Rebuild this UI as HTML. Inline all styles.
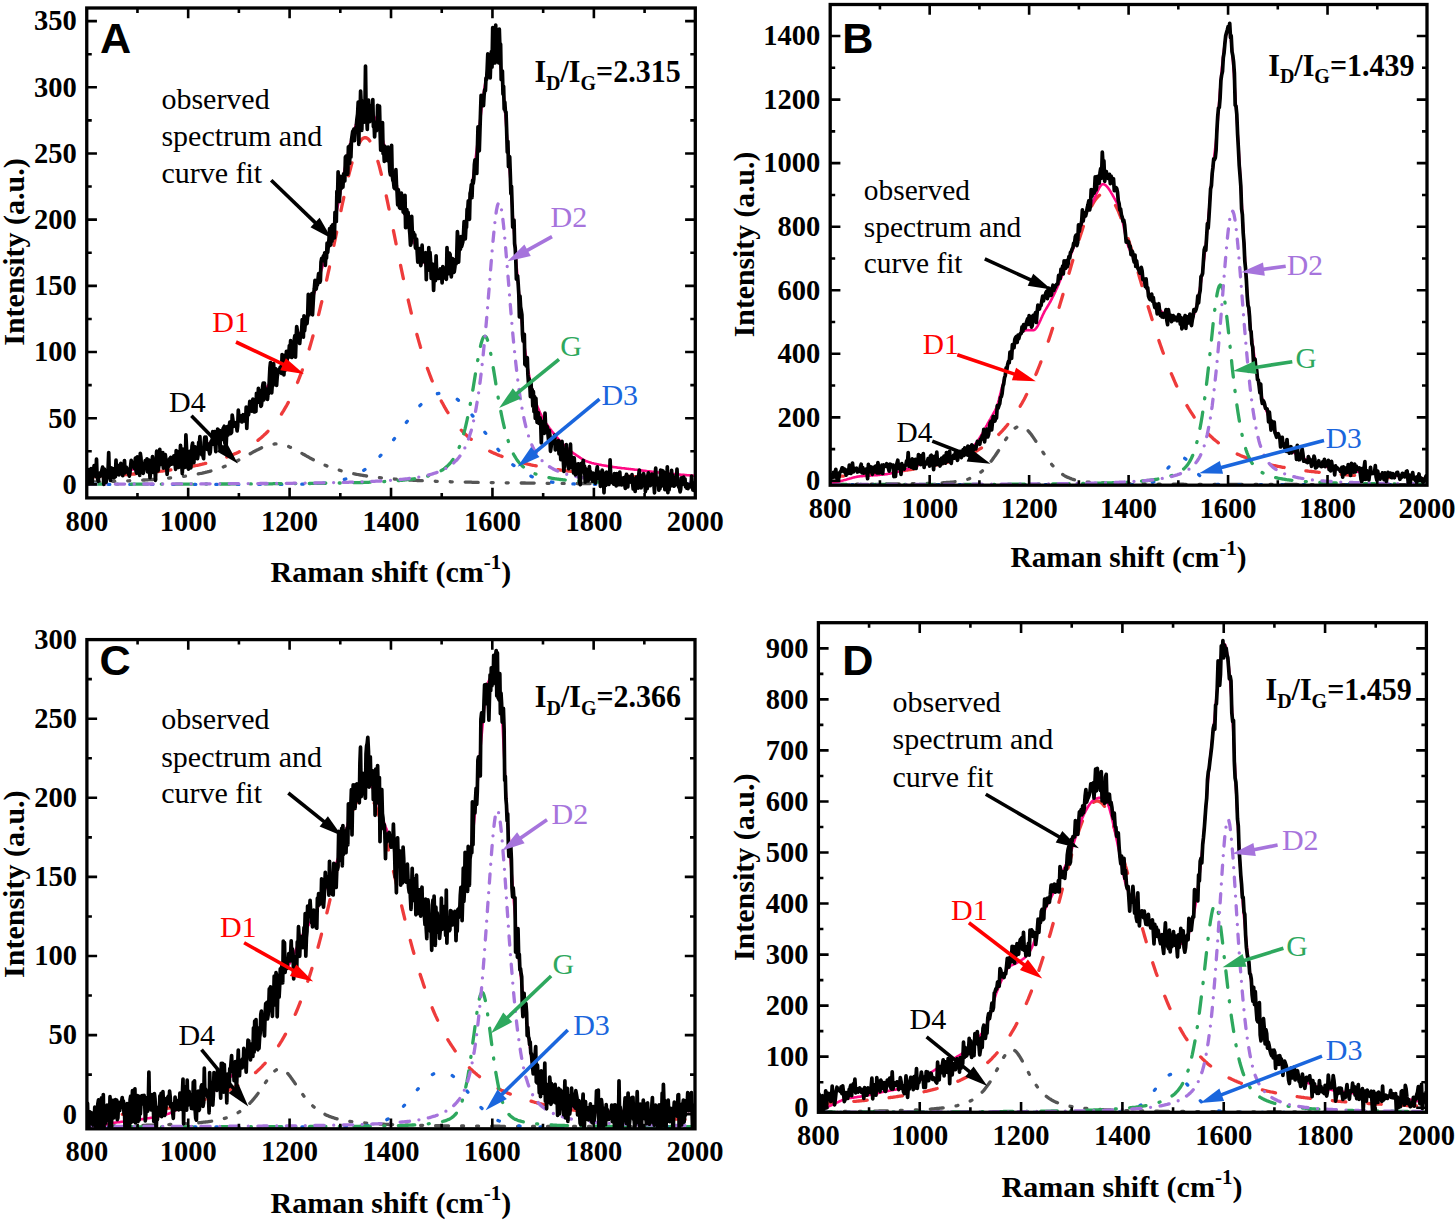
<!DOCTYPE html>
<html><head><meta charset="utf-8"><style>
html,body{margin:0;padding:0;background:#fff;}
svg{display:block;}
.tl text{font-family:"Liberation Serif",serif;font-weight:bold;font-size:28.5px;}
.ttl{font-family:"Liberation Serif",serif;font-weight:bold;font-size:30px;}
.sup{font-size:21px;}
.rat{font-family:"Liberation Serif",serif;font-weight:bold;font-size:30px;}
.sub{font-size:20px;}
.ann{font-family:"Liberation Serif",serif;font-size:30px;}
.let{font-family:"Liberation Sans",sans-serif;font-weight:bold;font-size:43.2px;}
</style></head><body>
<svg width="1456" height="1222" viewBox="0 0 1456 1222">
<rect width="1456" height="1222" fill="#fff"/>
<clipPath id="clipA"><rect x="86.75" y="8.00" width="608.55" height="489.90"/></clipPath>
<g clip-path="url(#clipA)" fill="none" stroke-linejoin="round">
<polyline points="86.8,482.1 87.8,482.1 88.8,482.1 89.8,482.1 90.8,482.0 91.8,482.0 92.8,482.0 93.8,482.0 94.9,481.9 95.9,481.9 96.9,481.9 97.9,481.9 98.9,481.8 99.9,481.8 100.9,481.8 102.0,481.8 103.0,481.7 104.0,481.7 105.0,481.7 106.0,481.6 107.0,481.6 108.0,481.6 109.1,481.5 110.1,481.5 111.1,481.5 112.1,481.4 113.1,481.4 114.1,481.4 115.1,481.3 116.2,481.3 117.2,481.3 118.2,481.2 119.2,481.2 120.2,481.1 121.2,481.1 122.2,481.1 123.3,481.0 124.3,481.0 125.3,480.9 126.3,480.9 127.3,480.9 128.3,480.8 129.3,480.8 130.4,480.7 131.4,480.7 132.4,480.6 133.4,480.6 134.4,480.5 135.4,480.5 136.4,480.4 137.5,480.4 138.5,480.3 139.5,480.3 140.5,480.2 141.5,480.2 142.5,480.1 143.5,480.0 144.6,480.0 145.6,479.9 146.6,479.9 147.6,479.8 148.6,479.7 149.6,479.7 150.6,479.6 151.7,479.5 152.7,479.5 153.7,479.4 154.7,479.3 155.7,479.2 156.7,479.2 157.7,479.1 158.8,479.0 159.8,478.9 160.8,478.8 161.8,478.7 162.8,478.7 163.8,478.6 164.8,478.5 165.9,478.4 166.9,478.3 167.9,478.2 168.9,478.1 169.9,478.0 170.9,477.9 171.9,477.8 173.0,477.7 174.0,477.6 175.0,477.5 176.0,477.3 177.0,477.2 178.0,477.1 179.0,477.0 180.1,476.8 181.1,476.7 182.1,476.6 183.1,476.4 184.1,476.3 185.1,476.2 186.1,476.0 187.2,475.9 188.2,475.7 189.2,475.5 190.2,475.4 191.2,475.2 192.2,475.0 193.2,474.9 194.3,474.7 195.3,474.5 196.3,474.3 197.3,474.1 198.3,473.9 199.3,473.7 200.3,473.5 201.4,473.3 202.4,473.1 203.4,472.8 204.4,472.6 205.4,472.4 206.4,472.1 207.4,471.9 208.5,471.6 209.5,471.4 210.5,471.1 211.5,470.8 212.5,470.5 213.5,470.2 214.5,469.9 215.6,469.6 216.6,469.3 217.6,469.0 218.6,468.6 219.6,468.3 220.6,467.9 221.6,467.6 222.7,467.2 223.7,466.8 224.7,466.4 225.7,466.1 226.7,465.6 227.7,465.2 228.7,464.8 229.8,464.4 230.8,463.9 231.8,463.5 232.8,463.0 233.8,462.5 234.8,462.0 235.8,461.6 236.9,461.0 237.9,460.5 238.9,460.0 239.9,459.5 240.9,459.0 241.9,458.4 242.9,457.9 244.0,457.3 245.0,456.7 246.0,456.2 247.0,455.6 248.0,455.0 249.0,454.4 250.0,453.9 251.1,453.3 252.1,452.7 253.1,452.1 254.1,451.6 255.1,451.0 256.1,450.5 257.1,449.9 258.2,449.4 259.2,448.9 260.2,448.4 261.2,447.9 262.2,447.4 263.2,447.0 264.2,446.5 265.3,446.1 266.3,445.8 267.3,445.4 268.3,445.1 269.3,444.8 270.3,444.6 271.3,444.4 272.4,444.2 273.4,444.1 274.4,444.0 275.4,443.9 276.4,443.9 277.4,443.9 278.4,444.0 279.5,444.1 280.5,444.2 281.5,444.4 282.5,444.6 283.5,444.8 284.5,445.1 285.5,445.4 286.6,445.8 287.6,446.1 288.6,446.5 289.6,447.0 290.6,447.4 291.6,447.9 292.6,448.4 293.7,448.9 294.7,449.4 295.7,449.9 296.7,450.5 297.7,451.0 298.7,451.6 299.7,452.1 300.8,452.7 301.8,453.3 302.8,453.9 303.8,454.4 304.8,455.0 305.8,455.6 306.8,456.2 307.9,456.7 308.9,457.3 309.9,457.9 310.9,458.4 311.9,459.0 312.9,459.5 313.9,460.0 315.0,460.5 316.0,461.0 317.0,461.6 318.0,462.0 319.0,462.5 320.0,463.0 321.0,463.5 322.1,463.9 323.1,464.4 324.1,464.8 325.1,465.2 326.1,465.6 327.1,466.1 328.1,466.4 329.2,466.8 330.2,467.2 331.2,467.6 332.2,467.9 333.2,468.3 334.2,468.6 335.2,469.0 336.3,469.3 337.3,469.6 338.3,469.9 339.3,470.2 340.3,470.5 341.3,470.8 342.3,471.1 343.4,471.4 344.4,471.6 345.4,471.9 346.4,472.1 347.4,472.4 348.4,472.6 349.4,472.8 350.5,473.1 351.5,473.3 352.5,473.5 353.5,473.7 354.5,473.9 355.5,474.1 356.5,474.3 357.6,474.5 358.6,474.7 359.6,474.9 360.6,475.0 361.6,475.2 362.6,475.4 363.6,475.5 364.7,475.7 365.7,475.9 366.7,476.0 367.7,476.2 368.7,476.3 369.7,476.4 370.7,476.6 371.8,476.7 372.8,476.8 373.8,477.0 374.8,477.1 375.8,477.2 376.8,477.3 377.8,477.5 378.9,477.6 379.9,477.7 380.9,477.8 381.9,477.9 382.9,478.0 383.9,478.1 384.9,478.2 386.0,478.3 387.0,478.4 388.0,478.5 389.0,478.6 390.0,478.7 391.0,478.7 392.0,478.8 393.1,478.9 394.1,479.0 395.1,479.1 396.1,479.2 397.1,479.2 398.1,479.3 399.1,479.4 400.2,479.5 401.2,479.5 402.2,479.6 403.2,479.7 404.2,479.7 405.2,479.8 406.2,479.9 407.3,479.9 408.3,480.0 409.3,480.0 410.3,480.1 411.3,480.2 412.3,480.2 413.3,480.3 414.4,480.3 415.4,480.4 416.4,480.4 417.4,480.5 418.4,480.5 419.4,480.6 420.4,480.6 421.5,480.7 422.5,480.7 423.5,480.8 424.5,480.8 425.5,480.9 426.5,480.9 427.5,480.9 428.6,481.0 429.6,481.0 430.6,481.1 431.6,481.1 432.6,481.1 433.6,481.2 434.6,481.2 435.7,481.3 436.7,481.3 437.7,481.3 438.7,481.4 439.7,481.4 440.7,481.4 441.7,481.5 442.8,481.5 443.8,481.5 444.8,481.6 445.8,481.6 446.8,481.6 447.8,481.7 448.8,481.7 449.9,481.7 450.9,481.8 451.9,481.8 452.9,481.8 453.9,481.8 454.9,481.9 455.9,481.9 457.0,481.9 458.0,481.9 459.0,482.0 460.0,482.0 461.0,482.0 462.0,482.0 463.0,482.1 464.1,482.1 465.1,482.1 466.1,482.1 467.1,482.2 468.1,482.2 469.1,482.2 470.1,482.2 471.2,482.2 472.2,482.3 473.2,482.3 474.2,482.3 475.2,482.3 476.2,482.3 477.2,482.4 478.3,482.4 479.3,482.4 480.3,482.4 481.3,482.4 482.3,482.5 483.3,482.5 484.3,482.5 485.4,482.5 486.4,482.5 487.4,482.6 488.4,482.6 489.4,482.6 490.4,482.6 491.4,482.6 492.4,482.6 493.5,482.6 494.5,482.7 495.5,482.7 496.5,482.7 497.5,482.7 498.5,482.7 499.5,482.7 500.6,482.8 501.6,482.8 502.6,482.8 503.6,482.8 504.6,482.8 505.6,482.8 506.6,482.8 507.7,482.8 508.7,482.9 509.7,482.9 510.7,482.9 511.7,482.9 512.7,482.9 513.7,482.9 514.8,482.9 515.8,482.9 516.8,483.0 517.8,483.0 518.8,483.0 519.8,483.0 520.8,483.0 521.9,483.0 522.9,483.0 523.9,483.0 524.9,483.0 525.9,483.1 526.9,483.1 527.9,483.1 529.0,483.1 530.0,483.1 531.0,483.1 532.0,483.1 533.0,483.1 534.0,483.1 535.0,483.2 536.1,483.2 537.1,483.2 538.1,483.2 539.1,483.2 540.1,483.2 541.1,483.2 542.1,483.2 543.2,483.2 544.2,483.2 545.2,483.2 546.2,483.2 547.2,483.3 548.2,483.3 549.2,483.3 550.3,483.3 551.3,483.3 552.3,483.3 553.3,483.3 554.3,483.3 555.3,483.3 556.3,483.3 557.4,483.3 558.4,483.3 559.4,483.4 560.4,483.4 561.4,483.4 562.4,483.4 563.4,483.4 564.5,483.4 565.5,483.4 566.5,483.4 567.5,483.4 568.5,483.4 569.5,483.4 570.5,483.4 571.6,483.4 572.6,483.4 573.6,483.4 574.6,483.5 575.6,483.5 576.6,483.5 577.6,483.5 578.7,483.5 579.7,483.5 580.7,483.5 581.7,483.5 582.7,483.5 583.7,483.5 584.7,483.5 585.8,483.5 586.8,483.5 587.8,483.5 588.8,483.5 589.8,483.5 590.8,483.5 591.8,483.6 592.9,483.6 593.9,483.6 594.9,483.6 595.9,483.6 596.9,483.6 597.9,483.6 598.9,483.6 600.0,483.6 601.0,483.6 602.0,483.6 603.0,483.6 604.0,483.6 605.0,483.6 606.0,483.6 607.1,483.6 608.1,483.6 609.1,483.6 610.1,483.6 611.1,483.6 612.1,483.6 613.1,483.7 614.2,483.7 615.2,483.7 616.2,483.7 617.2,483.7 618.2,483.7 619.2,483.7 620.2,483.7 621.3,483.7 622.3,483.7 623.3,483.7 624.3,483.7 625.3,483.7 626.3,483.7 627.3,483.7 628.4,483.7 629.4,483.7 630.4,483.7 631.4,483.7 632.4,483.7 633.4,483.7 634.4,483.7 635.5,483.7 636.5,483.7 637.5,483.7 638.5,483.8 639.5,483.8 640.5,483.8 641.5,483.8 642.6,483.8 643.6,483.8 644.6,483.8 645.6,483.8 646.6,483.8 647.6,483.8 648.6,483.8 649.7,483.8 650.7,483.8 651.7,483.8 652.7,483.8 653.7,483.8 654.7,483.8 655.7,483.8 656.8,483.8 657.8,483.8 658.8,483.8 659.8,483.8 660.8,483.8 661.8,483.8 662.8,483.8 663.9,483.8 664.9,483.8 665.9,483.8 666.9,483.8 667.9,483.8 668.9,483.8 669.9,483.9 671.0,483.9 672.0,483.9 673.0,483.9 674.0,483.9 675.0,483.9 676.0,483.9 677.0,483.9 678.1,483.9 679.1,483.9 680.1,483.9 681.1,483.9 682.1,483.9 683.1,483.9 684.1,483.9 685.2,483.9 686.2,483.9 687.2,483.9 688.2,483.9 689.2,483.9 690.2,483.9 691.2,483.9 692.3,483.9 693.3,483.9 694.3,483.9 695.3,483.9" stroke="#555555" stroke-width="3.3" stroke-dasharray="13 13 2 13 2 13" stroke-linecap="round"/>
<polyline points="86.8,484.4 87.8,484.4 88.8,484.4 89.8,484.4 90.8,484.4 91.8,484.4 92.8,484.4 93.8,484.4 94.9,484.4 95.9,484.4 96.9,484.4 97.9,484.4 98.9,484.4 99.9,484.4 100.9,484.4 102.0,484.4 103.0,484.4 104.0,484.4 105.0,484.4 106.0,484.4 107.0,484.4 108.0,484.4 109.1,484.4 110.1,484.4 111.1,484.4 112.1,484.4 113.1,484.4 114.1,484.4 115.1,484.4 116.2,484.4 117.2,484.4 118.2,484.4 119.2,484.4 120.2,484.4 121.2,484.4 122.2,484.4 123.3,484.4 124.3,484.4 125.3,484.4 126.3,484.4 127.3,484.4 128.3,484.4 129.3,484.4 130.4,484.4 131.4,484.4 132.4,484.4 133.4,484.4 134.4,484.4 135.4,484.4 136.4,484.4 137.5,484.4 138.5,484.4 139.5,484.4 140.5,484.4 141.5,484.4 142.5,484.4 143.5,484.4 144.6,484.4 145.6,484.4 146.6,484.4 147.6,484.4 148.6,484.4 149.6,484.4 150.6,484.4 151.7,484.4 152.7,484.4 153.7,484.4 154.7,484.4 155.7,484.4 156.7,484.4 157.7,484.4 158.8,484.4 159.8,484.4 160.8,484.4 161.8,484.4 162.8,484.4 163.8,484.4 164.8,484.4 165.9,484.4 166.9,484.4 167.9,484.4 168.9,484.4 169.9,484.4 170.9,484.4 171.9,484.4 173.0,484.4 174.0,484.4 175.0,484.4 176.0,484.4 177.0,484.4 178.0,484.4 179.0,484.4 180.1,484.4 181.1,484.4 182.1,484.4 183.1,484.4 184.1,484.4 185.1,484.4 186.1,484.4 187.2,484.4 188.2,484.4 189.2,484.4 190.2,484.4 191.2,484.4 192.2,484.4 193.2,484.4 194.3,484.4 195.3,484.4 196.3,484.4 197.3,484.4 198.3,484.4 199.3,484.4 200.3,484.4 201.4,484.4 202.4,484.4 203.4,484.4 204.4,484.4 205.4,484.4 206.4,484.4 207.4,484.4 208.5,484.4 209.5,484.4 210.5,484.4 211.5,484.4 212.5,484.4 213.5,484.4 214.5,484.4 215.6,484.4 216.6,484.4 217.6,484.4 218.6,484.4 219.6,484.4 220.6,484.4 221.6,484.4 222.7,484.4 223.7,484.4 224.7,484.4 225.7,484.4 226.7,484.4 227.7,484.4 228.7,484.4 229.8,484.4 230.8,484.4 231.8,484.4 232.8,484.4 233.8,484.4 234.8,484.4 235.8,484.4 236.9,484.4 237.9,484.4 238.9,484.4 239.9,484.4 240.9,484.4 241.9,484.4 242.9,484.4 244.0,484.4 245.0,484.4 246.0,484.4 247.0,484.4 248.0,484.4 249.0,484.4 250.0,484.4 251.1,484.4 252.1,484.4 253.1,484.4 254.1,484.4 255.1,484.4 256.1,484.4 257.1,484.4 258.2,484.4 259.2,484.4 260.2,484.4 261.2,484.4 262.2,484.4 263.2,484.4 264.2,484.4 265.3,484.4 266.3,484.4 267.3,484.4 268.3,484.4 269.3,484.4 270.3,484.4 271.3,484.4 272.4,484.4 273.4,484.4 274.4,484.4 275.4,484.4 276.4,484.4 277.4,484.4 278.4,484.4 279.5,484.4 280.5,484.4 281.5,484.4 282.5,484.4 283.5,484.4 284.5,484.4 285.5,484.3 286.6,484.3 287.6,484.3 288.6,484.3 289.6,484.3 290.6,484.3 291.6,484.3 292.6,484.3 293.7,484.3 294.7,484.3 295.7,484.3 296.7,484.3 297.7,484.2 298.7,484.2 299.7,484.2 300.8,484.2 301.8,484.2 302.8,484.2 303.8,484.1 304.8,484.1 305.8,484.1 306.8,484.1 307.9,484.0 308.9,484.0 309.9,484.0 310.9,483.9 311.9,483.9 312.9,483.8 313.9,483.8 315.0,483.7 316.0,483.7 317.0,483.6 318.0,483.6 319.0,483.5 320.0,483.4 321.0,483.3 322.1,483.3 323.1,483.2 324.1,483.1 325.1,483.0 326.1,482.9 327.1,482.8 328.1,482.6 329.2,482.5 330.2,482.4 331.2,482.2 332.2,482.1 333.2,481.9 334.2,481.8 335.2,481.6 336.3,481.4 337.3,481.2 338.3,481.0 339.3,480.7 340.3,480.5 341.3,480.2 342.3,480.0 343.4,479.7 344.4,479.4 345.4,479.1 346.4,478.8 347.4,478.4 348.4,478.1 349.4,477.7 350.5,477.3 351.5,476.9 352.5,476.5 353.5,476.0 354.5,475.6 355.5,475.1 356.5,474.6 357.6,474.0 358.6,473.5 359.6,472.9 360.6,472.3 361.6,471.7 362.6,471.0 363.6,470.4 364.7,469.7 365.7,468.9 366.7,468.2 367.7,467.4 368.7,466.6 369.7,465.8 370.7,465.0 371.8,464.1 372.8,463.2 373.8,462.3 374.8,461.4 375.8,460.4 376.8,459.4 377.8,458.4 378.9,457.3 379.9,456.3 380.9,455.2 381.9,454.0 382.9,452.9 383.9,451.7 384.9,450.6 386.0,449.4 387.0,448.1 388.0,446.9 389.0,445.6 390.0,444.3 391.0,443.0 392.0,441.7 393.1,440.4 394.1,439.1 395.1,437.7 396.1,436.4 397.1,435.0 398.1,433.6 399.1,432.2 400.2,430.9 401.2,429.5 402.2,428.1 403.2,426.7 404.2,425.3 405.2,423.9 406.2,422.6 407.3,421.2 408.3,419.8 409.3,418.5 410.3,417.2 411.3,415.9 412.3,414.6 413.3,413.3 414.4,412.0 415.4,410.8 416.4,409.6 417.4,408.5 418.4,407.3 419.4,406.2 420.4,405.1 421.5,404.1 422.5,403.1 423.5,402.1 424.5,401.2 425.5,400.3 426.5,399.5 427.5,398.7 428.6,398.0 429.6,397.3 430.6,396.6 431.6,396.0 432.6,395.5 433.6,395.0 434.6,394.6 435.7,394.2 436.7,393.9 437.7,393.6 438.7,393.4 439.7,393.2 440.7,393.1 441.7,393.1 442.8,393.1 443.8,393.2 444.8,393.3 445.8,393.5 446.8,393.7 447.8,394.0 448.8,394.4 449.9,394.8 450.9,395.2 451.9,395.7 452.9,396.3 453.9,396.9 454.9,397.6 455.9,398.3 457.0,399.1 458.0,399.9 459.0,400.8 460.0,401.7 461.0,402.6 462.0,403.6 463.0,404.6 464.1,405.7 465.1,406.8 466.1,407.9 467.1,409.0 468.1,410.2 469.1,411.4 470.1,412.7 471.2,413.9 472.2,415.2 473.2,416.5 474.2,417.8 475.2,419.2 476.2,420.5 477.2,421.9 478.3,423.2 479.3,424.6 480.3,426.0 481.3,427.4 482.3,428.8 483.3,430.2 484.3,431.5 485.4,432.9 486.4,434.3 487.4,435.7 488.4,437.0 489.4,438.4 490.4,439.7 491.4,441.1 492.4,442.4 493.5,443.7 494.5,445.0 495.5,446.3 496.5,447.5 497.5,448.7 498.5,450.0 499.5,451.2 500.6,452.3 501.6,453.5 502.6,454.6 503.6,455.7 504.6,456.8 505.6,457.9 506.6,458.9 507.7,459.9 508.7,460.9 509.7,461.8 510.7,462.8 511.7,463.7 512.7,464.6 513.7,465.4 514.8,466.2 515.8,467.0 516.8,467.8 517.8,468.6 518.8,469.3 519.8,470.0 520.8,470.7 521.9,471.4 522.9,472.0 523.9,472.6 524.9,473.2 525.9,473.7 526.9,474.3 527.9,474.8 529.0,475.3 530.0,475.8 531.0,476.2 532.0,476.7 533.0,477.1 534.0,477.5 535.0,477.9 536.1,478.3 537.1,478.6 538.1,478.9 539.1,479.3 540.1,479.6 541.1,479.8 542.1,480.1 543.2,480.4 544.2,480.6 545.2,480.9 546.2,481.1 547.2,481.3 548.2,481.5 549.2,481.7 550.3,481.8 551.3,482.0 552.3,482.2 553.3,482.3 554.3,482.5 555.3,482.6 556.3,482.7 557.4,482.8 558.4,482.9 559.4,483.0 560.4,483.1 561.4,483.2 562.4,483.3 563.4,483.4 564.5,483.5 565.5,483.5 566.5,483.6 567.5,483.7 568.5,483.7 569.5,483.8 570.5,483.8 571.6,483.9 572.6,483.9 573.6,483.9 574.6,484.0 575.6,484.0 576.6,484.0 577.6,484.1 578.7,484.1 579.7,484.1 580.7,484.1 581.7,484.2 582.7,484.2 583.7,484.2 584.7,484.2 585.8,484.2 586.8,484.2 587.8,484.3 588.8,484.3 589.8,484.3 590.8,484.3 591.8,484.3 592.9,484.3 593.9,484.3 594.9,484.3 595.9,484.3 596.9,484.3 597.9,484.3 598.9,484.4 600.0,484.4 601.0,484.4 602.0,484.4 603.0,484.4 604.0,484.4 605.0,484.4 606.0,484.4 607.1,484.4 608.1,484.4 609.1,484.4 610.1,484.4 611.1,484.4 612.1,484.4 613.1,484.4 614.2,484.4 615.2,484.4 616.2,484.4 617.2,484.4 618.2,484.4 619.2,484.4 620.2,484.4 621.3,484.4 622.3,484.4 623.3,484.4 624.3,484.4 625.3,484.4 626.3,484.4 627.3,484.4 628.4,484.4 629.4,484.4 630.4,484.4 631.4,484.4 632.4,484.4 633.4,484.4 634.4,484.4 635.5,484.4 636.5,484.4 637.5,484.4 638.5,484.4 639.5,484.4 640.5,484.4 641.5,484.4 642.6,484.4 643.6,484.4 644.6,484.4 645.6,484.4 646.6,484.4 647.6,484.4 648.6,484.4 649.7,484.4 650.7,484.4 651.7,484.4 652.7,484.4 653.7,484.4 654.7,484.4 655.7,484.4 656.8,484.4 657.8,484.4 658.8,484.4 659.8,484.4 660.8,484.4 661.8,484.4 662.8,484.4 663.9,484.4 664.9,484.4 665.9,484.4 666.9,484.4 667.9,484.4 668.9,484.4 669.9,484.4 671.0,484.4 672.0,484.4 673.0,484.4 674.0,484.4 675.0,484.4 676.0,484.4 677.0,484.4 678.1,484.4 679.1,484.4 680.1,484.4 681.1,484.4 682.1,484.4 683.1,484.4 684.1,484.4 685.2,484.4 686.2,484.4 687.2,484.4 688.2,484.4 689.2,484.4 690.2,484.4 691.2,484.4 692.3,484.4 693.3,484.4 694.3,484.4 695.3,484.4" stroke="#1A66DD" stroke-width="3.3" stroke-dasharray="1.5 20" stroke-linecap="round"/>
<polyline points="86.8,477.1 87.8,477.1 88.8,477.0 89.8,477.0 90.8,476.9 91.8,476.9 92.8,476.8 93.8,476.8 94.9,476.7 95.9,476.7 96.9,476.6 97.9,476.5 98.9,476.5 99.9,476.4 100.9,476.4 102.0,476.3 103.0,476.2 104.0,476.2 105.0,476.1 106.0,476.1 107.0,476.0 108.0,475.9 109.1,475.9 110.1,475.8 111.1,475.7 112.1,475.7 113.1,475.6 114.1,475.5 115.1,475.5 116.2,475.4 117.2,475.3 118.2,475.2 119.2,475.2 120.2,475.1 121.2,475.0 122.2,474.9 123.3,474.9 124.3,474.8 125.3,474.7 126.3,474.6 127.3,474.5 128.3,474.5 129.3,474.4 130.4,474.3 131.4,474.2 132.4,474.1 133.4,474.0 134.4,474.0 135.4,473.9 136.4,473.8 137.5,473.7 138.5,473.6 139.5,473.5 140.5,473.4 141.5,473.3 142.5,473.2 143.5,473.1 144.6,473.0 145.6,472.9 146.6,472.8 147.6,472.7 148.6,472.6 149.6,472.5 150.6,472.4 151.7,472.3 152.7,472.2 153.7,472.1 154.7,471.9 155.7,471.8 156.7,471.7 157.7,471.6 158.8,471.5 159.8,471.3 160.8,471.2 161.8,471.1 162.8,471.0 163.8,470.8 164.8,470.7 165.9,470.6 166.9,470.4 167.9,470.3 168.9,470.2 169.9,470.0 170.9,469.9 171.9,469.7 173.0,469.6 174.0,469.4 175.0,469.3 176.0,469.1 177.0,469.0 178.0,468.8 179.0,468.7 180.1,468.5 181.1,468.3 182.1,468.2 183.1,468.0 184.1,467.8 185.1,467.6 186.1,467.5 187.2,467.3 188.2,467.1 189.2,466.9 190.2,466.7 191.2,466.5 192.2,466.3 193.2,466.1 194.3,465.9 195.3,465.7 196.3,465.5 197.3,465.3 198.3,465.1 199.3,464.9 200.3,464.6 201.4,464.4 202.4,464.2 203.4,463.9 204.4,463.7 205.4,463.4 206.4,463.2 207.4,462.9 208.5,462.7 209.5,462.4 210.5,462.2 211.5,461.9 212.5,461.6 213.5,461.3 214.5,461.0 215.6,460.7 216.6,460.4 217.6,460.1 218.6,459.8 219.6,459.5 220.6,459.2 221.6,458.8 222.7,458.5 223.7,458.2 224.7,457.8 225.7,457.5 226.7,457.1 227.7,456.7 228.7,456.3 229.8,455.9 230.8,455.5 231.8,455.1 232.8,454.7 233.8,454.3 234.8,453.8 235.8,453.4 236.9,452.9 237.9,452.5 238.9,452.0 239.9,451.5 240.9,451.0 241.9,450.5 242.9,450.0 244.0,449.4 245.0,448.9 246.0,448.3 247.0,447.7 248.0,447.1 249.0,446.5 250.0,445.9 251.1,445.2 252.1,444.6 253.1,443.9 254.1,443.2 255.1,442.4 256.1,441.7 257.1,440.9 258.2,440.2 259.2,439.3 260.2,438.5 261.2,437.7 262.2,436.8 263.2,435.9 264.2,434.9 265.3,434.0 266.3,433.0 267.3,432.0 268.3,430.9 269.3,429.9 270.3,428.7 271.3,427.6 272.4,426.4 273.4,425.2 274.4,423.9 275.4,422.7 276.4,421.3 277.4,419.9 278.4,418.5 279.5,417.1 280.5,415.6 281.5,414.0 282.5,412.4 283.5,410.8 284.5,409.1 285.5,407.4 286.6,405.6 287.6,403.7 288.6,401.8 289.6,399.9 290.6,397.8 291.6,395.8 292.6,393.6 293.7,391.4 294.7,389.2 295.7,386.8 296.7,384.4 297.7,382.0 298.7,379.5 299.7,376.9 300.8,374.2 301.8,371.5 302.8,368.6 303.8,365.8 304.8,362.8 305.8,359.8 306.8,356.6 307.9,353.5 308.9,350.2 309.9,346.8 310.9,343.4 311.9,339.9 312.9,336.3 313.9,332.6 315.0,328.9 316.0,325.0 317.0,321.1 318.0,317.1 319.0,313.1 320.0,308.9 321.0,304.7 322.1,300.4 323.1,296.0 324.1,291.6 325.1,287.0 326.1,282.4 327.1,277.8 328.1,273.1 329.2,268.3 330.2,263.5 331.2,258.6 332.2,253.7 333.2,248.8 334.2,243.8 335.2,238.9 336.3,233.9 337.3,228.9 338.3,223.9 339.3,218.9 340.3,213.9 341.3,209.0 342.3,204.1 343.4,199.3 344.4,194.6 345.4,189.9 346.4,185.4 347.4,180.9 348.4,176.6 349.4,172.5 350.5,168.5 351.5,164.7 352.5,161.1 353.5,157.7 354.5,154.5 355.5,151.5 356.5,148.8 357.6,146.4 358.6,144.3 359.6,142.4 360.6,140.8 361.6,139.5 362.6,138.6 363.6,138.0 364.7,137.6 365.7,137.6 366.7,138.0 367.7,138.6 368.7,139.5 369.7,140.8 370.7,142.4 371.8,144.3 372.8,146.4 373.8,148.8 374.8,151.5 375.8,154.5 376.8,157.7 377.8,161.1 378.9,164.7 379.9,168.5 380.9,172.5 381.9,176.6 382.9,180.9 383.9,185.4 384.9,189.9 386.0,194.6 387.0,199.3 388.0,204.1 389.0,209.0 390.0,213.9 391.0,218.9 392.0,223.9 393.1,228.9 394.1,233.9 395.1,238.9 396.1,243.8 397.1,248.8 398.1,253.7 399.1,258.6 400.2,263.5 401.2,268.3 402.2,273.1 403.2,277.8 404.2,282.4 405.2,287.0 406.2,291.6 407.3,296.0 408.3,300.4 409.3,304.7 410.3,308.9 411.3,313.1 412.3,317.1 413.3,321.1 414.4,325.0 415.4,328.9 416.4,332.6 417.4,336.3 418.4,339.9 419.4,343.4 420.4,346.8 421.5,350.2 422.5,353.5 423.5,356.6 424.5,359.8 425.5,362.8 426.5,365.8 427.5,368.6 428.6,371.5 429.6,374.2 430.6,376.9 431.6,379.5 432.6,382.0 433.6,384.4 434.6,386.8 435.7,389.2 436.7,391.4 437.7,393.6 438.7,395.8 439.7,397.8 440.7,399.9 441.7,401.8 442.8,403.7 443.8,405.6 444.8,407.4 445.8,409.1 446.8,410.8 447.8,412.4 448.8,414.0 449.9,415.6 450.9,417.1 451.9,418.5 452.9,419.9 453.9,421.3 454.9,422.7 455.9,423.9 457.0,425.2 458.0,426.4 459.0,427.6 460.0,428.7 461.0,429.9 462.0,430.9 463.0,432.0 464.1,433.0 465.1,434.0 466.1,434.9 467.1,435.9 468.1,436.8 469.1,437.7 470.1,438.5 471.2,439.3 472.2,440.2 473.2,440.9 474.2,441.7 475.2,442.4 476.2,443.2 477.2,443.9 478.3,444.6 479.3,445.2 480.3,445.9 481.3,446.5 482.3,447.1 483.3,447.7 484.3,448.3 485.4,448.9 486.4,449.4 487.4,450.0 488.4,450.5 489.4,451.0 490.4,451.5 491.4,452.0 492.4,452.5 493.5,452.9 494.5,453.4 495.5,453.8 496.5,454.3 497.5,454.7 498.5,455.1 499.5,455.5 500.6,455.9 501.6,456.3 502.6,456.7 503.6,457.1 504.6,457.5 505.6,457.8 506.6,458.2 507.7,458.5 508.7,458.8 509.7,459.2 510.7,459.5 511.7,459.8 512.7,460.1 513.7,460.4 514.8,460.7 515.8,461.0 516.8,461.3 517.8,461.6 518.8,461.9 519.8,462.2 520.8,462.4 521.9,462.7 522.9,462.9 523.9,463.2 524.9,463.4 525.9,463.7 526.9,463.9 527.9,464.2 529.0,464.4 530.0,464.6 531.0,464.9 532.0,465.1 533.0,465.3 534.0,465.5 535.0,465.7 536.1,465.9 537.1,466.1 538.1,466.3 539.1,466.5 540.1,466.7 541.1,466.9 542.1,467.1 543.2,467.3 544.2,467.5 545.2,467.6 546.2,467.8 547.2,468.0 548.2,468.2 549.2,468.3 550.3,468.5 551.3,468.7 552.3,468.8 553.3,469.0 554.3,469.1 555.3,469.3 556.3,469.4 557.4,469.6 558.4,469.7 559.4,469.9 560.4,470.0 561.4,470.2 562.4,470.3 563.4,470.4 564.5,470.6 565.5,470.7 566.5,470.8 567.5,471.0 568.5,471.1 569.5,471.2 570.5,471.3 571.6,471.5 572.6,471.6 573.6,471.7 574.6,471.8 575.6,471.9 576.6,472.1 577.6,472.2 578.7,472.3 579.7,472.4 580.7,472.5 581.7,472.6 582.7,472.7 583.7,472.8 584.7,472.9 585.8,473.0 586.8,473.1 587.8,473.2 588.8,473.3 589.8,473.4 590.8,473.5 591.8,473.6 592.9,473.7 593.9,473.8 594.9,473.9 595.9,474.0 596.9,474.0 597.9,474.1 598.9,474.2 600.0,474.3 601.0,474.4 602.0,474.5 603.0,474.5 604.0,474.6 605.0,474.7 606.0,474.8 607.1,474.9 608.1,474.9 609.1,475.0 610.1,475.1 611.1,475.2 612.1,475.2 613.1,475.3 614.2,475.4 615.2,475.5 616.2,475.5 617.2,475.6 618.2,475.7 619.2,475.7 620.2,475.8 621.3,475.9 622.3,475.9 623.3,476.0 624.3,476.1 625.3,476.1 626.3,476.2 627.3,476.2 628.4,476.3 629.4,476.4 630.4,476.4 631.4,476.5 632.4,476.5 633.4,476.6 634.4,476.7 635.5,476.7 636.5,476.8 637.5,476.8 638.5,476.9 639.5,476.9 640.5,477.0 641.5,477.0 642.6,477.1 643.6,477.1 644.6,477.2 645.6,477.2 646.6,477.3 647.6,477.3 648.6,477.4 649.7,477.4 650.7,477.5 651.7,477.5 652.7,477.6 653.7,477.6 654.7,477.7 655.7,477.7 656.8,477.8 657.8,477.8 658.8,477.9 659.8,477.9 660.8,477.9 661.8,478.0 662.8,478.0 663.9,478.1 664.9,478.1 665.9,478.2 666.9,478.2 667.9,478.2 668.9,478.3 669.9,478.3 671.0,478.4 672.0,478.4 673.0,478.4 674.0,478.5 675.0,478.5 676.0,478.5 677.0,478.6 678.1,478.6 679.1,478.7 680.1,478.7 681.1,478.7 682.1,478.8 683.1,478.8 684.1,478.8 685.2,478.9 686.2,478.9 687.2,478.9 688.2,479.0 689.2,479.0 690.2,479.0 691.2,479.1 692.3,479.1 693.3,479.1 694.3,479.2 695.3,479.2" stroke="#EE3B3B" stroke-width="3.3" stroke-dasharray="13.5 22" stroke-linecap="round"/>
<polyline points="86.8,484.2 87.8,484.2 88.8,484.2 89.8,484.2 90.8,484.2 91.8,484.2 92.8,484.2 93.8,484.2 94.9,484.2 95.9,484.2 96.9,484.2 97.9,484.2 98.9,484.2 99.9,484.2 100.9,484.2 102.0,484.2 103.0,484.2 104.0,484.2 105.0,484.2 106.0,484.2 107.0,484.2 108.0,484.2 109.1,484.2 110.1,484.2 111.1,484.2 112.1,484.2 113.1,484.2 114.1,484.2 115.1,484.2 116.2,484.2 117.2,484.2 118.2,484.2 119.2,484.2 120.2,484.2 121.2,484.2 122.2,484.2 123.3,484.2 124.3,484.2 125.3,484.2 126.3,484.2 127.3,484.2 128.3,484.2 129.3,484.2 130.4,484.2 131.4,484.2 132.4,484.2 133.4,484.2 134.4,484.2 135.4,484.2 136.4,484.2 137.5,484.2 138.5,484.2 139.5,484.2 140.5,484.2 141.5,484.2 142.5,484.2 143.5,484.1 144.6,484.1 145.6,484.1 146.6,484.1 147.6,484.1 148.6,484.1 149.6,484.1 150.6,484.1 151.7,484.1 152.7,484.1 153.7,484.1 154.7,484.1 155.7,484.1 156.7,484.1 157.7,484.1 158.8,484.1 159.8,484.1 160.8,484.1 161.8,484.1 162.8,484.1 163.8,484.1 164.8,484.1 165.9,484.1 166.9,484.1 167.9,484.1 168.9,484.1 169.9,484.1 170.9,484.1 171.9,484.1 173.0,484.1 174.0,484.1 175.0,484.1 176.0,484.1 177.0,484.1 178.0,484.1 179.0,484.1 180.1,484.1 181.1,484.1 182.1,484.1 183.1,484.1 184.1,484.1 185.1,484.1 186.1,484.1 187.2,484.1 188.2,484.1 189.2,484.1 190.2,484.1 191.2,484.1 192.2,484.1 193.2,484.1 194.3,484.1 195.3,484.1 196.3,484.0 197.3,484.0 198.3,484.0 199.3,484.0 200.3,484.0 201.4,484.0 202.4,484.0 203.4,484.0 204.4,484.0 205.4,484.0 206.4,484.0 207.4,484.0 208.5,484.0 209.5,484.0 210.5,484.0 211.5,484.0 212.5,484.0 213.5,484.0 214.5,484.0 215.6,484.0 216.6,484.0 217.6,484.0 218.6,484.0 219.6,484.0 220.6,484.0 221.6,484.0 222.7,484.0 223.7,484.0 224.7,484.0 225.7,484.0 226.7,484.0 227.7,484.0 228.7,484.0 229.8,484.0 230.8,483.9 231.8,483.9 232.8,483.9 233.8,483.9 234.8,483.9 235.8,483.9 236.9,483.9 237.9,483.9 238.9,483.9 239.9,483.9 240.9,483.9 241.9,483.9 242.9,483.9 244.0,483.9 245.0,483.9 246.0,483.9 247.0,483.9 248.0,483.9 249.0,483.9 250.0,483.9 251.1,483.9 252.1,483.9 253.1,483.9 254.1,483.9 255.1,483.8 256.1,483.8 257.1,483.8 258.2,483.8 259.2,483.8 260.2,483.8 261.2,483.8 262.2,483.8 263.2,483.8 264.2,483.8 265.3,483.8 266.3,483.8 267.3,483.8 268.3,483.8 269.3,483.8 270.3,483.8 271.3,483.8 272.4,483.8 273.4,483.7 274.4,483.7 275.4,483.7 276.4,483.7 277.4,483.7 278.4,483.7 279.5,483.7 280.5,483.7 281.5,483.7 282.5,483.7 283.5,483.7 284.5,483.7 285.5,483.7 286.6,483.7 287.6,483.7 288.6,483.6 289.6,483.6 290.6,483.6 291.6,483.6 292.6,483.6 293.7,483.6 294.7,483.6 295.7,483.6 296.7,483.6 297.7,483.6 298.7,483.6 299.7,483.6 300.8,483.5 301.8,483.5 302.8,483.5 303.8,483.5 304.8,483.5 305.8,483.5 306.8,483.5 307.9,483.5 308.9,483.5 309.9,483.5 310.9,483.4 311.9,483.4 312.9,483.4 313.9,483.4 315.0,483.4 316.0,483.4 317.0,483.4 318.0,483.4 319.0,483.3 320.0,483.3 321.0,483.3 322.1,483.3 323.1,483.3 324.1,483.3 325.1,483.3 326.1,483.2 327.1,483.2 328.1,483.2 329.2,483.2 330.2,483.2 331.2,483.2 332.2,483.2 333.2,483.1 334.2,483.1 335.2,483.1 336.3,483.1 337.3,483.1 338.3,483.1 339.3,483.0 340.3,483.0 341.3,483.0 342.3,483.0 343.4,483.0 344.4,482.9 345.4,482.9 346.4,482.9 347.4,482.9 348.4,482.8 349.4,482.8 350.5,482.8 351.5,482.8 352.5,482.8 353.5,482.7 354.5,482.7 355.5,482.7 356.5,482.6 357.6,482.6 358.6,482.6 359.6,482.6 360.6,482.5 361.6,482.5 362.6,482.5 363.6,482.4 364.7,482.4 365.7,482.4 366.7,482.3 367.7,482.3 368.7,482.3 369.7,482.2 370.7,482.2 371.8,482.2 372.8,482.1 373.8,482.1 374.8,482.0 375.8,482.0 376.8,481.9 377.8,481.9 378.9,481.8 379.9,481.8 380.9,481.7 381.9,481.7 382.9,481.6 383.9,481.6 384.9,481.5 386.0,481.5 387.0,481.4 388.0,481.4 389.0,481.3 390.0,481.2 391.0,481.2 392.0,481.1 393.1,481.0 394.1,480.9 395.1,480.9 396.1,480.8 397.1,480.7 398.1,480.6 399.1,480.5 400.2,480.4 401.2,480.4 402.2,480.3 403.2,480.2 404.2,480.1 405.2,479.9 406.2,479.8 407.3,479.7 408.3,479.6 409.3,479.5 410.3,479.4 411.3,479.2 412.3,479.1 413.3,478.9 414.4,478.8 415.4,478.6 416.4,478.5 417.4,478.3 418.4,478.1 419.4,477.9 420.4,477.7 421.5,477.5 422.5,477.3 423.5,477.1 424.5,476.9 425.5,476.6 426.5,476.4 427.5,476.1 428.6,475.8 429.6,475.5 430.6,475.2 431.6,474.9 432.6,474.5 433.6,474.2 434.6,473.8 435.7,473.4 436.7,472.9 437.7,472.5 438.7,472.0 439.7,471.5 440.7,470.9 441.7,470.3 442.8,469.7 443.8,469.0 444.8,468.2 445.8,467.4 446.8,466.6 447.8,465.6 448.8,464.6 449.9,463.5 450.9,462.3 451.9,461.0 452.9,459.6 453.9,458.0 454.9,456.3 455.9,454.5 457.0,452.5 458.0,450.3 459.0,447.9 460.0,445.3 461.0,442.4 462.0,439.3 463.0,436.0 464.1,432.4 465.1,428.6 466.1,424.4 467.1,420.0 468.1,415.3 469.1,410.3 470.1,405.0 471.2,399.4 472.2,393.6 473.2,387.7 474.2,381.5 475.2,375.3 476.2,369.1 477.2,363.1 478.3,357.3 479.3,351.9 480.3,347.0 481.3,342.9 482.3,339.7 483.3,337.4 484.3,336.3 485.4,336.3 486.4,337.4 487.4,339.7 488.4,342.9 489.4,347.0 490.4,351.9 491.4,357.3 492.4,363.1 493.5,369.1 494.5,375.3 495.5,381.5 496.5,387.7 497.5,393.6 498.5,399.4 499.5,405.0 500.6,410.3 501.6,415.3 502.6,420.0 503.6,424.4 504.6,428.6 505.6,432.4 506.6,436.0 507.7,439.3 508.7,442.4 509.7,445.3 510.7,447.9 511.7,450.3 512.7,452.5 513.7,454.5 514.8,456.3 515.8,458.0 516.8,459.6 517.8,461.0 518.8,462.3 519.8,463.5 520.8,464.6 521.9,465.6 522.9,466.6 523.9,467.4 524.9,468.2 525.9,469.0 526.9,469.7 527.9,470.3 529.0,470.9 530.0,471.5 531.0,472.0 532.0,472.5 533.0,472.9 534.0,473.4 535.0,473.8 536.1,474.2 537.1,474.5 538.1,474.9 539.1,475.2 540.1,475.5 541.1,475.8 542.1,476.1 543.2,476.4 544.2,476.6 545.2,476.9 546.2,477.1 547.2,477.3 548.2,477.5 549.2,477.7 550.3,477.9 551.3,478.1 552.3,478.3 553.3,478.5 554.3,478.6 555.3,478.8 556.3,478.9 557.4,479.1 558.4,479.2 559.4,479.4 560.4,479.5 561.4,479.6 562.4,479.7 563.4,479.8 564.5,479.9 565.5,480.1 566.5,480.2 567.5,480.3 568.5,480.4 569.5,480.4 570.5,480.5 571.6,480.6 572.6,480.7 573.6,480.8 574.6,480.9 575.6,480.9 576.6,481.0 577.6,481.1 578.7,481.2 579.7,481.2 580.7,481.3 581.7,481.4 582.7,481.4 583.7,481.5 584.7,481.5 585.8,481.6 586.8,481.6 587.8,481.7 588.8,481.7 589.8,481.8 590.8,481.8 591.8,481.9 592.9,481.9 593.9,482.0 594.9,482.0 595.9,482.1 596.9,482.1 597.9,482.2 598.9,482.2 600.0,482.2 601.0,482.3 602.0,482.3 603.0,482.3 604.0,482.4 605.0,482.4 606.0,482.4 607.1,482.5 608.1,482.5 609.1,482.5 610.1,482.6 611.1,482.6 612.1,482.6 613.1,482.6 614.2,482.7 615.2,482.7 616.2,482.7 617.2,482.8 618.2,482.8 619.2,482.8 620.2,482.8 621.3,482.8 622.3,482.9 623.3,482.9 624.3,482.9 625.3,482.9 626.3,483.0 627.3,483.0 628.4,483.0 629.4,483.0 630.4,483.0 631.4,483.1 632.4,483.1 633.4,483.1 634.4,483.1 635.5,483.1 636.5,483.1 637.5,483.2 638.5,483.2 639.5,483.2 640.5,483.2 641.5,483.2 642.6,483.2 643.6,483.2 644.6,483.3 645.6,483.3 646.6,483.3 647.6,483.3 648.6,483.3 649.7,483.3 650.7,483.3 651.7,483.4 652.7,483.4 653.7,483.4 654.7,483.4 655.7,483.4 656.8,483.4 657.8,483.4 658.8,483.4 659.8,483.5 660.8,483.5 661.8,483.5 662.8,483.5 663.9,483.5 664.9,483.5 665.9,483.5 666.9,483.5 667.9,483.5 668.9,483.5 669.9,483.6 671.0,483.6 672.0,483.6 673.0,483.6 674.0,483.6 675.0,483.6 676.0,483.6 677.0,483.6 678.1,483.6 679.1,483.6 680.1,483.6 681.1,483.6 682.1,483.7 683.1,483.7 684.1,483.7 685.2,483.7 686.2,483.7 687.2,483.7 688.2,483.7 689.2,483.7 690.2,483.7 691.2,483.7 692.3,483.7 693.3,483.7 694.3,483.7 695.3,483.7" stroke="#2EA85E" stroke-width="3.3" stroke-dasharray="16.5 13.5 1 13.5" stroke-linecap="round"/>
<polyline points="86.8,484.1 87.8,484.1 88.8,484.1 89.8,484.1 90.8,484.1 91.8,484.1 92.8,484.1 93.8,484.1 94.9,484.1 95.9,484.1 96.9,484.1 97.9,484.1 98.9,484.1 99.9,484.1 100.9,484.1 102.0,484.1 103.0,484.1 104.0,484.1 105.0,484.1 106.0,484.1 107.0,484.1 108.0,484.1 109.1,484.1 110.1,484.1 111.1,484.1 112.1,484.1 113.1,484.1 114.1,484.1 115.1,484.1 116.2,484.1 117.2,484.1 118.2,484.1 119.2,484.1 120.2,484.1 121.2,484.1 122.2,484.1 123.3,484.1 124.3,484.1 125.3,484.1 126.3,484.0 127.3,484.0 128.3,484.0 129.3,484.0 130.4,484.0 131.4,484.0 132.4,484.0 133.4,484.0 134.4,484.0 135.4,484.0 136.4,484.0 137.5,484.0 138.5,484.0 139.5,484.0 140.5,484.0 141.5,484.0 142.5,484.0 143.5,484.0 144.6,484.0 145.6,484.0 146.6,484.0 147.6,484.0 148.6,484.0 149.6,484.0 150.6,484.0 151.7,484.0 152.7,484.0 153.7,484.0 154.7,484.0 155.7,484.0 156.7,484.0 157.7,484.0 158.8,484.0 159.8,484.0 160.8,484.0 161.8,484.0 162.8,484.0 163.8,484.0 164.8,484.0 165.9,484.0 166.9,484.0 167.9,484.0 168.9,484.0 169.9,484.0 170.9,483.9 171.9,483.9 173.0,483.9 174.0,483.9 175.0,483.9 176.0,483.9 177.0,483.9 178.0,483.9 179.0,483.9 180.1,483.9 181.1,483.9 182.1,483.9 183.1,483.9 184.1,483.9 185.1,483.9 186.1,483.9 187.2,483.9 188.2,483.9 189.2,483.9 190.2,483.9 191.2,483.9 192.2,483.9 193.2,483.9 194.3,483.9 195.3,483.9 196.3,483.9 197.3,483.9 198.3,483.9 199.3,483.9 200.3,483.9 201.4,483.9 202.4,483.8 203.4,483.8 204.4,483.8 205.4,483.8 206.4,483.8 207.4,483.8 208.5,483.8 209.5,483.8 210.5,483.8 211.5,483.8 212.5,483.8 213.5,483.8 214.5,483.8 215.6,483.8 216.6,483.8 217.6,483.8 218.6,483.8 219.6,483.8 220.6,483.8 221.6,483.8 222.7,483.8 223.7,483.8 224.7,483.8 225.7,483.7 226.7,483.7 227.7,483.7 228.7,483.7 229.8,483.7 230.8,483.7 231.8,483.7 232.8,483.7 233.8,483.7 234.8,483.7 235.8,483.7 236.9,483.7 237.9,483.7 238.9,483.7 239.9,483.7 240.9,483.7 241.9,483.7 242.9,483.7 244.0,483.7 245.0,483.6 246.0,483.6 247.0,483.6 248.0,483.6 249.0,483.6 250.0,483.6 251.1,483.6 252.1,483.6 253.1,483.6 254.1,483.6 255.1,483.6 256.1,483.6 257.1,483.6 258.2,483.6 259.2,483.6 260.2,483.5 261.2,483.5 262.2,483.5 263.2,483.5 264.2,483.5 265.3,483.5 266.3,483.5 267.3,483.5 268.3,483.5 269.3,483.5 270.3,483.5 271.3,483.5 272.4,483.5 273.4,483.4 274.4,483.4 275.4,483.4 276.4,483.4 277.4,483.4 278.4,483.4 279.5,483.4 280.5,483.4 281.5,483.4 282.5,483.4 283.5,483.4 284.5,483.3 285.5,483.3 286.6,483.3 287.6,483.3 288.6,483.3 289.6,483.3 290.6,483.3 291.6,483.3 292.6,483.3 293.7,483.2 294.7,483.2 295.7,483.2 296.7,483.2 297.7,483.2 298.7,483.2 299.7,483.2 300.8,483.2 301.8,483.2 302.8,483.1 303.8,483.1 304.8,483.1 305.8,483.1 306.8,483.1 307.9,483.1 308.9,483.1 309.9,483.0 310.9,483.0 311.9,483.0 312.9,483.0 313.9,483.0 315.0,483.0 316.0,483.0 317.0,482.9 318.0,482.9 319.0,482.9 320.0,482.9 321.0,482.9 322.1,482.9 323.1,482.8 324.1,482.8 325.1,482.8 326.1,482.8 327.1,482.8 328.1,482.7 329.2,482.7 330.2,482.7 331.2,482.7 332.2,482.7 333.2,482.6 334.2,482.6 335.2,482.6 336.3,482.6 337.3,482.6 338.3,482.5 339.3,482.5 340.3,482.5 341.3,482.5 342.3,482.4 343.4,482.4 344.4,482.4 345.4,482.4 346.4,482.3 347.4,482.3 348.4,482.3 349.4,482.2 350.5,482.2 351.5,482.2 352.5,482.2 353.5,482.1 354.5,482.1 355.5,482.1 356.5,482.0 357.6,482.0 358.6,482.0 359.6,481.9 360.6,481.9 361.6,481.8 362.6,481.8 363.6,481.8 364.7,481.7 365.7,481.7 366.7,481.6 367.7,481.6 368.7,481.6 369.7,481.5 370.7,481.5 371.8,481.4 372.8,481.4 373.8,481.3 374.8,481.3 375.8,481.2 376.8,481.2 377.8,481.1 378.9,481.1 379.9,481.0 380.9,481.0 381.9,480.9 382.9,480.8 383.9,480.8 384.9,480.7 386.0,480.6 387.0,480.6 388.0,480.5 389.0,480.4 390.0,480.4 391.0,480.3 392.0,480.2 393.1,480.1 394.1,480.1 395.1,480.0 396.1,479.9 397.1,479.8 398.1,479.7 399.1,479.6 400.2,479.5 401.2,479.4 402.2,479.3 403.2,479.2 404.2,479.1 405.2,479.0 406.2,478.9 407.3,478.8 408.3,478.6 409.3,478.5 410.3,478.4 411.3,478.2 412.3,478.1 413.3,477.9 414.4,477.8 415.4,477.6 416.4,477.5 417.4,477.3 418.4,477.1 419.4,477.0 420.4,476.8 421.5,476.6 422.5,476.4 423.5,476.2 424.5,476.0 425.5,475.7 426.5,475.5 427.5,475.2 428.6,475.0 429.6,474.7 430.6,474.5 431.6,474.2 432.6,473.9 433.6,473.5 434.6,473.2 435.7,472.9 436.7,472.5 437.7,472.1 438.7,471.8 439.7,471.3 440.7,470.9 441.7,470.5 442.8,470.0 443.8,469.5 444.8,469.0 445.8,468.4 446.8,467.8 447.8,467.2 448.8,466.6 449.9,465.9 450.9,465.1 451.9,464.4 452.9,463.5 453.9,462.7 454.9,461.7 455.9,460.7 457.0,459.7 458.0,458.5 459.0,457.3 460.0,456.0 461.0,454.5 462.0,453.0 463.0,451.3 464.1,449.4 465.1,447.4 466.1,445.2 467.1,442.8 468.1,440.2 469.1,437.3 470.1,434.1 471.2,430.7 472.2,426.9 473.2,422.7 474.2,418.1 475.2,413.1 476.2,407.6 477.2,401.6 478.3,395.1 479.3,388.0 480.3,380.3 481.3,372.0 482.3,363.1 483.3,353.6 484.3,343.4 485.4,332.7 486.4,321.3 487.4,309.5 488.4,297.2 489.4,284.7 490.4,272.1 491.4,259.6 492.4,247.5 493.5,236.2 494.5,225.9 495.5,217.1 496.5,210.1 497.5,205.3 498.5,202.8 499.5,202.8 500.6,205.3 501.6,210.1 502.6,217.1 503.6,225.9 504.6,236.2 505.6,247.5 506.6,259.6 507.7,272.1 508.7,284.7 509.7,297.2 510.7,309.5 511.7,321.3 512.7,332.7 513.7,343.4 514.8,353.6 515.8,363.1 516.8,372.0 517.8,380.3 518.8,388.0 519.8,395.1 520.8,401.6 521.9,407.6 522.9,413.1 523.9,418.1 524.9,422.7 525.9,426.9 526.9,430.7 527.9,434.1 529.0,437.3 530.0,440.2 531.0,442.8 532.0,445.2 533.0,447.4 534.0,449.4 535.0,451.3 536.1,453.0 537.1,454.5 538.1,456.0 539.1,457.3 540.1,458.5 541.1,459.7 542.1,460.7 543.2,461.7 544.2,462.7 545.2,463.5 546.2,464.4 547.2,465.1 548.2,465.9 549.2,466.6 550.3,467.2 551.3,467.8 552.3,468.4 553.3,469.0 554.3,469.5 555.3,470.0 556.3,470.5 557.4,470.9 558.4,471.3 559.4,471.8 560.4,472.1 561.4,472.5 562.4,472.9 563.4,473.2 564.5,473.5 565.5,473.9 566.5,474.2 567.5,474.5 568.5,474.7 569.5,475.0 570.5,475.2 571.6,475.5 572.6,475.7 573.6,476.0 574.6,476.2 575.6,476.4 576.6,476.6 577.6,476.8 578.7,477.0 579.7,477.1 580.7,477.3 581.7,477.5 582.7,477.6 583.7,477.8 584.7,477.9 585.8,478.1 586.8,478.2 587.8,478.4 588.8,478.5 589.8,478.6 590.8,478.8 591.8,478.9 592.9,479.0 593.9,479.1 594.9,479.2 595.9,479.3 596.9,479.4 597.9,479.5 598.9,479.6 600.0,479.7 601.0,479.8 602.0,479.9 603.0,480.0 604.0,480.1 605.0,480.1 606.0,480.2 607.1,480.3 608.1,480.4 609.1,480.4 610.1,480.5 611.1,480.6 612.1,480.6 613.1,480.7 614.2,480.8 615.2,480.8 616.2,480.9 617.2,481.0 618.2,481.0 619.2,481.1 620.2,481.1 621.3,481.2 622.3,481.2 623.3,481.3 624.3,481.3 625.3,481.4 626.3,481.4 627.3,481.5 628.4,481.5 629.4,481.6 630.4,481.6 631.4,481.6 632.4,481.7 633.4,481.7 634.4,481.8 635.5,481.8 636.5,481.8 637.5,481.9 638.5,481.9 639.5,482.0 640.5,482.0 641.5,482.0 642.6,482.1 643.6,482.1 644.6,482.1 645.6,482.2 646.6,482.2 647.6,482.2 648.6,482.2 649.7,482.3 650.7,482.3 651.7,482.3 652.7,482.4 653.7,482.4 654.7,482.4 655.7,482.4 656.8,482.5 657.8,482.5 658.8,482.5 659.8,482.5 660.8,482.6 661.8,482.6 662.8,482.6 663.9,482.6 664.9,482.6 665.9,482.7 666.9,482.7 667.9,482.7 668.9,482.7 669.9,482.7 671.0,482.8 672.0,482.8 673.0,482.8 674.0,482.8 675.0,482.8 676.0,482.9 677.0,482.9 678.1,482.9 679.1,482.9 680.1,482.9 681.1,482.9 682.1,483.0 683.1,483.0 684.1,483.0 685.2,483.0 686.2,483.0 687.2,483.0 688.2,483.0 689.2,483.1 690.2,483.1 691.2,483.1 692.3,483.1 693.3,483.1 694.3,483.1 695.3,483.1" stroke="#A674DC" stroke-width="3.3" stroke-dasharray="9.3 9.6 0 9.6" stroke-linecap="round"/>
<polyline points="86.8,475.6 87.5,475.6 88.3,475.5 89.0,475.5 89.8,475.4 90.6,475.3 91.3,475.3 92.1,475.2 92.8,475.1 93.6,475.0 94.4,474.9 95.1,474.8 95.9,474.8 96.6,474.6 97.4,474.5 98.2,474.4 98.9,474.3 99.7,474.2 100.4,474.1 101.2,474.0 102.0,473.8 102.7,473.7 103.5,473.6 104.2,473.5 105.0,473.3 105.8,473.2 106.5,473.1 107.3,472.9 108.0,472.8 108.8,472.7 109.6,472.6 110.3,472.4 111.1,472.3 111.9,472.2 112.6,472.1 113.4,472.0 114.1,471.9 114.9,471.7 115.7,471.6 116.4,471.5 117.2,471.5 117.9,471.4 118.7,471.3 119.5,471.2 120.2,471.1 121.0,471.0 121.7,470.9 122.5,470.8 123.3,470.7 124.0,470.6 124.8,470.5 125.5,470.4 126.3,470.3 127.1,470.2 127.8,470.1 128.6,470.0 129.3,469.9 130.1,469.8 130.9,469.7 131.6,469.6 132.4,469.5 133.2,469.4 133.9,469.3 134.7,469.2 135.4,469.1 136.2,469.0 137.0,468.8 137.7,468.7 138.5,468.6 139.2,468.5 140.0,468.4 140.8,468.3 141.5,468.1 142.3,468.0 143.0,467.9 143.8,467.8 144.6,467.6 145.3,467.5 146.1,467.4 146.8,467.3 147.6,467.1 148.4,467.0 149.1,466.9 149.9,466.7 150.6,466.6 151.4,466.4 152.2,466.3 152.9,466.2 153.7,466.0 154.5,465.9 155.2,465.7 156.0,465.6 156.7,465.4 157.5,465.3 158.3,465.1 159.0,464.9 159.8,464.8 160.5,464.6 161.3,464.5 162.1,464.3 162.8,464.1 163.6,463.9 164.3,463.8 165.1,463.6 165.9,463.4 166.6,463.2 167.4,463.1 168.1,462.9 168.9,462.7 169.7,462.5 170.4,462.3 171.2,462.1 171.9,461.9 172.7,461.7 173.5,461.5 174.2,461.2 175.0,461.0 175.8,460.8 176.5,460.5 177.3,460.3 178.0,460.0 178.8,459.7 179.6,459.4 180.3,459.1 181.1,458.8 181.8,458.5 182.6,458.2 183.4,457.9 184.1,457.6 184.9,457.2 185.6,456.9 186.4,456.5 187.2,456.2 187.9,455.8 188.7,455.5 189.4,455.1 190.2,454.7 191.0,454.4 191.7,454.0 192.5,453.6 193.2,453.2 194.0,452.8 194.8,452.4 195.5,452.0 196.3,451.7 197.0,451.2 197.8,450.8 198.6,450.4 199.3,449.9 200.1,449.5 200.9,449.0 201.6,448.5 202.4,448.1 203.1,447.6 203.9,447.1 204.7,446.6 205.4,446.0 206.2,445.5 206.9,445.0 207.7,444.5 208.5,443.9 209.2,443.4 210.0,442.9 210.7,442.3 211.5,441.8 212.3,441.2 213.0,440.7 213.8,440.2 214.5,439.6 215.3,439.1 216.1,438.6 216.8,438.0 217.6,437.5 218.3,437.0 219.1,436.5 219.9,436.0 220.6,435.5 221.4,435.0 222.2,434.4 222.9,433.9 223.7,433.4 224.4,432.8 225.2,432.3 226.0,431.7 226.7,431.1 227.5,430.5 228.2,430.0 229.0,429.4 229.8,428.8 230.5,428.1 231.3,427.5 232.0,426.9 232.8,426.2 233.6,425.6 234.3,424.9 235.1,424.2 235.8,423.6 236.6,422.9 237.4,422.1 238.1,421.4 238.9,420.7 239.6,420.0 240.4,419.2 241.2,418.4 241.9,417.7 242.7,416.9 243.5,416.1 244.2,415.3 245.0,414.4 245.7,413.6 246.5,412.8 247.3,411.9 248.0,411.1 248.8,410.2 249.5,409.4 250.3,408.5 251.1,407.6 251.8,406.7 252.6,405.8 253.3,404.9 254.1,403.9 254.9,403.0 255.6,402.1 256.4,401.1 257.1,400.2 257.9,399.2 258.7,398.2 259.4,397.2 260.2,396.2 260.9,395.2 261.7,394.2 262.5,393.2 263.2,392.2 264.0,391.1 264.8,390.1 265.5,389.1 266.3,388.0 267.0,387.0 267.8,385.9 268.6,384.9 269.3,383.8 270.1,382.8 270.8,381.7 271.6,380.7 272.4,379.6 273.1,378.5 273.9,377.5 274.6,376.4 275.4,375.3 276.2,374.3 276.9,373.2 277.7,372.1 278.4,371.0 279.2,370.0 280.0,368.9 280.7,367.8 281.5,366.7 282.2,365.6 283.0,364.5 283.8,363.4 284.5,362.2 285.3,361.1 286.1,359.9 286.8,358.7 287.6,357.5 288.3,356.3 289.1,355.0 289.9,353.8 290.6,352.5 291.4,351.1 292.1,349.8 292.9,348.4 293.7,347.0 294.4,345.6 295.2,344.1 295.9,342.6 296.7,341.1 297.5,339.5 298.2,337.9 299.0,336.3 299.7,334.6 300.5,332.9 301.3,331.1 302.0,329.2 302.8,327.3 303.5,325.3 304.3,323.3 305.1,321.2 305.8,319.1 306.6,316.9 307.3,314.7 308.1,312.4 308.9,310.1 309.6,307.8 310.4,305.4 311.2,303.1 311.9,300.7 312.7,298.2 313.4,295.8 314.2,293.4 315.0,291.0 315.7,288.6 316.5,286.1 317.2,283.7 318.0,281.3 318.8,278.8 319.5,276.4 320.3,273.9 321.0,271.3 321.8,268.8 322.6,266.1 323.3,263.5 324.1,260.8 324.8,258.0 325.6,255.2 326.4,252.3 327.1,249.5 327.9,246.7 328.6,243.9 329.4,241.1 330.2,238.3 330.9,235.4 331.7,232.5 332.5,229.6 333.2,226.5 334.0,223.4 334.7,220.1 335.5,216.8 336.3,213.4 337.0,209.8 337.8,206.0 338.5,202.2 339.3,198.2 340.1,194.1 340.8,190.0 341.6,185.9 342.3,181.7 343.1,177.6 343.9,173.5 344.6,169.5 345.4,165.7 346.1,161.9 346.9,158.4 347.7,155.0 348.4,151.7 349.2,148.5 349.9,145.3 350.7,142.3 351.5,139.4 352.2,136.6 353.0,134.0 353.8,131.4 354.5,129.0 355.3,126.6 356.0,124.4 356.8,122.4 357.6,120.5 358.3,118.7 359.1,117.2 359.8,115.9 360.6,114.7 361.4,113.7 362.1,112.8 362.9,112.1 363.6,111.5 364.4,111.1 365.2,110.7 365.9,110.5 366.7,110.3 367.4,110.3 368.2,110.4 369.0,110.7 369.7,111.1 370.5,111.6 371.2,112.4 372.0,113.2 372.8,114.2 373.5,115.4 374.3,116.7 375.1,118.1 375.8,119.6 376.6,121.3 377.3,123.0 378.1,124.9 378.9,126.9 379.6,129.1 380.4,131.6 381.1,134.2 381.9,136.9 382.7,139.6 383.4,142.3 384.2,144.9 384.9,147.3 385.7,149.7 386.5,151.9 387.2,154.1 388.0,156.4 388.7,158.7 389.5,161.2 390.3,163.8 391.0,166.5 391.8,169.1 392.5,171.7 393.3,174.4 394.1,177.0 394.8,179.7 395.6,182.3 396.3,184.9 397.1,187.6 397.9,190.2 398.6,192.8 399.4,195.5 400.2,198.2 400.9,201.0 401.7,203.7 402.4,206.4 403.2,209.1 404.0,211.7 404.7,214.3 405.5,216.8 406.2,219.3 407.0,221.8 407.8,224.3 408.5,226.7 409.3,229.1 410.0,231.4 410.8,233.7 411.6,235.8 412.3,237.9 413.1,239.8 413.8,241.6 414.6,243.4 415.4,245.2 416.1,246.8 416.9,248.5 417.6,250.1 418.4,251.7 419.2,253.2 419.9,254.7 420.7,256.1 421.5,257.5 422.2,258.9 423.0,260.2 423.7,261.5 424.5,262.8 425.3,264.0 426.0,265.1 426.8,266.1 427.5,266.9 428.3,267.7 429.1,268.3 429.8,268.9 430.6,269.4 431.3,269.8 432.1,270.2 432.9,270.5 433.6,270.7 434.4,270.9 435.1,271.1 435.9,271.3 436.7,271.5 437.4,271.7 438.2,271.8 438.9,271.8 439.7,271.7 440.5,271.6 441.2,271.4 442.0,271.2 442.8,270.9 443.5,270.6 444.3,270.2 445.0,269.8 445.8,269.4 446.6,268.9 447.3,268.4 448.1,267.9 448.8,267.3 449.6,266.7 450.4,266.0 451.1,265.3 451.9,264.5 452.6,263.6 453.4,262.7 454.2,261.6 454.9,260.4 455.7,259.1 456.4,257.7 457.2,256.2 458.0,254.5 458.7,252.6 459.5,250.6 460.2,248.3 461.0,245.9 461.8,243.1 462.5,240.0 463.3,236.7 464.1,233.1 464.8,229.3 465.6,225.2 466.3,221.0 467.1,216.6 467.9,212.0 468.6,207.2 469.4,202.4 470.1,197.4 470.9,192.4 471.7,187.3 472.4,182.1 473.2,176.7 473.9,171.2 474.7,165.6 475.5,159.7 476.2,153.6 477.0,147.4 477.7,140.9 478.5,134.3 479.3,127.8 480.0,121.4 480.8,115.1 481.5,109.0 482.3,103.2 483.1,97.5 483.8,92.2 484.6,87.1 485.4,82.3 486.1,77.7 486.9,73.7 487.6,70.1 488.4,67.1 489.2,64.4 489.9,61.9 490.7,59.6 491.4,57.5 492.2,55.5 493.0,53.5 493.7,51.5 494.5,49.8 495.2,48.5 496.0,47.9 496.8,48.2 497.5,49.4 498.3,51.7 499.0,55.1 499.8,59.8 500.6,65.2 501.3,71.3 502.1,78.1 502.8,85.5 503.6,93.6 504.4,102.4 505.1,111.8 505.9,121.8 506.6,131.8 507.4,141.5 508.2,151.2 508.9,161.0 509.7,171.0 510.5,181.3 511.2,192.2 512.0,203.5 512.7,214.6 513.5,225.4 514.3,235.9 515.0,246.0 515.8,255.8 516.5,265.1 517.3,274.0 518.1,282.6 518.8,291.1 519.6,299.4 520.3,307.5 521.1,315.4 521.9,322.9 522.6,330.1 523.4,336.9 524.1,343.2 524.9,349.1 525.7,354.4 526.4,359.5 527.2,364.3 527.9,368.8 528.7,373.1 529.5,377.2 530.2,381.0 531.0,384.5 531.8,387.9 532.5,391.0 533.3,394.0 534.0,396.7 534.8,399.2 535.6,401.5 536.3,403.6 537.1,405.7 537.8,407.6 538.6,409.4 539.4,411.2 540.1,412.8 540.9,414.3 541.6,415.8 542.4,417.2 543.2,418.5 543.9,419.8 544.7,421.1 545.4,422.2 546.2,423.4 547.0,424.5 547.7,425.6 548.5,426.7 549.2,427.7 550.0,428.7 550.8,429.7 551.5,430.7 552.3,431.7 553.1,432.7 553.8,433.6 554.6,434.6 555.3,435.5 556.1,436.4 556.9,437.3 557.6,438.2 558.4,439.1 559.1,439.9 559.9,440.7 560.7,441.6 561.4,442.4 562.2,443.2 562.9,444.0 563.7,444.7 564.5,445.5 565.2,446.2 566.0,446.9 566.7,447.6 567.5,448.3 568.3,449.0 569.0,449.7 569.8,450.3 570.5,450.9 571.3,451.6 572.1,452.1 572.8,452.7 573.6,453.3 574.4,453.8 575.1,454.3 575.9,454.9 576.6,455.4 577.4,455.9 578.2,456.4 578.9,456.9 579.7,457.4 580.4,457.9 581.2,458.4 582.0,458.9 582.7,459.3 583.5,459.7 584.2,460.2 585.0,460.5 585.8,460.9 586.5,461.2 587.3,461.6 588.0,461.8 588.8,462.1 589.6,462.3 590.3,462.6 591.1,462.8 591.8,463.0 592.6,463.2 593.4,463.3 594.1,463.5 594.9,463.7 595.6,463.9 596.4,464.0 597.2,464.2 597.9,464.4 598.7,464.5 599.5,464.7 600.2,464.8 601.0,464.9 601.7,465.1 602.5,465.2 603.3,465.4 604.0,465.5 604.8,465.6 605.5,465.8 606.3,465.9 607.1,466.0 607.8,466.2 608.6,466.3 609.3,466.4 610.1,466.5 610.9,466.6 611.6,466.8 612.4,466.9 613.1,467.0 613.9,467.1 614.7,467.2 615.4,467.3 616.2,467.4 616.9,467.5 617.7,467.6 618.5,467.7 619.2,467.8 620.0,467.9 620.8,468.0 621.5,468.1 622.3,468.2 623.0,468.3 623.8,468.3 624.6,468.4 625.3,468.5 626.1,468.6 626.8,468.7 627.6,468.8 628.4,468.9 629.1,469.0 629.9,469.0 630.6,469.1 631.4,469.2 632.2,469.3 632.9,469.4 633.7,469.5 634.4,469.6 635.2,469.7 636.0,469.7 636.7,469.8 637.5,469.9 638.2,470.0 639.0,470.1 639.8,470.2 640.5,470.3 641.3,470.4 642.1,470.5 642.8,470.6 643.6,470.7 644.3,470.8 645.1,470.9 645.9,471.0 646.6,471.1 647.4,471.2 648.1,471.3 648.9,471.3 649.7,471.4 650.4,471.5 651.2,471.6 651.9,471.7 652.7,471.8 653.5,471.9 654.2,472.0 655.0,472.1 655.7,472.2 656.5,472.3 657.3,472.4 658.0,472.4 658.8,472.5 659.5,472.6 660.3,472.7 661.1,472.8 661.8,472.9 662.6,472.9 663.4,473.0 664.1,473.1 664.9,473.2 665.6,473.2 666.4,473.3 667.2,473.4 667.9,473.5 668.7,473.6 669.4,473.6 670.2,473.7 671.0,473.8 671.7,473.8 672.5,473.9 673.2,474.0 674.0,474.1 674.8,474.1 675.5,474.2 676.3,474.3 677.0,474.3 677.8,474.4 678.6,474.5 679.3,474.5 680.1,474.6 680.8,474.7 681.6,474.7 682.4,474.8 683.1,474.9 683.9,474.9 684.7,475.0 685.4,475.0 686.2,475.1 686.9,475.2 687.7,475.2 688.5,475.3 689.2,475.3 690.0,475.4 690.7,475.5 691.5,475.5 692.3,475.6 693.0,475.6 693.8,475.7 694.5,475.7 695.3,475.8" stroke="#FF0A84" stroke-width="2.6"/>
<polyline points="86.8,483.1 87.4,473.3 88.0,469.5 88.6,478.6 89.2,483.5 89.8,475.8 90.4,472.5 91.0,468.6 91.6,482.6 92.2,483.0 92.8,470.8 93.4,472.2 94.1,465.7 94.7,468.9 95.3,475.4 95.9,476.4 96.5,459.1 97.1,476.3 97.7,479.3 98.3,481.3 98.9,473.7 99.5,473.3 100.1,476.2 100.7,474.4 101.4,472.3 102.0,469.6 102.6,467.1 103.2,472.4 103.8,484.4 104.4,469.2 105.0,482.0 105.6,474.3 106.2,482.1 106.8,473.0 107.4,477.7 108.0,471.5 108.7,452.6 109.3,472.9 109.9,467.4 110.5,480.5 111.1,474.1 111.7,468.2 112.3,472.7 112.9,469.8 113.5,471.3 114.1,478.0 114.7,468.3 115.4,476.6 116.0,460.2 116.6,474.6 117.2,467.3 117.8,471.4 118.4,465.5 119.0,474.9 119.6,465.1 120.2,471.8 120.8,463.3 121.4,467.1 122.0,470.0 122.7,475.6 123.3,466.0 123.9,467.8 124.5,460.5 125.1,472.8 125.7,467.0 126.3,467.2 126.9,468.5 127.5,468.9 128.1,469.0 128.7,473.7 129.3,476.1 130.0,472.3 130.6,466.1 131.2,460.4 131.8,463.6 132.4,463.0 133.0,464.7 133.6,465.0 134.2,468.1 134.8,464.4 135.4,458.2 136.0,471.0 136.7,473.2 137.3,456.8 137.9,467.2 138.5,462.7 139.1,463.2 139.7,475.4 140.3,453.4 140.9,457.3 141.5,467.1 142.1,463.4 142.7,467.2 143.3,473.3 144.0,468.4 144.6,465.3 145.2,460.7 145.8,463.1 146.4,467.0 147.0,458.9 147.6,471.8 148.2,462.1 148.8,460.1 149.4,468.6 150.0,477.7 150.6,472.2 151.3,465.0 151.9,463.1 152.5,456.7 153.1,472.3 153.7,466.0 154.3,461.9 154.9,466.8 155.5,480.3 156.1,460.5 156.7,451.1 157.3,459.1 158.0,470.8 158.6,467.6 159.2,463.5 159.8,449.4 160.4,460.8 161.0,463.8 161.6,454.7 162.2,464.8 162.8,452.6 163.4,468.2 164.0,466.8 164.6,459.2 165.3,454.7 165.9,459.4 166.5,461.4 167.1,474.4 167.7,467.4 168.3,466.6 168.9,466.0 169.5,458.9 170.1,464.5 170.7,457.3 171.3,461.5 171.9,464.0 172.6,461.0 173.2,458.9 173.8,456.0 174.4,464.2 175.0,462.5 175.6,469.3 176.2,450.6 176.8,451.3 177.4,461.3 178.0,463.0 178.6,467.5 179.2,458.5 179.9,458.0 180.5,445.4 181.1,457.3 181.7,463.5 182.3,473.7 182.9,449.2 183.5,456.6 184.1,467.7 184.7,456.2 185.3,467.1 185.9,434.9 186.6,449.4 187.2,452.6 187.8,457.0 188.4,469.1 189.0,456.1 189.6,464.8 190.2,451.0 190.8,467.9 191.4,459.9 192.0,446.1 192.6,443.1 193.2,460.7 193.9,462.6 194.5,447.0 195.1,446.9 195.7,458.2 196.3,456.1 196.9,455.7 197.5,458.6 198.1,455.0 198.7,442.3 199.3,445.6 199.9,436.5 200.5,449.8 201.2,449.7 201.8,454.7 202.4,448.9 203.0,456.1 203.6,458.6 204.2,442.4 204.8,437.2 205.4,440.7 206.0,437.1 206.6,443.6 207.2,449.4 207.9,443.8 208.5,446.3 209.1,450.7 209.7,454.0 210.3,452.2 210.9,442.3 211.5,440.8 212.1,444.4 212.7,431.7 213.3,439.3 213.9,436.3 214.5,431.7 215.2,444.5 215.8,451.6 216.4,433.5 217.0,442.4 217.6,429.0 218.2,434.9 218.8,430.1 219.4,431.3 220.0,449.5 220.6,430.8 221.2,439.5 221.8,439.6 222.5,437.1 223.1,428.7 223.7,427.5 224.3,426.3 224.9,443.4 225.5,435.9 226.1,447.2 226.7,431.8 227.3,426.7 227.9,435.2 228.5,428.1 229.2,427.7 229.8,422.1 230.4,433.7 231.0,433.3 231.6,432.3 232.2,415.1 232.8,419.0 233.4,426.5 234.0,423.7 234.6,423.9 235.2,422.7 235.8,424.9 236.5,425.2 237.1,430.9 237.7,426.2 238.3,410.2 238.9,417.1 239.5,419.7 240.1,420.9 240.7,418.5 241.3,415.9 241.9,422.0 242.5,415.7 243.1,414.8 243.8,420.8 244.4,420.4 245.0,421.2 245.6,421.0 246.2,407.1 246.8,428.5 247.4,413.6 248.0,415.3 248.6,414.6 249.2,409.0 249.8,401.3 250.4,407.8 251.1,408.6 251.7,411.1 252.3,407.0 252.9,399.1 253.5,407.4 254.1,411.9 254.7,412.0 255.3,410.1 255.9,411.4 256.5,393.3 257.1,397.7 257.8,401.0 258.4,388.4 259.0,402.4 259.6,391.8 260.2,390.6 260.8,406.3 261.4,405.6 262.0,400.3 262.6,386.6 263.2,383.0 263.8,400.0 264.4,383.1 265.1,392.4 265.7,391.7 266.3,392.0 266.9,389.5 267.5,399.3 268.1,392.7 268.7,393.5 269.3,380.3 269.9,368.0 270.5,362.5 271.1,383.7 271.7,392.8 272.4,382.5 273.0,385.5 273.6,363.5 274.2,372.9 274.8,381.5 275.4,368.5 276.0,370.6 276.6,385.5 277.2,376.6 277.8,373.7 278.4,370.9 279.1,369.2 279.7,371.8 280.3,367.1 280.9,371.9 281.5,373.3 282.1,354.6 282.7,362.3 283.3,360.8 283.9,375.0 284.5,363.5 285.1,355.2 285.7,370.0 286.4,351.3 287.0,361.4 287.6,354.5 288.2,357.5 288.8,353.9 289.4,345.5 290.0,356.5 290.6,340.7 291.2,357.3 291.8,357.4 292.4,343.9 293.0,356.2 293.7,349.8 294.3,339.0 294.9,335.5 295.5,357.1 296.1,338.4 296.7,326.6 297.3,330.6 297.9,340.4 298.5,341.9 299.1,338.2 299.7,343.5 300.4,335.3 301.0,333.3 301.6,331.5 302.2,319.6 302.8,329.1 303.4,337.2 304.0,315.8 304.6,330.9 305.2,324.3 305.8,320.1 306.4,320.1 307.0,323.6 307.7,315.8 308.3,294.4 308.9,315.0 309.5,309.4 310.1,297.3 310.7,298.4 311.3,296.4 311.9,293.6 312.5,314.8 313.1,303.9 313.7,293.8 314.3,288.8 315.0,280.3 315.6,285.1 316.2,289.1 316.8,284.8 317.4,285.0 318.0,279.2 318.6,273.6 319.2,280.2 319.8,282.3 320.4,280.6 321.0,262.0 321.7,258.3 322.3,258.7 322.9,257.7 323.5,255.8 324.1,260.8 324.7,252.8 325.3,265.4 325.9,255.8 326.5,258.2 327.1,243.1 327.7,252.4 328.3,246.0 329.0,239.3 329.6,228.5 330.2,245.4 330.8,244.4 331.4,226.4 332.0,241.3 332.6,224.9 333.2,231.7 333.8,225.0 334.4,238.0 335.0,212.3 335.6,220.7 336.3,221.6 336.9,191.3 337.5,200.9 338.1,171.8 338.7,197.6 339.3,201.5 339.9,193.9 340.5,176.4 341.1,188.6 341.7,180.7 342.3,176.8 342.9,187.2 343.6,173.9 344.2,176.8 344.8,180.9 345.4,157.1 346.0,156.1 346.6,159.0 347.2,166.0 347.8,174.2 348.4,146.8 349.0,150.1 349.6,163.4 350.3,144.7 350.9,157.1 351.5,139.7 352.1,135.7 352.7,131.4 353.3,130.7 353.9,129.2 354.5,140.6 355.1,131.0 355.7,130.5 356.3,126.0 356.9,119.2 357.6,114.1 358.2,102.2 358.8,144.4 359.4,112.5 360.0,117.7 360.6,91.0 361.2,104.2 361.8,130.4 362.4,108.3 363.0,117.4 363.6,101.2 364.2,122.2 364.9,111.9 365.5,66.1 366.1,111.5 366.7,116.4 367.3,129.5 367.9,105.5 368.5,100.0 369.1,111.4 369.7,121.7 370.3,109.4 370.9,106.2 371.6,114.5 372.2,113.6 372.8,99.6 373.4,126.8 374.0,121.9 374.6,137.0 375.2,125.6 375.8,127.2 376.4,130.8 377.0,129.5 377.6,105.3 378.2,127.3 378.9,128.1 379.5,106.2 380.1,131.2 380.7,150.2 381.3,130.6 381.9,146.3 382.5,122.5 383.1,153.7 383.7,149.1 384.3,161.5 384.9,146.3 385.5,159.3 386.2,151.7 386.8,156.5 387.4,160.6 388.0,147.0 388.6,149.0 389.2,159.6 389.8,171.1 390.4,174.8 391.0,163.8 391.6,145.3 392.2,175.1 392.9,180.4 393.5,181.7 394.1,187.6 394.7,188.5 395.3,183.2 395.9,169.7 396.5,185.5 397.1,192.4 397.7,205.0 398.3,189.7 398.9,194.1 399.5,207.6 400.2,208.4 400.8,200.8 401.4,193.1 402.0,198.9 402.6,205.0 403.2,212.1 403.8,208.2 404.4,213.4 405.0,195.4 405.6,227.7 406.2,222.7 406.8,209.7 407.5,225.7 408.1,212.3 408.7,227.6 409.3,227.8 409.9,234.3 410.5,245.2 411.1,243.2 411.7,216.4 412.3,232.1 412.9,234.0 413.5,232.4 414.1,237.3 414.8,234.7 415.4,247.5 416.0,248.5 416.6,239.2 417.2,252.2 417.8,262.1 418.4,253.7 419.0,257.7 419.6,248.7 420.2,261.5 420.8,265.6 421.5,260.4 422.1,245.2 422.7,260.1 423.3,259.4 423.9,261.7 424.5,260.2 425.1,255.8 425.7,252.7 426.3,279.6 426.9,254.6 427.5,267.0 428.1,270.3 428.8,247.6 429.4,270.0 430.0,252.4 430.6,261.1 431.2,278.5 431.8,265.9 432.4,264.0 433.0,271.6 433.6,290.5 434.2,273.8 434.8,272.7 435.4,280.7 436.1,255.8 436.7,273.6 437.3,275.0 437.9,274.3 438.5,278.4 439.1,278.4 439.7,270.9 440.3,269.0 440.9,275.8 441.5,272.1 442.1,283.0 442.8,266.5 443.4,277.0 444.0,268.5 444.6,277.8 445.2,274.1 445.8,267.5 446.4,279.3 447.0,247.5 447.6,268.5 448.2,268.4 448.8,273.6 449.4,253.1 450.1,254.4 450.7,263.2 451.3,276.9 451.9,268.8 452.5,258.5 453.1,267.5 453.7,272.5 454.3,271.6 454.9,267.1 455.5,259.3 456.1,263.9 456.7,257.0 457.4,231.6 458.0,239.0 458.6,262.1 459.2,248.4 459.8,248.9 460.4,249.1 461.0,236.7 461.6,246.6 462.2,244.2 462.8,242.1 463.4,236.9 464.1,221.6 464.7,223.1 465.3,239.0 465.9,227.6 466.5,227.4 467.1,209.1 467.7,210.8 468.3,200.9 468.9,205.9 469.5,219.3 470.1,193.2 470.7,191.3 471.4,184.5 472.0,197.7 472.6,180.3 473.2,183.4 473.8,179.0 474.4,164.4 475.0,159.8 475.6,167.3 476.2,170.6 476.8,173.4 477.4,149.3 478.0,126.9 478.7,133.6 479.3,150.8 479.9,131.5 480.5,113.3 481.1,95.3 481.7,95.6 482.3,99.3 482.9,96.6 483.5,105.6 484.1,95.0 484.7,89.7 485.4,90.7 486.0,78.0 486.6,79.5 487.2,68.6 487.8,53.9 488.4,59.0 489.0,60.4 489.6,65.6 490.2,77.9 490.8,60.6 491.4,51.6 492.0,67.2 492.7,27.7 493.3,56.5 493.9,47.1 494.5,53.6 495.1,62.9 495.7,25.1 496.3,61.1 496.9,38.3 497.5,55.8 498.1,48.2 498.7,62.8 499.3,29.0 500.0,50.9 500.6,44.2 501.2,79.6 501.8,75.5 502.4,71.1 503.0,94.2 503.6,86.4 504.2,109.3 504.8,102.1 505.4,111.7 506.0,111.9 506.6,128.6 507.3,152.2 507.9,141.3 508.5,166.7 509.1,156.3 509.7,157.0 510.3,174.2 510.9,193.8 511.5,186.3 512.1,205.1 512.7,227.0 513.3,227.5 514.0,220.1 514.6,243.8 515.2,248.1 515.8,260.0 516.4,279.1 517.0,276.2 517.6,275.9 518.2,284.1 518.8,294.2 519.4,316.9 520.0,296.2 520.6,306.8 521.3,310.8 521.9,314.8 522.5,334.4 523.1,341.2 523.7,339.5 524.3,334.3 524.9,364.5 525.5,357.9 526.1,365.8 526.7,360.4 527.3,357.7 527.9,374.4 528.6,384.8 529.2,378.9 529.8,384.6 530.4,396.7 531.0,382.4 531.6,395.3 532.2,389.5 532.8,406.1 533.4,391.7 534.0,411.7 534.6,396.6 535.3,418.5 535.9,398.4 536.5,412.4 537.1,422.3 537.7,415.0 538.3,412.8 538.9,423.4 539.5,421.5 540.1,417.9 540.7,422.2 541.3,443.0 541.9,426.7 542.6,422.2 543.2,424.4 543.8,420.8 544.4,433.3 545.0,413.0 545.6,425.7 546.2,430.0 546.8,426.0 547.4,427.9 548.0,434.5 548.6,440.2 549.2,430.4 549.9,435.3 550.5,451.3 551.1,447.1 551.7,437.8 552.3,441.1 552.9,440.9 553.5,439.4 554.1,443.5 554.7,435.1 555.3,449.9 555.9,449.5 556.6,445.6 557.2,443.7 557.8,444.3 558.4,440.6 559.0,453.9 559.6,444.2 560.2,449.3 560.8,459.6 561.4,454.6 562.0,441.3 562.6,450.2 563.2,458.7 563.9,471.5 564.5,461.7 565.1,462.1 565.7,457.9 566.3,444.5 566.9,454.9 567.5,458.2 568.1,466.6 568.7,468.7 569.3,463.1 569.9,465.3 570.5,444.2 571.2,465.9 571.8,467.7 572.4,457.4 573.0,464.4 573.6,473.0 574.2,457.8 574.8,468.2 575.4,474.9 576.0,465.1 576.6,464.5 577.2,470.0 577.8,464.1 578.5,463.8 579.1,474.6 579.7,482.3 580.3,484.7 580.9,471.2 581.5,463.3 582.1,465.0 582.7,463.0 583.3,460.5 583.9,472.1 584.5,466.1 585.2,482.2 585.8,468.9 586.4,471.0 587.0,474.2 587.6,476.6 588.2,480.9 588.8,473.5 589.4,466.7 590.0,476.9 590.6,471.6 591.2,479.0 591.8,473.6 592.5,481.4 593.1,473.2 593.7,476.9 594.3,473.8 594.9,479.5 595.5,483.1 596.1,478.1 596.7,470.0 597.3,466.8 597.9,478.4 598.5,471.7 599.1,472.1 599.8,474.4 600.4,486.3 601.0,475.1 601.6,483.0 602.2,470.1 602.8,472.6 603.4,473.7 604.0,492.8 604.6,473.9 605.2,473.5 605.8,485.5 606.5,472.0 607.1,477.5 607.7,479.2 608.3,482.4 608.9,484.4 609.5,480.9 610.1,459.8 610.7,477.2 611.3,477.3 611.9,482.5 612.5,482.4 613.1,482.1 613.8,484.1 614.4,473.6 615.0,480.6 615.6,473.8 616.2,486.0 616.8,473.5 617.4,479.3 618.0,475.2 618.6,479.9 619.2,484.7 619.8,472.1 620.4,482.1 621.1,480.4 621.7,484.9 622.3,478.3 622.9,482.0 623.5,478.0 624.1,477.6 624.7,483.9 625.3,488.3 625.9,477.2 626.5,474.4 627.1,475.7 627.8,486.8 628.4,476.4 629.0,477.7 629.6,478.4 630.2,477.5 630.8,482.1 631.4,478.9 632.0,474.7 632.6,483.3 633.2,489.0 633.8,481.0 634.4,479.2 635.1,491.5 635.7,484.5 636.3,477.0 636.9,481.4 637.5,480.0 638.1,488.2 638.7,475.2 639.3,470.2 639.9,481.9 640.5,485.2 641.1,487.8 641.7,475.5 642.4,480.3 643.0,485.7 643.6,473.7 644.2,476.4 644.8,477.5 645.4,491.7 646.0,481.8 646.6,477.5 647.2,488.6 647.8,475.7 648.4,472.8 649.1,475.2 649.7,485.7 650.3,485.7 650.9,475.9 651.5,475.6 652.1,474.2 652.7,474.4 653.3,482.3 653.9,484.2 654.5,492.8 655.1,477.1 655.7,468.2 656.4,484.6 657.0,484.7 657.6,478.0 658.2,479.7 658.8,490.2 659.4,486.3 660.0,488.6 660.6,470.0 661.2,486.4 661.8,477.1 662.4,470.7 663.0,470.9 663.7,473.8 664.3,472.6 664.9,489.7 665.5,484.5 666.1,486.8 666.7,484.2 667.3,466.8 667.9,492.6 668.5,479.2 669.1,490.0 669.7,474.6 670.3,474.9 671.0,485.8 671.6,470.4 672.2,482.3 672.8,475.0 673.4,481.0 674.0,486.2 674.6,485.2 675.2,483.7 675.8,479.3 676.4,482.3 677.0,469.0 677.7,484.2 678.3,485.9 678.9,487.4 679.5,487.8 680.1,491.8 680.7,489.1 681.3,477.9 681.9,483.0 682.5,484.4 683.1,481.3 683.7,477.1 684.3,479.8 685.0,478.9 685.6,486.9 686.2,485.1 686.8,488.2 687.4,484.2 688.0,488.6 688.6,485.9 689.2,484.8 689.8,485.1 690.4,485.4 691.0,486.8 691.6,476.1 692.3,486.0 692.9,490.0 693.5,482.8 694.1,490.5 694.7,490.4 695.3,483.6" stroke="#000" stroke-width="3.7"/>
</g>
<rect x="86.75" y="8.00" width="608.55" height="489.90" fill="none" stroke="#000" stroke-width="3.3"/>
<path d="M137.46,497.90v-5.0M137.46,8.00v5.0M188.17,497.90v-10.2M188.17,8.00v10.2M238.89,497.90v-5.0M238.89,8.00v5.0M289.60,497.90v-10.2M289.60,8.00v10.2M340.31,497.90v-5.0M340.31,8.00v5.0M391.02,497.90v-10.2M391.02,8.00v10.2M441.74,497.90v-5.0M441.74,8.00v5.0M492.45,497.90v-10.2M492.45,8.00v10.2M543.16,497.90v-5.0M543.16,8.00v5.0M593.88,497.90v-10.2M593.88,8.00v10.2M644.59,497.90v-5.0M644.59,8.00v5.0M86.75,484.40h10.2M695.30,484.40h-10.2M86.75,418.21h10.2M695.30,418.21h-10.2M86.75,352.03h10.2M695.30,352.03h-10.2M86.75,285.84h10.2M695.30,285.84h-10.2M86.75,219.66h10.2M695.30,219.66h-10.2M86.75,153.47h10.2M695.30,153.47h-10.2M86.75,87.29h10.2M695.30,87.29h-10.2M86.75,21.10h10.2M695.30,21.10h-10.2M86.75,451.31h5.0M695.30,451.31h-5.0M86.75,385.12h5.0M695.30,385.12h-5.0M86.75,318.94h5.0M695.30,318.94h-5.0M86.75,252.75h5.0M695.30,252.75h-5.0M86.75,186.57h5.0M695.30,186.57h-5.0M86.75,120.38h5.0M695.30,120.38h-5.0M86.75,54.20h5.0M695.30,54.20h-5.0" stroke="#000" stroke-width="2.6" fill="none"/>
<g class="tl"><text x="86.75" y="530.50" text-anchor="middle">800</text><text x="188.17" y="530.50" text-anchor="middle">1000</text><text x="289.60" y="530.50" text-anchor="middle">1200</text><text x="391.02" y="530.50" text-anchor="middle">1400</text><text x="492.45" y="530.50" text-anchor="middle">1600</text><text x="593.88" y="530.50" text-anchor="middle">1800</text><text x="695.30" y="530.50" text-anchor="middle">2000</text><text x="76.80" y="493.70" text-anchor="end">0</text><text x="76.80" y="427.51" text-anchor="end">50</text><text x="76.80" y="361.33" text-anchor="end">100</text><text x="76.80" y="295.14" text-anchor="end">150</text><text x="76.80" y="228.96" text-anchor="end">200</text><text x="76.80" y="162.77" text-anchor="end">250</text><text x="76.80" y="96.59" text-anchor="end">300</text><text x="76.80" y="30.40" text-anchor="end">350</text></g>
<text class="let" x="100.1" y="52.9">A</text>
<text class="rat" transform="translate(534.4,81.7) scale(1,1.07)">I<tspan class="sub" dy="7.4">D</tspan><tspan dy="-7.4">/I</tspan><tspan class="sub" dy="7.4">G</tspan><tspan dy="-7.4">=2.315</tspan></text>
<text class="ttl" style="font-size:30px" x="270.5" y="581.8">Raman shift (cm<tspan class="sup" dy="-12.5">-1</tspan><tspan dy="12.5">)</tspan></text>
<text class="ttl" style="font-size:30px" transform="translate(23.5,252.0) rotate(-90)" text-anchor="middle">Intensity (a.u.)</text>
<text class="ann" style="font-size:30px" x="161.4" y="109.2">observed</text>
<text class="ann" style="font-size:30px" x="161.4" y="146.2">spectrum and</text>
<text class="ann" style="font-size:30px" x="161.4" y="183.0">curve fit</text>
<line x1="271.2" y1="180.2" x2="316.5" y2="223.9" stroke="#000" stroke-width="3.6"/><polygon points="331.6,238.5 310.5,227.3 319.6,217.8" fill="#000"/>
<line x1="236.0" y1="342.0" x2="284.9" y2="365.1" stroke="#FF0000" stroke-width="3.6"/><polygon points="303.9,374.1 280.3,370.2 285.9,358.3" fill="#FF0000"/>
<text class="ann" style="font-size:30px" x="212.3" y="332.1" fill="#FF0000">D1</text>
<line x1="191.4" y1="415.7" x2="223.2" y2="448.3" stroke="#000000" stroke-width="3.6"/><polygon points="237.8,463.4 217.0,451.5 226.5,442.3" fill="#000000"/>
<text class="ann" style="font-size:30px" x="169.1" y="411.6" fill="#000000">D4</text>
<line x1="552.0" y1="236.6" x2="525.9" y2="251.1" stroke="#A674DC" stroke-width="3.6"/><polygon points="507.5,261.3 524.4,244.4 530.8,255.9" fill="#A674DC"/>
<text class="ann" style="font-size:30px" x="550.6" y="226.7" fill="#A674DC">D2</text>
<line x1="559.0" y1="359.3" x2="515.4" y2="394.7" stroke="#2EA85E" stroke-width="3.6"/><polygon points="499.1,407.9 512.8,388.3 521.1,398.5" fill="#2EA85E"/>
<text class="ann" style="font-size:30px" x="560.2" y="355.5" fill="#2EA85E">G</text>
<line x1="599.5" y1="399.1" x2="533.8" y2="453.3" stroke="#1A66DD" stroke-width="3.6"/><polygon points="517.6,466.7 531.1,447.0 539.5,457.1" fill="#1A66DD"/>
<text class="ann" style="font-size:30px" x="601.4" y="404.9" fill="#1A66DD">D3</text>
<clipPath id="clipB"><rect x="830.20" y="4.50" width="596.80" height="480.70"/></clipPath>
<g clip-path="url(#clipB)" fill="none" stroke-linejoin="round">
<polyline points="830.2,484.4 831.2,484.4 832.2,484.4 833.2,484.4 834.2,484.4 835.2,484.3 836.2,484.3 837.2,484.3 838.2,484.3 839.2,484.3 840.1,484.3 841.1,484.3 842.1,484.3 843.1,484.3 844.1,484.3 845.1,484.3 846.1,484.3 847.1,484.3 848.1,484.3 849.1,484.3 850.1,484.3 851.1,484.3 852.1,484.3 853.1,484.3 854.1,484.3 855.1,484.3 856.1,484.3 857.1,484.2 858.1,484.2 859.0,484.2 860.0,484.2 861.0,484.2 862.0,484.2 863.0,484.2 864.0,484.2 865.0,484.2 866.0,484.2 867.0,484.2 868.0,484.2 869.0,484.2 870.0,484.2 871.0,484.2 872.0,484.2 873.0,484.1 874.0,484.1 875.0,484.1 876.0,484.1 876.9,484.1 877.9,484.1 878.9,484.1 879.9,484.1 880.9,484.1 881.9,484.1 882.9,484.1 883.9,484.1 884.9,484.0 885.9,484.0 886.9,484.0 887.9,484.0 888.9,484.0 889.9,484.0 890.9,484.0 891.9,484.0 892.9,484.0 893.9,483.9 894.9,483.9 895.8,483.9 896.8,483.9 897.8,483.9 898.8,483.9 899.8,483.9 900.8,483.9 901.8,483.8 902.8,483.8 903.8,483.8 904.8,483.8 905.8,483.8 906.8,483.8 907.8,483.8 908.8,483.7 909.8,483.7 910.8,483.7 911.8,483.7 912.8,483.7 913.8,483.7 914.7,483.6 915.7,483.6 916.7,483.6 917.7,483.6 918.7,483.6 919.7,483.5 920.7,483.5 921.7,483.5 922.7,483.5 923.7,483.4 924.7,483.4 925.7,483.4 926.7,483.4 927.7,483.3 928.7,483.3 929.7,483.3 930.7,483.2 931.7,483.2 932.7,483.2 933.6,483.1 934.6,483.1 935.6,483.1 936.6,483.0 937.6,483.0 938.6,483.0 939.6,482.9 940.6,482.9 941.6,482.8 942.6,482.8 943.6,482.7 944.6,482.7 945.6,482.6 946.6,482.5 947.6,482.5 948.6,482.4 949.6,482.3 950.6,482.2 951.5,482.1 952.5,482.1 953.5,482.0 954.5,481.8 955.5,481.7 956.5,481.6 957.5,481.5 958.5,481.3 959.5,481.2 960.5,481.0 961.5,480.8 962.5,480.6 963.5,480.4 964.5,480.1 965.5,479.9 966.5,479.6 967.5,479.3 968.5,479.0 969.5,478.6 970.4,478.2 971.4,477.8 972.4,477.4 973.4,476.9 974.4,476.4 975.4,475.9 976.4,475.3 977.4,474.7 978.4,474.0 979.4,473.3 980.4,472.5 981.4,471.7 982.4,470.9 983.4,470.0 984.4,469.0 985.4,468.0 986.4,467.0 987.4,465.9 988.4,464.8 989.3,463.6 990.3,462.3 991.3,461.0 992.3,459.7 993.3,458.3 994.3,456.9 995.3,455.5 996.3,454.0 997.3,452.5 998.3,451.0 999.3,449.4 1000.3,447.8 1001.3,446.3 1002.3,444.7 1003.3,443.1 1004.3,441.6 1005.3,440.1 1006.3,438.6 1007.3,437.1 1008.2,435.7 1009.2,434.3 1010.2,433.1 1011.2,431.9 1012.2,430.8 1013.2,429.7 1014.2,428.8 1015.2,428.1 1016.2,427.4 1017.2,426.9 1018.2,426.5 1019.2,426.3 1020.2,426.2 1021.2,426.3 1022.2,426.5 1023.2,426.9 1024.2,427.4 1025.2,428.1 1026.1,428.8 1027.1,429.7 1028.1,430.8 1029.1,431.9 1030.1,433.1 1031.1,434.3 1032.1,435.7 1033.1,437.1 1034.1,438.6 1035.1,440.1 1036.1,441.6 1037.1,443.1 1038.1,444.7 1039.1,446.3 1040.1,447.8 1041.1,449.4 1042.1,451.0 1043.1,452.5 1044.1,454.0 1045.0,455.5 1046.0,456.9 1047.0,458.3 1048.0,459.7 1049.0,461.0 1050.0,462.3 1051.0,463.6 1052.0,464.8 1053.0,465.9 1054.0,467.0 1055.0,468.0 1056.0,469.0 1057.0,470.0 1058.0,470.9 1059.0,471.7 1060.0,472.5 1061.0,473.3 1062.0,474.0 1063.0,474.7 1063.9,475.3 1064.9,475.9 1065.9,476.4 1066.9,476.9 1067.9,477.4 1068.9,477.8 1069.9,478.2 1070.9,478.6 1071.9,479.0 1072.9,479.3 1073.9,479.6 1074.9,479.9 1075.9,480.1 1076.9,480.4 1077.9,480.6 1078.9,480.8 1079.9,481.0 1080.9,481.2 1081.9,481.3 1082.8,481.5 1083.8,481.6 1084.8,481.7 1085.8,481.8 1086.8,482.0 1087.8,482.1 1088.8,482.1 1089.8,482.2 1090.8,482.3 1091.8,482.4 1092.8,482.5 1093.8,482.5 1094.8,482.6 1095.8,482.7 1096.8,482.7 1097.8,482.8 1098.8,482.8 1099.8,482.9 1100.7,482.9 1101.7,483.0 1102.7,483.0 1103.7,483.0 1104.7,483.1 1105.7,483.1 1106.7,483.1 1107.7,483.2 1108.7,483.2 1109.7,483.2 1110.7,483.3 1111.7,483.3 1112.7,483.3 1113.7,483.4 1114.7,483.4 1115.7,483.4 1116.7,483.4 1117.7,483.5 1118.7,483.5 1119.6,483.5 1120.6,483.5 1121.6,483.6 1122.6,483.6 1123.6,483.6 1124.6,483.6 1125.6,483.6 1126.6,483.7 1127.6,483.7 1128.6,483.7 1129.6,483.7 1130.6,483.7 1131.6,483.7 1132.6,483.8 1133.6,483.8 1134.6,483.8 1135.6,483.8 1136.6,483.8 1137.6,483.8 1138.5,483.8 1139.5,483.9 1140.5,483.9 1141.5,483.9 1142.5,483.9 1143.5,483.9 1144.5,483.9 1145.5,483.9 1146.5,483.9 1147.5,484.0 1148.5,484.0 1149.5,484.0 1150.5,484.0 1151.5,484.0 1152.5,484.0 1153.5,484.0 1154.5,484.0 1155.5,484.0 1156.5,484.1 1157.4,484.1 1158.4,484.1 1159.4,484.1 1160.4,484.1 1161.4,484.1 1162.4,484.1 1163.4,484.1 1164.4,484.1 1165.4,484.1 1166.4,484.1 1167.4,484.1 1168.4,484.2 1169.4,484.2 1170.4,484.2 1171.4,484.2 1172.4,484.2 1173.4,484.2 1174.4,484.2 1175.3,484.2 1176.3,484.2 1177.3,484.2 1178.3,484.2 1179.3,484.2 1180.3,484.2 1181.3,484.2 1182.3,484.2 1183.3,484.2 1184.3,484.3 1185.3,484.3 1186.3,484.3 1187.3,484.3 1188.3,484.3 1189.3,484.3 1190.3,484.3 1191.3,484.3 1192.3,484.3 1193.3,484.3 1194.2,484.3 1195.2,484.3 1196.2,484.3 1197.2,484.3 1198.2,484.3 1199.2,484.3 1200.2,484.3 1201.2,484.3 1202.2,484.3 1203.2,484.3 1204.2,484.3 1205.2,484.3 1206.2,484.4 1207.2,484.4 1208.2,484.4 1209.2,484.4 1210.2,484.4 1211.2,484.4 1212.2,484.4 1213.1,484.4 1214.1,484.4 1215.1,484.4 1216.1,484.4 1217.1,484.4 1218.1,484.4 1219.1,484.4 1220.1,484.4 1221.1,484.4 1222.1,484.4 1223.1,484.4 1224.1,484.4 1225.1,484.4 1226.1,484.4 1227.1,484.4 1228.1,484.4 1229.1,484.4 1230.1,484.4 1231.1,484.4 1232.0,484.4 1233.0,484.4 1234.0,484.4 1235.0,484.4 1236.0,484.4 1237.0,484.4 1238.0,484.4 1239.0,484.5 1240.0,484.5 1241.0,484.5 1242.0,484.5 1243.0,484.5 1244.0,484.5 1245.0,484.5 1246.0,484.5 1247.0,484.5 1248.0,484.5 1249.0,484.5 1249.9,484.5 1250.9,484.5 1251.9,484.5 1252.9,484.5 1253.9,484.5 1254.9,484.5 1255.9,484.5 1256.9,484.5 1257.9,484.5 1258.9,484.5 1259.9,484.5 1260.9,484.5 1261.9,484.5 1262.9,484.5 1263.9,484.5 1264.9,484.5 1265.9,484.5 1266.9,484.5 1267.9,484.5 1268.8,484.5 1269.8,484.5 1270.8,484.5 1271.8,484.5 1272.8,484.5 1273.8,484.5 1274.8,484.5 1275.8,484.5 1276.8,484.5 1277.8,484.5 1278.8,484.5 1279.8,484.5 1280.8,484.5 1281.8,484.5 1282.8,484.5 1283.8,484.5 1284.8,484.5 1285.8,484.5 1286.8,484.5 1287.7,484.5 1288.7,484.5 1289.7,484.5 1290.7,484.5 1291.7,484.5 1292.7,484.5 1293.7,484.5 1294.7,484.5 1295.7,484.5 1296.7,484.5 1297.7,484.6 1298.7,484.6 1299.7,484.6 1300.7,484.6 1301.7,484.6 1302.7,484.6 1303.7,484.6 1304.7,484.6 1305.7,484.6 1306.6,484.6 1307.6,484.6 1308.6,484.6 1309.6,484.6 1310.6,484.6 1311.6,484.6 1312.6,484.6 1313.6,484.6 1314.6,484.6 1315.6,484.6 1316.6,484.6 1317.6,484.6 1318.6,484.6 1319.6,484.6 1320.6,484.6 1321.6,484.6 1322.6,484.6 1323.6,484.6 1324.5,484.6 1325.5,484.6 1326.5,484.6 1327.5,484.6 1328.5,484.6 1329.5,484.6 1330.5,484.6 1331.5,484.6 1332.5,484.6 1333.5,484.6 1334.5,484.6 1335.5,484.6 1336.5,484.6 1337.5,484.6 1338.5,484.6 1339.5,484.6 1340.5,484.6 1341.5,484.6 1342.5,484.6 1343.4,484.6 1344.4,484.6 1345.4,484.6 1346.4,484.6 1347.4,484.6 1348.4,484.6 1349.4,484.6 1350.4,484.6 1351.4,484.6 1352.4,484.6 1353.4,484.6 1354.4,484.6 1355.4,484.6 1356.4,484.6 1357.4,484.6 1358.4,484.6 1359.4,484.6 1360.4,484.6 1361.4,484.6 1362.3,484.6 1363.3,484.6 1364.3,484.6 1365.3,484.6 1366.3,484.6 1367.3,484.6 1368.3,484.6 1369.3,484.6 1370.3,484.6 1371.3,484.6 1372.3,484.6 1373.3,484.6 1374.3,484.6 1375.3,484.6 1376.3,484.6 1377.3,484.6 1378.3,484.6 1379.3,484.6 1380.3,484.6 1381.2,484.6 1382.2,484.6 1383.2,484.6 1384.2,484.6 1385.2,484.6 1386.2,484.6 1387.2,484.6 1388.2,484.6 1389.2,484.6 1390.2,484.6 1391.2,484.6 1392.2,484.6 1393.2,484.6 1394.2,484.6 1395.2,484.6 1396.2,484.6 1397.2,484.6 1398.2,484.6 1399.1,484.6 1400.1,484.6 1401.1,484.6 1402.1,484.6 1403.1,484.6 1404.1,484.6 1405.1,484.6 1406.1,484.6 1407.1,484.6 1408.1,484.6 1409.1,484.6 1410.1,484.6 1411.1,484.6 1412.1,484.6 1413.1,484.6 1414.1,484.6 1415.1,484.6 1416.1,484.6 1417.1,484.6 1418.0,484.6 1419.0,484.6 1420.0,484.6 1421.0,484.6 1422.0,484.6 1423.0,484.6 1424.0,484.6 1425.0,484.6 1426.0,484.6 1427.0,484.6" stroke="#555555" stroke-width="3.3" stroke-dasharray="13 13 2 13 2 13" stroke-linecap="round"/>
<polyline points="830.2,484.7 831.2,484.7 832.2,484.7 833.2,484.7 834.2,484.7 835.2,484.7 836.2,484.7 837.2,484.7 838.2,484.7 839.2,484.7 840.1,484.7 841.1,484.7 842.1,484.7 843.1,484.7 844.1,484.7 845.1,484.7 846.1,484.7 847.1,484.7 848.1,484.7 849.1,484.7 850.1,484.7 851.1,484.7 852.1,484.7 853.1,484.7 854.1,484.7 855.1,484.7 856.1,484.7 857.1,484.7 858.1,484.7 859.0,484.7 860.0,484.7 861.0,484.7 862.0,484.7 863.0,484.7 864.0,484.7 865.0,484.7 866.0,484.7 867.0,484.7 868.0,484.7 869.0,484.7 870.0,484.7 871.0,484.7 872.0,484.7 873.0,484.7 874.0,484.7 875.0,484.7 876.0,484.7 876.9,484.7 877.9,484.7 878.9,484.7 879.9,484.7 880.9,484.7 881.9,484.7 882.9,484.7 883.9,484.7 884.9,484.7 885.9,484.7 886.9,484.7 887.9,484.7 888.9,484.7 889.9,484.7 890.9,484.7 891.9,484.7 892.9,484.7 893.9,484.7 894.9,484.7 895.8,484.7 896.8,484.7 897.8,484.7 898.8,484.7 899.8,484.7 900.8,484.7 901.8,484.7 902.8,484.7 903.8,484.7 904.8,484.7 905.8,484.7 906.8,484.7 907.8,484.7 908.8,484.7 909.8,484.7 910.8,484.7 911.8,484.7 912.8,484.7 913.8,484.7 914.7,484.7 915.7,484.7 916.7,484.7 917.7,484.7 918.7,484.7 919.7,484.7 920.7,484.7 921.7,484.7 922.7,484.7 923.7,484.7 924.7,484.7 925.7,484.7 926.7,484.7 927.7,484.7 928.7,484.7 929.7,484.7 930.7,484.7 931.7,484.7 932.7,484.7 933.6,484.7 934.6,484.7 935.6,484.7 936.6,484.7 937.6,484.7 938.6,484.7 939.6,484.7 940.6,484.7 941.6,484.7 942.6,484.7 943.6,484.7 944.6,484.7 945.6,484.7 946.6,484.7 947.6,484.7 948.6,484.7 949.6,484.7 950.6,484.7 951.5,484.7 952.5,484.7 953.5,484.7 954.5,484.7 955.5,484.7 956.5,484.7 957.5,484.7 958.5,484.7 959.5,484.7 960.5,484.7 961.5,484.7 962.5,484.7 963.5,484.7 964.5,484.7 965.5,484.7 966.5,484.7 967.5,484.7 968.5,484.7 969.5,484.7 970.4,484.7 971.4,484.7 972.4,484.7 973.4,484.7 974.4,484.7 975.4,484.7 976.4,484.7 977.4,484.7 978.4,484.7 979.4,484.7 980.4,484.7 981.4,484.7 982.4,484.7 983.4,484.7 984.4,484.7 985.4,484.7 986.4,484.7 987.4,484.7 988.4,484.7 989.3,484.7 990.3,484.7 991.3,484.7 992.3,484.7 993.3,484.7 994.3,484.7 995.3,484.7 996.3,484.7 997.3,484.7 998.3,484.7 999.3,484.7 1000.3,484.7 1001.3,484.7 1002.3,484.7 1003.3,484.7 1004.3,484.7 1005.3,484.7 1006.3,484.7 1007.3,484.7 1008.2,484.7 1009.2,484.7 1010.2,484.7 1011.2,484.7 1012.2,484.7 1013.2,484.7 1014.2,484.7 1015.2,484.7 1016.2,484.7 1017.2,484.7 1018.2,484.7 1019.2,484.7 1020.2,484.7 1021.2,484.7 1022.2,484.7 1023.2,484.7 1024.2,484.7 1025.2,484.7 1026.1,484.7 1027.1,484.7 1028.1,484.7 1029.1,484.7 1030.1,484.7 1031.1,484.7 1032.1,484.7 1033.1,484.7 1034.1,484.7 1035.1,484.7 1036.1,484.7 1037.1,484.7 1038.1,484.7 1039.1,484.7 1040.1,484.7 1041.1,484.7 1042.1,484.7 1043.1,484.7 1044.1,484.7 1045.0,484.7 1046.0,484.7 1047.0,484.7 1048.0,484.7 1049.0,484.7 1050.0,484.7 1051.0,484.7 1052.0,484.7 1053.0,484.7 1054.0,484.7 1055.0,484.7 1056.0,484.7 1057.0,484.7 1058.0,484.7 1059.0,484.7 1060.0,484.7 1061.0,484.7 1062.0,484.7 1063.0,484.7 1063.9,484.7 1064.9,484.7 1065.9,484.7 1066.9,484.7 1067.9,484.7 1068.9,484.7 1069.9,484.7 1070.9,484.7 1071.9,484.7 1072.9,484.7 1073.9,484.7 1074.9,484.7 1075.9,484.7 1076.9,484.7 1077.9,484.7 1078.9,484.7 1079.9,484.7 1080.9,484.7 1081.9,484.7 1082.8,484.7 1083.8,484.7 1084.8,484.7 1085.8,484.7 1086.8,484.7 1087.8,484.7 1088.8,484.7 1089.8,484.7 1090.8,484.7 1091.8,484.7 1092.8,484.7 1093.8,484.7 1094.8,484.7 1095.8,484.7 1096.8,484.7 1097.8,484.7 1098.8,484.7 1099.8,484.7 1100.7,484.7 1101.7,484.7 1102.7,484.7 1103.7,484.7 1104.7,484.7 1105.7,484.7 1106.7,484.7 1107.7,484.7 1108.7,484.7 1109.7,484.7 1110.7,484.7 1111.7,484.7 1112.7,484.7 1113.7,484.7 1114.7,484.7 1115.7,484.7 1116.7,484.7 1117.7,484.7 1118.7,484.7 1119.6,484.7 1120.6,484.7 1121.6,484.7 1122.6,484.7 1123.6,484.7 1124.6,484.7 1125.6,484.7 1126.6,484.7 1127.6,484.7 1128.6,484.7 1129.6,484.7 1130.6,484.7 1131.6,484.7 1132.6,484.7 1133.6,484.7 1134.6,484.7 1135.6,484.7 1136.6,484.7 1137.6,484.6 1138.5,484.6 1139.5,484.6 1140.5,484.5 1141.5,484.5 1142.5,484.4 1143.5,484.3 1144.5,484.3 1145.5,484.1 1146.5,484.0 1147.5,483.8 1148.5,483.6 1149.5,483.4 1150.5,483.1 1151.5,482.8 1152.5,482.4 1153.5,482.0 1154.5,481.5 1155.5,481.0 1156.5,480.4 1157.4,479.7 1158.4,478.9 1159.4,478.1 1160.4,477.1 1161.4,476.1 1162.4,475.1 1163.4,474.0 1164.4,472.8 1165.4,471.5 1166.4,470.2 1167.4,468.9 1168.4,467.6 1169.4,466.3 1170.4,465.0 1171.4,463.8 1172.4,462.6 1173.4,461.5 1174.4,460.4 1175.3,459.5 1176.3,458.7 1177.3,458.1 1178.3,457.6 1179.3,457.3 1180.3,457.1 1181.3,457.1 1182.3,457.3 1183.3,457.6 1184.3,458.1 1185.3,458.7 1186.3,459.5 1187.3,460.4 1188.3,461.5 1189.3,462.6 1190.3,463.8 1191.3,465.0 1192.3,466.3 1193.3,467.6 1194.2,468.9 1195.2,470.2 1196.2,471.5 1197.2,472.8 1198.2,474.0 1199.2,475.1 1200.2,476.1 1201.2,477.1 1202.2,478.1 1203.2,478.9 1204.2,479.7 1205.2,480.4 1206.2,481.0 1207.2,481.5 1208.2,482.0 1209.2,482.4 1210.2,482.8 1211.2,483.1 1212.2,483.4 1213.1,483.6 1214.1,483.8 1215.1,484.0 1216.1,484.1 1217.1,484.3 1218.1,484.3 1219.1,484.4 1220.1,484.5 1221.1,484.5 1222.1,484.6 1223.1,484.6 1224.1,484.6 1225.1,484.7 1226.1,484.7 1227.1,484.7 1228.1,484.7 1229.1,484.7 1230.1,484.7 1231.1,484.7 1232.0,484.7 1233.0,484.7 1234.0,484.7 1235.0,484.7 1236.0,484.7 1237.0,484.7 1238.0,484.7 1239.0,484.7 1240.0,484.7 1241.0,484.7 1242.0,484.7 1243.0,484.7 1244.0,484.7 1245.0,484.7 1246.0,484.7 1247.0,484.7 1248.0,484.7 1249.0,484.7 1249.9,484.7 1250.9,484.7 1251.9,484.7 1252.9,484.7 1253.9,484.7 1254.9,484.7 1255.9,484.7 1256.9,484.7 1257.9,484.7 1258.9,484.7 1259.9,484.7 1260.9,484.7 1261.9,484.7 1262.9,484.7 1263.9,484.7 1264.9,484.7 1265.9,484.7 1266.9,484.7 1267.9,484.7 1268.8,484.7 1269.8,484.7 1270.8,484.7 1271.8,484.7 1272.8,484.7 1273.8,484.7 1274.8,484.7 1275.8,484.7 1276.8,484.7 1277.8,484.7 1278.8,484.7 1279.8,484.7 1280.8,484.7 1281.8,484.7 1282.8,484.7 1283.8,484.7 1284.8,484.7 1285.8,484.7 1286.8,484.7 1287.7,484.7 1288.7,484.7 1289.7,484.7 1290.7,484.7 1291.7,484.7 1292.7,484.7 1293.7,484.7 1294.7,484.7 1295.7,484.7 1296.7,484.7 1297.7,484.7 1298.7,484.7 1299.7,484.7 1300.7,484.7 1301.7,484.7 1302.7,484.7 1303.7,484.7 1304.7,484.7 1305.7,484.7 1306.6,484.7 1307.6,484.7 1308.6,484.7 1309.6,484.7 1310.6,484.7 1311.6,484.7 1312.6,484.7 1313.6,484.7 1314.6,484.7 1315.6,484.7 1316.6,484.7 1317.6,484.7 1318.6,484.7 1319.6,484.7 1320.6,484.7 1321.6,484.7 1322.6,484.7 1323.6,484.7 1324.5,484.7 1325.5,484.7 1326.5,484.7 1327.5,484.7 1328.5,484.7 1329.5,484.7 1330.5,484.7 1331.5,484.7 1332.5,484.7 1333.5,484.7 1334.5,484.7 1335.5,484.7 1336.5,484.7 1337.5,484.7 1338.5,484.7 1339.5,484.7 1340.5,484.7 1341.5,484.7 1342.5,484.7 1343.4,484.7 1344.4,484.7 1345.4,484.7 1346.4,484.7 1347.4,484.7 1348.4,484.7 1349.4,484.7 1350.4,484.7 1351.4,484.7 1352.4,484.7 1353.4,484.7 1354.4,484.7 1355.4,484.7 1356.4,484.7 1357.4,484.7 1358.4,484.7 1359.4,484.7 1360.4,484.7 1361.4,484.7 1362.3,484.7 1363.3,484.7 1364.3,484.7 1365.3,484.7 1366.3,484.7 1367.3,484.7 1368.3,484.7 1369.3,484.7 1370.3,484.7 1371.3,484.7 1372.3,484.7 1373.3,484.7 1374.3,484.7 1375.3,484.7 1376.3,484.7 1377.3,484.7 1378.3,484.7 1379.3,484.7 1380.3,484.7 1381.2,484.7 1382.2,484.7 1383.2,484.7 1384.2,484.7 1385.2,484.7 1386.2,484.7 1387.2,484.7 1388.2,484.7 1389.2,484.7 1390.2,484.7 1391.2,484.7 1392.2,484.7 1393.2,484.7 1394.2,484.7 1395.2,484.7 1396.2,484.7 1397.2,484.7 1398.2,484.7 1399.1,484.7 1400.1,484.7 1401.1,484.7 1402.1,484.7 1403.1,484.7 1404.1,484.7 1405.1,484.7 1406.1,484.7 1407.1,484.7 1408.1,484.7 1409.1,484.7 1410.1,484.7 1411.1,484.7 1412.1,484.7 1413.1,484.7 1414.1,484.7 1415.1,484.7 1416.1,484.7 1417.1,484.7 1418.0,484.7 1419.0,484.7 1420.0,484.7 1421.0,484.7 1422.0,484.7 1423.0,484.7 1424.0,484.7 1425.0,484.7 1426.0,484.7 1427.0,484.7" stroke="#1A66DD" stroke-width="3.3" stroke-dasharray="1.5 20" stroke-linecap="round"/>
<polyline points="830.2,476.9 831.2,476.8 832.2,476.8 833.2,476.7 834.2,476.7 835.2,476.6 836.2,476.5 837.2,476.5 838.2,476.4 839.2,476.4 840.1,476.3 841.1,476.2 842.1,476.2 843.1,476.1 844.1,476.1 845.1,476.0 846.1,475.9 847.1,475.9 848.1,475.8 849.1,475.7 850.1,475.7 851.1,475.6 852.1,475.5 853.1,475.4 854.1,475.4 855.1,475.3 856.1,475.2 857.1,475.2 858.1,475.1 859.0,475.0 860.0,474.9 861.0,474.9 862.0,474.8 863.0,474.7 864.0,474.6 865.0,474.5 866.0,474.5 867.0,474.4 868.0,474.3 869.0,474.2 870.0,474.1 871.0,474.0 872.0,474.0 873.0,473.9 874.0,473.8 875.0,473.7 876.0,473.6 876.9,473.5 877.9,473.4 878.9,473.3 879.9,473.2 880.9,473.1 881.9,473.0 882.9,472.9 883.9,472.8 884.9,472.7 885.9,472.6 886.9,472.5 887.9,472.4 888.9,472.3 889.9,472.2 890.9,472.1 891.9,472.0 892.9,471.9 893.9,471.7 894.9,471.6 895.8,471.5 896.8,471.4 897.8,471.3 898.8,471.2 899.8,471.0 900.8,470.9 901.8,470.8 902.8,470.6 903.8,470.5 904.8,470.4 905.8,470.2 906.8,470.1 907.8,470.0 908.8,469.8 909.8,469.7 910.8,469.5 911.8,469.4 912.8,469.2 913.8,469.1 914.7,468.9 915.7,468.8 916.7,468.6 917.7,468.5 918.7,468.3 919.7,468.1 920.7,468.0 921.7,467.8 922.7,467.6 923.7,467.4 924.7,467.3 925.7,467.1 926.7,466.9 927.7,466.7 928.7,466.5 929.7,466.3 930.7,466.1 931.7,465.9 932.7,465.7 933.6,465.5 934.6,465.3 935.6,465.1 936.6,464.9 937.6,464.6 938.6,464.4 939.6,464.2 940.6,463.9 941.6,463.7 942.6,463.4 943.6,463.2 944.6,462.9 945.6,462.7 946.6,462.4 947.6,462.1 948.6,461.9 949.6,461.6 950.6,461.3 951.5,461.0 952.5,460.7 953.5,460.4 954.5,460.1 955.5,459.7 956.5,459.4 957.5,459.1 958.5,458.7 959.5,458.4 960.5,458.0 961.5,457.7 962.5,457.3 963.5,456.9 964.5,456.5 965.5,456.1 966.5,455.7 967.5,455.2 968.5,454.8 969.5,454.4 970.4,453.9 971.4,453.4 972.4,453.0 973.4,452.5 974.4,452.0 975.4,451.4 976.4,450.9 977.4,450.4 978.4,449.8 979.4,449.2 980.4,448.6 981.4,448.0 982.4,447.4 983.4,446.8 984.4,446.1 985.4,445.4 986.4,444.8 987.4,444.0 988.4,443.3 989.3,442.6 990.3,441.8 991.3,441.0 992.3,440.2 993.3,439.4 994.3,438.5 995.3,437.6 996.3,436.7 997.3,435.8 998.3,434.8 999.3,433.9 1000.3,432.9 1001.3,431.8 1002.3,430.8 1003.3,429.7 1004.3,428.6 1005.3,427.4 1006.3,426.2 1007.3,425.0 1008.2,423.8 1009.2,422.5 1010.2,421.2 1011.2,419.9 1012.2,418.5 1013.2,417.1 1014.2,415.7 1015.2,414.2 1016.2,412.7 1017.2,411.1 1018.2,409.5 1019.2,407.9 1020.2,406.2 1021.2,404.5 1022.2,402.8 1023.2,401.0 1024.2,399.2 1025.2,397.3 1026.1,395.4 1027.1,393.4 1028.1,391.4 1029.1,389.4 1030.1,387.3 1031.1,385.2 1032.1,383.0 1033.1,380.8 1034.1,378.5 1035.1,376.2 1036.1,373.9 1037.1,371.5 1038.1,369.0 1039.1,366.5 1040.1,364.0 1041.1,361.4 1042.1,358.8 1043.1,356.1 1044.1,353.4 1045.0,350.7 1046.0,347.9 1047.0,345.0 1048.0,342.1 1049.0,339.2 1050.0,336.2 1051.0,333.2 1052.0,330.1 1053.0,327.1 1054.0,323.9 1055.0,320.8 1056.0,317.6 1057.0,314.3 1058.0,311.1 1059.0,307.8 1060.0,304.4 1061.0,301.1 1062.0,297.7 1063.0,294.3 1063.9,290.9 1064.9,287.5 1065.9,284.1 1066.9,280.6 1067.9,277.2 1068.9,273.7 1069.9,270.3 1070.9,266.9 1071.9,263.4 1072.9,260.0 1073.9,256.6 1074.9,253.3 1075.9,249.9 1076.9,246.7 1077.9,243.4 1078.9,240.2 1079.9,237.0 1080.9,233.9 1081.9,230.9 1082.8,228.0 1083.8,225.1 1084.8,222.3 1085.8,219.6 1086.8,217.0 1087.8,214.5 1088.8,212.1 1089.8,209.9 1090.8,207.8 1091.8,205.7 1092.8,203.9 1093.8,202.2 1094.8,200.6 1095.8,199.1 1096.8,197.9 1097.8,196.8 1098.8,195.8 1099.8,195.0 1100.7,194.4 1101.7,194.0 1102.7,193.7 1103.7,193.7 1104.7,193.7 1105.7,194.0 1106.7,194.4 1107.7,195.0 1108.7,195.8 1109.7,196.8 1110.7,197.9 1111.7,199.1 1112.7,200.6 1113.7,202.2 1114.7,203.9 1115.7,205.7 1116.7,207.8 1117.7,209.9 1118.7,212.1 1119.6,214.5 1120.6,217.0 1121.6,219.6 1122.6,222.3 1123.6,225.1 1124.6,228.0 1125.6,230.9 1126.6,233.9 1127.6,237.0 1128.6,240.2 1129.6,243.4 1130.6,246.7 1131.6,249.9 1132.6,253.3 1133.6,256.6 1134.6,260.0 1135.6,263.4 1136.6,266.9 1137.6,270.3 1138.5,273.7 1139.5,277.2 1140.5,280.6 1141.5,284.1 1142.5,287.5 1143.5,290.9 1144.5,294.3 1145.5,297.7 1146.5,301.1 1147.5,304.4 1148.5,307.8 1149.5,311.1 1150.5,314.3 1151.5,317.6 1152.5,320.8 1153.5,323.9 1154.5,327.1 1155.5,330.1 1156.5,333.2 1157.4,336.2 1158.4,339.2 1159.4,342.1 1160.4,345.0 1161.4,347.9 1162.4,350.7 1163.4,353.4 1164.4,356.1 1165.4,358.8 1166.4,361.4 1167.4,364.0 1168.4,366.5 1169.4,369.0 1170.4,371.5 1171.4,373.9 1172.4,376.2 1173.4,378.5 1174.4,380.8 1175.3,383.0 1176.3,385.2 1177.3,387.3 1178.3,389.4 1179.3,391.4 1180.3,393.4 1181.3,395.4 1182.3,397.3 1183.3,399.2 1184.3,401.0 1185.3,402.8 1186.3,404.5 1187.3,406.2 1188.3,407.9 1189.3,409.5 1190.3,411.1 1191.3,412.7 1192.3,414.2 1193.3,415.7 1194.2,417.1 1195.2,418.5 1196.2,419.9 1197.2,421.2 1198.2,422.5 1199.2,423.8 1200.2,425.0 1201.2,426.2 1202.2,427.4 1203.2,428.6 1204.2,429.7 1205.2,430.8 1206.2,431.8 1207.2,432.9 1208.2,433.9 1209.2,434.8 1210.2,435.8 1211.2,436.7 1212.2,437.6 1213.1,438.5 1214.1,439.4 1215.1,440.2 1216.1,441.0 1217.1,441.8 1218.1,442.6 1219.1,443.3 1220.1,444.0 1221.1,444.8 1222.1,445.4 1223.1,446.1 1224.1,446.8 1225.1,447.4 1226.1,448.0 1227.1,448.6 1228.1,449.2 1229.1,449.8 1230.1,450.4 1231.1,450.9 1232.0,451.4 1233.0,452.0 1234.0,452.5 1235.0,453.0 1236.0,453.4 1237.0,453.9 1238.0,454.4 1239.0,454.8 1240.0,455.2 1241.0,455.7 1242.0,456.1 1243.0,456.5 1244.0,456.9 1245.0,457.3 1246.0,457.7 1247.0,458.0 1248.0,458.4 1249.0,458.7 1249.9,459.1 1250.9,459.4 1251.9,459.7 1252.9,460.1 1253.9,460.4 1254.9,460.7 1255.9,461.0 1256.9,461.3 1257.9,461.6 1258.9,461.9 1259.9,462.1 1260.9,462.4 1261.9,462.7 1262.9,462.9 1263.9,463.2 1264.9,463.4 1265.9,463.7 1266.9,463.9 1267.9,464.2 1268.8,464.4 1269.8,464.6 1270.8,464.9 1271.8,465.1 1272.8,465.3 1273.8,465.5 1274.8,465.7 1275.8,465.9 1276.8,466.1 1277.8,466.3 1278.8,466.5 1279.8,466.7 1280.8,466.9 1281.8,467.1 1282.8,467.3 1283.8,467.4 1284.8,467.6 1285.8,467.8 1286.8,468.0 1287.7,468.1 1288.7,468.3 1289.7,468.5 1290.7,468.6 1291.7,468.8 1292.7,468.9 1293.7,469.1 1294.7,469.2 1295.7,469.4 1296.7,469.5 1297.7,469.7 1298.7,469.8 1299.7,470.0 1300.7,470.1 1301.7,470.2 1302.7,470.4 1303.7,470.5 1304.7,470.6 1305.7,470.8 1306.6,470.9 1307.6,471.0 1308.6,471.2 1309.6,471.3 1310.6,471.4 1311.6,471.5 1312.6,471.6 1313.6,471.7 1314.6,471.9 1315.6,472.0 1316.6,472.1 1317.6,472.2 1318.6,472.3 1319.6,472.4 1320.6,472.5 1321.6,472.6 1322.6,472.7 1323.6,472.8 1324.5,472.9 1325.5,473.0 1326.5,473.1 1327.5,473.2 1328.5,473.3 1329.5,473.4 1330.5,473.5 1331.5,473.6 1332.5,473.7 1333.5,473.8 1334.5,473.9 1335.5,474.0 1336.5,474.0 1337.5,474.1 1338.5,474.2 1339.5,474.3 1340.5,474.4 1341.5,474.5 1342.5,474.5 1343.4,474.6 1344.4,474.7 1345.4,474.8 1346.4,474.9 1347.4,474.9 1348.4,475.0 1349.4,475.1 1350.4,475.2 1351.4,475.2 1352.4,475.3 1353.4,475.4 1354.4,475.4 1355.4,475.5 1356.4,475.6 1357.4,475.7 1358.4,475.7 1359.4,475.8 1360.4,475.9 1361.4,475.9 1362.3,476.0 1363.3,476.1 1364.3,476.1 1365.3,476.2 1366.3,476.2 1367.3,476.3 1368.3,476.4 1369.3,476.4 1370.3,476.5 1371.3,476.5 1372.3,476.6 1373.3,476.7 1374.3,476.7 1375.3,476.8 1376.3,476.8 1377.3,476.9 1378.3,476.9 1379.3,477.0 1380.3,477.0 1381.2,477.1 1382.2,477.1 1383.2,477.2 1384.2,477.2 1385.2,477.3 1386.2,477.3 1387.2,477.4 1388.2,477.4 1389.2,477.5 1390.2,477.5 1391.2,477.6 1392.2,477.6 1393.2,477.7 1394.2,477.7 1395.2,477.8 1396.2,477.8 1397.2,477.9 1398.2,477.9 1399.1,478.0 1400.1,478.0 1401.1,478.0 1402.1,478.1 1403.1,478.1 1404.1,478.2 1405.1,478.2 1406.1,478.3 1407.1,478.3 1408.1,478.3 1409.1,478.4 1410.1,478.4 1411.1,478.5 1412.1,478.5 1413.1,478.5 1414.1,478.6 1415.1,478.6 1416.1,478.6 1417.1,478.7 1418.0,478.7 1419.0,478.8 1420.0,478.8 1421.0,478.8 1422.0,478.9 1423.0,478.9 1424.0,478.9 1425.0,479.0 1426.0,479.0 1427.0,479.0" stroke="#EE3B3B" stroke-width="3.3" stroke-dasharray="13.5 22" stroke-linecap="round"/>
<polyline points="830.2,484.6 831.2,484.6 832.2,484.6 833.2,484.6 834.2,484.6 835.2,484.6 836.2,484.6 837.2,484.6 838.2,484.6 839.2,484.6 840.1,484.6 841.1,484.6 842.1,484.6 843.1,484.5 844.1,484.5 845.1,484.5 846.1,484.5 847.1,484.5 848.1,484.5 849.1,484.5 850.1,484.5 851.1,484.5 852.1,484.5 853.1,484.5 854.1,484.5 855.1,484.5 856.1,484.5 857.1,484.5 858.1,484.5 859.0,484.5 860.0,484.5 861.0,484.5 862.0,484.5 863.0,484.5 864.0,484.5 865.0,484.5 866.0,484.5 867.0,484.5 868.0,484.5 869.0,484.5 870.0,484.5 871.0,484.5 872.0,484.5 873.0,484.5 874.0,484.5 875.0,484.5 876.0,484.5 876.9,484.5 877.9,484.5 878.9,484.5 879.9,484.5 880.9,484.5 881.9,484.5 882.9,484.5 883.9,484.5 884.9,484.5 885.9,484.5 886.9,484.5 887.9,484.5 888.9,484.5 889.9,484.5 890.9,484.5 891.9,484.5 892.9,484.5 893.9,484.5 894.9,484.5 895.8,484.5 896.8,484.5 897.8,484.5 898.8,484.5 899.8,484.5 900.8,484.5 901.8,484.5 902.8,484.5 903.8,484.5 904.8,484.5 905.8,484.5 906.8,484.5 907.8,484.5 908.8,484.5 909.8,484.5 910.8,484.5 911.8,484.5 912.8,484.5 913.8,484.5 914.7,484.5 915.7,484.5 916.7,484.5 917.7,484.5 918.7,484.5 919.7,484.5 920.7,484.5 921.7,484.5 922.7,484.5 923.7,484.4 924.7,484.4 925.7,484.4 926.7,484.4 927.7,484.4 928.7,484.4 929.7,484.4 930.7,484.4 931.7,484.4 932.7,484.4 933.6,484.4 934.6,484.4 935.6,484.4 936.6,484.4 937.6,484.4 938.6,484.4 939.6,484.4 940.6,484.4 941.6,484.4 942.6,484.4 943.6,484.4 944.6,484.4 945.6,484.4 946.6,484.4 947.6,484.4 948.6,484.4 949.6,484.4 950.6,484.4 951.5,484.4 952.5,484.4 953.5,484.4 954.5,484.4 955.5,484.4 956.5,484.4 957.5,484.4 958.5,484.4 959.5,484.4 960.5,484.4 961.5,484.4 962.5,484.4 963.5,484.4 964.5,484.4 965.5,484.4 966.5,484.4 967.5,484.4 968.5,484.3 969.5,484.3 970.4,484.3 971.4,484.3 972.4,484.3 973.4,484.3 974.4,484.3 975.4,484.3 976.4,484.3 977.4,484.3 978.4,484.3 979.4,484.3 980.4,484.3 981.4,484.3 982.4,484.3 983.4,484.3 984.4,484.3 985.4,484.3 986.4,484.3 987.4,484.3 988.4,484.3 989.3,484.3 990.3,484.3 991.3,484.3 992.3,484.3 993.3,484.3 994.3,484.3 995.3,484.3 996.3,484.3 997.3,484.2 998.3,484.2 999.3,484.2 1000.3,484.2 1001.3,484.2 1002.3,484.2 1003.3,484.2 1004.3,484.2 1005.3,484.2 1006.3,484.2 1007.3,484.2 1008.2,484.2 1009.2,484.2 1010.2,484.2 1011.2,484.2 1012.2,484.2 1013.2,484.2 1014.2,484.2 1015.2,484.2 1016.2,484.2 1017.2,484.2 1018.2,484.1 1019.2,484.1 1020.2,484.1 1021.2,484.1 1022.2,484.1 1023.2,484.1 1024.2,484.1 1025.2,484.1 1026.1,484.1 1027.1,484.1 1028.1,484.1 1029.1,484.1 1030.1,484.1 1031.1,484.1 1032.1,484.1 1033.1,484.1 1034.1,484.0 1035.1,484.0 1036.1,484.0 1037.1,484.0 1038.1,484.0 1039.1,484.0 1040.1,484.0 1041.1,484.0 1042.1,484.0 1043.1,484.0 1044.1,484.0 1045.0,484.0 1046.0,484.0 1047.0,483.9 1048.0,483.9 1049.0,483.9 1050.0,483.9 1051.0,483.9 1052.0,483.9 1053.0,483.9 1054.0,483.9 1055.0,483.9 1056.0,483.9 1057.0,483.8 1058.0,483.8 1059.0,483.8 1060.0,483.8 1061.0,483.8 1062.0,483.8 1063.0,483.8 1063.9,483.8 1064.9,483.8 1065.9,483.7 1066.9,483.7 1067.9,483.7 1068.9,483.7 1069.9,483.7 1070.9,483.7 1071.9,483.7 1072.9,483.7 1073.9,483.6 1074.9,483.6 1075.9,483.6 1076.9,483.6 1077.9,483.6 1078.9,483.6 1079.9,483.5 1080.9,483.5 1081.9,483.5 1082.8,483.5 1083.8,483.5 1084.8,483.5 1085.8,483.4 1086.8,483.4 1087.8,483.4 1088.8,483.4 1089.8,483.4 1090.8,483.3 1091.8,483.3 1092.8,483.3 1093.8,483.3 1094.8,483.3 1095.8,483.2 1096.8,483.2 1097.8,483.2 1098.8,483.2 1099.8,483.1 1100.7,483.1 1101.7,483.1 1102.7,483.1 1103.7,483.0 1104.7,483.0 1105.7,483.0 1106.7,482.9 1107.7,482.9 1108.7,482.9 1109.7,482.8 1110.7,482.8 1111.7,482.8 1112.7,482.7 1113.7,482.7 1114.7,482.7 1115.7,482.6 1116.7,482.6 1117.7,482.5 1118.7,482.5 1119.6,482.5 1120.6,482.4 1121.6,482.4 1122.6,482.3 1123.6,482.3 1124.6,482.2 1125.6,482.2 1126.6,482.1 1127.6,482.1 1128.6,482.0 1129.6,482.0 1130.6,481.9 1131.6,481.8 1132.6,481.8 1133.6,481.7 1134.6,481.6 1135.6,481.6 1136.6,481.5 1137.6,481.4 1138.5,481.3 1139.5,481.3 1140.5,481.2 1141.5,481.1 1142.5,481.0 1143.5,480.9 1144.5,480.8 1145.5,480.7 1146.5,480.6 1147.5,480.5 1148.5,480.4 1149.5,480.3 1150.5,480.1 1151.5,480.0 1152.5,479.9 1153.5,479.7 1154.5,479.6 1155.5,479.4 1156.5,479.3 1157.4,479.1 1158.4,478.9 1159.4,478.8 1160.4,478.6 1161.4,478.4 1162.4,478.2 1163.4,477.9 1164.4,477.7 1165.4,477.5 1166.4,477.2 1167.4,477.0 1168.4,476.7 1169.4,476.4 1170.4,476.1 1171.4,475.7 1172.4,475.4 1173.4,475.0 1174.4,474.6 1175.3,474.2 1176.3,473.7 1177.3,473.2 1178.3,472.7 1179.3,472.1 1180.3,471.5 1181.3,470.8 1182.3,470.1 1183.3,469.3 1184.3,468.4 1185.3,467.4 1186.3,466.3 1187.3,465.1 1188.3,463.7 1189.3,462.1 1190.3,460.4 1191.3,458.5 1192.3,456.3 1193.3,453.9 1194.2,451.2 1195.2,448.1 1196.2,444.7 1197.2,441.0 1198.2,436.8 1199.2,432.2 1200.2,427.2 1201.2,421.7 1202.2,415.7 1203.2,409.2 1204.2,402.2 1205.2,394.7 1206.2,386.8 1207.2,378.5 1208.2,369.8 1209.2,360.7 1210.2,351.5 1211.2,342.2 1212.2,332.9 1213.1,323.8 1214.1,315.1 1215.1,307.1 1216.1,299.9 1217.1,293.9 1218.1,289.3 1219.1,286.2 1220.1,284.9 1221.1,285.4 1222.1,287.6 1223.1,291.4 1224.1,296.8 1225.1,303.4 1226.1,311.0 1227.1,319.4 1228.1,328.3 1229.1,337.5 1230.1,346.8 1231.1,356.1 1232.0,365.3 1233.0,374.2 1234.0,382.7 1235.0,390.8 1236.0,398.5 1237.0,405.8 1238.0,412.5 1239.0,418.7 1240.0,424.5 1241.0,429.8 1242.0,434.6 1243.0,439.0 1244.0,442.9 1245.0,446.5 1246.0,449.7 1247.0,452.6 1248.0,455.1 1249.0,457.4 1249.9,459.5 1250.9,461.3 1251.9,462.9 1252.9,464.4 1253.9,465.7 1254.9,466.8 1255.9,467.9 1256.9,468.8 1257.9,469.7 1258.9,470.5 1259.9,471.2 1260.9,471.8 1261.9,472.4 1262.9,473.0 1263.9,473.5 1264.9,474.0 1265.9,474.4 1266.9,474.8 1267.9,475.2 1268.8,475.6 1269.8,475.9 1270.8,476.2 1271.8,476.5 1272.8,476.8 1273.8,477.1 1274.8,477.4 1275.8,477.6 1276.8,477.8 1277.8,478.1 1278.8,478.3 1279.8,478.5 1280.8,478.7 1281.8,478.9 1282.8,479.0 1283.8,479.2 1284.8,479.4 1285.8,479.5 1286.8,479.7 1287.7,479.8 1288.7,479.9 1289.7,480.1 1290.7,480.2 1291.7,480.3 1292.7,480.4 1293.7,480.5 1294.7,480.6 1295.7,480.8 1296.7,480.9 1297.7,480.9 1298.7,481.0 1299.7,481.1 1300.7,481.2 1301.7,481.3 1302.7,481.4 1303.7,481.5 1304.7,481.5 1305.7,481.6 1306.6,481.7 1307.6,481.7 1308.6,481.8 1309.6,481.9 1310.6,481.9 1311.6,482.0 1312.6,482.0 1313.6,482.1 1314.6,482.2 1315.6,482.2 1316.6,482.3 1317.6,482.3 1318.6,482.4 1319.6,482.4 1320.6,482.4 1321.6,482.5 1322.6,482.5 1323.6,482.6 1324.5,482.6 1325.5,482.6 1326.5,482.7 1327.5,482.7 1328.5,482.8 1329.5,482.8 1330.5,482.8 1331.5,482.9 1332.5,482.9 1333.5,482.9 1334.5,483.0 1335.5,483.0 1336.5,483.0 1337.5,483.0 1338.5,483.1 1339.5,483.1 1340.5,483.1 1341.5,483.1 1342.5,483.2 1343.4,483.2 1344.4,483.2 1345.4,483.2 1346.4,483.3 1347.4,483.3 1348.4,483.3 1349.4,483.3 1350.4,483.4 1351.4,483.4 1352.4,483.4 1353.4,483.4 1354.4,483.4 1355.4,483.5 1356.4,483.5 1357.4,483.5 1358.4,483.5 1359.4,483.5 1360.4,483.5 1361.4,483.6 1362.3,483.6 1363.3,483.6 1364.3,483.6 1365.3,483.6 1366.3,483.6 1367.3,483.6 1368.3,483.7 1369.3,483.7 1370.3,483.7 1371.3,483.7 1372.3,483.7 1373.3,483.7 1374.3,483.7 1375.3,483.8 1376.3,483.8 1377.3,483.8 1378.3,483.8 1379.3,483.8 1380.3,483.8 1381.2,483.8 1382.2,483.8 1383.2,483.8 1384.2,483.9 1385.2,483.9 1386.2,483.9 1387.2,483.9 1388.2,483.9 1389.2,483.9 1390.2,483.9 1391.2,483.9 1392.2,483.9 1393.2,483.9 1394.2,483.9 1395.2,484.0 1396.2,484.0 1397.2,484.0 1398.2,484.0 1399.1,484.0 1400.1,484.0 1401.1,484.0 1402.1,484.0 1403.1,484.0 1404.1,484.0 1405.1,484.0 1406.1,484.0 1407.1,484.0 1408.1,484.1 1409.1,484.1 1410.1,484.1 1411.1,484.1 1412.1,484.1 1413.1,484.1 1414.1,484.1 1415.1,484.1 1416.1,484.1 1417.1,484.1 1418.0,484.1 1419.0,484.1 1420.0,484.1 1421.0,484.1 1422.0,484.1 1423.0,484.1 1424.0,484.2 1425.0,484.2 1426.0,484.2 1427.0,484.2" stroke="#2EA85E" stroke-width="3.3" stroke-dasharray="16.5 13.5 1 13.5" stroke-linecap="round"/>
<polyline points="830.2,484.5 831.2,484.5 832.2,484.5 833.2,484.5 834.2,484.5 835.2,484.5 836.2,484.5 837.2,484.5 838.2,484.5 839.2,484.5 840.1,484.5 841.1,484.5 842.1,484.5 843.1,484.5 844.1,484.5 845.1,484.5 846.1,484.5 847.1,484.5 848.1,484.5 849.1,484.5 850.1,484.5 851.1,484.5 852.1,484.5 853.1,484.5 854.1,484.5 855.1,484.5 856.1,484.5 857.1,484.5 858.1,484.5 859.0,484.5 860.0,484.5 861.0,484.5 862.0,484.5 863.0,484.5 864.0,484.5 865.0,484.5 866.0,484.5 867.0,484.5 868.0,484.5 869.0,484.5 870.0,484.5 871.0,484.5 872.0,484.5 873.0,484.5 874.0,484.5 875.0,484.5 876.0,484.5 876.9,484.5 877.9,484.5 878.9,484.5 879.9,484.5 880.9,484.5 881.9,484.5 882.9,484.5 883.9,484.5 884.9,484.4 885.9,484.4 886.9,484.4 887.9,484.4 888.9,484.4 889.9,484.4 890.9,484.4 891.9,484.4 892.9,484.4 893.9,484.4 894.9,484.4 895.8,484.4 896.8,484.4 897.8,484.4 898.8,484.4 899.8,484.4 900.8,484.4 901.8,484.4 902.8,484.4 903.8,484.4 904.8,484.4 905.8,484.4 906.8,484.4 907.8,484.4 908.8,484.4 909.8,484.4 910.8,484.4 911.8,484.4 912.8,484.4 913.8,484.4 914.7,484.4 915.7,484.4 916.7,484.4 917.7,484.4 918.7,484.4 919.7,484.4 920.7,484.4 921.7,484.4 922.7,484.4 923.7,484.4 924.7,484.4 925.7,484.4 926.7,484.4 927.7,484.4 928.7,484.4 929.7,484.4 930.7,484.4 931.7,484.4 932.7,484.4 933.6,484.4 934.6,484.4 935.6,484.4 936.6,484.3 937.6,484.3 938.6,484.3 939.6,484.3 940.6,484.3 941.6,484.3 942.6,484.3 943.6,484.3 944.6,484.3 945.6,484.3 946.6,484.3 947.6,484.3 948.6,484.3 949.6,484.3 950.6,484.3 951.5,484.3 952.5,484.3 953.5,484.3 954.5,484.3 955.5,484.3 956.5,484.3 957.5,484.3 958.5,484.3 959.5,484.3 960.5,484.3 961.5,484.3 962.5,484.3 963.5,484.3 964.5,484.3 965.5,484.3 966.5,484.3 967.5,484.3 968.5,484.3 969.5,484.3 970.4,484.2 971.4,484.2 972.4,484.2 973.4,484.2 974.4,484.2 975.4,484.2 976.4,484.2 977.4,484.2 978.4,484.2 979.4,484.2 980.4,484.2 981.4,484.2 982.4,484.2 983.4,484.2 984.4,484.2 985.4,484.2 986.4,484.2 987.4,484.2 988.4,484.2 989.3,484.2 990.3,484.2 991.3,484.2 992.3,484.2 993.3,484.2 994.3,484.2 995.3,484.1 996.3,484.1 997.3,484.1 998.3,484.1 999.3,484.1 1000.3,484.1 1001.3,484.1 1002.3,484.1 1003.3,484.1 1004.3,484.1 1005.3,484.1 1006.3,484.1 1007.3,484.1 1008.2,484.1 1009.2,484.1 1010.2,484.1 1011.2,484.1 1012.2,484.1 1013.2,484.1 1014.2,484.0 1015.2,484.0 1016.2,484.0 1017.2,484.0 1018.2,484.0 1019.2,484.0 1020.2,484.0 1021.2,484.0 1022.2,484.0 1023.2,484.0 1024.2,484.0 1025.2,484.0 1026.1,484.0 1027.1,484.0 1028.1,484.0 1029.1,483.9 1030.1,483.9 1031.1,483.9 1032.1,483.9 1033.1,483.9 1034.1,483.9 1035.1,483.9 1036.1,483.9 1037.1,483.9 1038.1,483.9 1039.1,483.9 1040.1,483.9 1041.1,483.8 1042.1,483.8 1043.1,483.8 1044.1,483.8 1045.0,483.8 1046.0,483.8 1047.0,483.8 1048.0,483.8 1049.0,483.8 1050.0,483.8 1051.0,483.7 1052.0,483.7 1053.0,483.7 1054.0,483.7 1055.0,483.7 1056.0,483.7 1057.0,483.7 1058.0,483.7 1059.0,483.7 1060.0,483.6 1061.0,483.6 1062.0,483.6 1063.0,483.6 1063.9,483.6 1064.9,483.6 1065.9,483.6 1066.9,483.6 1067.9,483.5 1068.9,483.5 1069.9,483.5 1070.9,483.5 1071.9,483.5 1072.9,483.5 1073.9,483.5 1074.9,483.4 1075.9,483.4 1076.9,483.4 1077.9,483.4 1078.9,483.4 1079.9,483.4 1080.9,483.3 1081.9,483.3 1082.8,483.3 1083.8,483.3 1084.8,483.3 1085.8,483.2 1086.8,483.2 1087.8,483.2 1088.8,483.2 1089.8,483.2 1090.8,483.1 1091.8,483.1 1092.8,483.1 1093.8,483.1 1094.8,483.0 1095.8,483.0 1096.8,483.0 1097.8,483.0 1098.8,482.9 1099.8,482.9 1100.7,482.9 1101.7,482.9 1102.7,482.8 1103.7,482.8 1104.7,482.8 1105.7,482.7 1106.7,482.7 1107.7,482.7 1108.7,482.7 1109.7,482.6 1110.7,482.6 1111.7,482.6 1112.7,482.5 1113.7,482.5 1114.7,482.4 1115.7,482.4 1116.7,482.4 1117.7,482.3 1118.7,482.3 1119.6,482.2 1120.6,482.2 1121.6,482.2 1122.6,482.1 1123.6,482.1 1124.6,482.0 1125.6,482.0 1126.6,481.9 1127.6,481.9 1128.6,481.8 1129.6,481.7 1130.6,481.7 1131.6,481.6 1132.6,481.6 1133.6,481.5 1134.6,481.4 1135.6,481.4 1136.6,481.3 1137.6,481.2 1138.5,481.2 1139.5,481.1 1140.5,481.0 1141.5,480.9 1142.5,480.9 1143.5,480.8 1144.5,480.7 1145.5,480.6 1146.5,480.5 1147.5,480.4 1148.5,480.3 1149.5,480.2 1150.5,480.1 1151.5,480.0 1152.5,479.9 1153.5,479.7 1154.5,479.6 1155.5,479.5 1156.5,479.4 1157.4,479.2 1158.4,479.1 1159.4,478.9 1160.4,478.8 1161.4,478.6 1162.4,478.4 1163.4,478.3 1164.4,478.1 1165.4,477.9 1166.4,477.7 1167.4,477.5 1168.4,477.3 1169.4,477.0 1170.4,476.8 1171.4,476.6 1172.4,476.3 1173.4,476.0 1174.4,475.7 1175.3,475.4 1176.3,475.1 1177.3,474.8 1178.3,474.4 1179.3,474.1 1180.3,473.7 1181.3,473.3 1182.3,472.9 1183.3,472.4 1184.3,471.9 1185.3,471.4 1186.3,470.9 1187.3,470.3 1188.3,469.7 1189.3,469.0 1190.3,468.3 1191.3,467.5 1192.3,466.6 1193.3,465.7 1194.2,464.7 1195.2,463.6 1196.2,462.3 1197.2,461.0 1198.2,459.5 1199.2,457.8 1200.2,455.9 1201.2,453.8 1202.2,451.4 1203.2,448.8 1204.2,445.8 1205.2,442.5 1206.2,438.7 1207.2,434.6 1208.2,429.9 1209.2,424.8 1210.2,419.1 1211.2,412.8 1212.2,405.9 1213.1,398.3 1214.1,390.1 1215.1,381.2 1216.1,371.6 1217.1,361.4 1218.1,350.6 1219.1,339.1 1220.1,327.2 1221.1,314.8 1222.1,302.2 1223.1,289.4 1224.1,276.6 1225.1,264.1 1226.1,252.3 1227.1,241.2 1228.1,231.5 1229.1,223.2 1230.1,216.9 1231.1,212.7 1232.0,210.9 1233.0,211.5 1234.0,214.5 1235.0,219.8 1236.0,227.1 1237.0,236.2 1238.0,246.6 1239.0,258.1 1240.0,270.3 1241.0,283.0 1242.0,295.8 1243.0,308.5 1244.0,321.1 1245.0,333.2 1246.0,344.9 1247.0,356.1 1248.0,366.6 1249.0,376.5 1249.9,385.7 1250.9,394.3 1251.9,402.2 1252.9,409.4 1253.9,416.0 1254.9,422.0 1255.9,427.4 1256.9,432.3 1257.9,436.7 1258.9,440.7 1259.9,444.2 1260.9,447.3 1261.9,450.1 1262.9,452.6 1263.9,454.9 1264.9,456.9 1265.9,458.6 1266.9,460.2 1267.9,461.7 1268.8,463.0 1269.8,464.1 1270.8,465.2 1271.8,466.2 1272.8,467.1 1273.8,467.9 1274.8,468.6 1275.8,469.3 1276.8,470.0 1277.8,470.6 1278.8,471.1 1279.8,471.7 1280.8,472.2 1281.8,472.6 1282.8,473.1 1283.8,473.5 1284.8,473.9 1285.8,474.3 1286.8,474.6 1287.7,475.0 1288.7,475.3 1289.7,475.6 1290.7,475.9 1291.7,476.2 1292.7,476.4 1293.7,476.7 1294.7,476.9 1295.7,477.2 1296.7,477.4 1297.7,477.6 1298.7,477.8 1299.7,478.0 1300.7,478.2 1301.7,478.3 1302.7,478.5 1303.7,478.7 1304.7,478.8 1305.7,479.0 1306.6,479.1 1307.6,479.3 1308.6,479.4 1309.6,479.6 1310.6,479.7 1311.6,479.8 1312.6,479.9 1313.6,480.0 1314.6,480.1 1315.6,480.2 1316.6,480.3 1317.6,480.4 1318.6,480.5 1319.6,480.6 1320.6,480.7 1321.6,480.8 1322.6,480.9 1323.6,481.0 1324.5,481.1 1325.5,481.1 1326.5,481.2 1327.5,481.3 1328.5,481.3 1329.5,481.4 1330.5,481.5 1331.5,481.5 1332.5,481.6 1333.5,481.7 1334.5,481.7 1335.5,481.8 1336.5,481.8 1337.5,481.9 1338.5,481.9 1339.5,482.0 1340.5,482.0 1341.5,482.1 1342.5,482.1 1343.4,482.2 1344.4,482.2 1345.4,482.3 1346.4,482.3 1347.4,482.3 1348.4,482.4 1349.4,482.4 1350.4,482.5 1351.4,482.5 1352.4,482.5 1353.4,482.6 1354.4,482.6 1355.4,482.6 1356.4,482.7 1357.4,482.7 1358.4,482.7 1359.4,482.8 1360.4,482.8 1361.4,482.8 1362.3,482.9 1363.3,482.9 1364.3,482.9 1365.3,482.9 1366.3,483.0 1367.3,483.0 1368.3,483.0 1369.3,483.0 1370.3,483.1 1371.3,483.1 1372.3,483.1 1373.3,483.1 1374.3,483.1 1375.3,483.2 1376.3,483.2 1377.3,483.2 1378.3,483.2 1379.3,483.3 1380.3,483.3 1381.2,483.3 1382.2,483.3 1383.2,483.3 1384.2,483.3 1385.2,483.4 1386.2,483.4 1387.2,483.4 1388.2,483.4 1389.2,483.4 1390.2,483.4 1391.2,483.5 1392.2,483.5 1393.2,483.5 1394.2,483.5 1395.2,483.5 1396.2,483.5 1397.2,483.5 1398.2,483.6 1399.1,483.6 1400.1,483.6 1401.1,483.6 1402.1,483.6 1403.1,483.6 1404.1,483.6 1405.1,483.7 1406.1,483.7 1407.1,483.7 1408.1,483.7 1409.1,483.7 1410.1,483.7 1411.1,483.7 1412.1,483.7 1413.1,483.7 1414.1,483.8 1415.1,483.8 1416.1,483.8 1417.1,483.8 1418.0,483.8 1419.0,483.8 1420.0,483.8 1421.0,483.8 1422.0,483.8 1423.0,483.8 1424.0,483.9 1425.0,483.9 1426.0,483.9 1427.0,483.9" stroke="#A674DC" stroke-width="3.3" stroke-dasharray="9.3 9.6 0 9.6" stroke-linecap="round"/>
<polyline points="830.2,482.4 830.9,482.3 831.7,482.3 832.4,482.2 833.2,482.2 833.9,482.2 834.7,482.1 835.4,482.0 836.2,481.9 836.9,481.8 837.7,481.7 838.4,481.6 839.2,481.4 839.9,481.3 840.6,481.1 841.4,480.9 842.1,480.7 842.9,480.5 843.6,480.3 844.4,480.1 845.1,479.9 845.9,479.7 846.6,479.5 847.4,479.3 848.1,479.1 848.9,478.9 849.6,478.6 850.3,478.4 851.1,478.2 851.8,478.0 852.6,477.8 853.3,477.6 854.1,477.4 854.8,477.3 855.6,477.1 856.3,476.9 857.1,476.8 857.8,476.6 858.5,476.5 859.3,476.4 860.0,476.3 860.8,476.2 861.5,476.2 862.3,476.1 863.0,476.0 863.8,476.0 864.5,475.9 865.3,475.9 866.0,475.8 866.8,475.8 867.5,475.7 868.2,475.7 869.0,475.6 869.7,475.6 870.5,475.5 871.2,475.5 872.0,475.4 872.7,475.4 873.5,475.3 874.2,475.3 875.0,475.2 875.7,475.2 876.5,475.1 877.2,475.1 877.9,475.0 878.7,475.0 879.4,474.9 880.2,474.8 880.9,474.8 881.7,474.7 882.4,474.6 883.2,474.5 883.9,474.5 884.7,474.4 885.4,474.3 886.2,474.2 886.9,474.1 887.6,474.0 888.4,473.8 889.1,473.7 889.9,473.6 890.6,473.4 891.4,473.3 892.1,473.1 892.9,473.0 893.6,472.8 894.4,472.6 895.1,472.5 895.8,472.3 896.6,472.1 897.3,471.9 898.1,471.7 898.8,471.5 899.6,471.3 900.3,471.1 901.1,470.9 901.8,470.6 902.6,470.4 903.3,470.2 904.1,469.9 904.8,469.7 905.5,469.5 906.3,469.2 907.0,469.0 907.8,468.8 908.5,468.5 909.3,468.3 910.0,468.0 910.8,467.8 911.5,467.5 912.3,467.3 913.0,467.0 913.8,466.8 914.5,466.5 915.2,466.3 916.0,466.0 916.7,465.8 917.5,465.5 918.2,465.3 919.0,465.0 919.7,464.8 920.5,464.6 921.2,464.3 922.0,464.1 922.7,463.9 923.5,463.7 924.2,463.5 924.9,463.3 925.7,463.1 926.4,462.9 927.2,462.7 927.9,462.5 928.7,462.3 929.4,462.2 930.2,462.0 930.9,461.8 931.7,461.7 932.4,461.5 933.1,461.4 933.9,461.2 934.6,461.1 935.4,460.9 936.1,460.8 936.9,460.6 937.6,460.5 938.4,460.3 939.1,460.2 939.9,460.0 940.6,459.9 941.4,459.7 942.1,459.6 942.8,459.4 943.6,459.3 944.3,459.1 945.1,458.9 945.8,458.7 946.6,458.6 947.3,458.4 948.1,458.2 948.8,458.0 949.6,457.8 950.3,457.6 951.1,457.4 951.8,457.2 952.5,457.0 953.3,456.8 954.0,456.6 954.8,456.4 955.5,456.2 956.3,455.9 957.0,455.7 957.8,455.5 958.5,455.2 959.3,454.9 960.0,454.7 960.8,454.4 961.5,454.1 962.2,453.7 963.0,453.4 963.7,453.1 964.5,452.7 965.2,452.3 966.0,451.9 966.7,451.5 967.5,451.0 968.2,450.6 969.0,450.0 969.7,449.5 970.4,448.9 971.2,448.3 971.9,447.7 972.7,447.0 973.4,446.2 974.2,445.5 974.9,444.6 975.7,443.7 976.4,442.8 977.2,441.8 977.9,440.7 978.7,439.6 979.4,438.4 980.1,437.2 980.9,436.0 981.6,434.7 982.4,433.4 983.1,432.0 983.9,430.7 984.6,429.3 985.4,427.9 986.1,426.5 986.9,425.2 987.6,423.8 988.4,422.5 989.1,421.2 989.8,419.9 990.6,418.6 991.3,417.3 992.1,416.0 992.8,414.6 993.6,413.3 994.3,411.9 995.1,410.6 995.8,409.1 996.6,407.3 997.3,405.1 998.1,402.6 998.8,400.0 999.5,397.1 1000.3,394.2 1001.0,391.2 1001.8,388.2 1002.5,385.3 1003.3,382.5 1004.0,379.7 1004.8,376.8 1005.5,373.8 1006.3,370.8 1007.0,367.8 1007.7,364.9 1008.5,362.1 1009.2,359.4 1010.0,356.9 1010.7,354.7 1011.5,352.7 1012.2,350.7 1013.0,348.8 1013.7,346.9 1014.5,345.1 1015.2,343.4 1016.0,341.8 1016.7,340.2 1017.4,338.8 1018.2,337.4 1018.9,336.2 1019.7,335.0 1020.4,334.0 1021.2,333.1 1021.9,332.4 1022.7,331.7 1023.4,331.2 1024.2,330.8 1024.9,330.5 1025.7,330.3 1026.4,330.2 1027.1,330.1 1027.9,330.1 1028.6,330.1 1029.4,330.2 1030.1,330.2 1030.9,330.3 1031.6,330.3 1032.4,330.3 1033.1,330.2 1033.9,330.1 1034.6,329.8 1035.3,329.2 1036.1,328.4 1036.8,327.3 1037.6,326.1 1038.3,324.7 1039.1,323.2 1039.8,321.6 1040.6,320.0 1041.3,318.3 1042.1,316.6 1042.8,315.0 1043.6,313.4 1044.3,311.9 1045.0,310.6 1045.8,309.4 1046.5,308.2 1047.3,307.0 1048.0,305.7 1048.8,304.4 1049.5,303.1 1050.3,301.8 1051.0,300.4 1051.8,299.0 1052.5,297.5 1053.3,296.0 1054.0,294.5 1054.7,292.9 1055.5,291.3 1056.2,289.6 1057.0,287.9 1057.7,286.2 1058.5,284.4 1059.2,282.6 1060.0,280.8 1060.7,278.9 1061.5,277.0 1062.2,275.1 1063.0,273.3 1063.7,271.5 1064.4,269.7 1065.2,268.0 1065.9,266.2 1066.7,264.5 1067.4,262.8 1068.2,261.0 1068.9,259.3 1069.7,257.5 1070.4,255.7 1071.2,253.9 1071.9,252.0 1072.7,250.1 1073.4,248.1 1074.1,246.0 1074.9,243.9 1075.6,241.7 1076.4,239.4 1077.1,237.2 1077.9,234.9 1078.6,232.7 1079.4,230.5 1080.1,228.4 1080.9,226.3 1081.6,224.3 1082.3,222.3 1083.1,220.4 1083.8,218.5 1084.6,216.7 1085.3,215.0 1086.1,213.3 1086.8,211.8 1087.6,210.3 1088.3,208.9 1089.1,207.5 1089.8,206.3 1090.6,205.1 1091.3,204.1 1092.0,203.0 1092.8,201.7 1093.5,200.3 1094.3,198.7 1095.0,197.1 1095.8,195.4 1096.5,193.6 1097.3,192.0 1098.0,190.3 1098.8,188.8 1099.5,187.5 1100.3,186.3 1101.0,185.3 1101.7,184.6 1102.5,184.2 1103.2,184.2 1104.0,184.3 1104.7,184.7 1105.5,185.2 1106.2,185.8 1107.0,186.6 1107.7,187.5 1108.5,188.5 1109.2,189.6 1110.0,190.7 1110.7,191.9 1111.4,193.1 1112.2,194.4 1112.9,195.7 1113.7,197.0 1114.4,198.4 1115.2,199.7 1115.9,201.0 1116.7,202.4 1117.4,203.8 1118.2,205.4 1118.9,207.1 1119.6,209.1 1120.4,211.2 1121.1,214.0 1121.9,217.3 1122.6,221.0 1123.4,224.9 1124.1,228.9 1124.9,232.8 1125.6,236.5 1126.4,239.9 1127.1,242.8 1127.9,245.1 1128.6,247.0 1129.3,248.9 1130.1,250.7 1130.8,252.4 1131.6,254.0 1132.3,255.6 1133.1,257.1 1133.8,258.6 1134.6,260.1 1135.3,261.6 1136.1,263.1 1136.8,264.7 1137.6,266.3 1138.3,268.0 1139.0,269.7 1139.8,271.6 1140.5,273.4 1141.3,275.2 1142.0,277.0 1142.8,278.9 1143.5,280.7 1144.3,282.5 1145.0,284.2 1145.8,286.0 1146.5,287.7 1147.2,289.4 1148.0,291.1 1148.7,292.7 1149.5,294.3 1150.2,295.8 1151.0,297.3 1151.7,298.7 1152.5,300.0 1153.2,301.3 1154.0,302.5 1154.7,303.6 1155.5,304.7 1156.2,305.7 1156.9,306.6 1157.7,307.5 1158.4,308.4 1159.2,309.2 1159.9,310.0 1160.7,310.7 1161.4,311.5 1162.2,312.2 1162.9,312.9 1163.7,313.5 1164.4,314.1 1165.2,314.7 1165.9,315.2 1166.6,315.7 1167.4,316.1 1168.1,316.5 1168.9,316.9 1169.6,317.2 1170.4,317.5 1171.1,317.8 1171.9,318.1 1172.6,318.4 1173.4,318.6 1174.1,318.8 1174.9,319.1 1175.6,319.3 1176.3,319.6 1177.1,319.8 1177.8,320.0 1178.6,320.3 1179.3,320.5 1180.1,320.7 1180.8,320.8 1181.6,321.0 1182.3,321.1 1183.1,321.3 1183.8,321.3 1184.5,321.4 1185.3,321.4 1186.0,321.4 1186.8,321.3 1187.5,321.2 1188.3,320.9 1189.0,320.6 1189.8,320.1 1190.5,319.5 1191.3,318.8 1192.0,317.9 1192.8,316.8 1193.5,315.4 1194.2,313.7 1195.0,311.5 1195.7,309.0 1196.5,306.1 1197.2,302.9 1198.0,299.3 1198.7,295.4 1199.5,291.2 1200.2,286.7 1201.0,282.0 1201.7,277.0 1202.5,271.8 1203.2,266.4 1203.9,260.6 1204.7,254.4 1205.4,247.8 1206.2,240.8 1206.9,233.4 1207.7,225.5 1208.4,217.2 1209.2,208.5 1209.9,199.4 1210.7,190.0 1211.4,181.6 1212.2,174.2 1212.9,167.6 1213.6,161.3 1214.4,155.2 1215.1,148.9 1215.9,142.1 1216.6,134.6 1217.4,126.1 1218.1,116.2 1218.9,105.7 1219.6,95.6 1220.4,86.0 1221.1,76.9 1221.8,68.6 1222.6,61.1 1223.3,54.4 1224.1,48.5 1224.8,43.2 1225.6,38.5 1226.3,34.6 1227.1,31.6 1227.8,29.8 1228.6,29.4 1229.3,30.6 1230.1,33.5 1230.8,38.4 1231.5,45.0 1232.3,53.1 1233.0,62.5 1233.8,72.9 1234.5,84.0 1235.3,95.4 1236.0,106.9 1236.8,118.6 1237.5,130.5 1238.3,142.6 1239.0,154.9 1239.8,167.6 1240.5,180.6 1241.2,194.0 1242.0,207.6 1242.7,221.1 1243.5,234.3 1244.2,247.2 1245.0,259.6 1245.7,271.5 1246.5,282.8 1247.2,293.3 1248.0,302.8 1248.7,311.2 1249.5,318.8 1250.2,325.6 1250.9,331.8 1251.7,337.5 1252.4,343.0 1253.2,348.2 1253.9,353.5 1254.7,358.9 1255.4,364.1 1256.2,369.1 1256.9,373.6 1257.7,377.9 1258.4,381.9 1259.2,385.5 1259.9,389.0 1260.6,392.1 1261.4,395.1 1262.1,397.8 1262.9,400.4 1263.6,402.8 1264.4,405.0 1265.1,407.2 1265.9,409.3 1266.6,411.3 1267.4,413.3 1268.1,415.3 1268.8,417.2 1269.6,419.1 1270.3,420.9 1271.1,422.6 1271.8,424.3 1272.6,426.0 1273.3,427.6 1274.1,429.1 1274.8,430.5 1275.6,431.9 1276.3,433.2 1277.1,434.4 1277.8,435.5 1278.5,436.6 1279.3,437.6 1280.0,438.6 1280.8,439.6 1281.5,440.5 1282.3,441.4 1283.0,442.3 1283.8,443.2 1284.5,444.0 1285.3,444.8 1286.0,445.6 1286.8,446.3 1287.5,447.1 1288.2,447.8 1289.0,448.5 1289.7,449.2 1290.5,449.8 1291.2,450.4 1292.0,451.1 1292.7,451.6 1293.5,452.2 1294.2,452.8 1295.0,453.3 1295.7,453.8 1296.5,454.3 1297.2,454.8 1297.9,455.2 1298.7,455.7 1299.4,456.1 1300.2,456.6 1300.9,457.0 1301.7,457.4 1302.4,457.8 1303.2,458.2 1303.9,458.6 1304.7,459.0 1305.4,459.4 1306.1,459.8 1306.9,460.1 1307.6,460.5 1308.4,460.8 1309.1,461.2 1309.9,461.5 1310.6,461.8 1311.4,462.1 1312.1,462.4 1312.9,462.7 1313.6,463.0 1314.4,463.3 1315.1,463.6 1315.8,463.9 1316.6,464.1 1317.3,464.4 1318.1,464.6 1318.8,464.8 1319.6,465.1 1320.3,465.3 1321.1,465.5 1321.8,465.7 1322.6,465.9 1323.3,466.1 1324.1,466.2 1324.8,466.4 1325.5,466.6 1326.3,466.7 1327.0,466.9 1327.8,467.1 1328.5,467.2 1329.3,467.4 1330.0,467.5 1330.8,467.7 1331.5,467.8 1332.3,468.0 1333.0,468.1 1333.8,468.2 1334.5,468.4 1335.2,468.5 1336.0,468.6 1336.7,468.8 1337.5,468.9 1338.2,469.0 1339.0,469.2 1339.7,469.3 1340.5,469.4 1341.2,469.5 1342.0,469.6 1342.7,469.8 1343.4,469.9 1344.2,470.0 1344.9,470.1 1345.7,470.2 1346.4,470.3 1347.2,470.4 1347.9,470.5 1348.7,470.6 1349.4,470.7 1350.2,470.8 1350.9,470.9 1351.7,471.0 1352.4,471.1 1353.1,471.2 1353.9,471.3 1354.6,471.4 1355.4,471.5 1356.1,471.6 1356.9,471.7 1357.6,471.8 1358.4,471.9 1359.1,472.0 1359.9,472.1 1360.6,472.2 1361.4,472.3 1362.1,472.3 1362.8,472.4 1363.6,472.5 1364.3,472.6 1365.1,472.7 1365.8,472.8 1366.6,472.9 1367.3,472.9 1368.1,473.0 1368.8,473.1 1369.6,473.2 1370.3,473.3 1371.0,473.3 1371.8,473.4 1372.5,473.5 1373.3,473.6 1374.0,473.6 1374.8,473.7 1375.5,473.8 1376.3,473.9 1377.0,473.9 1377.8,474.0 1378.5,474.1 1379.3,474.2 1380.0,474.2 1380.7,474.3 1381.5,474.4 1382.2,474.5 1383.0,474.5 1383.7,474.6 1384.5,474.7 1385.2,474.7 1386.0,474.8 1386.7,474.9 1387.5,474.9 1388.2,475.0 1389.0,475.1 1389.7,475.2 1390.4,475.2 1391.2,475.3 1391.9,475.4 1392.7,475.4 1393.4,475.5 1394.2,475.6 1394.9,475.6 1395.7,475.7 1396.4,475.8 1397.2,475.8 1397.9,475.9 1398.7,476.0 1399.4,476.1 1400.1,476.1 1400.9,476.2 1401.6,476.3 1402.4,476.4 1403.1,476.5 1403.9,476.6 1404.6,476.7 1405.4,476.8 1406.1,476.9 1406.9,477.0 1407.6,477.1 1408.3,477.3 1409.1,477.4 1409.8,477.5 1410.6,477.6 1411.3,477.7 1412.1,477.8 1412.8,477.9 1413.6,478.0 1414.3,478.2 1415.1,478.3 1415.8,478.4 1416.6,478.5 1417.3,478.6 1418.0,478.7 1418.8,478.8 1419.5,478.9 1420.3,479.0 1421.0,479.0 1421.8,479.1 1422.5,479.2 1423.3,479.3 1424.0,479.3 1424.8,479.4 1425.5,479.5 1426.3,479.5 1427.0,479.6" stroke="#FF0A84" stroke-width="2.6"/>
<polyline points="830.2,481.1 831.0,475.2 831.8,476.9 832.6,477.6 833.4,472.4 834.2,475.6 835.0,476.7 835.8,469.3 836.6,477.3 837.4,479.9 838.2,480.1 839.0,477.0 839.7,472.6 840.5,471.8 841.3,470.6 842.1,467.9 842.9,468.1 843.7,471.6 844.5,469.0 845.3,471.1 846.1,475.2 846.9,470.0 847.7,472.5 848.5,473.2 849.3,465.1 850.1,469.3 850.9,473.5 851.7,471.8 852.5,463.0 853.3,472.0 854.1,468.3 854.9,468.6 855.7,468.8 856.5,468.3 857.3,472.0 858.1,471.8 858.8,470.6 859.6,471.2 860.4,466.9 861.2,464.2 862.0,472.9 862.8,467.7 863.6,473.1 864.4,472.0 865.2,470.3 866.0,469.1 866.8,471.0 867.6,478.7 868.4,464.4 869.2,470.3 870.0,471.5 870.8,466.8 871.6,471.3 872.4,474.3 873.2,467.4 874.0,467.6 874.8,472.0 875.6,466.0 876.4,467.7 877.1,473.0 877.9,462.6 878.7,467.9 879.5,472.9 880.3,467.2 881.1,468.3 881.9,465.2 882.7,473.5 883.5,464.9 884.3,465.2 885.1,466.0 885.9,466.3 886.7,463.7 887.5,465.8 888.3,467.8 889.1,471.2 889.9,464.1 890.7,464.5 891.5,466.8 892.3,467.3 893.1,465.1 893.9,476.6 894.7,466.3 895.5,476.3 896.2,466.4 897.0,463.3 897.8,460.2 898.6,468.5 899.4,465.2 900.2,466.8 901.0,474.4 901.8,463.7 902.6,466.2 903.4,465.8 904.2,469.2 905.0,465.8 905.8,465.2 906.6,460.8 907.4,464.2 908.2,452.5 909.0,466.4 909.8,465.7 910.6,464.8 911.4,467.3 912.2,458.8 913.0,461.7 913.8,468.5 914.5,463.4 915.3,459.4 916.1,468.5 916.9,462.7 917.7,463.9 918.5,454.5 919.3,461.3 920.1,464.1 920.9,464.5 921.7,455.4 922.5,463.8 923.3,453.7 924.1,467.4 924.9,462.3 925.7,462.4 926.5,463.9 927.3,462.0 928.1,458.6 928.9,463.4 929.7,466.1 930.5,455.9 931.3,455.3 932.1,463.0 932.8,459.3 933.6,469.6 934.4,456.4 935.2,464.9 936.0,461.9 936.8,452.0 937.6,464.3 938.4,459.5 939.2,463.3 940.0,466.0 940.8,463.4 941.6,458.1 942.4,463.7 943.2,460.9 944.0,456.0 944.8,459.0 945.6,463.1 946.4,452.7 947.2,457.5 948.0,452.7 948.8,461.4 949.6,451.3 950.4,462.1 951.2,463.4 951.9,458.4 952.7,458.0 953.5,455.5 954.3,458.2 955.1,453.7 955.9,450.9 956.7,457.9 957.5,460.3 958.3,456.5 959.1,451.7 959.9,451.5 960.7,455.4 961.5,457.5 962.3,453.6 963.1,449.7 963.9,455.5 964.7,447.8 965.5,451.3 966.3,450.7 967.1,453.7 967.9,446.0 968.7,450.4 969.5,455.6 970.2,446.7 971.0,450.8 971.8,444.8 972.6,447.6 973.4,450.0 974.2,446.5 975.0,448.3 975.8,448.9 976.6,445.1 977.4,441.4 978.2,443.5 979.0,443.3 979.8,444.2 980.6,439.1 981.4,439.3 982.2,435.8 983.0,436.9 983.8,429.3 984.6,441.9 985.4,435.1 986.2,431.7 987.0,429.2 987.8,437.0 988.6,434.5 989.3,428.7 990.1,423.1 990.9,421.5 991.7,429.8 992.5,422.0 993.3,416.3 994.1,418.9 994.9,421.1 995.7,418.0 996.5,418.1 997.3,405.7 998.1,408.2 998.9,405.6 999.7,403.8 1000.5,397.4 1001.3,396.8 1002.1,393.5 1002.9,386.4 1003.7,383.9 1004.5,377.8 1005.3,375.5 1006.1,367.9 1006.9,369.4 1007.6,364.8 1008.4,361.7 1009.2,362.8 1010.0,352.0 1010.8,356.6 1011.6,358.4 1012.4,344.6 1013.2,344.8 1014.0,347.7 1014.8,339.4 1015.6,337.4 1016.4,336.5 1017.2,342.4 1018.0,335.2 1018.8,338.6 1019.6,335.3 1020.4,333.7 1021.2,333.6 1022.0,326.9 1022.8,331.2 1023.6,324.5 1024.4,325.6 1025.2,328.1 1026.0,324.2 1026.7,321.5 1027.5,319.0 1028.3,324.4 1029.1,315.6 1029.9,320.0 1030.7,316.7 1031.5,327.1 1032.3,325.4 1033.1,315.3 1033.9,320.7 1034.7,316.9 1035.5,312.7 1036.3,322.5 1037.1,313.0 1037.9,305.0 1038.7,307.9 1039.5,309.0 1040.3,305.1 1041.1,305.5 1041.9,300.3 1042.7,296.2 1043.5,301.0 1044.3,296.1 1045.0,295.9 1045.8,292.9 1046.6,291.5 1047.4,298.6 1048.2,288.0 1049.0,288.2 1049.8,295.6 1050.6,291.1 1051.4,295.1 1052.2,289.0 1053.0,285.2 1053.8,290.5 1054.6,287.7 1055.4,287.0 1056.2,284.9 1057.0,284.0 1057.8,283.9 1058.6,275.4 1059.4,277.4 1060.2,278.5 1061.0,269.0 1061.8,274.2 1062.6,266.2 1063.3,274.0 1064.1,260.9 1064.9,267.5 1065.7,268.1 1066.5,260.6 1067.3,266.7 1068.1,264.0 1068.9,256.5 1069.7,257.9 1070.5,252.3 1071.3,251.6 1072.1,249.2 1072.9,247.7 1073.7,243.0 1074.5,244.0 1075.3,236.8 1076.1,235.1 1076.9,245.7 1077.7,242.3 1078.5,224.9 1079.3,231.5 1080.1,226.2 1080.9,225.2 1081.7,221.1 1082.4,209.9 1083.2,220.9 1084.0,215.1 1084.8,213.1 1085.6,216.0 1086.4,212.9 1087.2,208.0 1088.0,204.8 1088.8,201.0 1089.6,210.0 1090.4,206.4 1091.2,189.7 1092.0,196.4 1092.8,189.8 1093.6,193.4 1094.4,192.5 1095.2,176.8 1096.0,190.1 1096.8,186.2 1097.6,176.4 1098.4,177.3 1099.2,183.1 1100.0,172.9 1100.7,168.6 1101.5,178.2 1102.3,152.0 1103.1,166.1 1103.9,160.8 1104.7,181.3 1105.5,174.1 1106.3,171.5 1107.1,177.0 1107.9,178.2 1108.7,177.7 1109.5,174.4 1110.3,183.6 1111.1,176.2 1111.9,178.3 1112.7,180.1 1113.5,178.9 1114.3,190.6 1115.1,190.4 1115.9,187.5 1116.7,188.4 1117.5,192.1 1118.3,200.9 1119.1,203.5 1119.8,210.0 1120.6,209.0 1121.4,214.8 1122.2,217.1 1123.0,221.1 1123.8,220.2 1124.6,224.7 1125.4,233.2 1126.2,242.2 1127.0,240.7 1127.8,241.3 1128.6,241.8 1129.4,246.8 1130.2,246.2 1131.0,254.6 1131.8,250.7 1132.6,252.1 1133.4,258.6 1134.2,262.1 1135.0,255.0 1135.8,266.5 1136.6,260.8 1137.4,266.7 1138.1,268.9 1138.9,270.3 1139.7,273.1 1140.5,273.3 1141.3,267.4 1142.1,270.8 1142.9,279.6 1143.7,278.9 1144.5,279.0 1145.3,286.6 1146.1,278.8 1146.9,288.3 1147.7,287.6 1148.5,296.1 1149.3,298.5 1150.1,299.6 1150.9,299.7 1151.7,294.1 1152.5,301.2 1153.3,297.5 1154.1,304.3 1154.9,307.7 1155.7,304.1 1156.5,307.5 1157.2,313.8 1158.0,307.6 1158.8,303.7 1159.6,310.4 1160.4,315.4 1161.2,314.3 1162.0,316.9 1162.8,313.6 1163.6,317.3 1164.4,314.4 1165.2,313.8 1166.0,309.6 1166.8,320.4 1167.6,324.6 1168.4,309.7 1169.2,315.1 1170.0,318.7 1170.8,315.4 1171.6,321.7 1172.4,319.5 1173.2,315.6 1174.0,320.0 1174.8,318.4 1175.5,317.3 1176.3,318.9 1177.1,320.7 1177.9,317.8 1178.7,314.7 1179.5,315.1 1180.3,324.2 1181.1,317.6 1181.9,328.8 1182.7,326.9 1183.5,319.5 1184.3,319.0 1185.1,315.6 1185.9,328.4 1186.7,316.7 1187.5,323.3 1188.3,322.7 1189.1,318.6 1189.9,314.1 1190.7,323.1 1191.5,325.5 1192.3,319.9 1193.1,316.6 1193.9,309.5 1194.6,310.9 1195.4,311.2 1196.2,309.1 1197.0,305.6 1197.8,295.8 1198.6,302.8 1199.4,294.3 1200.2,290.3 1201.0,276.7 1201.8,275.6 1202.6,273.5 1203.4,261.4 1204.2,249.9 1205.0,247.2 1205.8,250.3 1206.6,237.7 1207.4,223.5 1208.2,228.1 1209.0,216.4 1209.8,203.0 1210.6,188.7 1211.4,185.8 1212.2,173.3 1212.9,167.7 1213.7,158.8 1214.5,159.6 1215.3,157.7 1216.1,150.0 1216.9,130.4 1217.7,116.7 1218.5,108.0 1219.3,107.5 1220.1,97.8 1220.9,80.6 1221.7,74.8 1222.5,71.4 1223.3,57.7 1224.1,52.6 1224.9,43.4 1225.7,35.8 1226.5,32.8 1227.3,29.9 1228.1,26.6 1228.9,30.1 1229.7,23.3 1230.5,37.6 1231.2,35.8 1232.0,51.6 1232.8,55.6 1233.6,62.1 1234.4,73.5 1235.2,105.3 1236.0,106.1 1236.8,114.4 1237.6,134.2 1238.4,148.4 1239.2,165.0 1240.0,175.0 1240.8,185.8 1241.6,209.0 1242.4,214.8 1243.2,232.8 1244.0,242.8 1244.8,261.1 1245.6,268.8 1246.4,280.5 1247.2,295.5 1248.0,305.5 1248.8,307.7 1249.6,317.0 1250.3,330.0 1251.1,331.5 1251.9,344.0 1252.7,347.1 1253.5,362.3 1254.3,358.5 1255.1,359.3 1255.9,369.3 1256.7,370.1 1257.5,379.5 1258.3,380.1 1259.1,385.8 1259.9,392.7 1260.7,384.2 1261.5,398.6 1262.3,403.5 1263.1,400.5 1263.9,401.7 1264.7,404.6 1265.5,408.5 1266.3,408.6 1267.1,409.0 1267.9,412.3 1268.6,421.8 1269.4,412.2 1270.2,420.7 1271.0,430.1 1271.8,421.2 1272.6,426.6 1273.4,426.7 1274.2,422.0 1275.0,432.8 1275.8,434.6 1276.6,437.3 1277.4,434.2 1278.2,433.6 1279.0,435.7 1279.8,437.6 1280.6,447.0 1281.4,439.3 1282.2,437.3 1283.0,444.1 1283.8,445.0 1284.6,447.7 1285.4,444.0 1286.2,451.3 1287.0,439.5 1287.7,448.0 1288.5,450.2 1289.3,453.2 1290.1,447.5 1290.9,446.6 1291.7,452.8 1292.5,450.8 1293.3,451.0 1294.1,449.2 1294.9,451.0 1295.7,449.3 1296.5,459.4 1297.3,445.4 1298.1,457.1 1298.9,459.8 1299.7,459.6 1300.5,455.3 1301.3,454.4 1302.1,448.9 1302.9,453.6 1303.7,461.2 1304.5,460.1 1305.3,460.9 1306.0,461.8 1306.8,460.7 1307.6,462.6 1308.4,456.6 1309.2,460.0 1310.0,459.3 1310.8,462.4 1311.6,466.3 1312.4,460.9 1313.2,464.2 1314.0,456.0 1314.8,459.0 1315.6,468.0 1316.4,467.5 1317.2,466.2 1318.0,465.3 1318.8,460.7 1319.6,465.7 1320.4,463.6 1321.2,466.6 1322.0,466.4 1322.8,461.5 1323.6,466.0 1324.4,459.3 1325.1,466.6 1325.9,465.2 1326.7,465.4 1327.5,464.6 1328.3,460.3 1329.1,469.7 1329.9,469.3 1330.7,470.9 1331.5,461.3 1332.3,466.2 1333.1,466.5 1333.9,466.6 1334.7,474.9 1335.5,465.8 1336.3,468.2 1337.1,467.7 1337.9,468.6 1338.7,469.4 1339.5,469.4 1340.3,471.3 1341.1,470.2 1341.9,467.3 1342.7,477.1 1343.4,466.9 1344.2,467.6 1345.0,473.8 1345.8,468.3 1346.6,469.2 1347.4,472.2 1348.2,464.5 1349.0,470.0 1349.8,471.2 1350.6,475.4 1351.4,463.3 1352.2,470.3 1353.0,470.0 1353.8,472.1 1354.6,464.0 1355.4,472.0 1356.2,466.0 1357.0,467.9 1357.8,468.3 1358.6,469.6 1359.4,467.9 1360.2,472.5 1361.0,479.4 1361.7,481.7 1362.5,468.4 1363.3,479.7 1364.1,467.8 1364.9,461.7 1365.7,479.3 1366.5,470.6 1367.3,471.2 1368.1,475.5 1368.9,480.0 1369.7,473.4 1370.5,467.3 1371.3,473.7 1372.1,473.4 1372.9,473.2 1373.7,473.4 1374.5,472.6 1375.3,465.7 1376.1,476.9 1376.9,480.3 1377.7,471.0 1378.5,475.9 1379.3,475.9 1380.1,479.1 1380.8,474.9 1381.6,475.8 1382.4,472.9 1383.2,475.9 1384.0,479.7 1384.8,472.9 1385.6,475.0 1386.4,481.4 1387.2,476.1 1388.0,472.3 1388.8,475.2 1389.6,476.2 1390.4,473.1 1391.2,477.5 1392.0,477.7 1392.8,473.5 1393.6,476.0 1394.4,477.7 1395.2,474.8 1396.0,474.7 1396.8,472.5 1397.6,472.3 1398.4,475.6 1399.1,476.1 1399.9,479.3 1400.7,475.4 1401.5,477.5 1402.3,473.4 1403.1,473.6 1403.9,474.3 1404.7,476.9 1405.5,475.6 1406.3,471.6 1407.1,471.0 1407.9,479.2 1408.7,487.1 1409.5,475.2 1410.3,482.8 1411.1,477.4 1411.9,476.1 1412.7,472.6 1413.5,478.6 1414.3,478.5 1415.1,480.2 1415.9,477.3 1416.7,482.7 1417.5,476.5 1418.2,477.4 1419.0,474.0 1419.8,479.9 1420.6,477.8 1421.4,478.3 1422.2,479.2 1423.0,482.5 1423.8,481.2 1424.6,479.1 1425.4,477.7 1426.2,475.8 1427.0,481.6" stroke="#000" stroke-width="3.7"/>
</g>
<rect x="830.20" y="4.50" width="596.80" height="480.70" fill="none" stroke="#000" stroke-width="3.3"/>
<path d="M879.93,485.20v-5.0M879.93,4.50v5.0M929.67,485.20v-10.2M929.67,4.50v10.2M979.40,485.20v-5.0M979.40,4.50v5.0M1029.13,485.20v-10.2M1029.13,4.50v10.2M1078.87,485.20v-5.0M1078.87,4.50v5.0M1128.60,485.20v-10.2M1128.60,4.50v10.2M1178.33,485.20v-5.0M1178.33,4.50v5.0M1228.07,485.20v-10.2M1228.07,4.50v10.2M1277.80,485.20v-5.0M1277.80,4.50v5.0M1327.53,485.20v-10.2M1327.53,4.50v10.2M1377.27,485.20v-5.0M1377.27,4.50v5.0M830.20,480.90h10.2M1427.00,480.90h-10.2M830.20,417.35h10.2M1427.00,417.35h-10.2M830.20,353.80h10.2M1427.00,353.80h-10.2M830.20,290.25h10.2M1427.00,290.25h-10.2M830.20,226.70h10.2M1427.00,226.70h-10.2M830.20,163.15h10.2M1427.00,163.15h-10.2M830.20,99.60h10.2M1427.00,99.60h-10.2M830.20,36.05h10.2M1427.00,36.05h-10.2M830.20,449.12h5.0M1427.00,449.12h-5.0M830.20,385.57h5.0M1427.00,385.57h-5.0M830.20,322.02h5.0M1427.00,322.02h-5.0M830.20,258.48h5.0M1427.00,258.48h-5.0M830.20,194.93h5.0M1427.00,194.93h-5.0M830.20,131.38h5.0M1427.00,131.38h-5.0M830.20,67.82h5.0M1427.00,67.82h-5.0" stroke="#000" stroke-width="2.6" fill="none"/>
<g class="tl"><text x="830.20" y="517.80" text-anchor="middle">800</text><text x="929.67" y="517.80" text-anchor="middle">1000</text><text x="1029.13" y="517.80" text-anchor="middle">1200</text><text x="1128.60" y="517.80" text-anchor="middle">1400</text><text x="1228.07" y="517.80" text-anchor="middle">1600</text><text x="1327.53" y="517.80" text-anchor="middle">1800</text><text x="1427.00" y="517.80" text-anchor="middle">2000</text><text x="820.25" y="490.20" text-anchor="end">0</text><text x="820.25" y="426.65" text-anchor="end">200</text><text x="820.25" y="363.10" text-anchor="end">400</text><text x="820.25" y="299.55" text-anchor="end">600</text><text x="820.25" y="236.00" text-anchor="end">800</text><text x="820.25" y="172.45" text-anchor="end">1000</text><text x="820.25" y="108.90" text-anchor="end">1200</text><text x="820.25" y="45.35" text-anchor="end">1400</text></g>
<text class="let" x="842.2" y="52.9">B</text>
<text class="rat" transform="translate(1268.2,75.5) scale(1,1.07)">I<tspan class="sub" dy="7.4">D</tspan><tspan dy="-7.4">/I</tspan><tspan class="sub" dy="7.4">G</tspan><tspan dy="-7.4">=1.439</tspan></text>
<text class="ttl" style="font-size:29.35px" x="1010.5" y="567.1">Raman shift (cm<tspan class="sup" dy="-12.5">-1</tspan><tspan dy="12.5">)</tspan></text>
<text class="ttl" style="font-size:29.7px" transform="translate(754.0,244.4) rotate(-90)" text-anchor="middle">Intensity (a.u.)</text>
<text class="ann" style="font-size:29.4px" x="863.8" y="200.4">observed</text>
<text class="ann" style="font-size:29.4px" x="863.8" y="236.6">spectrum and</text>
<text class="ann" style="font-size:29.4px" x="863.8" y="272.9">curve fit</text>
<line x1="984.8" y1="258.9" x2="1032.3" y2="280.7" stroke="#000" stroke-width="3.6"/><polygon points="1051.4,289.4 1027.7,285.8 1033.2,273.8" fill="#000"/>
<line x1="957.3" y1="354.8" x2="1015.9" y2="374.6" stroke="#FF0000" stroke-width="3.6"/><polygon points="1035.8,381.3 1011.9,380.2 1016.1,367.7" fill="#FF0000"/>
<text class="ann" style="font-size:29.4px" x="922.7" y="353.8" fill="#FF0000">D1</text>
<line x1="932.3" y1="441.1" x2="970.9" y2="456.2" stroke="#000000" stroke-width="3.6"/><polygon points="990.5,463.8 966.7,461.6 971.5,449.3" fill="#000000"/>
<text class="ann" style="font-size:29.4px" x="896.6" y="442.1" fill="#000000">D4</text>
<line x1="1285.7" y1="266.2" x2="1261.9" y2="269.5" stroke="#A674DC" stroke-width="3.6"/><polygon points="1241.1,272.3 1263.0,262.6 1264.8,275.7" fill="#A674DC"/>
<text class="ann" style="font-size:29.4px" x="1287.0" y="274.8" fill="#A674DC">D2</text>
<line x1="1292.3" y1="361.7" x2="1253.8" y2="367.7" stroke="#2EA85E" stroke-width="3.6"/><polygon points="1233.0,370.9 1254.7,360.9 1256.7,373.9" fill="#2EA85E"/>
<text class="ann" style="font-size:29.4px" x="1295.6" y="367.8" fill="#2EA85E">G</text>
<line x1="1324.0" y1="440.4" x2="1219.5" y2="467.9" stroke="#1A66DD" stroke-width="3.6"/><polygon points="1199.2,473.2 1219.8,461.0 1223.1,473.7" fill="#1A66DD"/>
<text class="ann" style="font-size:29.4px" x="1325.8" y="447.6" fill="#1A66DD">D3</text>
<clipPath id="clipC"><rect x="86.90" y="639.60" width="608.10" height="489.20"/></clipPath>
<g clip-path="url(#clipC)" fill="none" stroke-linejoin="round">
<polyline points="86.9,1126.1 87.9,1126.1 88.9,1126.1 89.9,1126.0 91.0,1126.0 92.0,1126.0 93.0,1126.0 94.0,1126.0 95.0,1126.0 96.0,1126.0 97.0,1126.0 98.0,1126.0 99.1,1126.0 100.1,1126.0 101.1,1125.9 102.1,1125.9 103.1,1125.9 104.1,1125.9 105.1,1125.9 106.2,1125.9 107.2,1125.9 108.2,1125.9 109.2,1125.9 110.2,1125.8 111.2,1125.8 112.2,1125.8 113.3,1125.8 114.3,1125.8 115.3,1125.8 116.3,1125.8 117.3,1125.8 118.3,1125.7 119.3,1125.7 120.3,1125.7 121.4,1125.7 122.4,1125.7 123.4,1125.7 124.4,1125.7 125.4,1125.6 126.4,1125.6 127.4,1125.6 128.5,1125.6 129.5,1125.6 130.5,1125.6 131.5,1125.5 132.5,1125.5 133.5,1125.5 134.5,1125.5 135.5,1125.5 136.6,1125.5 137.6,1125.4 138.6,1125.4 139.6,1125.4 140.6,1125.4 141.6,1125.3 142.6,1125.3 143.7,1125.3 144.7,1125.3 145.7,1125.3 146.7,1125.2 147.7,1125.2 148.7,1125.2 149.7,1125.2 150.8,1125.1 151.8,1125.1 152.8,1125.1 153.8,1125.1 154.8,1125.0 155.8,1125.0 156.8,1125.0 157.8,1124.9 158.9,1124.9 159.9,1124.9 160.9,1124.8 161.9,1124.8 162.9,1124.8 163.9,1124.7 164.9,1124.7 166.0,1124.7 167.0,1124.6 168.0,1124.6 169.0,1124.6 170.0,1124.5 171.0,1124.5 172.0,1124.4 173.0,1124.4 174.1,1124.3 175.1,1124.3 176.1,1124.2 177.1,1124.2 178.1,1124.1 179.1,1124.1 180.1,1124.0 181.2,1124.0 182.2,1123.9 183.2,1123.9 184.2,1123.8 185.2,1123.8 186.2,1123.7 187.2,1123.6 188.2,1123.6 189.3,1123.5 190.3,1123.4 191.3,1123.3 192.3,1123.3 193.3,1123.2 194.3,1123.1 195.3,1123.0 196.4,1122.9 197.4,1122.9 198.4,1122.8 199.4,1122.7 200.4,1122.6 201.4,1122.5 202.4,1122.4 203.5,1122.2 204.5,1122.1 205.5,1122.0 206.5,1121.9 207.5,1121.8 208.5,1121.6 209.5,1121.5 210.5,1121.3 211.6,1121.2 212.6,1121.0 213.6,1120.9 214.6,1120.7 215.6,1120.5 216.6,1120.3 217.6,1120.1 218.7,1119.9 219.7,1119.7 220.7,1119.4 221.7,1119.2 222.7,1118.9 223.7,1118.6 224.7,1118.4 225.7,1118.0 226.8,1117.7 227.8,1117.4 228.8,1117.0 229.8,1116.6 230.8,1116.3 231.8,1115.8 232.8,1115.4 233.9,1114.9 234.9,1114.4 235.9,1113.9 236.9,1113.3 237.9,1112.8 238.9,1112.2 239.9,1111.5 241.0,1110.8 242.0,1110.1 243.0,1109.4 244.0,1108.6 245.0,1107.8 246.0,1106.9 247.0,1106.0 248.0,1105.0 249.1,1104.1 250.1,1103.0 251.1,1101.9 252.1,1100.8 253.1,1099.7 254.1,1098.4 255.1,1097.2 256.2,1095.9 257.2,1094.6 258.2,1093.2 259.2,1091.8 260.2,1090.4 261.2,1088.9 262.2,1087.4 263.2,1085.9 264.3,1084.4 265.3,1082.9 266.3,1081.4 267.3,1079.9 268.3,1078.5 269.3,1077.1 270.3,1075.8 271.4,1074.5 272.4,1073.3 273.4,1072.3 274.4,1071.3 275.4,1070.5 276.4,1069.8 277.4,1069.3 278.5,1069.0 279.5,1068.8 280.5,1068.8 281.5,1069.0 282.5,1069.3 283.5,1069.8 284.5,1070.5 285.5,1071.3 286.6,1072.3 287.6,1073.3 288.6,1074.5 289.6,1075.8 290.6,1077.1 291.6,1078.5 292.6,1079.9 293.7,1081.4 294.7,1082.9 295.7,1084.4 296.7,1085.9 297.7,1087.4 298.7,1088.9 299.7,1090.4 300.7,1091.8 301.8,1093.2 302.8,1094.6 303.8,1095.9 304.8,1097.2 305.8,1098.4 306.8,1099.7 307.8,1100.8 308.9,1101.9 309.9,1103.0 310.9,1104.1 311.9,1105.0 312.9,1106.0 313.9,1106.9 314.9,1107.8 316.0,1108.6 317.0,1109.4 318.0,1110.1 319.0,1110.8 320.0,1111.5 321.0,1112.2 322.0,1112.8 323.0,1113.3 324.1,1113.9 325.1,1114.4 326.1,1114.9 327.1,1115.4 328.1,1115.8 329.1,1116.3 330.1,1116.6 331.2,1117.0 332.2,1117.4 333.2,1117.7 334.2,1118.0 335.2,1118.4 336.2,1118.6 337.2,1118.9 338.2,1119.2 339.3,1119.4 340.3,1119.7 341.3,1119.9 342.3,1120.1 343.3,1120.3 344.3,1120.5 345.3,1120.7 346.4,1120.9 347.4,1121.0 348.4,1121.2 349.4,1121.3 350.4,1121.5 351.4,1121.6 352.4,1121.8 353.5,1121.9 354.5,1122.0 355.5,1122.1 356.5,1122.2 357.5,1122.4 358.5,1122.5 359.5,1122.6 360.5,1122.7 361.6,1122.8 362.6,1122.9 363.6,1122.9 364.6,1123.0 365.6,1123.1 366.6,1123.2 367.6,1123.3 368.7,1123.3 369.7,1123.4 370.7,1123.5 371.7,1123.6 372.7,1123.6 373.7,1123.7 374.7,1123.8 375.7,1123.8 376.8,1123.9 377.8,1123.9 378.8,1124.0 379.8,1124.0 380.8,1124.1 381.8,1124.1 382.8,1124.2 383.9,1124.2 384.9,1124.3 385.9,1124.3 386.9,1124.4 387.9,1124.4 388.9,1124.5 389.9,1124.5 391.0,1124.6 392.0,1124.6 393.0,1124.6 394.0,1124.7 395.0,1124.7 396.0,1124.7 397.0,1124.8 398.0,1124.8 399.1,1124.8 400.1,1124.9 401.1,1124.9 402.1,1124.9 403.1,1125.0 404.1,1125.0 405.1,1125.0 406.2,1125.1 407.2,1125.1 408.2,1125.1 409.2,1125.1 410.2,1125.2 411.2,1125.2 412.2,1125.2 413.2,1125.2 414.3,1125.3 415.3,1125.3 416.3,1125.3 417.3,1125.3 418.3,1125.3 419.3,1125.4 420.3,1125.4 421.4,1125.4 422.4,1125.4 423.4,1125.5 424.4,1125.5 425.4,1125.5 426.4,1125.5 427.4,1125.5 428.4,1125.5 429.5,1125.6 430.5,1125.6 431.5,1125.6 432.5,1125.6 433.5,1125.6 434.5,1125.6 435.5,1125.7 436.6,1125.7 437.6,1125.7 438.6,1125.7 439.6,1125.7 440.6,1125.7 441.6,1125.7 442.6,1125.8 443.7,1125.8 444.7,1125.8 445.7,1125.8 446.7,1125.8 447.7,1125.8 448.7,1125.8 449.7,1125.8 450.7,1125.9 451.8,1125.9 452.8,1125.9 453.8,1125.9 454.8,1125.9 455.8,1125.9 456.8,1125.9 457.8,1125.9 458.9,1125.9 459.9,1126.0 460.9,1126.0 461.9,1126.0 462.9,1126.0 463.9,1126.0 464.9,1126.0 465.9,1126.0 467.0,1126.0 468.0,1126.0 469.0,1126.0 470.0,1126.0 471.0,1126.1 472.0,1126.1 473.0,1126.1 474.1,1126.1 475.1,1126.1 476.1,1126.1 477.1,1126.1 478.1,1126.1 479.1,1126.1 480.1,1126.1 481.2,1126.1 482.2,1126.1 483.2,1126.1 484.2,1126.2 485.2,1126.2 486.2,1126.2 487.2,1126.2 488.2,1126.2 489.3,1126.2 490.3,1126.2 491.3,1126.2 492.3,1126.2 493.3,1126.2 494.3,1126.2 495.3,1126.2 496.4,1126.2 497.4,1126.2 498.4,1126.2 499.4,1126.2 500.4,1126.3 501.4,1126.3 502.4,1126.3 503.4,1126.3 504.5,1126.3 505.5,1126.3 506.5,1126.3 507.5,1126.3 508.5,1126.3 509.5,1126.3 510.5,1126.3 511.6,1126.3 512.6,1126.3 513.6,1126.3 514.6,1126.3 515.6,1126.3 516.6,1126.3 517.6,1126.3 518.7,1126.3 519.7,1126.3 520.7,1126.3 521.7,1126.4 522.7,1126.4 523.7,1126.4 524.7,1126.4 525.7,1126.4 526.8,1126.4 527.8,1126.4 528.8,1126.4 529.8,1126.4 530.8,1126.4 531.8,1126.4 532.8,1126.4 533.9,1126.4 534.9,1126.4 535.9,1126.4 536.9,1126.4 537.9,1126.4 538.9,1126.4 539.9,1126.4 540.9,1126.4 542.0,1126.4 543.0,1126.4 544.0,1126.4 545.0,1126.4 546.0,1126.4 547.0,1126.4 548.0,1126.4 549.1,1126.4 550.1,1126.5 551.1,1126.5 552.1,1126.5 553.1,1126.5 554.1,1126.5 555.1,1126.5 556.2,1126.5 557.2,1126.5 558.2,1126.5 559.2,1126.5 560.2,1126.5 561.2,1126.5 562.2,1126.5 563.2,1126.5 564.3,1126.5 565.3,1126.5 566.3,1126.5 567.3,1126.5 568.3,1126.5 569.3,1126.5 570.3,1126.5 571.4,1126.5 572.4,1126.5 573.4,1126.5 574.4,1126.5 575.4,1126.5 576.4,1126.5 577.4,1126.5 578.4,1126.5 579.5,1126.5 580.5,1126.5 581.5,1126.5 582.5,1126.5 583.5,1126.5 584.5,1126.5 585.5,1126.5 586.6,1126.5 587.6,1126.5 588.6,1126.5 589.6,1126.5 590.6,1126.5 591.6,1126.6 592.6,1126.6 593.7,1126.6 594.7,1126.6 595.7,1126.6 596.7,1126.6 597.7,1126.6 598.7,1126.6 599.7,1126.6 600.7,1126.6 601.8,1126.6 602.8,1126.6 603.8,1126.6 604.8,1126.6 605.8,1126.6 606.8,1126.6 607.8,1126.6 608.9,1126.6 609.9,1126.6 610.9,1126.6 611.9,1126.6 612.9,1126.6 613.9,1126.6 614.9,1126.6 615.9,1126.6 617.0,1126.6 618.0,1126.6 619.0,1126.6 620.0,1126.6 621.0,1126.6 622.0,1126.6 623.0,1126.6 624.1,1126.6 625.1,1126.6 626.1,1126.6 627.1,1126.6 628.1,1126.6 629.1,1126.6 630.1,1126.6 631.1,1126.6 632.2,1126.6 633.2,1126.6 634.2,1126.6 635.2,1126.6 636.2,1126.6 637.2,1126.6 638.2,1126.6 639.3,1126.6 640.3,1126.6 641.3,1126.6 642.3,1126.6 643.3,1126.6 644.3,1126.6 645.3,1126.6 646.4,1126.6 647.4,1126.6 648.4,1126.6 649.4,1126.6 650.4,1126.6 651.4,1126.6 652.4,1126.6 653.4,1126.6 654.5,1126.6 655.5,1126.6 656.5,1126.6 657.5,1126.6 658.5,1126.6 659.5,1126.6 660.5,1126.7 661.6,1126.7 662.6,1126.7 663.6,1126.7 664.6,1126.7 665.6,1126.7 666.6,1126.7 667.6,1126.7 668.6,1126.7 669.7,1126.7 670.7,1126.7 671.7,1126.7 672.7,1126.7 673.7,1126.7 674.7,1126.7 675.7,1126.7 676.8,1126.7 677.8,1126.7 678.8,1126.7 679.8,1126.7 680.8,1126.7 681.8,1126.7 682.8,1126.7 683.9,1126.7 684.9,1126.7 685.9,1126.7 686.9,1126.7 687.9,1126.7 688.9,1126.7 689.9,1126.7 690.9,1126.7 692.0,1126.7 693.0,1126.7 694.0,1126.7 695.0,1126.7" stroke="#555555" stroke-width="3.3" stroke-dasharray="13 13 2 13 2 13" stroke-linecap="round"/>
<polyline points="86.9,1126.9 87.9,1126.9 88.9,1126.9 89.9,1126.9 91.0,1126.9 92.0,1126.9 93.0,1126.9 94.0,1126.9 95.0,1126.9 96.0,1126.9 97.0,1126.9 98.0,1126.9 99.1,1126.9 100.1,1126.9 101.1,1126.9 102.1,1126.9 103.1,1126.9 104.1,1126.9 105.1,1126.9 106.2,1126.9 107.2,1126.9 108.2,1126.9 109.2,1126.9 110.2,1126.9 111.2,1126.9 112.2,1126.9 113.3,1126.9 114.3,1126.9 115.3,1126.9 116.3,1126.9 117.3,1126.9 118.3,1126.9 119.3,1126.9 120.3,1126.9 121.4,1126.9 122.4,1126.9 123.4,1126.9 124.4,1126.9 125.4,1126.9 126.4,1126.9 127.4,1126.9 128.5,1126.9 129.5,1126.9 130.5,1126.9 131.5,1126.9 132.5,1126.9 133.5,1126.9 134.5,1126.9 135.5,1126.9 136.6,1126.9 137.6,1126.9 138.6,1126.9 139.6,1126.9 140.6,1126.9 141.6,1126.9 142.6,1126.9 143.7,1126.9 144.7,1126.9 145.7,1126.9 146.7,1126.9 147.7,1126.9 148.7,1126.9 149.7,1126.9 150.8,1126.9 151.8,1126.9 152.8,1126.9 153.8,1126.9 154.8,1126.9 155.8,1126.9 156.8,1126.9 157.8,1126.9 158.9,1126.9 159.9,1126.9 160.9,1126.9 161.9,1126.9 162.9,1126.9 163.9,1126.9 164.9,1126.9 166.0,1126.9 167.0,1126.9 168.0,1126.9 169.0,1126.9 170.0,1126.9 171.0,1126.9 172.0,1126.9 173.0,1126.9 174.1,1126.9 175.1,1126.9 176.1,1126.9 177.1,1126.9 178.1,1126.9 179.1,1126.9 180.1,1126.9 181.2,1126.9 182.2,1126.9 183.2,1126.9 184.2,1126.9 185.2,1126.9 186.2,1126.9 187.2,1126.9 188.2,1126.9 189.3,1126.9 190.3,1126.9 191.3,1126.9 192.3,1126.9 193.3,1126.9 194.3,1126.9 195.3,1126.9 196.4,1126.9 197.4,1126.9 198.4,1126.9 199.4,1126.9 200.4,1126.9 201.4,1126.9 202.4,1126.9 203.5,1126.9 204.5,1126.9 205.5,1126.9 206.5,1126.9 207.5,1126.9 208.5,1126.9 209.5,1126.9 210.5,1126.9 211.6,1126.9 212.6,1126.9 213.6,1126.9 214.6,1126.9 215.6,1126.9 216.6,1126.9 217.6,1126.9 218.7,1126.9 219.7,1126.9 220.7,1126.9 221.7,1126.9 222.7,1126.9 223.7,1126.9 224.7,1126.9 225.7,1126.9 226.8,1126.9 227.8,1126.9 228.8,1126.9 229.8,1126.9 230.8,1126.9 231.8,1126.9 232.8,1126.9 233.9,1126.9 234.9,1126.9 235.9,1126.9 236.9,1126.9 237.9,1126.9 238.9,1126.9 239.9,1126.9 241.0,1126.9 242.0,1126.9 243.0,1126.9 244.0,1126.9 245.0,1126.9 246.0,1126.9 247.0,1126.9 248.0,1126.9 249.1,1126.9 250.1,1126.9 251.1,1126.9 252.1,1126.9 253.1,1126.9 254.1,1126.9 255.1,1126.9 256.2,1126.9 257.2,1126.9 258.2,1126.9 259.2,1126.9 260.2,1126.9 261.2,1126.9 262.2,1126.9 263.2,1126.9 264.3,1126.9 265.3,1126.9 266.3,1126.9 267.3,1126.9 268.3,1126.9 269.3,1126.9 270.3,1126.9 271.4,1126.9 272.4,1126.9 273.4,1126.9 274.4,1126.9 275.4,1126.9 276.4,1126.9 277.4,1126.9 278.5,1126.9 279.5,1126.9 280.5,1126.9 281.5,1126.9 282.5,1126.9 283.5,1126.9 284.5,1126.9 285.5,1126.9 286.6,1126.9 287.6,1126.9 288.6,1126.9 289.6,1126.9 290.6,1126.9 291.6,1126.9 292.6,1126.9 293.7,1126.9 294.7,1126.9 295.7,1126.9 296.7,1126.9 297.7,1126.9 298.7,1126.9 299.7,1126.9 300.7,1126.9 301.8,1126.9 302.8,1126.9 303.8,1126.9 304.8,1126.9 305.8,1126.9 306.8,1126.9 307.8,1126.9 308.9,1126.9 309.9,1126.9 310.9,1126.9 311.9,1126.9 312.9,1126.9 313.9,1126.9 314.9,1126.9 316.0,1126.9 317.0,1126.9 318.0,1126.9 319.0,1126.9 320.0,1126.9 321.0,1126.9 322.0,1126.9 323.0,1126.9 324.1,1126.9 325.1,1126.9 326.1,1126.8 327.1,1126.8 328.1,1126.8 329.1,1126.8 330.1,1126.8 331.2,1126.8 332.2,1126.8 333.2,1126.8 334.2,1126.8 335.2,1126.8 336.2,1126.8 337.2,1126.8 338.2,1126.8 339.3,1126.8 340.3,1126.8 341.3,1126.8 342.3,1126.8 343.3,1126.8 344.3,1126.8 345.3,1126.8 346.4,1126.7 347.4,1126.7 348.4,1126.7 349.4,1126.7 350.4,1126.7 351.4,1126.6 352.4,1126.6 353.5,1126.6 354.5,1126.5 355.5,1126.5 356.5,1126.5 357.5,1126.4 358.5,1126.4 359.5,1126.3 360.5,1126.2 361.6,1126.1 362.6,1126.1 363.6,1126.0 364.6,1125.9 365.6,1125.8 366.6,1125.6 367.6,1125.5 368.7,1125.4 369.7,1125.2 370.7,1125.1 371.7,1124.9 372.7,1124.7 373.7,1124.4 374.7,1124.2 375.7,1124.0 376.8,1123.7 377.8,1123.4 378.8,1123.1 379.8,1122.7 380.8,1122.4 381.8,1122.0 382.8,1121.6 383.9,1121.1 384.9,1120.7 385.9,1120.2 386.9,1119.6 387.9,1119.1 388.9,1118.5 389.9,1117.9 391.0,1117.2 392.0,1116.5 393.0,1115.8 394.0,1115.0 395.0,1114.2 396.0,1113.4 397.0,1112.5 398.0,1111.6 399.1,1110.7 400.1,1109.7 401.1,1108.7 402.1,1107.7 403.1,1106.7 404.1,1105.6 405.1,1104.5 406.2,1103.3 407.2,1102.2 408.2,1101.0 409.2,1099.8 410.2,1098.6 411.2,1097.3 412.2,1096.1 413.2,1094.8 414.3,1093.6 415.3,1092.3 416.3,1091.1 417.3,1089.8 418.3,1088.6 419.3,1087.4 420.3,1086.2 421.4,1085.0 422.4,1083.8 423.4,1082.7 424.4,1081.6 425.4,1080.6 426.4,1079.5 427.4,1078.6 428.4,1077.7 429.5,1076.8 430.5,1076.0 431.5,1075.2 432.5,1074.5 433.5,1073.9 434.5,1073.3 435.5,1072.9 436.6,1072.4 437.6,1072.1 438.6,1071.8 439.6,1071.6 440.6,1071.5 441.6,1071.5 442.6,1071.5 443.7,1071.6 444.7,1071.8 445.7,1072.1 446.7,1072.4 447.7,1072.9 448.7,1073.3 449.7,1073.9 450.7,1074.5 451.8,1075.2 452.8,1076.0 453.8,1076.8 454.8,1077.7 455.8,1078.6 456.8,1079.5 457.8,1080.6 458.9,1081.6 459.9,1082.7 460.9,1083.8 461.9,1085.0 462.9,1086.2 463.9,1087.4 464.9,1088.6 465.9,1089.8 467.0,1091.1 468.0,1092.3 469.0,1093.6 470.0,1094.8 471.0,1096.1 472.0,1097.3 473.0,1098.6 474.1,1099.8 475.1,1101.0 476.1,1102.2 477.1,1103.3 478.1,1104.5 479.1,1105.6 480.1,1106.7 481.2,1107.7 482.2,1108.7 483.2,1109.7 484.2,1110.7 485.2,1111.6 486.2,1112.5 487.2,1113.4 488.2,1114.2 489.3,1115.0 490.3,1115.8 491.3,1116.5 492.3,1117.2 493.3,1117.9 494.3,1118.5 495.3,1119.1 496.4,1119.6 497.4,1120.2 498.4,1120.7 499.4,1121.1 500.4,1121.6 501.4,1122.0 502.4,1122.4 503.4,1122.7 504.5,1123.1 505.5,1123.4 506.5,1123.7 507.5,1124.0 508.5,1124.2 509.5,1124.4 510.5,1124.7 511.6,1124.9 512.6,1125.1 513.6,1125.2 514.6,1125.4 515.6,1125.5 516.6,1125.6 517.6,1125.8 518.7,1125.9 519.7,1126.0 520.7,1126.1 521.7,1126.1 522.7,1126.2 523.7,1126.3 524.7,1126.4 525.7,1126.4 526.8,1126.5 527.8,1126.5 528.8,1126.5 529.8,1126.6 530.8,1126.6 531.8,1126.6 532.8,1126.7 533.9,1126.7 534.9,1126.7 535.9,1126.7 536.9,1126.7 537.9,1126.8 538.9,1126.8 539.9,1126.8 540.9,1126.8 542.0,1126.8 543.0,1126.8 544.0,1126.8 545.0,1126.8 546.0,1126.8 547.0,1126.8 548.0,1126.8 549.1,1126.8 550.1,1126.8 551.1,1126.8 552.1,1126.8 553.1,1126.8 554.1,1126.8 555.1,1126.8 556.2,1126.8 557.2,1126.8 558.2,1126.9 559.2,1126.9 560.2,1126.9 561.2,1126.9 562.2,1126.9 563.2,1126.9 564.3,1126.9 565.3,1126.9 566.3,1126.9 567.3,1126.9 568.3,1126.9 569.3,1126.9 570.3,1126.9 571.4,1126.9 572.4,1126.9 573.4,1126.9 574.4,1126.9 575.4,1126.9 576.4,1126.9 577.4,1126.9 578.4,1126.9 579.5,1126.9 580.5,1126.9 581.5,1126.9 582.5,1126.9 583.5,1126.9 584.5,1126.9 585.5,1126.9 586.6,1126.9 587.6,1126.9 588.6,1126.9 589.6,1126.9 590.6,1126.9 591.6,1126.9 592.6,1126.9 593.7,1126.9 594.7,1126.9 595.7,1126.9 596.7,1126.9 597.7,1126.9 598.7,1126.9 599.7,1126.9 600.7,1126.9 601.8,1126.9 602.8,1126.9 603.8,1126.9 604.8,1126.9 605.8,1126.9 606.8,1126.9 607.8,1126.9 608.9,1126.9 609.9,1126.9 610.9,1126.9 611.9,1126.9 612.9,1126.9 613.9,1126.9 614.9,1126.9 615.9,1126.9 617.0,1126.9 618.0,1126.9 619.0,1126.9 620.0,1126.9 621.0,1126.9 622.0,1126.9 623.0,1126.9 624.1,1126.9 625.1,1126.9 626.1,1126.9 627.1,1126.9 628.1,1126.9 629.1,1126.9 630.1,1126.9 631.1,1126.9 632.2,1126.9 633.2,1126.9 634.2,1126.9 635.2,1126.9 636.2,1126.9 637.2,1126.9 638.2,1126.9 639.3,1126.9 640.3,1126.9 641.3,1126.9 642.3,1126.9 643.3,1126.9 644.3,1126.9 645.3,1126.9 646.4,1126.9 647.4,1126.9 648.4,1126.9 649.4,1126.9 650.4,1126.9 651.4,1126.9 652.4,1126.9 653.4,1126.9 654.5,1126.9 655.5,1126.9 656.5,1126.9 657.5,1126.9 658.5,1126.9 659.5,1126.9 660.5,1126.9 661.6,1126.9 662.6,1126.9 663.6,1126.9 664.6,1126.9 665.6,1126.9 666.6,1126.9 667.6,1126.9 668.6,1126.9 669.7,1126.9 670.7,1126.9 671.7,1126.9 672.7,1126.9 673.7,1126.9 674.7,1126.9 675.7,1126.9 676.8,1126.9 677.8,1126.9 678.8,1126.9 679.8,1126.9 680.8,1126.9 681.8,1126.9 682.8,1126.9 683.9,1126.9 684.9,1126.9 685.9,1126.9 686.9,1126.9 687.9,1126.9 688.9,1126.9 689.9,1126.9 690.9,1126.9 692.0,1126.9 693.0,1126.9 694.0,1126.9 695.0,1126.9" stroke="#1A66DD" stroke-width="3.3" stroke-dasharray="1.5 20" stroke-linecap="round"/>
<polyline points="86.9,1117.2 87.9,1117.1 88.9,1117.1 89.9,1117.0 91.0,1116.9 92.0,1116.9 93.0,1116.8 94.0,1116.7 95.0,1116.6 96.0,1116.6 97.0,1116.5 98.0,1116.4 99.1,1116.3 100.1,1116.3 101.1,1116.2 102.1,1116.1 103.1,1116.0 104.1,1115.9 105.1,1115.9 106.2,1115.8 107.2,1115.7 108.2,1115.6 109.2,1115.5 110.2,1115.4 111.2,1115.3 112.2,1115.3 113.3,1115.2 114.3,1115.1 115.3,1115.0 116.3,1114.9 117.3,1114.8 118.3,1114.7 119.3,1114.6 120.3,1114.5 121.4,1114.4 122.4,1114.3 123.4,1114.2 124.4,1114.1 125.4,1114.0 126.4,1113.9 127.4,1113.8 128.5,1113.7 129.5,1113.6 130.5,1113.5 131.5,1113.4 132.5,1113.2 133.5,1113.1 134.5,1113.0 135.5,1112.9 136.6,1112.8 137.6,1112.7 138.6,1112.5 139.6,1112.4 140.6,1112.3 141.6,1112.2 142.6,1112.0 143.7,1111.9 144.7,1111.8 145.7,1111.6 146.7,1111.5 147.7,1111.4 148.7,1111.2 149.7,1111.1 150.8,1111.0 151.8,1110.8 152.8,1110.7 153.8,1110.5 154.8,1110.4 155.8,1110.2 156.8,1110.1 157.8,1109.9 158.9,1109.8 159.9,1109.6 160.9,1109.4 161.9,1109.3 162.9,1109.1 163.9,1108.9 164.9,1108.8 166.0,1108.6 167.0,1108.4 168.0,1108.2 169.0,1108.1 170.0,1107.9 171.0,1107.7 172.0,1107.5 173.0,1107.3 174.1,1107.1 175.1,1106.9 176.1,1106.7 177.1,1106.5 178.1,1106.3 179.1,1106.1 180.1,1105.9 181.2,1105.7 182.2,1105.4 183.2,1105.2 184.2,1105.0 185.2,1104.8 186.2,1104.5 187.2,1104.3 188.2,1104.1 189.3,1103.8 190.3,1103.6 191.3,1103.3 192.3,1103.1 193.3,1102.8 194.3,1102.5 195.3,1102.3 196.4,1102.0 197.4,1101.7 198.4,1101.4 199.4,1101.1 200.4,1100.9 201.4,1100.6 202.4,1100.3 203.5,1099.9 204.5,1099.6 205.5,1099.3 206.5,1099.0 207.5,1098.7 208.5,1098.3 209.5,1098.0 210.5,1097.6 211.6,1097.3 212.6,1096.9 213.6,1096.6 214.6,1096.2 215.6,1095.8 216.6,1095.4 217.6,1095.0 218.7,1094.6 219.7,1094.2 220.7,1093.8 221.7,1093.4 222.7,1092.9 223.7,1092.5 224.7,1092.1 225.7,1091.6 226.8,1091.1 227.8,1090.6 228.8,1090.2 229.8,1089.7 230.8,1089.2 231.8,1088.6 232.8,1088.1 233.9,1087.6 234.9,1087.0 235.9,1086.4 236.9,1085.9 237.9,1085.3 238.9,1084.7 239.9,1084.1 241.0,1083.4 242.0,1082.8 243.0,1082.1 244.0,1081.5 245.0,1080.8 246.0,1080.1 247.0,1079.4 248.0,1078.6 249.1,1077.9 250.1,1077.1 251.1,1076.3 252.1,1075.5 253.1,1074.7 254.1,1073.8 255.1,1073.0 256.2,1072.1 257.2,1071.2 258.2,1070.2 259.2,1069.3 260.2,1068.3 261.2,1067.3 262.2,1066.3 263.2,1065.2 264.3,1064.1 265.3,1063.0 266.3,1061.9 267.3,1060.7 268.3,1059.6 269.3,1058.3 270.3,1057.1 271.4,1055.8 272.4,1054.5 273.4,1053.2 274.4,1051.8 275.4,1050.4 276.4,1048.9 277.4,1047.4 278.5,1045.9 279.5,1044.3 280.5,1042.7 281.5,1041.1 282.5,1039.4 283.5,1037.7 284.5,1035.9 285.5,1034.1 286.6,1032.2 287.6,1030.3 288.6,1028.4 289.6,1026.4 290.6,1024.3 291.6,1022.3 292.6,1020.1 293.7,1017.9 294.7,1015.6 295.7,1013.3 296.7,1011.0 297.7,1008.6 298.7,1006.1 299.7,1003.6 300.7,1001.0 301.8,998.3 302.8,995.6 303.8,992.8 304.8,990.0 305.8,987.1 306.8,984.2 307.8,981.1 308.9,978.1 309.9,974.9 310.9,971.7 311.9,968.4 312.9,965.1 313.9,961.7 314.9,958.2 316.0,954.7 317.0,951.1 318.0,947.4 319.0,943.7 320.0,939.9 321.0,936.1 322.0,932.2 323.0,928.3 324.1,924.3 325.1,920.2 326.1,916.1 327.1,912.0 328.1,907.8 329.1,903.6 330.1,899.3 331.2,895.1 332.2,890.8 333.2,886.4 334.2,882.1 335.2,877.8 336.2,873.5 337.2,869.1 338.2,864.8 339.3,860.6 340.3,856.3 341.3,852.1 342.3,848.0 343.3,843.9 344.3,840.0 345.3,836.1 346.4,832.3 347.4,828.6 348.4,825.0 349.4,821.5 350.4,818.2 351.4,815.1 352.4,812.1 353.5,809.3 354.5,806.7 355.5,804.3 356.5,802.2 357.5,800.2 358.5,798.4 359.5,796.9 360.5,795.7 361.6,794.6 362.6,793.9 363.6,793.3 364.6,793.1 365.6,793.1 366.6,793.3 367.6,793.9 368.7,794.6 369.7,795.7 370.7,796.9 371.7,798.4 372.7,800.2 373.7,802.2 374.7,804.3 375.7,806.7 376.8,809.3 377.8,812.1 378.8,815.1 379.8,818.2 380.8,821.5 381.8,825.0 382.8,828.6 383.9,832.3 384.9,836.1 385.9,840.0 386.9,843.9 387.9,848.0 388.9,852.1 389.9,856.3 391.0,860.6 392.0,864.8 393.0,869.1 394.0,873.5 395.0,877.8 396.0,882.1 397.0,886.4 398.0,890.8 399.1,895.1 400.1,899.3 401.1,903.6 402.1,907.8 403.1,912.0 404.1,916.1 405.1,920.2 406.2,924.3 407.2,928.3 408.2,932.2 409.2,936.1 410.2,939.9 411.2,943.7 412.2,947.4 413.2,951.1 414.3,954.7 415.3,958.2 416.3,961.7 417.3,965.1 418.3,968.4 419.3,971.7 420.3,974.9 421.4,978.1 422.4,981.1 423.4,984.2 424.4,987.1 425.4,990.0 426.4,992.8 427.4,995.6 428.4,998.3 429.5,1001.0 430.5,1003.6 431.5,1006.1 432.5,1008.6 433.5,1011.0 434.5,1013.3 435.5,1015.6 436.6,1017.9 437.6,1020.1 438.6,1022.3 439.6,1024.3 440.6,1026.4 441.6,1028.4 442.6,1030.3 443.7,1032.2 444.7,1034.1 445.7,1035.9 446.7,1037.7 447.7,1039.4 448.7,1041.1 449.7,1042.7 450.7,1044.3 451.8,1045.9 452.8,1047.4 453.8,1048.9 454.8,1050.4 455.8,1051.8 456.8,1053.2 457.8,1054.5 458.9,1055.8 459.9,1057.1 460.9,1058.3 461.9,1059.6 462.9,1060.7 463.9,1061.9 464.9,1063.0 465.9,1064.1 467.0,1065.2 468.0,1066.3 469.0,1067.3 470.0,1068.3 471.0,1069.3 472.0,1070.2 473.0,1071.2 474.1,1072.1 475.1,1073.0 476.1,1073.8 477.1,1074.7 478.1,1075.5 479.1,1076.3 480.1,1077.1 481.2,1077.9 482.2,1078.6 483.2,1079.4 484.2,1080.1 485.2,1080.8 486.2,1081.5 487.2,1082.1 488.2,1082.8 489.3,1083.4 490.3,1084.1 491.3,1084.7 492.3,1085.3 493.3,1085.9 494.3,1086.4 495.3,1087.0 496.4,1087.6 497.4,1088.1 498.4,1088.6 499.4,1089.2 500.4,1089.7 501.4,1090.2 502.4,1090.6 503.4,1091.1 504.5,1091.6 505.5,1092.1 506.5,1092.5 507.5,1092.9 508.5,1093.4 509.5,1093.8 510.5,1094.2 511.6,1094.6 512.6,1095.0 513.6,1095.4 514.6,1095.8 515.6,1096.2 516.6,1096.6 517.6,1096.9 518.7,1097.3 519.7,1097.6 520.7,1098.0 521.7,1098.3 522.7,1098.7 523.7,1099.0 524.7,1099.3 525.7,1099.6 526.8,1099.9 527.8,1100.3 528.8,1100.6 529.8,1100.9 530.8,1101.1 531.8,1101.4 532.8,1101.7 533.9,1102.0 534.9,1102.3 535.9,1102.5 536.9,1102.8 537.9,1103.1 538.9,1103.3 539.9,1103.6 540.9,1103.8 542.0,1104.1 543.0,1104.3 544.0,1104.5 545.0,1104.8 546.0,1105.0 547.0,1105.2 548.0,1105.4 549.1,1105.7 550.1,1105.9 551.1,1106.1 552.1,1106.3 553.1,1106.5 554.1,1106.7 555.1,1106.9 556.2,1107.1 557.2,1107.3 558.2,1107.5 559.2,1107.7 560.2,1107.9 561.2,1108.1 562.2,1108.2 563.2,1108.4 564.3,1108.6 565.3,1108.8 566.3,1108.9 567.3,1109.1 568.3,1109.3 569.3,1109.4 570.3,1109.6 571.4,1109.8 572.4,1109.9 573.4,1110.1 574.4,1110.2 575.4,1110.4 576.4,1110.5 577.4,1110.7 578.4,1110.8 579.5,1111.0 580.5,1111.1 581.5,1111.2 582.5,1111.4 583.5,1111.5 584.5,1111.6 585.5,1111.8 586.6,1111.9 587.6,1112.0 588.6,1112.2 589.6,1112.3 590.6,1112.4 591.6,1112.5 592.6,1112.7 593.7,1112.8 594.7,1112.9 595.7,1113.0 596.7,1113.1 597.7,1113.2 598.7,1113.4 599.7,1113.5 600.7,1113.6 601.8,1113.7 602.8,1113.8 603.8,1113.9 604.8,1114.0 605.8,1114.1 606.8,1114.2 607.8,1114.3 608.9,1114.4 609.9,1114.5 610.9,1114.6 611.9,1114.7 612.9,1114.8 613.9,1114.9 614.9,1115.0 615.9,1115.1 617.0,1115.2 618.0,1115.3 619.0,1115.3 620.0,1115.4 621.0,1115.5 622.0,1115.6 623.0,1115.7 624.1,1115.8 625.1,1115.9 626.1,1115.9 627.1,1116.0 628.1,1116.1 629.1,1116.2 630.1,1116.3 631.1,1116.3 632.2,1116.4 633.2,1116.5 634.2,1116.6 635.2,1116.6 636.2,1116.7 637.2,1116.8 638.2,1116.9 639.3,1116.9 640.3,1117.0 641.3,1117.1 642.3,1117.1 643.3,1117.2 644.3,1117.3 645.3,1117.3 646.4,1117.4 647.4,1117.5 648.4,1117.5 649.4,1117.6 650.4,1117.7 651.4,1117.7 652.4,1117.8 653.4,1117.9 654.5,1117.9 655.5,1118.0 656.5,1118.0 657.5,1118.1 658.5,1118.2 659.5,1118.2 660.5,1118.3 661.6,1118.3 662.6,1118.4 663.6,1118.4 664.6,1118.5 665.6,1118.5 666.6,1118.6 667.6,1118.7 668.6,1118.7 669.7,1118.8 670.7,1118.8 671.7,1118.9 672.7,1118.9 673.7,1119.0 674.7,1119.0 675.7,1119.1 676.8,1119.1 677.8,1119.2 678.8,1119.2 679.8,1119.3 680.8,1119.3 681.8,1119.4 682.8,1119.4 683.9,1119.4 684.9,1119.5 685.9,1119.5 686.9,1119.6 687.9,1119.6 688.9,1119.7 689.9,1119.7 690.9,1119.8 692.0,1119.8 693.0,1119.8 694.0,1119.9 695.0,1119.9" stroke="#EE3B3B" stroke-width="3.3" stroke-dasharray="13.5 22" stroke-linecap="round"/>
<polyline points="86.9,1126.8 87.9,1126.8 88.9,1126.8 89.9,1126.8 91.0,1126.8 92.0,1126.8 93.0,1126.8 94.0,1126.8 95.0,1126.8 96.0,1126.8 97.0,1126.8 98.0,1126.8 99.1,1126.8 100.1,1126.8 101.1,1126.8 102.1,1126.8 103.1,1126.8 104.1,1126.8 105.1,1126.8 106.2,1126.8 107.2,1126.8 108.2,1126.8 109.2,1126.8 110.2,1126.8 111.2,1126.8 112.2,1126.8 113.3,1126.8 114.3,1126.8 115.3,1126.8 116.3,1126.8 117.3,1126.8 118.3,1126.8 119.3,1126.8 120.3,1126.8 121.4,1126.8 122.4,1126.8 123.4,1126.8 124.4,1126.8 125.4,1126.8 126.4,1126.8 127.4,1126.8 128.5,1126.8 129.5,1126.8 130.5,1126.8 131.5,1126.8 132.5,1126.8 133.5,1126.8 134.5,1126.8 135.5,1126.8 136.6,1126.8 137.6,1126.8 138.6,1126.8 139.6,1126.8 140.6,1126.8 141.6,1126.8 142.6,1126.8 143.7,1126.8 144.7,1126.8 145.7,1126.8 146.7,1126.8 147.7,1126.8 148.7,1126.8 149.7,1126.8 150.8,1126.8 151.8,1126.8 152.8,1126.8 153.8,1126.8 154.8,1126.8 155.8,1126.8 156.8,1126.8 157.8,1126.8 158.9,1126.8 159.9,1126.8 160.9,1126.8 161.9,1126.8 162.9,1126.8 163.9,1126.8 164.9,1126.8 166.0,1126.8 167.0,1126.8 168.0,1126.8 169.0,1126.8 170.0,1126.8 171.0,1126.8 172.0,1126.8 173.0,1126.8 174.1,1126.8 175.1,1126.8 176.1,1126.8 177.1,1126.8 178.1,1126.8 179.1,1126.8 180.1,1126.8 181.2,1126.8 182.2,1126.8 183.2,1126.8 184.2,1126.8 185.2,1126.8 186.2,1126.8 187.2,1126.8 188.2,1126.8 189.3,1126.7 190.3,1126.7 191.3,1126.7 192.3,1126.7 193.3,1126.7 194.3,1126.7 195.3,1126.7 196.4,1126.7 197.4,1126.7 198.4,1126.7 199.4,1126.7 200.4,1126.7 201.4,1126.7 202.4,1126.7 203.5,1126.7 204.5,1126.7 205.5,1126.7 206.5,1126.7 207.5,1126.7 208.5,1126.7 209.5,1126.7 210.5,1126.7 211.6,1126.7 212.6,1126.7 213.6,1126.7 214.6,1126.7 215.6,1126.7 216.6,1126.7 217.6,1126.7 218.7,1126.7 219.7,1126.7 220.7,1126.7 221.7,1126.7 222.7,1126.7 223.7,1126.7 224.7,1126.7 225.7,1126.7 226.8,1126.7 227.8,1126.7 228.8,1126.7 229.8,1126.7 230.8,1126.7 231.8,1126.7 232.8,1126.7 233.9,1126.7 234.9,1126.7 235.9,1126.7 236.9,1126.7 237.9,1126.7 238.9,1126.7 239.9,1126.7 241.0,1126.7 242.0,1126.7 243.0,1126.7 244.0,1126.7 245.0,1126.7 246.0,1126.7 247.0,1126.7 248.0,1126.7 249.1,1126.7 250.1,1126.7 251.1,1126.7 252.1,1126.7 253.1,1126.7 254.1,1126.7 255.1,1126.7 256.2,1126.7 257.2,1126.7 258.2,1126.7 259.2,1126.7 260.2,1126.7 261.2,1126.7 262.2,1126.7 263.2,1126.7 264.3,1126.7 265.3,1126.7 266.3,1126.7 267.3,1126.7 268.3,1126.7 269.3,1126.7 270.3,1126.7 271.4,1126.7 272.4,1126.6 273.4,1126.6 274.4,1126.6 275.4,1126.6 276.4,1126.6 277.4,1126.6 278.5,1126.6 279.5,1126.6 280.5,1126.6 281.5,1126.6 282.5,1126.6 283.5,1126.6 284.5,1126.6 285.5,1126.6 286.6,1126.6 287.6,1126.6 288.6,1126.6 289.6,1126.6 290.6,1126.6 291.6,1126.6 292.6,1126.6 293.7,1126.6 294.7,1126.6 295.7,1126.6 296.7,1126.6 297.7,1126.6 298.7,1126.6 299.7,1126.6 300.7,1126.6 301.8,1126.6 302.8,1126.6 303.8,1126.6 304.8,1126.6 305.8,1126.6 306.8,1126.6 307.8,1126.6 308.9,1126.6 309.9,1126.5 310.9,1126.5 311.9,1126.5 312.9,1126.5 313.9,1126.5 314.9,1126.5 316.0,1126.5 317.0,1126.5 318.0,1126.5 319.0,1126.5 320.0,1126.5 321.0,1126.5 322.0,1126.5 323.0,1126.5 324.1,1126.5 325.1,1126.5 326.1,1126.5 327.1,1126.5 328.1,1126.5 329.1,1126.5 330.1,1126.5 331.2,1126.5 332.2,1126.5 333.2,1126.4 334.2,1126.4 335.2,1126.4 336.2,1126.4 337.2,1126.4 338.2,1126.4 339.3,1126.4 340.3,1126.4 341.3,1126.4 342.3,1126.4 343.3,1126.4 344.3,1126.4 345.3,1126.4 346.4,1126.4 347.4,1126.4 348.4,1126.3 349.4,1126.3 350.4,1126.3 351.4,1126.3 352.4,1126.3 353.5,1126.3 354.5,1126.3 355.5,1126.3 356.5,1126.3 357.5,1126.3 358.5,1126.3 359.5,1126.3 360.5,1126.2 361.6,1126.2 362.6,1126.2 363.6,1126.2 364.6,1126.2 365.6,1126.2 366.6,1126.2 367.6,1126.2 368.7,1126.2 369.7,1126.1 370.7,1126.1 371.7,1126.1 372.7,1126.1 373.7,1126.1 374.7,1126.1 375.7,1126.1 376.8,1126.0 377.8,1126.0 378.8,1126.0 379.8,1126.0 380.8,1126.0 381.8,1126.0 382.8,1125.9 383.9,1125.9 384.9,1125.9 385.9,1125.9 386.9,1125.9 387.9,1125.8 388.9,1125.8 389.9,1125.8 391.0,1125.8 392.0,1125.8 393.0,1125.7 394.0,1125.7 395.0,1125.7 396.0,1125.6 397.0,1125.6 398.0,1125.6 399.1,1125.6 400.1,1125.5 401.1,1125.5 402.1,1125.5 403.1,1125.4 404.1,1125.4 405.1,1125.4 406.2,1125.3 407.2,1125.3 408.2,1125.2 409.2,1125.2 410.2,1125.1 411.2,1125.1 412.2,1125.0 413.2,1125.0 414.3,1124.9 415.3,1124.9 416.3,1124.8 417.3,1124.8 418.3,1124.7 419.3,1124.6 420.3,1124.5 421.4,1124.5 422.4,1124.4 423.4,1124.3 424.4,1124.2 425.4,1124.1 426.4,1124.0 427.4,1123.9 428.4,1123.8 429.5,1123.7 430.5,1123.6 431.5,1123.5 432.5,1123.3 433.5,1123.2 434.5,1123.1 435.5,1122.9 436.6,1122.7 437.6,1122.6 438.6,1122.4 439.6,1122.2 440.6,1121.9 441.6,1121.7 442.6,1121.5 443.7,1121.2 444.7,1120.9 445.7,1120.6 446.7,1120.2 447.7,1119.8 448.7,1119.4 449.7,1118.9 450.7,1118.3 451.8,1117.6 452.8,1116.9 453.8,1116.0 454.8,1115.1 455.8,1113.9 456.8,1112.6 457.8,1111.0 458.9,1109.2 459.9,1107.1 460.9,1104.7 461.9,1101.9 462.9,1098.7 463.9,1095.1 464.9,1091.0 465.9,1086.4 467.0,1081.3 468.0,1075.7 469.0,1069.6 470.0,1063.1 471.0,1056.1 472.0,1048.8 473.0,1041.2 474.1,1033.5 475.1,1025.8 476.1,1018.3 477.1,1011.3 478.1,1005.1 479.1,999.8 480.1,995.8 481.2,993.2 482.2,992.4 483.2,993.2 484.2,995.8 485.2,999.8 486.2,1005.1 487.2,1011.3 488.2,1018.3 489.3,1025.8 490.3,1033.5 491.3,1041.2 492.3,1048.8 493.3,1056.1 494.3,1063.1 495.3,1069.6 496.4,1075.7 497.4,1081.3 498.4,1086.4 499.4,1091.0 500.4,1095.1 501.4,1098.7 502.4,1101.9 503.4,1104.7 504.5,1107.1 505.5,1109.2 506.5,1111.0 507.5,1112.6 508.5,1113.9 509.5,1115.1 510.5,1116.0 511.6,1116.9 512.6,1117.6 513.6,1118.3 514.6,1118.9 515.6,1119.4 516.6,1119.8 517.6,1120.2 518.7,1120.6 519.7,1120.9 520.7,1121.2 521.7,1121.5 522.7,1121.7 523.7,1121.9 524.7,1122.2 525.7,1122.4 526.8,1122.6 527.8,1122.7 528.8,1122.9 529.8,1123.1 530.8,1123.2 531.8,1123.3 532.8,1123.5 533.9,1123.6 534.9,1123.7 535.9,1123.8 536.9,1123.9 537.9,1124.0 538.9,1124.1 539.9,1124.2 540.9,1124.3 542.0,1124.4 543.0,1124.5 544.0,1124.5 545.0,1124.6 546.0,1124.7 547.0,1124.8 548.0,1124.8 549.1,1124.9 550.1,1124.9 551.1,1125.0 552.1,1125.0 553.1,1125.1 554.1,1125.1 555.1,1125.2 556.2,1125.2 557.2,1125.3 558.2,1125.3 559.2,1125.4 560.2,1125.4 561.2,1125.4 562.2,1125.5 563.2,1125.5 564.3,1125.5 565.3,1125.6 566.3,1125.6 567.3,1125.6 568.3,1125.6 569.3,1125.7 570.3,1125.7 571.4,1125.7 572.4,1125.8 573.4,1125.8 574.4,1125.8 575.4,1125.8 576.4,1125.8 577.4,1125.9 578.4,1125.9 579.5,1125.9 580.5,1125.9 581.5,1125.9 582.5,1126.0 583.5,1126.0 584.5,1126.0 585.5,1126.0 586.6,1126.0 587.6,1126.0 588.6,1126.1 589.6,1126.1 590.6,1126.1 591.6,1126.1 592.6,1126.1 593.7,1126.1 594.7,1126.1 595.7,1126.2 596.7,1126.2 597.7,1126.2 598.7,1126.2 599.7,1126.2 600.7,1126.2 601.8,1126.2 602.8,1126.2 603.8,1126.2 604.8,1126.3 605.8,1126.3 606.8,1126.3 607.8,1126.3 608.9,1126.3 609.9,1126.3 610.9,1126.3 611.9,1126.3 612.9,1126.3 613.9,1126.3 614.9,1126.3 615.9,1126.3 617.0,1126.4 618.0,1126.4 619.0,1126.4 620.0,1126.4 621.0,1126.4 622.0,1126.4 623.0,1126.4 624.1,1126.4 625.1,1126.4 626.1,1126.4 627.1,1126.4 628.1,1126.4 629.1,1126.4 630.1,1126.4 631.1,1126.4 632.2,1126.5 633.2,1126.5 634.2,1126.5 635.2,1126.5 636.2,1126.5 637.2,1126.5 638.2,1126.5 639.3,1126.5 640.3,1126.5 641.3,1126.5 642.3,1126.5 643.3,1126.5 644.3,1126.5 645.3,1126.5 646.4,1126.5 647.4,1126.5 648.4,1126.5 649.4,1126.5 650.4,1126.5 651.4,1126.5 652.4,1126.5 653.4,1126.5 654.5,1126.5 655.5,1126.6 656.5,1126.6 657.5,1126.6 658.5,1126.6 659.5,1126.6 660.5,1126.6 661.6,1126.6 662.6,1126.6 663.6,1126.6 664.6,1126.6 665.6,1126.6 666.6,1126.6 667.6,1126.6 668.6,1126.6 669.7,1126.6 670.7,1126.6 671.7,1126.6 672.7,1126.6 673.7,1126.6 674.7,1126.6 675.7,1126.6 676.8,1126.6 677.8,1126.6 678.8,1126.6 679.8,1126.6 680.8,1126.6 681.8,1126.6 682.8,1126.6 683.9,1126.6 684.9,1126.6 685.9,1126.6 686.9,1126.6 687.9,1126.6 688.9,1126.6 689.9,1126.6 690.9,1126.6 692.0,1126.6 693.0,1126.7 694.0,1126.7 695.0,1126.7" stroke="#2EA85E" stroke-width="3.3" stroke-dasharray="16.5 13.5 1 13.5" stroke-linecap="round"/>
<polyline points="86.9,1126.6 87.9,1126.6 88.9,1126.6 89.9,1126.6 91.0,1126.6 92.0,1126.6 93.0,1126.6 94.0,1126.6 95.0,1126.6 96.0,1126.6 97.0,1126.6 98.0,1126.6 99.1,1126.6 100.1,1126.6 101.1,1126.6 102.1,1126.6 103.1,1126.6 104.1,1126.6 105.1,1126.6 106.2,1126.6 107.2,1126.6 108.2,1126.6 109.2,1126.6 110.2,1126.6 111.2,1126.6 112.2,1126.6 113.3,1126.6 114.3,1126.6 115.3,1126.6 116.3,1126.5 117.3,1126.5 118.3,1126.5 119.3,1126.5 120.3,1126.5 121.4,1126.5 122.4,1126.5 123.4,1126.5 124.4,1126.5 125.4,1126.5 126.4,1126.5 127.4,1126.5 128.5,1126.5 129.5,1126.5 130.5,1126.5 131.5,1126.5 132.5,1126.5 133.5,1126.5 134.5,1126.5 135.5,1126.5 136.6,1126.5 137.6,1126.5 138.6,1126.5 139.6,1126.5 140.6,1126.5 141.6,1126.5 142.6,1126.5 143.7,1126.5 144.7,1126.5 145.7,1126.5 146.7,1126.5 147.7,1126.5 148.7,1126.5 149.7,1126.5 150.8,1126.5 151.8,1126.5 152.8,1126.5 153.8,1126.5 154.8,1126.5 155.8,1126.5 156.8,1126.5 157.8,1126.5 158.9,1126.5 159.9,1126.5 160.9,1126.5 161.9,1126.5 162.9,1126.5 163.9,1126.5 164.9,1126.5 166.0,1126.5 167.0,1126.4 168.0,1126.4 169.0,1126.4 170.0,1126.4 171.0,1126.4 172.0,1126.4 173.0,1126.4 174.1,1126.4 175.1,1126.4 176.1,1126.4 177.1,1126.4 178.1,1126.4 179.1,1126.4 180.1,1126.4 181.2,1126.4 182.2,1126.4 183.2,1126.4 184.2,1126.4 185.2,1126.4 186.2,1126.4 187.2,1126.4 188.2,1126.4 189.3,1126.4 190.3,1126.4 191.3,1126.4 192.3,1126.4 193.3,1126.4 194.3,1126.4 195.3,1126.4 196.4,1126.4 197.4,1126.4 198.4,1126.4 199.4,1126.4 200.4,1126.4 201.4,1126.3 202.4,1126.3 203.5,1126.3 204.5,1126.3 205.5,1126.3 206.5,1126.3 207.5,1126.3 208.5,1126.3 209.5,1126.3 210.5,1126.3 211.6,1126.3 212.6,1126.3 213.6,1126.3 214.6,1126.3 215.6,1126.3 216.6,1126.3 217.6,1126.3 218.7,1126.3 219.7,1126.3 220.7,1126.3 221.7,1126.3 222.7,1126.3 223.7,1126.3 224.7,1126.3 225.7,1126.3 226.8,1126.2 227.8,1126.2 228.8,1126.2 229.8,1126.2 230.8,1126.2 231.8,1126.2 232.8,1126.2 233.9,1126.2 234.9,1126.2 235.9,1126.2 236.9,1126.2 237.9,1126.2 238.9,1126.2 239.9,1126.2 241.0,1126.2 242.0,1126.2 243.0,1126.2 244.0,1126.2 245.0,1126.2 246.0,1126.2 247.0,1126.1 248.0,1126.1 249.1,1126.1 250.1,1126.1 251.1,1126.1 252.1,1126.1 253.1,1126.1 254.1,1126.1 255.1,1126.1 256.2,1126.1 257.2,1126.1 258.2,1126.1 259.2,1126.1 260.2,1126.1 261.2,1126.1 262.2,1126.1 263.2,1126.0 264.3,1126.0 265.3,1126.0 266.3,1126.0 267.3,1126.0 268.3,1126.0 269.3,1126.0 270.3,1126.0 271.4,1126.0 272.4,1126.0 273.4,1126.0 274.4,1126.0 275.4,1126.0 276.4,1125.9 277.4,1125.9 278.5,1125.9 279.5,1125.9 280.5,1125.9 281.5,1125.9 282.5,1125.9 283.5,1125.9 284.5,1125.9 285.5,1125.9 286.6,1125.9 287.6,1125.8 288.6,1125.8 289.6,1125.8 290.6,1125.8 291.6,1125.8 292.6,1125.8 293.7,1125.8 294.7,1125.8 295.7,1125.8 296.7,1125.8 297.7,1125.7 298.7,1125.7 299.7,1125.7 300.7,1125.7 301.8,1125.7 302.8,1125.7 303.8,1125.7 304.8,1125.7 305.8,1125.6 306.8,1125.6 307.8,1125.6 308.9,1125.6 309.9,1125.6 310.9,1125.6 311.9,1125.6 312.9,1125.6 313.9,1125.5 314.9,1125.5 316.0,1125.5 317.0,1125.5 318.0,1125.5 319.0,1125.5 320.0,1125.4 321.0,1125.4 322.0,1125.4 323.0,1125.4 324.1,1125.4 325.1,1125.4 326.1,1125.3 327.1,1125.3 328.1,1125.3 329.1,1125.3 330.1,1125.3 331.2,1125.3 332.2,1125.2 333.2,1125.2 334.2,1125.2 335.2,1125.2 336.2,1125.2 337.2,1125.1 338.2,1125.1 339.3,1125.1 340.3,1125.1 341.3,1125.0 342.3,1125.0 343.3,1125.0 344.3,1125.0 345.3,1124.9 346.4,1124.9 347.4,1124.9 348.4,1124.9 349.4,1124.8 350.4,1124.8 351.4,1124.8 352.4,1124.8 353.5,1124.7 354.5,1124.7 355.5,1124.7 356.5,1124.6 357.5,1124.6 358.5,1124.6 359.5,1124.5 360.5,1124.5 361.6,1124.5 362.6,1124.4 363.6,1124.4 364.6,1124.4 365.6,1124.3 366.6,1124.3 367.6,1124.2 368.7,1124.2 369.7,1124.2 370.7,1124.1 371.7,1124.1 372.7,1124.0 373.7,1124.0 374.7,1123.9 375.7,1123.9 376.8,1123.8 377.8,1123.8 378.8,1123.7 379.8,1123.7 380.8,1123.6 381.8,1123.6 382.8,1123.5 383.9,1123.4 384.9,1123.4 385.9,1123.3 386.9,1123.3 387.9,1123.2 388.9,1123.1 389.9,1123.1 391.0,1123.0 392.0,1122.9 393.0,1122.8 394.0,1122.8 395.0,1122.7 396.0,1122.6 397.0,1122.5 398.0,1122.4 399.1,1122.3 400.1,1122.2 401.1,1122.1 402.1,1122.0 403.1,1121.9 404.1,1121.8 405.1,1121.7 406.2,1121.6 407.2,1121.5 408.2,1121.4 409.2,1121.3 410.2,1121.1 411.2,1121.0 412.2,1120.9 413.2,1120.7 414.3,1120.6 415.3,1120.4 416.3,1120.3 417.3,1120.1 418.3,1119.9 419.3,1119.8 420.3,1119.6 421.4,1119.4 422.4,1119.2 423.4,1119.0 424.4,1118.8 425.4,1118.6 426.4,1118.3 427.4,1118.1 428.4,1117.8 429.5,1117.6 430.5,1117.3 431.5,1117.0 432.5,1116.7 433.5,1116.4 434.5,1116.1 435.5,1115.8 436.6,1115.4 437.6,1115.0 438.6,1114.7 439.6,1114.3 440.6,1113.8 441.6,1113.4 442.6,1112.9 443.7,1112.4 444.7,1111.9 445.7,1111.3 446.7,1110.7 447.7,1110.1 448.7,1109.5 449.7,1108.8 450.7,1108.0 451.8,1107.2 452.8,1106.4 453.8,1105.5 454.8,1104.5 455.8,1103.5 456.8,1102.4 457.8,1101.1 458.9,1099.8 459.9,1098.4 460.9,1096.8 461.9,1095.1 462.9,1093.2 463.9,1091.1 464.9,1088.7 465.9,1086.2 467.0,1083.3 468.0,1080.1 469.0,1076.6 470.0,1072.7 471.0,1068.4 472.0,1063.6 473.0,1058.2 474.1,1052.4 475.1,1045.9 476.1,1038.8 477.1,1031.0 478.1,1022.4 479.1,1013.2 480.1,1003.2 481.2,992.4 482.2,980.9 483.2,968.7 484.2,955.7 485.2,942.1 486.2,928.0 487.2,913.6 488.2,898.9 489.3,884.2 490.3,869.9 491.3,856.2 492.3,843.5 493.3,832.4 494.3,823.2 495.3,816.2 496.4,811.9 497.4,810.5 498.4,811.9 499.4,816.2 500.4,823.2 501.4,832.4 502.4,843.5 503.4,856.2 504.5,869.9 505.5,884.2 506.5,898.9 507.5,913.6 508.5,928.0 509.5,942.1 510.5,955.7 511.6,968.7 512.6,980.9 513.6,992.4 514.6,1003.2 515.6,1013.2 516.6,1022.4 517.6,1031.0 518.7,1038.8 519.7,1045.9 520.7,1052.4 521.7,1058.2 522.7,1063.6 523.7,1068.4 524.7,1072.7 525.7,1076.6 526.8,1080.1 527.8,1083.3 528.8,1086.2 529.8,1088.7 530.8,1091.1 531.8,1093.2 532.8,1095.1 533.9,1096.8 534.9,1098.4 535.9,1099.8 536.9,1101.1 537.9,1102.4 538.9,1103.5 539.9,1104.5 540.9,1105.5 542.0,1106.4 543.0,1107.2 544.0,1108.0 545.0,1108.8 546.0,1109.5 547.0,1110.1 548.0,1110.7 549.1,1111.3 550.1,1111.9 551.1,1112.4 552.1,1112.9 553.1,1113.4 554.1,1113.8 555.1,1114.3 556.2,1114.7 557.2,1115.0 558.2,1115.4 559.2,1115.8 560.2,1116.1 561.2,1116.4 562.2,1116.7 563.2,1117.0 564.3,1117.3 565.3,1117.6 566.3,1117.8 567.3,1118.1 568.3,1118.3 569.3,1118.6 570.3,1118.8 571.4,1119.0 572.4,1119.2 573.4,1119.4 574.4,1119.6 575.4,1119.8 576.4,1119.9 577.4,1120.1 578.4,1120.3 579.5,1120.4 580.5,1120.6 581.5,1120.7 582.5,1120.9 583.5,1121.0 584.5,1121.1 585.5,1121.3 586.6,1121.4 587.6,1121.5 588.6,1121.6 589.6,1121.7 590.6,1121.8 591.6,1121.9 592.6,1122.0 593.7,1122.1 594.7,1122.2 595.7,1122.3 596.7,1122.4 597.7,1122.5 598.7,1122.6 599.7,1122.7 600.7,1122.8 601.8,1122.8 602.8,1122.9 603.8,1123.0 604.8,1123.1 605.8,1123.1 606.8,1123.2 607.8,1123.3 608.9,1123.3 609.9,1123.4 610.9,1123.4 611.9,1123.5 612.9,1123.6 613.9,1123.6 614.9,1123.7 615.9,1123.7 617.0,1123.8 618.0,1123.8 619.0,1123.9 620.0,1123.9 621.0,1124.0 622.0,1124.0 623.0,1124.1 624.1,1124.1 625.1,1124.2 626.1,1124.2 627.1,1124.2 628.1,1124.3 629.1,1124.3 630.1,1124.4 631.1,1124.4 632.2,1124.4 633.2,1124.5 634.2,1124.5 635.2,1124.5 636.2,1124.6 637.2,1124.6 638.2,1124.6 639.3,1124.7 640.3,1124.7 641.3,1124.7 642.3,1124.8 643.3,1124.8 644.3,1124.8 645.3,1124.8 646.4,1124.9 647.4,1124.9 648.4,1124.9 649.4,1124.9 650.4,1125.0 651.4,1125.0 652.4,1125.0 653.4,1125.0 654.5,1125.1 655.5,1125.1 656.5,1125.1 657.5,1125.1 658.5,1125.2 659.5,1125.2 660.5,1125.2 661.6,1125.2 662.6,1125.2 663.6,1125.3 664.6,1125.3 665.6,1125.3 666.6,1125.3 667.6,1125.3 668.6,1125.3 669.7,1125.4 670.7,1125.4 671.7,1125.4 672.7,1125.4 673.7,1125.4 674.7,1125.4 675.7,1125.5 676.8,1125.5 677.8,1125.5 678.8,1125.5 679.8,1125.5 680.8,1125.5 681.8,1125.6 682.8,1125.6 683.9,1125.6 684.9,1125.6 685.9,1125.6 686.9,1125.6 687.9,1125.6 688.9,1125.6 689.9,1125.7 690.9,1125.7 692.0,1125.7 693.0,1125.7 694.0,1125.7 695.0,1125.7" stroke="#A674DC" stroke-width="3.3" stroke-dasharray="9.3 9.6 0 9.6" stroke-linecap="round"/>
<polyline points="86.9,1130.0 87.7,1129.9 88.4,1129.9 89.2,1129.8 89.9,1129.7 90.7,1129.6 91.5,1129.4 92.2,1129.3 93.0,1129.1 93.7,1128.9 94.5,1128.7 95.3,1128.5 96.0,1128.2 96.8,1128.0 97.5,1127.7 98.3,1127.4 99.1,1127.2 99.8,1126.9 100.6,1126.6 101.3,1126.3 102.1,1126.0 102.9,1125.7 103.6,1125.5 104.4,1125.2 105.1,1124.9 105.9,1124.6 106.7,1124.4 107.4,1124.1 108.2,1123.9 108.9,1123.7 109.7,1123.5 110.5,1123.3 111.2,1123.1 112.0,1123.0 112.7,1122.9 113.5,1122.8 114.3,1122.7 115.0,1122.6 115.8,1122.5 116.5,1122.4 117.3,1122.3 118.1,1122.2 118.8,1122.2 119.6,1122.1 120.3,1122.0 121.1,1121.9 121.9,1121.8 122.6,1121.7 123.4,1121.6 124.1,1121.6 124.9,1121.5 125.7,1121.4 126.4,1121.3 127.2,1121.2 127.9,1121.1 128.7,1121.0 129.5,1120.9 130.2,1120.8 131.0,1120.7 131.7,1120.6 132.5,1120.5 133.3,1120.4 134.0,1120.3 134.8,1120.2 135.5,1120.1 136.3,1120.0 137.1,1119.9 137.8,1119.8 138.6,1119.7 139.3,1119.6 140.1,1119.5 140.9,1119.3 141.6,1119.2 142.4,1119.1 143.1,1119.0 143.9,1118.9 144.7,1118.8 145.4,1118.7 146.2,1118.6 146.9,1118.4 147.7,1118.3 148.5,1118.2 149.2,1118.1 150.0,1118.0 150.8,1117.9 151.5,1117.8 152.3,1117.7 153.0,1117.6 153.8,1117.4 154.6,1117.3 155.3,1117.2 156.1,1117.0 156.8,1116.9 157.6,1116.8 158.4,1116.6 159.1,1116.4 159.9,1116.3 160.6,1116.1 161.4,1115.9 162.2,1115.7 162.9,1115.5 163.7,1115.3 164.4,1115.1 165.2,1114.8 166.0,1114.6 166.7,1114.3 167.5,1114.0 168.2,1113.8 169.0,1113.5 169.8,1113.2 170.5,1112.8 171.3,1112.5 172.0,1112.2 172.8,1111.8 173.6,1111.4 174.3,1111.1 175.1,1110.7 175.8,1110.3 176.6,1109.9 177.4,1109.5 178.1,1109.1 178.9,1108.7 179.6,1108.3 180.4,1107.9 181.2,1107.4 181.9,1107.0 182.7,1106.6 183.4,1106.2 184.2,1105.7 185.0,1105.3 185.7,1104.9 186.5,1104.4 187.2,1104.0 188.0,1103.6 188.8,1103.2 189.5,1102.7 190.3,1102.3 191.0,1101.9 191.8,1101.5 192.6,1101.1 193.3,1100.7 194.1,1100.3 194.8,1099.9 195.6,1099.6 196.4,1099.2 197.1,1098.8 197.9,1098.5 198.6,1098.1 199.4,1097.8 200.2,1097.4 200.9,1097.1 201.7,1096.7 202.4,1096.4 203.2,1096.1 204.0,1095.7 204.7,1095.4 205.5,1095.1 206.2,1094.7 207.0,1094.4 207.8,1094.0 208.5,1093.7 209.3,1093.3 210.0,1093.0 210.8,1092.6 211.6,1092.2 212.3,1091.8 213.1,1091.4 213.8,1091.0 214.6,1090.5 215.4,1090.1 216.1,1089.6 216.9,1089.1 217.6,1088.6 218.4,1088.1 219.2,1087.5 219.9,1087.0 220.7,1086.3 221.4,1085.7 222.2,1085.1 223.0,1084.4 223.7,1083.7 224.5,1083.0 225.2,1082.3 226.0,1081.6 226.8,1080.8 227.5,1080.0 228.3,1079.3 229.0,1078.5 229.8,1077.7 230.6,1076.9 231.3,1076.0 232.1,1075.2 232.8,1074.4 233.6,1073.5 234.4,1072.6 235.1,1071.8 235.9,1070.9 236.6,1070.0 237.4,1069.1 238.2,1068.2 238.9,1067.3 239.7,1066.4 240.4,1065.4 241.2,1064.4 242.0,1063.4 242.7,1062.3 243.5,1061.2 244.2,1060.1 245.0,1059.0 245.8,1057.8 246.5,1056.6 247.3,1055.4 248.0,1054.1 248.8,1052.8 249.6,1051.5 250.3,1050.1 251.1,1048.7 251.8,1047.2 252.6,1045.8 253.4,1044.3 254.1,1042.7 254.9,1041.1 255.6,1039.5 256.4,1037.8 257.2,1036.1 257.9,1034.4 258.7,1032.6 259.4,1030.6 260.2,1028.5 261.0,1026.4 261.7,1024.1 262.5,1021.8 263.2,1019.5 264.0,1017.1 264.8,1014.7 265.5,1012.3 266.3,1009.9 267.0,1007.5 267.8,1005.2 268.6,1002.9 269.3,1000.7 270.1,998.6 270.9,996.6 271.6,994.7 272.4,992.7 273.1,990.9 273.9,989.0 274.7,987.3 275.4,985.6 276.2,984.0 276.9,982.4 277.7,980.9 278.5,979.5 279.2,978.1 280.0,976.8 280.7,975.6 281.5,974.5 282.3,973.4 283.0,972.4 283.8,971.5 284.5,970.6 285.3,969.8 286.1,968.9 286.8,967.9 287.6,966.8 288.3,965.6 289.1,964.3 289.9,962.9 290.6,961.4 291.4,959.9 292.1,958.3 292.9,956.7 293.7,955.0 294.4,953.2 295.2,951.4 295.9,949.7 296.7,947.9 297.5,946.1 298.2,944.3 299.0,942.5 299.7,940.8 300.5,939.1 301.3,937.5 302.0,935.9 302.8,934.5 303.5,933.1 304.3,931.8 305.1,930.6 305.8,929.4 306.6,928.2 307.3,927.0 308.1,925.8 308.9,924.5 309.6,923.2 310.4,921.9 311.1,920.6 311.9,919.2 312.7,917.8 313.4,916.4 314.2,914.9 314.9,913.4 315.7,911.9 316.5,910.3 317.2,908.7 318.0,907.0 318.7,905.3 319.5,903.5 320.3,901.7 321.0,899.9 321.8,898.0 322.5,896.0 323.3,894.0 324.1,892.0 324.8,890.0 325.6,888.1 326.3,886.3 327.1,884.5 327.9,882.7 328.6,881.0 329.4,879.3 330.1,877.6 330.9,875.9 331.7,874.2 332.4,872.4 333.2,870.7 333.9,868.9 334.7,867.1 335.5,865.2 336.2,863.3 337.0,861.3 337.7,859.2 338.5,857.1 339.3,854.9 340.0,852.5 340.8,850.1 341.5,847.6 342.3,845.0 343.1,842.3 343.8,839.5 344.6,836.6 345.3,833.6 346.1,830.7 346.9,827.7 347.6,824.7 348.4,821.7 349.1,818.8 349.9,815.9 350.7,813.1 351.4,810.4 352.2,807.8 352.9,805.3 353.7,802.9 354.5,800.7 355.2,798.6 356.0,796.7 356.7,795.0 357.5,793.4 358.3,792.1 359.0,790.9 359.8,789.9 360.5,788.9 361.3,788.0 362.1,787.3 362.8,786.6 363.6,786.0 364.3,785.6 365.1,785.2 365.9,785.0 366.6,784.8 367.4,784.8 368.1,784.9 368.9,785.1 369.7,785.4 370.4,785.8 371.2,786.4 371.9,787.2 372.7,788.2 373.5,789.6 374.2,791.3 375.0,793.2 375.7,795.3 376.5,797.5 377.3,800.0 378.0,802.5 378.8,805.1 379.5,807.8 380.3,810.4 381.1,813.1 381.8,815.7 382.6,818.2 383.3,820.6 384.1,822.8 384.9,824.9 385.6,826.9 386.4,828.8 387.1,830.7 387.9,832.5 388.7,834.3 389.4,836.0 390.2,837.8 391.0,839.4 391.7,841.1 392.5,842.7 393.2,844.3 394.0,845.9 394.8,847.5 395.5,849.1 396.3,850.7 397.0,852.4 397.8,854.0 398.6,855.7 399.3,857.4 400.1,859.2 400.8,861.0 401.6,862.9 402.4,864.9 403.1,866.9 403.9,869.0 404.6,871.1 405.4,873.2 406.2,875.2 406.9,877.2 407.7,879.1 408.4,881.1 409.2,882.9 410.0,884.7 410.7,886.5 411.5,888.3 412.2,890.0 413.0,891.6 413.8,893.2 414.5,894.8 415.3,896.4 416.0,897.9 416.8,899.3 417.6,900.7 418.3,902.1 419.1,903.4 419.8,904.7 420.6,906.0 421.4,907.2 422.1,908.4 422.9,909.6 423.6,910.6 424.4,911.6 425.2,912.5 425.9,913.4 426.7,914.1 427.4,914.8 428.2,915.4 429.0,916.0 429.7,916.6 430.5,917.0 431.2,917.5 432.0,917.9 432.8,918.3 433.5,918.6 434.3,919.0 435.0,919.3 435.8,919.6 436.6,919.9 437.3,920.1 438.1,920.4 438.8,920.7 439.6,921.0 440.4,921.3 441.1,921.6 441.9,921.9 442.6,922.2 443.4,922.5 444.2,922.8 444.9,923.0 445.7,923.3 446.4,923.5 447.2,923.6 448.0,923.8 448.7,923.8 449.5,923.8 450.2,923.8 451.0,923.7 451.8,923.5 452.5,923.2 453.3,922.7 454.0,922.2 454.8,921.5 455.6,920.5 456.3,919.2 457.1,917.6 457.8,915.7 458.6,913.6 459.4,911.2 460.1,908.5 460.9,905.7 461.6,902.6 462.4,899.3 463.2,895.9 463.9,892.3 464.7,888.6 465.4,884.7 466.2,880.7 467.0,876.6 467.7,872.3 468.5,867.7 469.2,862.9 470.0,857.6 470.8,852.0 471.5,845.9 472.3,839.4 473.0,832.3 473.8,824.7 474.6,816.6 475.3,808.3 476.1,799.8 476.8,791.1 477.6,782.4 478.4,773.5 479.1,764.7 479.9,755.8 480.6,746.9 481.4,738.1 482.2,729.5 482.9,721.3 483.7,713.5 484.4,706.3 485.2,699.7 486.0,693.9 486.7,689.0 487.5,685.2 488.2,682.4 489.0,680.4 489.8,679.0 490.5,678.0 491.3,677.3 492.0,676.9 492.8,676.6 493.6,676.3 494.3,676.1 495.1,675.9 495.8,676.0 496.6,676.6 497.4,678.1 498.1,680.7 498.9,684.5 499.6,689.7 500.4,696.5 501.2,704.9 501.9,715.0 502.7,727.0 503.4,741.7 504.2,757.9 505.0,774.5 505.7,790.1 506.5,803.7 507.2,815.7 508.0,826.7 508.8,836.9 509.5,846.6 510.3,855.9 511.0,865.2 511.8,874.8 512.6,884.7 513.3,894.7 514.1,904.4 514.9,914.0 515.6,923.2 516.4,932.1 517.1,940.7 517.9,948.7 518.7,956.3 519.4,963.6 520.2,970.7 520.9,977.4 521.7,984.0 522.5,990.3 523.2,996.3 524.0,1002.2 524.7,1007.8 525.5,1013.3 526.3,1018.6 527.0,1024.0 527.8,1029.7 528.5,1035.8 529.3,1041.9 530.1,1047.9 530.8,1053.6 531.6,1058.8 532.3,1063.5 533.1,1067.3 533.9,1070.2 534.6,1072.0 535.4,1073.4 536.1,1074.8 536.9,1076.0 537.7,1077.3 538.4,1078.4 539.2,1079.5 539.9,1080.6 540.7,1081.6 541.5,1082.5 542.2,1083.4 543.0,1084.3 543.7,1085.1 544.5,1085.9 545.3,1086.7 546.0,1087.5 546.8,1088.2 547.5,1088.9 548.3,1089.6 549.1,1090.3 549.8,1091.0 550.6,1091.7 551.3,1092.5 552.1,1093.2 552.9,1094.0 553.6,1094.7 554.4,1095.5 555.1,1096.2 555.9,1096.9 556.7,1097.7 557.4,1098.3 558.2,1099.0 558.9,1099.6 559.7,1100.2 560.5,1100.7 561.2,1101.2 562.0,1101.7 562.7,1102.1 563.5,1102.5 564.3,1102.9 565.0,1103.3 565.8,1103.7 566.5,1104.1 567.3,1104.5 568.1,1104.8 568.8,1105.2 569.6,1105.5 570.3,1105.9 571.1,1106.2 571.9,1106.5 572.6,1106.8 573.4,1107.1 574.1,1107.4 574.9,1107.7 575.7,1108.0 576.4,1108.3 577.2,1108.5 577.9,1108.8 578.7,1109.1 579.5,1109.3 580.2,1109.6 581.0,1109.8 581.7,1110.0 582.5,1110.2 583.3,1110.5 584.0,1110.7 584.8,1110.8 585.5,1111.0 586.3,1111.2 587.1,1111.3 587.8,1111.4 588.6,1111.6 589.3,1111.7 590.1,1111.8 590.9,1111.8 591.6,1111.9 592.4,1112.0 593.1,1112.0 593.9,1112.1 594.7,1112.1 595.4,1112.1 596.2,1112.2 596.9,1112.2 597.7,1112.2 598.5,1112.2 599.2,1112.2 600.0,1112.2 600.7,1112.1 601.5,1112.1 602.3,1112.1 603.0,1112.1 603.8,1112.0 604.5,1112.0 605.3,1111.9 606.1,1111.9 606.8,1111.8 607.6,1111.8 608.3,1111.7 609.1,1111.7 609.9,1111.6 610.6,1111.6 611.4,1111.5 612.1,1111.5 612.9,1111.4 613.7,1111.4 614.4,1111.3 615.2,1111.3 615.9,1111.2 616.7,1111.2 617.5,1111.2 618.2,1111.1 619.0,1111.1 619.7,1111.1 620.5,1111.1 621.3,1111.0 622.0,1111.0 622.8,1111.0 623.5,1111.0 624.3,1111.0 625.1,1111.0 625.8,1111.1 626.6,1111.1 627.3,1111.1 628.1,1111.1 628.9,1111.1 629.6,1111.1 630.4,1111.1 631.1,1111.1 631.9,1111.1 632.7,1111.1 633.4,1111.1 634.2,1111.1 635.0,1111.1 635.7,1111.1 636.5,1111.1 637.2,1111.1 638.0,1111.1 638.8,1111.1 639.5,1111.1 640.3,1111.1 641.0,1111.1 641.8,1111.1 642.6,1111.1 643.3,1111.1 644.1,1111.1 644.8,1111.1 645.6,1111.1 646.4,1111.1 647.1,1111.1 647.9,1111.1 648.6,1111.1 649.4,1111.1 650.2,1111.1 650.9,1111.1 651.7,1111.1 652.4,1111.1 653.2,1111.1 654.0,1111.1 654.7,1111.1 655.5,1111.1 656.2,1111.1 657.0,1111.1 657.8,1111.1 658.5,1111.1 659.3,1111.1 660.0,1111.1 660.8,1111.1 661.6,1111.1 662.3,1111.1 663.1,1111.1 663.8,1111.1 664.6,1111.1 665.4,1111.1 666.1,1111.1 666.9,1111.1 667.6,1111.1 668.4,1111.1 669.2,1111.1 669.9,1111.1 670.7,1111.1 671.4,1111.1 672.2,1111.1 673.0,1111.1 673.7,1111.1 674.5,1111.1 675.2,1111.1 676.0,1111.0 676.8,1111.0 677.5,1111.0 678.3,1111.0 679.0,1111.0 679.8,1111.0 680.6,1111.0 681.3,1111.0 682.1,1111.0 682.8,1111.0 683.6,1111.0 684.4,1111.0 685.1,1110.9 685.9,1110.9 686.6,1110.9 687.4,1110.9 688.2,1110.9 688.9,1110.9 689.7,1110.9 690.4,1110.9 691.2,1110.9 692.0,1110.9 692.7,1110.9 693.5,1110.9 694.2,1110.9 695.0,1111.0" stroke="#FF0A84" stroke-width="2.6"/>
<polyline points="86.9,1119.8 87.5,1103.3 88.1,1126.9 88.7,1137.1 89.3,1115.8 89.9,1111.8 90.5,1114.1 91.2,1112.6 91.8,1118.9 92.4,1123.6 93.0,1125.1 93.6,1119.3 94.2,1120.8 94.8,1107.1 95.4,1110.0 96.0,1129.2 96.6,1108.8 97.2,1116.1 97.8,1104.0 98.5,1099.8 99.1,1109.3 99.7,1133.3 100.3,1107.9 100.9,1130.6 101.5,1097.9 102.1,1120.7 102.7,1115.6 103.3,1094.6 103.9,1131.5 104.5,1112.7 105.1,1123.9 105.8,1118.0 106.4,1120.7 107.0,1105.1 107.6,1115.1 108.2,1108.2 108.8,1104.9 109.4,1129.3 110.0,1096.7 110.6,1113.7 111.2,1128.3 111.8,1117.8 112.4,1101.7 113.0,1100.3 113.7,1117.8 114.3,1109.5 114.9,1108.0 115.5,1099.6 116.1,1111.8 116.7,1100.1 117.3,1119.6 117.9,1117.8 118.5,1103.2 119.1,1102.5 119.7,1110.5 120.3,1103.6 121.0,1107.7 121.6,1101.8 122.2,1097.5 122.8,1104.3 123.4,1101.0 124.0,1113.8 124.6,1115.4 125.2,1134.3 125.8,1105.1 126.4,1109.0 127.0,1103.7 127.6,1129.0 128.3,1114.3 128.9,1115.0 129.5,1128.1 130.1,1099.5 130.7,1096.1 131.3,1122.3 131.9,1104.2 132.5,1090.6 133.1,1121.5 133.7,1098.2 134.3,1091.8 134.9,1088.8 135.5,1122.9 136.2,1119.7 136.8,1106.2 137.4,1095.6 138.0,1121.5 138.6,1116.1 139.2,1119.9 139.8,1096.3 140.4,1113.9 141.0,1101.8 141.6,1101.0 142.2,1095.5 142.8,1103.3 143.5,1104.1 144.1,1095.3 144.7,1102.5 145.3,1120.9 145.9,1113.2 146.5,1097.8 147.1,1105.9 147.7,1111.1 148.3,1104.7 148.9,1072.1 149.5,1107.8 150.1,1102.1 150.8,1102.3 151.4,1110.0 152.0,1094.5 152.6,1098.0 153.2,1102.8 153.8,1121.4 154.4,1093.6 155.0,1098.8 155.6,1107.8 156.2,1135.5 156.8,1107.4 157.4,1119.7 158.0,1109.2 158.7,1112.1 159.3,1115.4 159.9,1095.8 160.5,1105.3 161.1,1093.3 161.7,1116.6 162.3,1108.3 162.9,1091.7 163.5,1102.6 164.1,1113.8 164.7,1115.4 165.3,1112.2 166.0,1106.6 166.6,1098.3 167.2,1103.9 167.8,1097.3 168.4,1096.3 169.0,1103.8 169.6,1091.2 170.2,1096.9 170.8,1106.6 171.4,1106.2 172.0,1104.5 172.6,1112.0 173.3,1118.3 173.9,1103.4 174.5,1109.1 175.1,1097.1 175.7,1109.6 176.3,1102.0 176.9,1100.7 177.5,1107.6 178.1,1100.3 178.7,1109.9 179.3,1106.5 179.9,1093.1 180.5,1097.3 181.2,1101.3 181.8,1109.5 182.4,1093.3 183.0,1079.1 183.6,1123.8 184.2,1088.8 184.8,1097.5 185.4,1087.8 186.0,1086.8 186.6,1110.1 187.2,1080.2 187.8,1105.1 188.5,1101.1 189.1,1091.4 189.7,1098.9 190.3,1094.9 190.9,1103.1 191.5,1108.5 192.1,1096.9 192.7,1108.6 193.3,1082.1 193.9,1093.7 194.5,1080.9 195.1,1109.4 195.7,1118.2 196.4,1120.2 197.0,1099.4 197.6,1109.0 198.2,1091.0 198.8,1110.5 199.4,1109.5 200.0,1091.2 200.6,1098.3 201.2,1086.5 201.8,1084.8 202.4,1089.6 203.0,1106.4 203.7,1102.4 204.3,1068.2 204.9,1095.0 205.5,1089.2 206.1,1090.8 206.7,1092.2 207.3,1093.6 207.9,1097.6 208.5,1096.9 209.1,1112.9 209.7,1072.5 210.3,1091.7 211.0,1104.5 211.6,1084.3 212.2,1082.4 212.8,1105.2 213.4,1094.8 214.0,1072.5 214.6,1082.5 215.2,1083.5 215.8,1076.9 216.4,1088.9 217.0,1090.3 217.6,1069.3 218.2,1088.3 218.9,1086.8 219.5,1078.5 220.1,1084.7 220.7,1098.1 221.3,1063.3 221.9,1084.4 222.5,1063.3 223.1,1077.0 223.7,1092.1 224.3,1064.5 224.9,1082.9 225.5,1089.9 226.2,1080.1 226.8,1102.9 227.4,1074.1 228.0,1086.1 228.6,1080.2 229.2,1086.7 229.8,1068.6 230.4,1071.5 231.0,1062.8 231.6,1055.7 232.2,1070.4 232.8,1071.9 233.5,1068.8 234.1,1080.6 234.7,1077.0 235.3,1061.7 235.9,1079.1 236.5,1090.5 237.1,1072.1 237.7,1064.5 238.3,1050.1 238.9,1074.0 239.5,1075.7 240.1,1063.3 240.7,1065.4 241.4,1060.0 242.0,1067.9 242.6,1058.9 243.2,1066.9 243.8,1048.3 244.4,1055.4 245.0,1051.2 245.6,1061.8 246.2,1072.2 246.8,1054.7 247.4,1054.5 248.0,1040.2 248.7,1040.7 249.3,1051.2 249.9,1050.2 250.5,1060.0 251.1,1047.9 251.7,1043.9 252.3,1049.9 252.9,1056.5 253.5,1027.9 254.1,1052.2 254.7,1021.0 255.3,1025.2 256.0,1019.6 256.6,1046.2 257.2,1027.6 257.8,1049.8 258.4,1036.4 259.0,1048.5 259.6,1037.6 260.2,1033.3 260.8,1014.3 261.4,1011.1 262.0,1026.5 262.6,1023.6 263.2,1029.6 263.9,1030.1 264.5,1035.9 265.1,1015.2 265.7,1003.5 266.3,1018.0 266.9,1002.4 267.5,1018.9 268.1,1015.3 268.7,1007.8 269.3,988.8 269.9,1004.3 270.5,986.9 271.2,999.0 271.8,1006.8 272.4,1016.3 273.0,996.0 273.6,1000.5 274.2,976.1 274.8,980.4 275.4,1004.8 276.0,972.7 276.6,975.3 277.2,1016.8 277.8,992.5 278.5,975.4 279.1,997.2 279.7,985.4 280.3,968.8 280.9,971.2 281.5,967.8 282.1,964.9 282.7,982.9 283.3,941.0 283.9,963.7 284.5,942.7 285.1,972.3 285.7,961.2 286.4,963.2 287.0,968.5 287.6,961.8 288.2,961.6 288.8,953.5 289.4,958.7 290.0,960.9 290.6,954.2 291.2,940.8 291.8,957.0 292.4,948.9 293.0,953.5 293.7,979.0 294.3,964.1 294.9,962.9 295.5,967.6 296.1,956.3 296.7,969.6 297.3,941.9 297.9,950.9 298.5,926.7 299.1,936.2 299.7,956.3 300.3,941.3 301.0,936.5 301.6,944.7 302.2,939.3 302.8,947.6 303.4,941.9 304.0,927.7 304.6,934.7 305.2,913.6 305.8,956.2 306.4,937.9 307.0,931.4 307.6,906.1 308.2,909.9 308.9,913.6 309.5,909.7 310.1,900.4 310.7,911.5 311.3,922.5 311.9,915.9 312.5,926.8 313.1,919.1 313.7,910.0 314.3,920.4 314.9,911.2 315.5,917.1 316.2,927.7 316.8,928.1 317.4,898.2 318.0,905.8 318.6,893.7 319.2,904.8 319.8,902.2 320.4,897.0 321.0,903.7 321.6,878.9 322.2,882.4 322.8,889.1 323.5,907.1 324.1,898.5 324.7,886.9 325.3,872.3 325.9,887.2 326.5,885.6 327.1,876.6 327.7,880.8 328.3,883.2 328.9,895.2 329.5,861.3 330.1,877.7 330.7,882.7 331.4,875.6 332.0,891.2 332.6,894.8 333.2,894.9 333.8,863.4 334.4,885.7 335.0,864.1 335.6,880.8 336.2,887.5 336.8,869.6 337.4,869.7 338.0,867.3 338.7,831.3 339.3,851.0 339.9,860.4 340.5,837.6 341.1,852.5 341.7,828.4 342.3,865.9 342.9,825.6 343.5,854.4 344.1,846.9 344.7,830.9 345.3,846.9 346.0,852.6 346.6,831.9 347.2,827.9 347.8,844.9 348.4,803.9 349.0,827.7 349.6,822.1 350.2,813.8 350.8,807.1 351.4,789.5 352.0,835.0 352.6,800.3 353.2,784.8 353.9,792.2 354.5,794.8 355.1,808.4 355.7,784.5 356.3,795.1 356.9,783.9 357.5,800.4 358.1,787.6 358.7,783.7 359.3,802.8 359.9,763.3 360.5,747.2 361.2,796.7 361.8,779.9 362.4,773.2 363.0,779.7 363.6,789.7 364.2,776.7 364.8,793.8 365.4,798.2 366.0,754.2 366.6,745.9 367.2,743.4 367.8,737.4 368.5,751.5 369.1,787.1 369.7,781.9 370.3,756.8 370.9,781.6 371.5,780.6 372.1,776.4 372.7,770.9 373.3,799.7 373.9,779.9 374.5,774.7 375.1,815.3 375.7,769.1 376.4,776.8 377.0,803.0 377.6,765.5 378.2,789.3 378.8,790.9 379.4,777.5 380.0,841.7 380.6,805.6 381.2,792.4 381.8,789.6 382.4,813.6 383.0,818.1 383.7,828.9 384.3,824.5 384.9,834.2 385.5,858.6 386.1,833.9 386.7,841.8 387.3,837.6 387.9,837.2 388.5,839.2 389.1,832.3 389.7,836.2 390.3,842.0 391.0,847.2 391.6,841.2 392.2,845.7 392.8,844.4 393.4,824.1 394.0,841.8 394.6,852.3 395.2,877.3 395.8,870.1 396.4,892.8 397.0,839.6 397.6,837.8 398.2,860.6 398.9,862.8 399.5,850.9 400.1,851.0 400.7,885.1 401.3,865.7 401.9,868.1 402.5,882.9 403.1,847.1 403.7,858.1 404.3,878.7 404.9,872.6 405.5,881.3 406.2,882.2 406.8,882.3 407.4,864.2 408.0,879.9 408.6,888.0 409.2,892.3 409.8,880.8 410.4,897.8 411.0,909.4 411.6,890.5 412.2,868.3 412.8,900.6 413.4,890.5 414.1,896.6 414.7,878.5 415.3,889.9 415.9,914.8 416.5,875.2 417.1,899.8 417.7,913.4 418.3,908.9 418.9,902.4 419.5,889.8 420.1,909.0 420.7,916.2 421.4,889.5 422.0,887.2 422.6,913.9 423.2,908.2 423.8,905.9 424.4,915.7 425.0,924.6 425.6,899.2 426.2,928.3 426.8,938.7 427.4,907.1 428.0,899.9 428.7,905.0 429.3,926.5 429.9,919.9 430.5,931.5 431.1,924.4 431.7,950.3 432.3,929.6 432.9,900.1 433.5,934.1 434.1,896.0 434.7,916.9 435.3,945.4 435.9,907.2 436.6,932.5 437.2,912.8 437.8,922.6 438.4,925.2 439.0,923.1 439.6,938.4 440.2,931.2 440.8,926.7 441.4,898.2 442.0,929.5 442.6,917.9 443.2,916.4 443.9,906.5 444.5,925.9 445.1,920.4 445.7,935.5 446.3,890.0 446.9,943.2 447.5,920.2 448.1,928.3 448.7,921.6 449.3,930.7 449.9,929.7 450.5,910.7 451.2,911.0 451.8,924.3 452.4,924.9 453.0,920.4 453.6,923.4 454.2,916.2 454.8,911.4 455.4,914.4 456.0,940.6 456.6,919.2 457.2,931.3 457.8,909.7 458.4,917.7 459.1,908.0 459.7,911.2 460.3,895.3 460.9,887.3 461.5,900.7 462.1,920.7 462.7,897.7 463.3,868.0 463.9,901.5 464.5,890.2 465.1,852.4 465.7,859.6 466.4,870.8 467.0,873.2 467.6,891.4 468.2,846.4 468.8,852.7 469.4,885.4 470.0,859.1 470.6,854.7 471.2,849.1 471.8,852.7 472.4,801.8 473.0,844.8 473.7,804.6 474.3,810.3 474.9,812.9 475.5,799.6 476.1,788.3 476.7,804.4 477.3,791.3 477.9,760.0 478.5,756.9 479.1,758.2 479.7,776.0 480.3,775.9 480.9,719.3 481.6,712.9 482.2,720.9 482.8,716.1 483.4,721.5 484.0,701.9 484.6,684.8 485.2,686.7 485.8,703.7 486.4,684.4 487.0,695.9 487.6,685.4 488.2,700.5 488.9,720.1 489.5,696.7 490.1,674.9 490.7,690.8 491.3,667.8 491.9,686.0 492.5,671.2 493.1,683.9 493.7,655.4 494.3,682.4 494.9,675.2 495.5,656.1 496.2,650.6 496.8,696.0 497.4,652.8 498.0,697.5 498.6,698.6 499.2,700.0 499.8,673.7 500.4,713.7 501.0,693.0 501.6,703.4 502.2,722.1 502.8,721.9 503.4,708.3 504.1,728.9 504.7,780.4 505.3,776.4 505.9,798.5 506.5,805.2 507.1,820.9 507.7,813.9 508.3,842.8 508.9,856.3 509.5,845.4 510.1,849.0 510.7,844.0 511.4,859.1 512.0,888.2 512.6,896.9 513.2,887.8 513.8,896.5 514.4,898.1 515.0,897.9 515.6,952.2 516.2,938.0 516.8,929.8 517.4,957.3 518.0,928.6 518.7,957.0 519.3,954.2 519.9,970.0 520.5,968.6 521.1,973.4 521.7,976.9 522.3,1005.3 522.9,1016.6 523.5,999.3 524.1,993.4 524.7,1010.3 525.3,1013.7 525.9,1003.5 526.6,1012.6 527.2,1035.6 527.8,1027.4 528.4,1036.5 529.0,1038.3 529.6,1044.7 530.2,1042.0 530.8,1053.3 531.4,1053.6 532.0,1060.9 532.6,1067.0 533.2,1073.8 533.9,1066.8 534.5,1066.4 535.1,1055.2 535.7,1046.6 536.3,1081.9 536.9,1082.7 537.5,1065.2 538.1,1082.0 538.7,1077.0 539.3,1092.9 539.9,1073.6 540.5,1096.6 541.2,1070.9 541.8,1091.3 542.4,1080.6 543.0,1073.3 543.6,1093.5 544.2,1086.4 544.8,1063.1 545.4,1101.3 546.0,1085.6 546.6,1108.8 547.2,1084.5 547.8,1090.5 548.4,1101.2 549.1,1102.4 549.7,1077.2 550.3,1083.9 550.9,1104.3 551.5,1083.6 552.1,1102.5 552.7,1101.8 553.3,1089.7 553.9,1095.8 554.5,1089.6 555.1,1084.4 555.7,1103.0 556.4,1091.1 557.0,1094.3 557.6,1115.4 558.2,1090.3 558.8,1088.5 559.4,1113.9 560.0,1103.4 560.6,1090.2 561.2,1091.4 561.8,1105.0 562.4,1103.9 563.0,1105.0 563.7,1114.9 564.3,1101.4 564.9,1080.9 565.5,1117.9 566.1,1103.7 566.7,1113.6 567.3,1088.4 567.9,1121.4 568.5,1095.3 569.1,1100.3 569.7,1114.0 570.3,1108.7 570.9,1105.1 571.6,1088.2 572.2,1103.3 572.8,1094.1 573.4,1095.7 574.0,1105.9 574.6,1106.7 575.2,1108.0 575.8,1090.7 576.4,1094.3 577.0,1097.9 577.6,1115.0 578.2,1111.3 578.9,1100.7 579.5,1110.7 580.1,1123.1 580.7,1124.7 581.3,1104.6 581.9,1101.7 582.5,1104.3 583.1,1094.0 583.7,1126.4 584.3,1128.7 584.9,1109.3 585.5,1101.6 586.2,1119.5 586.8,1108.2 587.4,1107.6 588.0,1116.0 588.6,1119.9 589.2,1114.6 589.8,1112.2 590.4,1103.9 591.0,1114.6 591.6,1121.5 592.2,1122.7 592.8,1116.4 593.4,1106.5 594.1,1120.6 594.7,1115.6 595.3,1106.5 595.9,1109.2 596.5,1090.8 597.1,1106.8 597.7,1105.4 598.3,1090.1 598.9,1131.1 599.5,1129.7 600.1,1119.9 600.7,1110.6 601.4,1099.7 602.0,1104.8 602.6,1117.3 603.2,1126.7 603.8,1108.1 604.4,1114.5 605.0,1121.8 605.6,1124.7 606.2,1104.6 606.8,1114.7 607.4,1109.7 608.0,1112.7 608.6,1119.5 609.3,1116.6 609.9,1118.0 610.5,1112.3 611.1,1118.7 611.7,1105.2 612.3,1121.7 612.9,1109.0 613.5,1110.1 614.1,1105.2 614.7,1142.5 615.3,1104.8 615.9,1107.8 616.6,1116.0 617.2,1115.0 617.8,1115.5 618.4,1126.7 619.0,1080.8 619.6,1113.6 620.2,1107.0 620.8,1123.8 621.4,1116.2 622.0,1136.1 622.6,1112.7 623.2,1120.8 623.9,1111.8 624.5,1107.5 625.1,1097.9 625.7,1111.5 626.3,1123.3 626.9,1117.1 627.5,1106.1 628.1,1093.1 628.7,1137.5 629.3,1125.1 629.9,1119.4 630.5,1113.8 631.1,1105.7 631.8,1097.7 632.4,1106.1 633.0,1097.4 633.6,1119.0 634.2,1120.6 634.8,1129.2 635.4,1120.4 636.0,1105.4 636.6,1112.4 637.2,1091.7 637.8,1115.7 638.4,1122.8 639.1,1107.0 639.7,1133.5 640.3,1104.1 640.9,1109.0 641.5,1127.1 642.1,1107.8 642.7,1110.5 643.3,1100.0 643.9,1115.6 644.5,1118.5 645.1,1112.9 645.7,1114.3 646.4,1123.7 647.0,1103.4 647.6,1103.0 648.2,1120.5 648.8,1118.9 649.4,1124.2 650.0,1117.9 650.6,1120.2 651.2,1113.3 651.8,1106.2 652.4,1097.6 653.0,1122.7 653.6,1121.2 654.3,1125.2 654.9,1113.7 655.5,1105.2 656.1,1122.5 656.7,1113.4 657.3,1123.6 657.9,1128.0 658.5,1118.9 659.1,1104.8 659.7,1117.1 660.3,1131.6 660.9,1123.8 661.6,1116.7 662.2,1093.0 662.8,1125.7 663.4,1084.3 664.0,1103.3 664.6,1100.3 665.2,1103.7 665.8,1139.8 666.4,1111.1 667.0,1110.8 667.6,1108.0 668.2,1100.0 668.9,1114.0 669.5,1121.6 670.1,1108.2 670.7,1111.5 671.3,1108.6 671.9,1117.8 672.5,1113.6 673.1,1145.1 673.7,1110.9 674.3,1102.2 674.9,1112.0 675.5,1113.7 676.1,1106.5 676.8,1116.1 677.4,1115.1 678.0,1095.0 678.6,1094.7 679.2,1131.3 679.8,1118.8 680.4,1109.6 681.0,1104.7 681.6,1125.0 682.2,1118.4 682.8,1105.7 683.4,1100.0 684.1,1122.2 684.7,1115.6 685.3,1115.4 685.9,1100.6 686.5,1107.3 687.1,1107.9 687.7,1092.7 688.3,1103.8 688.9,1110.8 689.5,1095.4 690.1,1094.8 690.7,1096.7 691.4,1092.5 692.0,1107.6 692.6,1133.0 693.2,1115.3 693.8,1109.7 694.4,1112.0 695.0,1103.5" stroke="#000" stroke-width="3.7"/>
</g>
<rect x="86.90" y="639.60" width="608.10" height="489.20" fill="none" stroke="#000" stroke-width="3.3"/>
<path d="M137.58,1128.80v-5.0M137.58,639.60v5.0M188.25,1128.80v-10.2M188.25,639.60v10.2M238.93,1128.80v-5.0M238.93,639.60v5.0M289.60,1128.80v-10.2M289.60,639.60v10.2M340.28,1128.80v-5.0M340.28,639.60v5.0M390.95,1128.80v-10.2M390.95,639.60v10.2M441.62,1128.80v-5.0M441.62,639.60v5.0M492.30,1128.80v-10.2M492.30,639.60v10.2M542.98,1128.80v-5.0M542.98,639.60v5.0M593.65,1128.80v-10.2M593.65,639.60v10.2M644.33,1128.80v-5.0M644.33,639.60v5.0M86.90,1114.20h10.2M695.00,1114.20h-10.2M86.90,1035.10h10.2M695.00,1035.10h-10.2M86.90,956.00h10.2M695.00,956.00h-10.2M86.90,876.90h10.2M695.00,876.90h-10.2M86.90,797.80h10.2M695.00,797.80h-10.2M86.90,718.70h10.2M695.00,718.70h-10.2M86.90,1074.65h5.0M695.00,1074.65h-5.0M86.90,995.55h5.0M695.00,995.55h-5.0M86.90,916.45h5.0M695.00,916.45h-5.0M86.90,837.35h5.0M695.00,837.35h-5.0M86.90,758.25h5.0M695.00,758.25h-5.0M86.90,679.15h5.0M695.00,679.15h-5.0" stroke="#000" stroke-width="2.6" fill="none"/>
<g class="tl"><text x="86.90" y="1161.40" text-anchor="middle">800</text><text x="188.25" y="1161.40" text-anchor="middle">1000</text><text x="289.60" y="1161.40" text-anchor="middle">1200</text><text x="390.95" y="1161.40" text-anchor="middle">1400</text><text x="492.30" y="1161.40" text-anchor="middle">1600</text><text x="593.65" y="1161.40" text-anchor="middle">1800</text><text x="695.00" y="1161.40" text-anchor="middle">2000</text><text x="76.95" y="1123.50" text-anchor="end">0</text><text x="76.95" y="1044.40" text-anchor="end">50</text><text x="76.95" y="965.30" text-anchor="end">100</text><text x="76.95" y="886.20" text-anchor="end">150</text><text x="76.95" y="807.10" text-anchor="end">200</text><text x="76.95" y="728.00" text-anchor="end">250</text><text x="76.95" y="648.90" text-anchor="end">300</text></g>
<text class="let" x="99.4" y="675.3">C</text>
<text class="rat" transform="translate(534.8,706.8) scale(1,1.07)">I<tspan class="sub" dy="7.4">D</tspan><tspan dy="-7.4">/I</tspan><tspan class="sub" dy="7.4">G</tspan><tspan dy="-7.4">=2.366</tspan></text>
<text class="ttl" style="font-size:30px" x="270.5" y="1212.7">Raman shift (cm<tspan class="sup" dy="-12.5">-1</tspan><tspan dy="12.5">)</tspan></text>
<text class="ttl" style="font-size:30px" transform="translate(23.5,884.2) rotate(-90)" text-anchor="middle">Intensity (a.u.)</text>
<text class="ann" style="font-size:30px" x="161.2" y="729.2">observed</text>
<text class="ann" style="font-size:30px" x="161.2" y="766.5">spectrum and</text>
<text class="ann" style="font-size:30px" x="161.2" y="803.4">curve fit</text>
<line x1="288.3" y1="793.0" x2="325.3" y2="822.7" stroke="#000" stroke-width="3.6"/><polygon points="341.7,835.8 319.6,826.6 327.9,816.3" fill="#000"/>
<line x1="244.1" y1="942.8" x2="294.9" y2="971.3" stroke="#FF0000" stroke-width="3.6"/><polygon points="313.2,981.6 289.9,976.1 296.4,964.6" fill="#FF0000"/>
<text class="ann" style="font-size:30px" x="219.9" y="936.8" fill="#FF0000">D1</text>
<line x1="201.5" y1="1049.7" x2="234.9" y2="1090.2" stroke="#000000" stroke-width="3.6"/><polygon points="248.3,1106.4 228.6,1092.9 238.7,1084.5" fill="#000000"/>
<text class="ann" style="font-size:30px" x="178.4" y="1045.4" fill="#000000">D4</text>
<line x1="547.0" y1="819.7" x2="519.2" y2="838.9" stroke="#A674DC" stroke-width="3.6"/><polygon points="501.9,850.8 517.1,832.3 524.6,843.2" fill="#A674DC"/>
<text class="ann" style="font-size:30px" x="551.6" y="824.3" fill="#A674DC">D2</text>
<line x1="551.1" y1="976.0" x2="506.3" y2="1018.7" stroke="#2EA85E" stroke-width="3.6"/><polygon points="491.1,1033.2 503.2,1012.6 512.3,1022.1" fill="#2EA85E"/>
<text class="ann" style="font-size:30px" x="552.4" y="973.8" fill="#2EA85E">G</text>
<line x1="567.8" y1="1030.0" x2="500.7" y2="1095.6" stroke="#1A66DD" stroke-width="3.6"/><polygon points="485.7,1110.3 497.5,1089.5 506.8,1098.9" fill="#1A66DD"/>
<text class="ann" style="font-size:30px" x="573.2" y="1034.6" fill="#1A66DD">D3</text>
<clipPath id="clipD"><rect x="818.40" y="622.70" width="608.00" height="489.60"/></clipPath>
<g clip-path="url(#clipD)" fill="none" stroke-linejoin="round">
<polyline points="818.4,1111.7 819.4,1111.7 820.4,1111.7 821.4,1111.7 822.5,1111.7 823.5,1111.7 824.5,1111.7 825.5,1111.6 826.5,1111.6 827.5,1111.6 828.5,1111.6 829.5,1111.6 830.6,1111.6 831.6,1111.6 832.6,1111.6 833.6,1111.6 834.6,1111.6 835.6,1111.6 836.6,1111.6 837.7,1111.6 838.7,1111.5 839.7,1111.5 840.7,1111.5 841.7,1111.5 842.7,1111.5 843.7,1111.5 844.7,1111.5 845.8,1111.5 846.8,1111.5 847.8,1111.5 848.8,1111.5 849.8,1111.4 850.8,1111.4 851.8,1111.4 852.9,1111.4 853.9,1111.4 854.9,1111.4 855.9,1111.4 856.9,1111.4 857.9,1111.4 858.9,1111.3 859.9,1111.3 861.0,1111.3 862.0,1111.3 863.0,1111.3 864.0,1111.3 865.0,1111.3 866.0,1111.2 867.0,1111.2 868.1,1111.2 869.1,1111.2 870.1,1111.2 871.1,1111.2 872.1,1111.2 873.1,1111.1 874.1,1111.1 875.1,1111.1 876.2,1111.1 877.2,1111.1 878.2,1111.1 879.2,1111.0 880.2,1111.0 881.2,1111.0 882.2,1111.0 883.3,1111.0 884.3,1110.9 885.3,1110.9 886.3,1110.9 887.3,1110.9 888.3,1110.8 889.3,1110.8 890.3,1110.8 891.4,1110.8 892.4,1110.8 893.4,1110.7 894.4,1110.7 895.4,1110.7 896.4,1110.6 897.4,1110.6 898.5,1110.6 899.5,1110.6 900.5,1110.5 901.5,1110.5 902.5,1110.5 903.5,1110.4 904.5,1110.4 905.5,1110.4 906.6,1110.3 907.6,1110.3 908.6,1110.3 909.6,1110.2 910.6,1110.2 911.6,1110.1 912.6,1110.1 913.7,1110.0 914.7,1110.0 915.7,1110.0 916.7,1109.9 917.7,1109.9 918.7,1109.8 919.7,1109.8 920.7,1109.7 921.8,1109.6 922.8,1109.6 923.8,1109.5 924.8,1109.5 925.8,1109.4 926.8,1109.3 927.8,1109.3 928.9,1109.2 929.9,1109.1 930.9,1109.1 931.9,1109.0 932.9,1108.9 933.9,1108.8 934.9,1108.7 935.9,1108.6 937.0,1108.5 938.0,1108.5 939.0,1108.4 940.0,1108.2 941.0,1108.1 942.0,1108.0 943.0,1107.9 944.1,1107.8 945.1,1107.7 946.1,1107.5 947.1,1107.4 948.1,1107.2 949.1,1107.1 950.1,1106.9 951.1,1106.8 952.2,1106.6 953.2,1106.4 954.2,1106.2 955.2,1106.0 956.2,1105.8 957.2,1105.6 958.2,1105.3 959.3,1105.1 960.3,1104.8 961.3,1104.5 962.3,1104.2 963.3,1103.9 964.3,1103.5 965.3,1103.2 966.3,1102.8 967.4,1102.4 968.4,1101.9 969.4,1101.5 970.4,1101.0 971.4,1100.4 972.4,1099.9 973.4,1099.2 974.5,1098.6 975.5,1097.9 976.5,1097.2 977.5,1096.4 978.5,1095.6 979.5,1094.7 980.5,1093.7 981.5,1092.7 982.6,1091.7 983.6,1090.6 984.6,1089.4 985.6,1088.1 986.6,1086.8 987.6,1085.4 988.6,1084.0 989.7,1082.5 990.7,1080.9 991.7,1079.3 992.7,1077.6 993.7,1075.8 994.7,1074.0 995.7,1072.1 996.7,1070.2 997.8,1068.3 998.8,1066.4 999.8,1064.4 1000.8,1062.5 1001.8,1060.6 1002.8,1058.8 1003.8,1057.1 1004.9,1055.5 1005.9,1054.0 1006.9,1052.7 1007.9,1051.6 1008.9,1050.7 1009.9,1050.0 1010.9,1049.6 1011.9,1049.5 1013.0,1049.6 1014.0,1050.0 1015.0,1050.7 1016.0,1051.6 1017.0,1052.7 1018.0,1054.0 1019.0,1055.5 1020.1,1057.1 1021.1,1058.8 1022.1,1060.6 1023.1,1062.5 1024.1,1064.4 1025.1,1066.4 1026.1,1068.3 1027.1,1070.2 1028.2,1072.1 1029.2,1074.0 1030.2,1075.8 1031.2,1077.6 1032.2,1079.3 1033.2,1080.9 1034.2,1082.5 1035.3,1084.0 1036.3,1085.4 1037.3,1086.8 1038.3,1088.1 1039.3,1089.4 1040.3,1090.6 1041.3,1091.7 1042.3,1092.7 1043.4,1093.7 1044.4,1094.7 1045.4,1095.6 1046.4,1096.4 1047.4,1097.2 1048.4,1097.9 1049.4,1098.6 1050.5,1099.2 1051.5,1099.9 1052.5,1100.4 1053.5,1101.0 1054.5,1101.5 1055.5,1101.9 1056.5,1102.4 1057.5,1102.8 1058.6,1103.2 1059.6,1103.5 1060.6,1103.9 1061.6,1104.2 1062.6,1104.5 1063.6,1104.8 1064.6,1105.1 1065.7,1105.3 1066.7,1105.6 1067.7,1105.8 1068.7,1106.0 1069.7,1106.2 1070.7,1106.4 1071.7,1106.6 1072.7,1106.8 1073.8,1106.9 1074.8,1107.1 1075.8,1107.2 1076.8,1107.4 1077.8,1107.5 1078.8,1107.7 1079.8,1107.8 1080.9,1107.9 1081.9,1108.0 1082.9,1108.1 1083.9,1108.2 1084.9,1108.4 1085.9,1108.5 1086.9,1108.5 1087.9,1108.6 1089.0,1108.7 1090.0,1108.8 1091.0,1108.9 1092.0,1109.0 1093.0,1109.1 1094.0,1109.1 1095.0,1109.2 1096.1,1109.3 1097.1,1109.3 1098.1,1109.4 1099.1,1109.5 1100.1,1109.5 1101.1,1109.6 1102.1,1109.6 1103.1,1109.7 1104.2,1109.8 1105.2,1109.8 1106.2,1109.9 1107.2,1109.9 1108.2,1110.0 1109.2,1110.0 1110.2,1110.0 1111.3,1110.1 1112.3,1110.1 1113.3,1110.2 1114.3,1110.2 1115.3,1110.3 1116.3,1110.3 1117.3,1110.3 1118.3,1110.4 1119.4,1110.4 1120.4,1110.4 1121.4,1110.5 1122.4,1110.5 1123.4,1110.5 1124.4,1110.6 1125.4,1110.6 1126.5,1110.6 1127.5,1110.6 1128.5,1110.7 1129.5,1110.7 1130.5,1110.7 1131.5,1110.8 1132.5,1110.8 1133.5,1110.8 1134.6,1110.8 1135.6,1110.8 1136.6,1110.9 1137.6,1110.9 1138.6,1110.9 1139.6,1110.9 1140.6,1111.0 1141.7,1111.0 1142.7,1111.0 1143.7,1111.0 1144.7,1111.0 1145.7,1111.1 1146.7,1111.1 1147.7,1111.1 1148.7,1111.1 1149.8,1111.1 1150.8,1111.1 1151.8,1111.2 1152.8,1111.2 1153.8,1111.2 1154.8,1111.2 1155.8,1111.2 1156.9,1111.2 1157.9,1111.2 1158.9,1111.3 1159.9,1111.3 1160.9,1111.3 1161.9,1111.3 1162.9,1111.3 1163.9,1111.3 1165.0,1111.3 1166.0,1111.4 1167.0,1111.4 1168.0,1111.4 1169.0,1111.4 1170.0,1111.4 1171.0,1111.4 1172.1,1111.4 1173.1,1111.4 1174.1,1111.4 1175.1,1111.5 1176.1,1111.5 1177.1,1111.5 1178.1,1111.5 1179.1,1111.5 1180.2,1111.5 1181.2,1111.5 1182.2,1111.5 1183.2,1111.5 1184.2,1111.5 1185.2,1111.5 1186.2,1111.6 1187.3,1111.6 1188.3,1111.6 1189.3,1111.6 1190.3,1111.6 1191.3,1111.6 1192.3,1111.6 1193.3,1111.6 1194.3,1111.6 1195.4,1111.6 1196.4,1111.6 1197.4,1111.6 1198.4,1111.6 1199.4,1111.7 1200.4,1111.7 1201.4,1111.7 1202.5,1111.7 1203.5,1111.7 1204.5,1111.7 1205.5,1111.7 1206.5,1111.7 1207.5,1111.7 1208.5,1111.7 1209.5,1111.7 1210.6,1111.7 1211.6,1111.7 1212.6,1111.7 1213.6,1111.7 1214.6,1111.7 1215.6,1111.8 1216.6,1111.8 1217.7,1111.8 1218.7,1111.8 1219.7,1111.8 1220.7,1111.8 1221.7,1111.8 1222.7,1111.8 1223.7,1111.8 1224.7,1111.8 1225.8,1111.8 1226.8,1111.8 1227.8,1111.8 1228.8,1111.8 1229.8,1111.8 1230.8,1111.8 1231.8,1111.8 1232.9,1111.8 1233.9,1111.8 1234.9,1111.8 1235.9,1111.8 1236.9,1111.8 1237.9,1111.9 1238.9,1111.9 1239.9,1111.9 1241.0,1111.9 1242.0,1111.9 1243.0,1111.9 1244.0,1111.9 1245.0,1111.9 1246.0,1111.9 1247.0,1111.9 1248.1,1111.9 1249.1,1111.9 1250.1,1111.9 1251.1,1111.9 1252.1,1111.9 1253.1,1111.9 1254.1,1111.9 1255.1,1111.9 1256.2,1111.9 1257.2,1111.9 1258.2,1111.9 1259.2,1111.9 1260.2,1111.9 1261.2,1111.9 1262.2,1111.9 1263.3,1111.9 1264.3,1111.9 1265.3,1111.9 1266.3,1111.9 1267.3,1111.9 1268.3,1111.9 1269.3,1112.0 1270.3,1112.0 1271.4,1112.0 1272.4,1112.0 1273.4,1112.0 1274.4,1112.0 1275.4,1112.0 1276.4,1112.0 1277.4,1112.0 1278.5,1112.0 1279.5,1112.0 1280.5,1112.0 1281.5,1112.0 1282.5,1112.0 1283.5,1112.0 1284.5,1112.0 1285.5,1112.0 1286.6,1112.0 1287.6,1112.0 1288.6,1112.0 1289.6,1112.0 1290.6,1112.0 1291.6,1112.0 1292.6,1112.0 1293.7,1112.0 1294.7,1112.0 1295.7,1112.0 1296.7,1112.0 1297.7,1112.0 1298.7,1112.0 1299.7,1112.0 1300.7,1112.0 1301.8,1112.0 1302.8,1112.0 1303.8,1112.0 1304.8,1112.0 1305.8,1112.0 1306.8,1112.0 1307.8,1112.0 1308.9,1112.0 1309.9,1112.0 1310.9,1112.0 1311.9,1112.0 1312.9,1112.0 1313.9,1112.0 1314.9,1112.0 1315.9,1112.0 1317.0,1112.1 1318.0,1112.1 1319.0,1112.1 1320.0,1112.1 1321.0,1112.1 1322.0,1112.1 1323.0,1112.1 1324.1,1112.1 1325.1,1112.1 1326.1,1112.1 1327.1,1112.1 1328.1,1112.1 1329.1,1112.1 1330.1,1112.1 1331.1,1112.1 1332.2,1112.1 1333.2,1112.1 1334.2,1112.1 1335.2,1112.1 1336.2,1112.1 1337.2,1112.1 1338.2,1112.1 1339.3,1112.1 1340.3,1112.1 1341.3,1112.1 1342.3,1112.1 1343.3,1112.1 1344.3,1112.1 1345.3,1112.1 1346.3,1112.1 1347.4,1112.1 1348.4,1112.1 1349.4,1112.1 1350.4,1112.1 1351.4,1112.1 1352.4,1112.1 1353.4,1112.1 1354.5,1112.1 1355.5,1112.1 1356.5,1112.1 1357.5,1112.1 1358.5,1112.1 1359.5,1112.1 1360.5,1112.1 1361.5,1112.1 1362.6,1112.1 1363.6,1112.1 1364.6,1112.1 1365.6,1112.1 1366.6,1112.1 1367.6,1112.1 1368.6,1112.1 1369.7,1112.1 1370.7,1112.1 1371.7,1112.1 1372.7,1112.1 1373.7,1112.1 1374.7,1112.1 1375.7,1112.1 1376.7,1112.1 1377.8,1112.1 1378.8,1112.1 1379.8,1112.1 1380.8,1112.1 1381.8,1112.1 1382.8,1112.1 1383.8,1112.1 1384.9,1112.1 1385.9,1112.1 1386.9,1112.1 1387.9,1112.1 1388.9,1112.1 1389.9,1112.1 1390.9,1112.1 1391.9,1112.1 1393.0,1112.1 1394.0,1112.1 1395.0,1112.1 1396.0,1112.1 1397.0,1112.1 1398.0,1112.1 1399.0,1112.1 1400.1,1112.1 1401.1,1112.1 1402.1,1112.1 1403.1,1112.1 1404.1,1112.1 1405.1,1112.1 1406.1,1112.1 1407.1,1112.1 1408.2,1112.1 1409.2,1112.1 1410.2,1112.2 1411.2,1112.2 1412.2,1112.2 1413.2,1112.2 1414.2,1112.2 1415.3,1112.2 1416.3,1112.2 1417.3,1112.2 1418.3,1112.2 1419.3,1112.2 1420.3,1112.2 1421.3,1112.2 1422.3,1112.2 1423.4,1112.2 1424.4,1112.2 1425.4,1112.2 1426.4,1112.2" stroke="#555555" stroke-width="3.3" stroke-dasharray="13 13 2 13 2 13" stroke-linecap="round"/>
<polyline points="818.4,1112.3 819.4,1112.3 820.4,1112.3 821.4,1112.3 822.5,1112.3 823.5,1112.3 824.5,1112.3 825.5,1112.3 826.5,1112.3 827.5,1112.3 828.5,1112.3 829.5,1112.3 830.6,1112.3 831.6,1112.3 832.6,1112.3 833.6,1112.3 834.6,1112.3 835.6,1112.3 836.6,1112.3 837.7,1112.3 838.7,1112.3 839.7,1112.3 840.7,1112.3 841.7,1112.3 842.7,1112.3 843.7,1112.3 844.7,1112.3 845.8,1112.3 846.8,1112.3 847.8,1112.3 848.8,1112.3 849.8,1112.3 850.8,1112.3 851.8,1112.3 852.9,1112.3 853.9,1112.3 854.9,1112.3 855.9,1112.3 856.9,1112.3 857.9,1112.3 858.9,1112.3 859.9,1112.3 861.0,1112.3 862.0,1112.3 863.0,1112.3 864.0,1112.3 865.0,1112.3 866.0,1112.3 867.0,1112.3 868.1,1112.3 869.1,1112.3 870.1,1112.3 871.1,1112.3 872.1,1112.3 873.1,1112.3 874.1,1112.3 875.1,1112.3 876.2,1112.3 877.2,1112.3 878.2,1112.3 879.2,1112.3 880.2,1112.3 881.2,1112.3 882.2,1112.3 883.3,1112.3 884.3,1112.3 885.3,1112.3 886.3,1112.3 887.3,1112.3 888.3,1112.3 889.3,1112.3 890.3,1112.3 891.4,1112.3 892.4,1112.3 893.4,1112.3 894.4,1112.3 895.4,1112.3 896.4,1112.3 897.4,1112.3 898.5,1112.3 899.5,1112.3 900.5,1112.3 901.5,1112.3 902.5,1112.3 903.5,1112.3 904.5,1112.3 905.5,1112.3 906.6,1112.3 907.6,1112.3 908.6,1112.3 909.6,1112.3 910.6,1112.3 911.6,1112.3 912.6,1112.3 913.7,1112.3 914.7,1112.3 915.7,1112.3 916.7,1112.3 917.7,1112.3 918.7,1112.3 919.7,1112.3 920.7,1112.3 921.8,1112.3 922.8,1112.3 923.8,1112.3 924.8,1112.3 925.8,1112.3 926.8,1112.3 927.8,1112.3 928.9,1112.3 929.9,1112.3 930.9,1112.3 931.9,1112.3 932.9,1112.3 933.9,1112.3 934.9,1112.3 935.9,1112.3 937.0,1112.3 938.0,1112.3 939.0,1112.3 940.0,1112.3 941.0,1112.3 942.0,1112.3 943.0,1112.3 944.1,1112.3 945.1,1112.3 946.1,1112.3 947.1,1112.3 948.1,1112.3 949.1,1112.3 950.1,1112.3 951.1,1112.3 952.2,1112.3 953.2,1112.3 954.2,1112.3 955.2,1112.3 956.2,1112.3 957.2,1112.3 958.2,1112.3 959.3,1112.3 960.3,1112.3 961.3,1112.3 962.3,1112.3 963.3,1112.3 964.3,1112.3 965.3,1112.3 966.3,1112.3 967.4,1112.3 968.4,1112.3 969.4,1112.3 970.4,1112.3 971.4,1112.3 972.4,1112.3 973.4,1112.3 974.5,1112.3 975.5,1112.3 976.5,1112.3 977.5,1112.3 978.5,1112.3 979.5,1112.3 980.5,1112.3 981.5,1112.3 982.6,1112.3 983.6,1112.3 984.6,1112.3 985.6,1112.3 986.6,1112.3 987.6,1112.3 988.6,1112.3 989.7,1112.3 990.7,1112.3 991.7,1112.3 992.7,1112.3 993.7,1112.3 994.7,1112.3 995.7,1112.3 996.7,1112.3 997.8,1112.3 998.8,1112.3 999.8,1112.3 1000.8,1112.3 1001.8,1112.3 1002.8,1112.3 1003.8,1112.3 1004.9,1112.3 1005.9,1112.3 1006.9,1112.3 1007.9,1112.3 1008.9,1112.3 1009.9,1112.3 1010.9,1112.3 1011.9,1112.3 1013.0,1112.3 1014.0,1112.3 1015.0,1112.3 1016.0,1112.3 1017.0,1112.3 1018.0,1112.3 1019.0,1112.3 1020.1,1112.3 1021.1,1112.3 1022.1,1112.3 1023.1,1112.3 1024.1,1112.3 1025.1,1112.3 1026.1,1112.3 1027.1,1112.3 1028.2,1112.3 1029.2,1112.3 1030.2,1112.3 1031.2,1112.3 1032.2,1112.3 1033.2,1112.3 1034.2,1112.3 1035.3,1112.3 1036.3,1112.3 1037.3,1112.3 1038.3,1112.3 1039.3,1112.3 1040.3,1112.3 1041.3,1112.3 1042.3,1112.3 1043.4,1112.3 1044.4,1112.3 1045.4,1112.3 1046.4,1112.3 1047.4,1112.3 1048.4,1112.3 1049.4,1112.3 1050.5,1112.3 1051.5,1112.3 1052.5,1112.3 1053.5,1112.3 1054.5,1112.3 1055.5,1112.3 1056.5,1112.3 1057.5,1112.3 1058.6,1112.3 1059.6,1112.3 1060.6,1112.3 1061.6,1112.3 1062.6,1112.3 1063.6,1112.3 1064.6,1112.3 1065.7,1112.3 1066.7,1112.3 1067.7,1112.3 1068.7,1112.3 1069.7,1112.3 1070.7,1112.3 1071.7,1112.3 1072.7,1112.3 1073.8,1112.3 1074.8,1112.3 1075.8,1112.3 1076.8,1112.3 1077.8,1112.3 1078.8,1112.3 1079.8,1112.3 1080.9,1112.3 1081.9,1112.3 1082.9,1112.3 1083.9,1112.3 1084.9,1112.3 1085.9,1112.3 1086.9,1112.3 1087.9,1112.3 1089.0,1112.3 1090.0,1112.3 1091.0,1112.3 1092.0,1112.3 1093.0,1112.3 1094.0,1112.3 1095.0,1112.3 1096.1,1112.3 1097.1,1112.3 1098.1,1112.3 1099.1,1112.3 1100.1,1112.3 1101.1,1112.3 1102.1,1112.3 1103.1,1112.3 1104.2,1112.3 1105.2,1112.3 1106.2,1112.3 1107.2,1112.3 1108.2,1112.2 1109.2,1112.2 1110.2,1112.2 1111.3,1112.2 1112.3,1112.2 1113.3,1112.2 1114.3,1112.1 1115.3,1112.1 1116.3,1112.1 1117.3,1112.0 1118.3,1112.0 1119.4,1111.9 1120.4,1111.9 1121.4,1111.8 1122.4,1111.7 1123.4,1111.6 1124.4,1111.4 1125.4,1111.3 1126.5,1111.1 1127.5,1110.9 1128.5,1110.7 1129.5,1110.5 1130.5,1110.2 1131.5,1109.9 1132.5,1109.6 1133.5,1109.2 1134.6,1108.8 1135.6,1108.3 1136.6,1107.8 1137.6,1107.2 1138.6,1106.6 1139.6,1105.9 1140.6,1105.2 1141.7,1104.4 1142.7,1103.6 1143.7,1102.7 1144.7,1101.8 1145.7,1100.8 1146.7,1099.7 1147.7,1098.6 1148.7,1097.5 1149.8,1096.3 1150.8,1095.1 1151.8,1093.8 1152.8,1092.5 1153.8,1091.2 1154.8,1089.9 1155.8,1088.5 1156.9,1087.2 1157.9,1085.9 1158.9,1084.6 1159.9,1083.3 1160.9,1082.1 1161.9,1080.9 1162.9,1079.8 1163.9,1078.8 1165.0,1077.8 1166.0,1077.0 1167.0,1076.2 1168.0,1075.6 1169.0,1075.0 1170.0,1074.6 1171.0,1074.3 1172.1,1074.1 1173.1,1074.0 1174.1,1074.1 1175.1,1074.3 1176.1,1074.6 1177.1,1075.0 1178.1,1075.6 1179.1,1076.2 1180.2,1077.0 1181.2,1077.8 1182.2,1078.8 1183.2,1079.8 1184.2,1080.9 1185.2,1082.1 1186.2,1083.3 1187.3,1084.6 1188.3,1085.9 1189.3,1087.2 1190.3,1088.5 1191.3,1089.9 1192.3,1091.2 1193.3,1092.5 1194.3,1093.8 1195.4,1095.1 1196.4,1096.3 1197.4,1097.5 1198.4,1098.6 1199.4,1099.7 1200.4,1100.8 1201.4,1101.8 1202.5,1102.7 1203.5,1103.6 1204.5,1104.4 1205.5,1105.2 1206.5,1105.9 1207.5,1106.6 1208.5,1107.2 1209.5,1107.8 1210.6,1108.3 1211.6,1108.8 1212.6,1109.2 1213.6,1109.6 1214.6,1109.9 1215.6,1110.2 1216.6,1110.5 1217.7,1110.7 1218.7,1110.9 1219.7,1111.1 1220.7,1111.3 1221.7,1111.4 1222.7,1111.6 1223.7,1111.7 1224.7,1111.8 1225.8,1111.9 1226.8,1111.9 1227.8,1112.0 1228.8,1112.0 1229.8,1112.1 1230.8,1112.1 1231.8,1112.1 1232.9,1112.2 1233.9,1112.2 1234.9,1112.2 1235.9,1112.2 1236.9,1112.2 1237.9,1112.2 1238.9,1112.3 1239.9,1112.3 1241.0,1112.3 1242.0,1112.3 1243.0,1112.3 1244.0,1112.3 1245.0,1112.3 1246.0,1112.3 1247.0,1112.3 1248.1,1112.3 1249.1,1112.3 1250.1,1112.3 1251.1,1112.3 1252.1,1112.3 1253.1,1112.3 1254.1,1112.3 1255.1,1112.3 1256.2,1112.3 1257.2,1112.3 1258.2,1112.3 1259.2,1112.3 1260.2,1112.3 1261.2,1112.3 1262.2,1112.3 1263.3,1112.3 1264.3,1112.3 1265.3,1112.3 1266.3,1112.3 1267.3,1112.3 1268.3,1112.3 1269.3,1112.3 1270.3,1112.3 1271.4,1112.3 1272.4,1112.3 1273.4,1112.3 1274.4,1112.3 1275.4,1112.3 1276.4,1112.3 1277.4,1112.3 1278.5,1112.3 1279.5,1112.3 1280.5,1112.3 1281.5,1112.3 1282.5,1112.3 1283.5,1112.3 1284.5,1112.3 1285.5,1112.3 1286.6,1112.3 1287.6,1112.3 1288.6,1112.3 1289.6,1112.3 1290.6,1112.3 1291.6,1112.3 1292.6,1112.3 1293.7,1112.3 1294.7,1112.3 1295.7,1112.3 1296.7,1112.3 1297.7,1112.3 1298.7,1112.3 1299.7,1112.3 1300.7,1112.3 1301.8,1112.3 1302.8,1112.3 1303.8,1112.3 1304.8,1112.3 1305.8,1112.3 1306.8,1112.3 1307.8,1112.3 1308.9,1112.3 1309.9,1112.3 1310.9,1112.3 1311.9,1112.3 1312.9,1112.3 1313.9,1112.3 1314.9,1112.3 1315.9,1112.3 1317.0,1112.3 1318.0,1112.3 1319.0,1112.3 1320.0,1112.3 1321.0,1112.3 1322.0,1112.3 1323.0,1112.3 1324.1,1112.3 1325.1,1112.3 1326.1,1112.3 1327.1,1112.3 1328.1,1112.3 1329.1,1112.3 1330.1,1112.3 1331.1,1112.3 1332.2,1112.3 1333.2,1112.3 1334.2,1112.3 1335.2,1112.3 1336.2,1112.3 1337.2,1112.3 1338.2,1112.3 1339.3,1112.3 1340.3,1112.3 1341.3,1112.3 1342.3,1112.3 1343.3,1112.3 1344.3,1112.3 1345.3,1112.3 1346.3,1112.3 1347.4,1112.3 1348.4,1112.3 1349.4,1112.3 1350.4,1112.3 1351.4,1112.3 1352.4,1112.3 1353.4,1112.3 1354.5,1112.3 1355.5,1112.3 1356.5,1112.3 1357.5,1112.3 1358.5,1112.3 1359.5,1112.3 1360.5,1112.3 1361.5,1112.3 1362.6,1112.3 1363.6,1112.3 1364.6,1112.3 1365.6,1112.3 1366.6,1112.3 1367.6,1112.3 1368.6,1112.3 1369.7,1112.3 1370.7,1112.3 1371.7,1112.3 1372.7,1112.3 1373.7,1112.3 1374.7,1112.3 1375.7,1112.3 1376.7,1112.3 1377.8,1112.3 1378.8,1112.3 1379.8,1112.3 1380.8,1112.3 1381.8,1112.3 1382.8,1112.3 1383.8,1112.3 1384.9,1112.3 1385.9,1112.3 1386.9,1112.3 1387.9,1112.3 1388.9,1112.3 1389.9,1112.3 1390.9,1112.3 1391.9,1112.3 1393.0,1112.3 1394.0,1112.3 1395.0,1112.3 1396.0,1112.3 1397.0,1112.3 1398.0,1112.3 1399.0,1112.3 1400.1,1112.3 1401.1,1112.3 1402.1,1112.3 1403.1,1112.3 1404.1,1112.3 1405.1,1112.3 1406.1,1112.3 1407.1,1112.3 1408.2,1112.3 1409.2,1112.3 1410.2,1112.3 1411.2,1112.3 1412.2,1112.3 1413.2,1112.3 1414.2,1112.3 1415.3,1112.3 1416.3,1112.3 1417.3,1112.3 1418.3,1112.3 1419.3,1112.3 1420.3,1112.3 1421.3,1112.3 1422.3,1112.3 1423.4,1112.3 1424.4,1112.3 1425.4,1112.3 1426.4,1112.3" stroke="#1A66DD" stroke-width="3.3" stroke-dasharray="1.5 20" stroke-linecap="round"/>
<polyline points="818.4,1103.9 819.4,1103.9 820.4,1103.8 821.4,1103.8 822.5,1103.7 823.5,1103.6 824.5,1103.6 825.5,1103.5 826.5,1103.4 827.5,1103.4 828.5,1103.3 829.5,1103.2 830.6,1103.2 831.6,1103.1 832.6,1103.0 833.6,1103.0 834.6,1102.9 835.6,1102.8 836.6,1102.8 837.7,1102.7 838.7,1102.6 839.7,1102.6 840.7,1102.5 841.7,1102.4 842.7,1102.3 843.7,1102.3 844.7,1102.2 845.8,1102.1 846.8,1102.0 847.8,1101.9 848.8,1101.9 849.8,1101.8 850.8,1101.7 851.8,1101.6 852.9,1101.5 853.9,1101.4 854.9,1101.3 855.9,1101.3 856.9,1101.2 857.9,1101.1 858.9,1101.0 859.9,1100.9 861.0,1100.8 862.0,1100.7 863.0,1100.6 864.0,1100.5 865.0,1100.4 866.0,1100.3 867.0,1100.2 868.1,1100.1 869.1,1100.0 870.1,1099.9 871.1,1099.8 872.1,1099.7 873.1,1099.6 874.1,1099.5 875.1,1099.4 876.2,1099.3 877.2,1099.1 878.2,1099.0 879.2,1098.9 880.2,1098.8 881.2,1098.7 882.2,1098.6 883.3,1098.4 884.3,1098.3 885.3,1098.2 886.3,1098.1 887.3,1097.9 888.3,1097.8 889.3,1097.7 890.3,1097.5 891.4,1097.4 892.4,1097.3 893.4,1097.1 894.4,1097.0 895.4,1096.8 896.4,1096.7 897.4,1096.5 898.5,1096.4 899.5,1096.2 900.5,1096.1 901.5,1095.9 902.5,1095.8 903.5,1095.6 904.5,1095.4 905.5,1095.3 906.6,1095.1 907.6,1094.9 908.6,1094.7 909.6,1094.6 910.6,1094.4 911.6,1094.2 912.6,1094.0 913.7,1093.8 914.7,1093.6 915.7,1093.4 916.7,1093.2 917.7,1093.0 918.7,1092.8 919.7,1092.6 920.7,1092.4 921.8,1092.2 922.8,1092.0 923.8,1091.8 924.8,1091.5 925.8,1091.3 926.8,1091.1 927.8,1090.8 928.9,1090.6 929.9,1090.4 930.9,1090.1 931.9,1089.9 932.9,1089.6 933.9,1089.3 934.9,1089.1 935.9,1088.8 937.0,1088.5 938.0,1088.2 939.0,1087.9 940.0,1087.6 941.0,1087.3 942.0,1087.0 943.0,1086.7 944.1,1086.4 945.1,1086.1 946.1,1085.7 947.1,1085.4 948.1,1085.1 949.1,1084.7 950.1,1084.3 951.1,1084.0 952.2,1083.6 953.2,1083.2 954.2,1082.8 955.2,1082.4 956.2,1082.0 957.2,1081.6 958.2,1081.1 959.3,1080.7 960.3,1080.2 961.3,1079.8 962.3,1079.3 963.3,1078.8 964.3,1078.3 965.3,1077.8 966.3,1077.3 967.4,1076.8 968.4,1076.2 969.4,1075.6 970.4,1075.1 971.4,1074.5 972.4,1073.9 973.4,1073.2 974.5,1072.6 975.5,1072.0 976.5,1071.3 977.5,1070.6 978.5,1069.9 979.5,1069.2 980.5,1068.4 981.5,1067.6 982.6,1066.9 983.6,1066.0 984.6,1065.2 985.6,1064.4 986.6,1063.5 987.6,1062.6 988.6,1061.7 989.7,1060.7 990.7,1059.8 991.7,1058.8 992.7,1057.7 993.7,1056.7 994.7,1055.6 995.7,1054.5 996.7,1053.3 997.8,1052.2 998.8,1051.0 999.8,1049.7 1000.8,1048.5 1001.8,1047.2 1002.8,1045.8 1003.8,1044.5 1004.9,1043.1 1005.9,1041.6 1006.9,1040.1 1007.9,1038.6 1008.9,1037.1 1009.9,1035.5 1010.9,1033.8 1011.9,1032.2 1013.0,1030.4 1014.0,1028.7 1015.0,1026.9 1016.0,1025.0 1017.0,1023.1 1018.0,1021.2 1019.0,1019.2 1020.1,1017.2 1021.1,1015.1 1022.1,1013.0 1023.1,1010.8 1024.1,1008.6 1025.1,1006.3 1026.1,1004.0 1027.1,1001.6 1028.2,999.2 1029.2,996.7 1030.2,994.2 1031.2,991.6 1032.2,989.0 1033.2,986.3 1034.2,983.6 1035.3,980.8 1036.3,977.9 1037.3,975.0 1038.3,972.1 1039.3,969.1 1040.3,966.1 1041.3,963.0 1042.3,959.8 1043.4,956.6 1044.4,953.4 1045.4,950.1 1046.4,946.7 1047.4,943.4 1048.4,939.9 1049.4,936.5 1050.5,932.9 1051.5,929.4 1052.5,925.8 1053.5,922.2 1054.5,918.5 1055.5,914.8 1056.5,911.1 1057.5,907.3 1058.6,903.6 1059.6,899.8 1060.6,896.0 1061.6,892.2 1062.6,888.3 1063.6,884.5 1064.6,880.7 1065.7,876.9 1066.7,873.1 1067.7,869.3 1068.7,865.6 1069.7,861.9 1070.7,858.2 1071.7,854.6 1072.7,851.0 1073.8,847.5 1074.8,844.0 1075.8,840.7 1076.8,837.4 1077.8,834.2 1078.8,831.1 1079.8,828.1 1080.9,825.2 1081.9,822.5 1082.9,819.9 1083.9,817.4 1084.9,815.1 1085.9,812.9 1086.9,810.9 1087.9,809.0 1089.0,807.4 1090.0,805.9 1091.0,804.6 1092.0,803.5 1093.0,802.6 1094.0,801.9 1095.0,801.4 1096.1,801.1 1097.1,800.9 1098.1,801.1 1099.1,801.4 1100.1,801.9 1101.1,802.6 1102.1,803.5 1103.1,804.6 1104.2,805.9 1105.2,807.4 1106.2,809.0 1107.2,810.9 1108.2,812.9 1109.2,815.1 1110.2,817.4 1111.3,819.9 1112.3,822.5 1113.3,825.2 1114.3,828.1 1115.3,831.1 1116.3,834.2 1117.3,837.4 1118.3,840.7 1119.4,844.0 1120.4,847.5 1121.4,851.0 1122.4,854.6 1123.4,858.2 1124.4,861.9 1125.4,865.6 1126.5,869.3 1127.5,873.1 1128.5,876.9 1129.5,880.7 1130.5,884.5 1131.5,888.3 1132.5,892.2 1133.5,896.0 1134.6,899.8 1135.6,903.6 1136.6,907.3 1137.6,911.1 1138.6,914.8 1139.6,918.5 1140.6,922.2 1141.7,925.8 1142.7,929.4 1143.7,932.9 1144.7,936.5 1145.7,939.9 1146.7,943.4 1147.7,946.7 1148.7,950.1 1149.8,953.4 1150.8,956.6 1151.8,959.8 1152.8,963.0 1153.8,966.1 1154.8,969.1 1155.8,972.1 1156.9,975.0 1157.9,977.9 1158.9,980.8 1159.9,983.6 1160.9,986.3 1161.9,989.0 1162.9,991.6 1163.9,994.2 1165.0,996.7 1166.0,999.2 1167.0,1001.6 1168.0,1004.0 1169.0,1006.3 1170.0,1008.6 1171.0,1010.8 1172.1,1013.0 1173.1,1015.1 1174.1,1017.2 1175.1,1019.2 1176.1,1021.2 1177.1,1023.1 1178.1,1025.0 1179.1,1026.9 1180.2,1028.7 1181.2,1030.4 1182.2,1032.2 1183.2,1033.8 1184.2,1035.5 1185.2,1037.1 1186.2,1038.6 1187.3,1040.1 1188.3,1041.6 1189.3,1043.1 1190.3,1044.5 1191.3,1045.8 1192.3,1047.2 1193.3,1048.5 1194.3,1049.7 1195.4,1051.0 1196.4,1052.2 1197.4,1053.3 1198.4,1054.5 1199.4,1055.6 1200.4,1056.7 1201.4,1057.7 1202.5,1058.8 1203.5,1059.8 1204.5,1060.7 1205.5,1061.7 1206.5,1062.6 1207.5,1063.5 1208.5,1064.4 1209.5,1065.2 1210.6,1066.0 1211.6,1066.9 1212.6,1067.6 1213.6,1068.4 1214.6,1069.2 1215.6,1069.9 1216.6,1070.6 1217.7,1071.3 1218.7,1072.0 1219.7,1072.6 1220.7,1073.2 1221.7,1073.9 1222.7,1074.5 1223.7,1075.1 1224.7,1075.6 1225.8,1076.2 1226.8,1076.8 1227.8,1077.3 1228.8,1077.8 1229.8,1078.3 1230.8,1078.8 1231.8,1079.3 1232.9,1079.8 1233.9,1080.2 1234.9,1080.7 1235.9,1081.1 1236.9,1081.6 1237.9,1082.0 1238.9,1082.4 1239.9,1082.8 1241.0,1083.2 1242.0,1083.6 1243.0,1084.0 1244.0,1084.3 1245.0,1084.7 1246.0,1085.1 1247.0,1085.4 1248.1,1085.7 1249.1,1086.1 1250.1,1086.4 1251.1,1086.7 1252.1,1087.0 1253.1,1087.3 1254.1,1087.6 1255.1,1087.9 1256.2,1088.2 1257.2,1088.5 1258.2,1088.8 1259.2,1089.1 1260.2,1089.3 1261.2,1089.6 1262.2,1089.9 1263.3,1090.1 1264.3,1090.4 1265.3,1090.6 1266.3,1090.8 1267.3,1091.1 1268.3,1091.3 1269.3,1091.5 1270.3,1091.8 1271.4,1092.0 1272.4,1092.2 1273.4,1092.4 1274.4,1092.6 1275.4,1092.8 1276.4,1093.0 1277.4,1093.2 1278.5,1093.4 1279.5,1093.6 1280.5,1093.8 1281.5,1094.0 1282.5,1094.2 1283.5,1094.4 1284.5,1094.6 1285.5,1094.7 1286.6,1094.9 1287.6,1095.1 1288.6,1095.3 1289.6,1095.4 1290.6,1095.6 1291.6,1095.8 1292.6,1095.9 1293.7,1096.1 1294.7,1096.2 1295.7,1096.4 1296.7,1096.5 1297.7,1096.7 1298.7,1096.8 1299.7,1097.0 1300.7,1097.1 1301.8,1097.3 1302.8,1097.4 1303.8,1097.5 1304.8,1097.7 1305.8,1097.8 1306.8,1097.9 1307.8,1098.1 1308.9,1098.2 1309.9,1098.3 1310.9,1098.4 1311.9,1098.6 1312.9,1098.7 1313.9,1098.8 1314.9,1098.9 1315.9,1099.0 1317.0,1099.1 1318.0,1099.3 1319.0,1099.4 1320.0,1099.5 1321.0,1099.6 1322.0,1099.7 1323.0,1099.8 1324.1,1099.9 1325.1,1100.0 1326.1,1100.1 1327.1,1100.2 1328.1,1100.3 1329.1,1100.4 1330.1,1100.5 1331.1,1100.6 1332.2,1100.7 1333.2,1100.8 1334.2,1100.9 1335.2,1101.0 1336.2,1101.1 1337.2,1101.2 1338.2,1101.3 1339.3,1101.3 1340.3,1101.4 1341.3,1101.5 1342.3,1101.6 1343.3,1101.7 1344.3,1101.8 1345.3,1101.9 1346.3,1101.9 1347.4,1102.0 1348.4,1102.1 1349.4,1102.2 1350.4,1102.3 1351.4,1102.3 1352.4,1102.4 1353.4,1102.5 1354.5,1102.6 1355.5,1102.6 1356.5,1102.7 1357.5,1102.8 1358.5,1102.8 1359.5,1102.9 1360.5,1103.0 1361.5,1103.0 1362.6,1103.1 1363.6,1103.2 1364.6,1103.2 1365.6,1103.3 1366.6,1103.4 1367.6,1103.4 1368.6,1103.5 1369.7,1103.6 1370.7,1103.6 1371.7,1103.7 1372.7,1103.8 1373.7,1103.8 1374.7,1103.9 1375.7,1103.9 1376.7,1104.0 1377.8,1104.0 1378.8,1104.1 1379.8,1104.2 1380.8,1104.2 1381.8,1104.3 1382.8,1104.3 1383.8,1104.4 1384.9,1104.4 1385.9,1104.5 1386.9,1104.5 1387.9,1104.6 1388.9,1104.6 1389.9,1104.7 1390.9,1104.7 1391.9,1104.8 1393.0,1104.8 1394.0,1104.9 1395.0,1104.9 1396.0,1105.0 1397.0,1105.0 1398.0,1105.1 1399.0,1105.1 1400.1,1105.2 1401.1,1105.2 1402.1,1105.3 1403.1,1105.3 1404.1,1105.4 1405.1,1105.4 1406.1,1105.4 1407.1,1105.5 1408.2,1105.5 1409.2,1105.6 1410.2,1105.6 1411.2,1105.7 1412.2,1105.7 1413.2,1105.7 1414.2,1105.8 1415.3,1105.8 1416.3,1105.9 1417.3,1105.9 1418.3,1105.9 1419.3,1106.0 1420.3,1106.0 1421.3,1106.1 1422.3,1106.1 1423.4,1106.1 1424.4,1106.2 1425.4,1106.2 1426.4,1106.2" stroke="#EE3B3B" stroke-width="3.3" stroke-dasharray="13.5 22" stroke-linecap="round"/>
<polyline points="818.4,1112.1 819.4,1112.1 820.4,1112.1 821.4,1112.1 822.5,1112.1 823.5,1112.1 824.5,1112.1 825.5,1112.1 826.5,1112.1 827.5,1112.1 828.5,1112.1 829.5,1112.1 830.6,1112.1 831.6,1112.1 832.6,1112.1 833.6,1112.1 834.6,1112.1 835.6,1112.1 836.6,1112.1 837.7,1112.1 838.7,1112.1 839.7,1112.1 840.7,1112.1 841.7,1112.1 842.7,1112.1 843.7,1112.1 844.7,1112.0 845.8,1112.0 846.8,1112.0 847.8,1112.0 848.8,1112.0 849.8,1112.0 850.8,1112.0 851.8,1112.0 852.9,1112.0 853.9,1112.0 854.9,1112.0 855.9,1112.0 856.9,1112.0 857.9,1112.0 858.9,1112.0 859.9,1112.0 861.0,1112.0 862.0,1112.0 863.0,1112.0 864.0,1112.0 865.0,1112.0 866.0,1112.0 867.0,1112.0 868.1,1112.0 869.1,1112.0 870.1,1112.0 871.1,1112.0 872.1,1112.0 873.1,1112.0 874.1,1112.0 875.1,1112.0 876.2,1112.0 877.2,1112.0 878.2,1112.0 879.2,1112.0 880.2,1112.0 881.2,1112.0 882.2,1112.0 883.3,1112.0 884.3,1112.0 885.3,1112.0 886.3,1112.0 887.3,1112.0 888.3,1112.0 889.3,1112.0 890.3,1112.0 891.4,1112.0 892.4,1112.0 893.4,1112.0 894.4,1112.0 895.4,1112.0 896.4,1112.0 897.4,1112.0 898.5,1112.0 899.5,1112.0 900.5,1112.0 901.5,1112.0 902.5,1112.0 903.5,1111.9 904.5,1111.9 905.5,1111.9 906.6,1111.9 907.6,1111.9 908.6,1111.9 909.6,1111.9 910.6,1111.9 911.6,1111.9 912.6,1111.9 913.7,1111.9 914.7,1111.9 915.7,1111.9 916.7,1111.9 917.7,1111.9 918.7,1111.9 919.7,1111.9 920.7,1111.9 921.8,1111.9 922.8,1111.9 923.8,1111.9 924.8,1111.9 925.8,1111.9 926.8,1111.9 927.8,1111.9 928.9,1111.9 929.9,1111.9 930.9,1111.9 931.9,1111.9 932.9,1111.9 933.9,1111.9 934.9,1111.9 935.9,1111.9 937.0,1111.9 938.0,1111.9 939.0,1111.9 940.0,1111.9 941.0,1111.8 942.0,1111.8 943.0,1111.8 944.1,1111.8 945.1,1111.8 946.1,1111.8 947.1,1111.8 948.1,1111.8 949.1,1111.8 950.1,1111.8 951.1,1111.8 952.2,1111.8 953.2,1111.8 954.2,1111.8 955.2,1111.8 956.2,1111.8 957.2,1111.8 958.2,1111.8 959.3,1111.8 960.3,1111.8 961.3,1111.8 962.3,1111.8 963.3,1111.8 964.3,1111.8 965.3,1111.8 966.3,1111.8 967.4,1111.7 968.4,1111.7 969.4,1111.7 970.4,1111.7 971.4,1111.7 972.4,1111.7 973.4,1111.7 974.5,1111.7 975.5,1111.7 976.5,1111.7 977.5,1111.7 978.5,1111.7 979.5,1111.7 980.5,1111.7 981.5,1111.7 982.6,1111.7 983.6,1111.7 984.6,1111.7 985.6,1111.7 986.6,1111.7 987.6,1111.6 988.6,1111.6 989.7,1111.6 990.7,1111.6 991.7,1111.6 992.7,1111.6 993.7,1111.6 994.7,1111.6 995.7,1111.6 996.7,1111.6 997.8,1111.6 998.8,1111.6 999.8,1111.6 1000.8,1111.6 1001.8,1111.6 1002.8,1111.6 1003.8,1111.5 1004.9,1111.5 1005.9,1111.5 1006.9,1111.5 1007.9,1111.5 1008.9,1111.5 1009.9,1111.5 1010.9,1111.5 1011.9,1111.5 1013.0,1111.5 1014.0,1111.5 1015.0,1111.5 1016.0,1111.5 1017.0,1111.4 1018.0,1111.4 1019.0,1111.4 1020.1,1111.4 1021.1,1111.4 1022.1,1111.4 1023.1,1111.4 1024.1,1111.4 1025.1,1111.4 1026.1,1111.4 1027.1,1111.3 1028.2,1111.3 1029.2,1111.3 1030.2,1111.3 1031.2,1111.3 1032.2,1111.3 1033.2,1111.3 1034.2,1111.3 1035.3,1111.3 1036.3,1111.3 1037.3,1111.2 1038.3,1111.2 1039.3,1111.2 1040.3,1111.2 1041.3,1111.2 1042.3,1111.2 1043.4,1111.2 1044.4,1111.2 1045.4,1111.1 1046.4,1111.1 1047.4,1111.1 1048.4,1111.1 1049.4,1111.1 1050.5,1111.1 1051.5,1111.0 1052.5,1111.0 1053.5,1111.0 1054.5,1111.0 1055.5,1111.0 1056.5,1111.0 1057.5,1111.0 1058.6,1110.9 1059.6,1110.9 1060.6,1110.9 1061.6,1110.9 1062.6,1110.9 1063.6,1110.8 1064.6,1110.8 1065.7,1110.8 1066.7,1110.8 1067.7,1110.8 1068.7,1110.7 1069.7,1110.7 1070.7,1110.7 1071.7,1110.7 1072.7,1110.7 1073.8,1110.6 1074.8,1110.6 1075.8,1110.6 1076.8,1110.6 1077.8,1110.5 1078.8,1110.5 1079.8,1110.5 1080.9,1110.5 1081.9,1110.4 1082.9,1110.4 1083.9,1110.4 1084.9,1110.3 1085.9,1110.3 1086.9,1110.3 1087.9,1110.2 1089.0,1110.2 1090.0,1110.2 1091.0,1110.1 1092.0,1110.1 1093.0,1110.1 1094.0,1110.0 1095.0,1110.0 1096.1,1110.0 1097.1,1109.9 1098.1,1109.9 1099.1,1109.8 1100.1,1109.8 1101.1,1109.8 1102.1,1109.7 1103.1,1109.7 1104.2,1109.6 1105.2,1109.6 1106.2,1109.5 1107.2,1109.5 1108.2,1109.4 1109.2,1109.4 1110.2,1109.3 1111.3,1109.2 1112.3,1109.2 1113.3,1109.1 1114.3,1109.1 1115.3,1109.0 1116.3,1108.9 1117.3,1108.9 1118.3,1108.8 1119.4,1108.7 1120.4,1108.6 1121.4,1108.6 1122.4,1108.5 1123.4,1108.4 1124.4,1108.3 1125.4,1108.2 1126.5,1108.1 1127.5,1108.0 1128.5,1108.0 1129.5,1107.9 1130.5,1107.7 1131.5,1107.6 1132.5,1107.5 1133.5,1107.4 1134.6,1107.3 1135.6,1107.2 1136.6,1107.0 1137.6,1106.9 1138.6,1106.8 1139.6,1106.6 1140.6,1106.5 1141.7,1106.3 1142.7,1106.2 1143.7,1106.0 1144.7,1105.8 1145.7,1105.6 1146.7,1105.5 1147.7,1105.3 1148.7,1105.0 1149.8,1104.8 1150.8,1104.6 1151.8,1104.4 1152.8,1104.1 1153.8,1103.9 1154.8,1103.6 1155.8,1103.3 1156.9,1103.0 1157.9,1102.7 1158.9,1102.4 1159.9,1102.0 1160.9,1101.7 1161.9,1101.3 1162.9,1100.9 1163.9,1100.5 1165.0,1100.0 1166.0,1099.6 1167.0,1099.0 1168.0,1098.5 1169.0,1097.9 1170.0,1097.3 1171.0,1096.7 1172.1,1095.9 1173.1,1095.2 1174.1,1094.4 1175.1,1093.5 1176.1,1092.5 1177.1,1091.4 1178.1,1090.3 1179.1,1089.0 1180.2,1087.6 1181.2,1086.0 1182.2,1084.4 1183.2,1082.5 1184.2,1080.4 1185.2,1078.2 1186.2,1075.6 1187.3,1072.9 1188.3,1069.8 1189.3,1066.5 1190.3,1062.8 1191.3,1058.8 1192.3,1054.5 1193.3,1049.7 1194.3,1044.5 1195.4,1038.9 1196.4,1032.9 1197.4,1026.4 1198.4,1019.6 1199.4,1012.2 1200.4,1004.5 1201.4,996.4 1202.5,988.0 1203.5,979.2 1204.5,970.3 1205.5,961.3 1206.5,952.3 1207.5,943.6 1208.5,935.2 1209.5,927.3 1210.6,920.3 1211.6,914.4 1212.6,909.7 1213.6,906.4 1214.6,904.8 1215.6,904.8 1216.6,906.4 1217.7,909.7 1218.7,914.4 1219.7,920.3 1220.7,927.3 1221.7,935.2 1222.7,943.6 1223.7,952.3 1224.7,961.3 1225.8,970.3 1226.8,979.2 1227.8,988.0 1228.8,996.4 1229.8,1004.5 1230.8,1012.2 1231.8,1019.6 1232.9,1026.4 1233.9,1032.9 1234.9,1038.9 1235.9,1044.5 1236.9,1049.7 1237.9,1054.5 1238.9,1058.8 1239.9,1062.8 1241.0,1066.5 1242.0,1069.8 1243.0,1072.9 1244.0,1075.6 1245.0,1078.2 1246.0,1080.4 1247.0,1082.5 1248.1,1084.4 1249.1,1086.0 1250.1,1087.6 1251.1,1089.0 1252.1,1090.3 1253.1,1091.4 1254.1,1092.5 1255.1,1093.5 1256.2,1094.4 1257.2,1095.2 1258.2,1095.9 1259.2,1096.7 1260.2,1097.3 1261.2,1097.9 1262.2,1098.5 1263.3,1099.0 1264.3,1099.6 1265.3,1100.0 1266.3,1100.5 1267.3,1100.9 1268.3,1101.3 1269.3,1101.7 1270.3,1102.0 1271.4,1102.4 1272.4,1102.7 1273.4,1103.0 1274.4,1103.3 1275.4,1103.6 1276.4,1103.9 1277.4,1104.1 1278.5,1104.4 1279.5,1104.6 1280.5,1104.8 1281.5,1105.0 1282.5,1105.3 1283.5,1105.5 1284.5,1105.6 1285.5,1105.8 1286.6,1106.0 1287.6,1106.2 1288.6,1106.3 1289.6,1106.5 1290.6,1106.6 1291.6,1106.8 1292.6,1106.9 1293.7,1107.0 1294.7,1107.2 1295.7,1107.3 1296.7,1107.4 1297.7,1107.5 1298.7,1107.6 1299.7,1107.7 1300.7,1107.9 1301.8,1108.0 1302.8,1108.0 1303.8,1108.1 1304.8,1108.2 1305.8,1108.3 1306.8,1108.4 1307.8,1108.5 1308.9,1108.6 1309.9,1108.6 1310.9,1108.7 1311.9,1108.8 1312.9,1108.9 1313.9,1108.9 1314.9,1109.0 1315.9,1109.1 1317.0,1109.1 1318.0,1109.2 1319.0,1109.2 1320.0,1109.3 1321.0,1109.4 1322.0,1109.4 1323.0,1109.5 1324.1,1109.5 1325.1,1109.6 1326.1,1109.6 1327.1,1109.7 1328.1,1109.7 1329.1,1109.8 1330.1,1109.8 1331.1,1109.8 1332.2,1109.9 1333.2,1109.9 1334.2,1110.0 1335.2,1110.0 1336.2,1110.0 1337.2,1110.1 1338.2,1110.1 1339.3,1110.1 1340.3,1110.2 1341.3,1110.2 1342.3,1110.2 1343.3,1110.3 1344.3,1110.3 1345.3,1110.3 1346.3,1110.4 1347.4,1110.4 1348.4,1110.4 1349.4,1110.5 1350.4,1110.5 1351.4,1110.5 1352.4,1110.5 1353.4,1110.6 1354.5,1110.6 1355.5,1110.6 1356.5,1110.6 1357.5,1110.7 1358.5,1110.7 1359.5,1110.7 1360.5,1110.7 1361.5,1110.7 1362.6,1110.8 1363.6,1110.8 1364.6,1110.8 1365.6,1110.8 1366.6,1110.8 1367.6,1110.9 1368.6,1110.9 1369.7,1110.9 1370.7,1110.9 1371.7,1110.9 1372.7,1111.0 1373.7,1111.0 1374.7,1111.0 1375.7,1111.0 1376.7,1111.0 1377.8,1111.0 1378.8,1111.0 1379.8,1111.1 1380.8,1111.1 1381.8,1111.1 1382.8,1111.1 1383.8,1111.1 1384.9,1111.1 1385.9,1111.2 1386.9,1111.2 1387.9,1111.2 1388.9,1111.2 1389.9,1111.2 1390.9,1111.2 1391.9,1111.2 1393.0,1111.2 1394.0,1111.3 1395.0,1111.3 1396.0,1111.3 1397.0,1111.3 1398.0,1111.3 1399.0,1111.3 1400.1,1111.3 1401.1,1111.3 1402.1,1111.3 1403.1,1111.3 1404.1,1111.4 1405.1,1111.4 1406.1,1111.4 1407.1,1111.4 1408.2,1111.4 1409.2,1111.4 1410.2,1111.4 1411.2,1111.4 1412.2,1111.4 1413.2,1111.4 1414.2,1111.5 1415.3,1111.5 1416.3,1111.5 1417.3,1111.5 1418.3,1111.5 1419.3,1111.5 1420.3,1111.5 1421.3,1111.5 1422.3,1111.5 1423.4,1111.5 1424.4,1111.5 1425.4,1111.5 1426.4,1111.5" stroke="#2EA85E" stroke-width="3.3" stroke-dasharray="16.5 13.5 1 13.5" stroke-linecap="round"/>
<polyline points="818.4,1112.1 819.4,1112.1 820.4,1112.1 821.4,1112.1 822.5,1112.1 823.5,1112.1 824.5,1112.1 825.5,1112.1 826.5,1112.1 827.5,1112.1 828.5,1112.1 829.5,1112.1 830.6,1112.1 831.6,1112.1 832.6,1112.1 833.6,1112.1 834.6,1112.1 835.6,1112.1 836.6,1112.1 837.7,1112.1 838.7,1112.1 839.7,1112.1 840.7,1112.1 841.7,1112.1 842.7,1112.1 843.7,1112.1 844.7,1112.1 845.8,1112.1 846.8,1112.1 847.8,1112.1 848.8,1112.1 849.8,1112.1 850.8,1112.1 851.8,1112.1 852.9,1112.1 853.9,1112.1 854.9,1112.1 855.9,1112.1 856.9,1112.1 857.9,1112.1 858.9,1112.1 859.9,1112.1 861.0,1112.1 862.0,1112.1 863.0,1112.1 864.0,1112.1 865.0,1112.1 866.0,1112.1 867.0,1112.1 868.1,1112.1 869.1,1112.1 870.1,1112.1 871.1,1112.1 872.1,1112.1 873.1,1112.1 874.1,1112.1 875.1,1112.1 876.2,1112.0 877.2,1112.0 878.2,1112.0 879.2,1112.0 880.2,1112.0 881.2,1112.0 882.2,1112.0 883.3,1112.0 884.3,1112.0 885.3,1112.0 886.3,1112.0 887.3,1112.0 888.3,1112.0 889.3,1112.0 890.3,1112.0 891.4,1112.0 892.4,1112.0 893.4,1112.0 894.4,1112.0 895.4,1112.0 896.4,1112.0 897.4,1112.0 898.5,1112.0 899.5,1112.0 900.5,1112.0 901.5,1112.0 902.5,1112.0 903.5,1112.0 904.5,1112.0 905.5,1112.0 906.6,1112.0 907.6,1112.0 908.6,1112.0 909.6,1112.0 910.6,1112.0 911.6,1112.0 912.6,1112.0 913.7,1112.0 914.7,1112.0 915.7,1112.0 916.7,1112.0 917.7,1112.0 918.7,1112.0 919.7,1112.0 920.7,1112.0 921.8,1112.0 922.8,1112.0 923.8,1112.0 924.8,1112.0 925.8,1112.0 926.8,1112.0 927.8,1112.0 928.9,1112.0 929.9,1112.0 930.9,1112.0 931.9,1111.9 932.9,1111.9 933.9,1111.9 934.9,1111.9 935.9,1111.9 937.0,1111.9 938.0,1111.9 939.0,1111.9 940.0,1111.9 941.0,1111.9 942.0,1111.9 943.0,1111.9 944.1,1111.9 945.1,1111.9 946.1,1111.9 947.1,1111.9 948.1,1111.9 949.1,1111.9 950.1,1111.9 951.1,1111.9 952.2,1111.9 953.2,1111.9 954.2,1111.9 955.2,1111.9 956.2,1111.9 957.2,1111.9 958.2,1111.9 959.3,1111.9 960.3,1111.9 961.3,1111.9 962.3,1111.9 963.3,1111.9 964.3,1111.9 965.3,1111.9 966.3,1111.9 967.4,1111.8 968.4,1111.8 969.4,1111.8 970.4,1111.8 971.4,1111.8 972.4,1111.8 973.4,1111.8 974.5,1111.8 975.5,1111.8 976.5,1111.8 977.5,1111.8 978.5,1111.8 979.5,1111.8 980.5,1111.8 981.5,1111.8 982.6,1111.8 983.6,1111.8 984.6,1111.8 985.6,1111.8 986.6,1111.8 987.6,1111.8 988.6,1111.8 989.7,1111.8 990.7,1111.8 991.7,1111.8 992.7,1111.7 993.7,1111.7 994.7,1111.7 995.7,1111.7 996.7,1111.7 997.8,1111.7 998.8,1111.7 999.8,1111.7 1000.8,1111.7 1001.8,1111.7 1002.8,1111.7 1003.8,1111.7 1004.9,1111.7 1005.9,1111.7 1006.9,1111.7 1007.9,1111.7 1008.9,1111.7 1009.9,1111.7 1010.9,1111.7 1011.9,1111.6 1013.0,1111.6 1014.0,1111.6 1015.0,1111.6 1016.0,1111.6 1017.0,1111.6 1018.0,1111.6 1019.0,1111.6 1020.1,1111.6 1021.1,1111.6 1022.1,1111.6 1023.1,1111.6 1024.1,1111.6 1025.1,1111.6 1026.1,1111.6 1027.1,1111.5 1028.2,1111.5 1029.2,1111.5 1030.2,1111.5 1031.2,1111.5 1032.2,1111.5 1033.2,1111.5 1034.2,1111.5 1035.3,1111.5 1036.3,1111.5 1037.3,1111.5 1038.3,1111.5 1039.3,1111.4 1040.3,1111.4 1041.3,1111.4 1042.3,1111.4 1043.4,1111.4 1044.4,1111.4 1045.4,1111.4 1046.4,1111.4 1047.4,1111.4 1048.4,1111.4 1049.4,1111.3 1050.5,1111.3 1051.5,1111.3 1052.5,1111.3 1053.5,1111.3 1054.5,1111.3 1055.5,1111.3 1056.5,1111.3 1057.5,1111.3 1058.6,1111.2 1059.6,1111.2 1060.6,1111.2 1061.6,1111.2 1062.6,1111.2 1063.6,1111.2 1064.6,1111.2 1065.7,1111.2 1066.7,1111.1 1067.7,1111.1 1068.7,1111.1 1069.7,1111.1 1070.7,1111.1 1071.7,1111.1 1072.7,1111.0 1073.8,1111.0 1074.8,1111.0 1075.8,1111.0 1076.8,1111.0 1077.8,1111.0 1078.8,1110.9 1079.8,1110.9 1080.9,1110.9 1081.9,1110.9 1082.9,1110.9 1083.9,1110.8 1084.9,1110.8 1085.9,1110.8 1086.9,1110.8 1087.9,1110.8 1089.0,1110.7 1090.0,1110.7 1091.0,1110.7 1092.0,1110.7 1093.0,1110.6 1094.0,1110.6 1095.0,1110.6 1096.1,1110.6 1097.1,1110.5 1098.1,1110.5 1099.1,1110.5 1100.1,1110.5 1101.1,1110.4 1102.1,1110.4 1103.1,1110.4 1104.2,1110.3 1105.2,1110.3 1106.2,1110.3 1107.2,1110.2 1108.2,1110.2 1109.2,1110.2 1110.2,1110.1 1111.3,1110.1 1112.3,1110.1 1113.3,1110.0 1114.3,1110.0 1115.3,1109.9 1116.3,1109.9 1117.3,1109.8 1118.3,1109.8 1119.4,1109.8 1120.4,1109.7 1121.4,1109.7 1122.4,1109.6 1123.4,1109.6 1124.4,1109.5 1125.4,1109.5 1126.5,1109.4 1127.5,1109.3 1128.5,1109.3 1129.5,1109.2 1130.5,1109.2 1131.5,1109.1 1132.5,1109.0 1133.5,1109.0 1134.6,1108.9 1135.6,1108.8 1136.6,1108.7 1137.6,1108.7 1138.6,1108.6 1139.6,1108.5 1140.6,1108.4 1141.7,1108.3 1142.7,1108.2 1143.7,1108.1 1144.7,1108.0 1145.7,1107.9 1146.7,1107.8 1147.7,1107.7 1148.7,1107.6 1149.8,1107.5 1150.8,1107.3 1151.8,1107.2 1152.8,1107.1 1153.8,1106.9 1154.8,1106.8 1155.8,1106.6 1156.9,1106.5 1157.9,1106.3 1158.9,1106.1 1159.9,1106.0 1160.9,1105.8 1161.9,1105.6 1162.9,1105.4 1163.9,1105.2 1165.0,1104.9 1166.0,1104.7 1167.0,1104.5 1168.0,1104.2 1169.0,1103.9 1170.0,1103.7 1171.0,1103.4 1172.1,1103.1 1173.1,1102.7 1174.1,1102.4 1175.1,1102.0 1176.1,1101.6 1177.1,1101.2 1178.1,1100.8 1179.1,1100.3 1180.2,1099.9 1181.2,1099.4 1182.2,1098.8 1183.2,1098.2 1184.2,1097.6 1185.2,1097.0 1186.2,1096.3 1187.3,1095.5 1188.3,1094.7 1189.3,1093.8 1190.3,1092.9 1191.3,1091.9 1192.3,1090.8 1193.3,1089.6 1194.3,1088.2 1195.4,1086.8 1196.4,1085.1 1197.4,1083.3 1198.4,1081.3 1199.4,1079.1 1200.4,1076.5 1201.4,1073.7 1202.5,1070.4 1203.5,1066.8 1204.5,1062.6 1205.5,1058.0 1206.5,1052.7 1207.5,1046.8 1208.5,1040.1 1209.5,1032.7 1210.6,1024.4 1211.6,1015.3 1212.6,1005.2 1213.6,994.1 1214.6,982.1 1215.6,969.2 1216.6,955.4 1217.7,940.7 1218.7,925.4 1219.7,909.7 1220.7,893.8 1221.7,878.1 1222.7,863.2 1223.7,849.5 1224.7,837.7 1225.8,828.4 1226.8,822.2 1227.8,819.4 1228.8,820.4 1229.8,824.9 1230.8,832.7 1231.8,843.3 1232.9,856.1 1233.9,870.5 1234.9,885.9 1235.9,901.8 1236.9,917.6 1237.9,933.1 1238.9,948.1 1239.9,962.4 1241.0,975.8 1242.0,988.3 1243.0,999.8 1244.0,1010.3 1245.0,1020.0 1246.0,1028.7 1247.0,1036.5 1248.1,1043.6 1249.1,1049.8 1250.1,1055.4 1251.1,1060.4 1252.1,1064.8 1253.1,1068.7 1254.1,1072.1 1255.1,1075.1 1256.2,1077.8 1257.2,1080.2 1258.2,1082.4 1259.2,1084.3 1260.2,1086.0 1261.2,1087.5 1262.2,1088.9 1263.3,1090.2 1264.3,1091.3 1265.3,1092.4 1266.3,1093.4 1267.3,1094.3 1268.3,1095.1 1269.3,1095.9 1270.3,1096.6 1271.4,1097.3 1272.4,1097.9 1273.4,1098.5 1274.4,1099.1 1275.4,1099.6 1276.4,1100.1 1277.4,1100.6 1278.5,1101.0 1279.5,1101.4 1280.5,1101.8 1281.5,1102.2 1282.5,1102.6 1283.5,1102.9 1284.5,1103.2 1285.5,1103.5 1286.6,1103.8 1287.6,1104.1 1288.6,1104.3 1289.6,1104.6 1290.6,1104.8 1291.6,1105.1 1292.6,1105.3 1293.7,1105.5 1294.7,1105.7 1295.7,1105.9 1296.7,1106.1 1297.7,1106.2 1298.7,1106.4 1299.7,1106.6 1300.7,1106.7 1301.8,1106.9 1302.8,1107.0 1303.8,1107.1 1304.8,1107.3 1305.8,1107.4 1306.8,1107.5 1307.8,1107.6 1308.9,1107.8 1309.9,1107.9 1310.9,1108.0 1311.9,1108.1 1312.9,1108.2 1313.9,1108.3 1314.9,1108.4 1315.9,1108.4 1317.0,1108.5 1318.0,1108.6 1319.0,1108.7 1320.0,1108.8 1321.0,1108.8 1322.0,1108.9 1323.0,1109.0 1324.1,1109.1 1325.1,1109.1 1326.1,1109.2 1327.1,1109.2 1328.1,1109.3 1329.1,1109.4 1330.1,1109.4 1331.1,1109.5 1332.2,1109.5 1333.2,1109.6 1334.2,1109.6 1335.2,1109.7 1336.2,1109.7 1337.2,1109.8 1338.2,1109.8 1339.3,1109.9 1340.3,1109.9 1341.3,1110.0 1342.3,1110.0 1343.3,1110.0 1344.3,1110.1 1345.3,1110.1 1346.3,1110.1 1347.4,1110.2 1348.4,1110.2 1349.4,1110.3 1350.4,1110.3 1351.4,1110.3 1352.4,1110.4 1353.4,1110.4 1354.5,1110.4 1355.5,1110.4 1356.5,1110.5 1357.5,1110.5 1358.5,1110.5 1359.5,1110.6 1360.5,1110.6 1361.5,1110.6 1362.6,1110.6 1363.6,1110.7 1364.6,1110.7 1365.6,1110.7 1366.6,1110.7 1367.6,1110.7 1368.6,1110.8 1369.7,1110.8 1370.7,1110.8 1371.7,1110.8 1372.7,1110.9 1373.7,1110.9 1374.7,1110.9 1375.7,1110.9 1376.7,1110.9 1377.8,1110.9 1378.8,1111.0 1379.8,1111.0 1380.8,1111.0 1381.8,1111.0 1382.8,1111.0 1383.8,1111.1 1384.9,1111.1 1385.9,1111.1 1386.9,1111.1 1387.9,1111.1 1388.9,1111.1 1389.9,1111.1 1390.9,1111.2 1391.9,1111.2 1393.0,1111.2 1394.0,1111.2 1395.0,1111.2 1396.0,1111.2 1397.0,1111.2 1398.0,1111.2 1399.0,1111.3 1400.1,1111.3 1401.1,1111.3 1402.1,1111.3 1403.1,1111.3 1404.1,1111.3 1405.1,1111.3 1406.1,1111.3 1407.1,1111.4 1408.2,1111.4 1409.2,1111.4 1410.2,1111.4 1411.2,1111.4 1412.2,1111.4 1413.2,1111.4 1414.2,1111.4 1415.3,1111.4 1416.3,1111.4 1417.3,1111.5 1418.3,1111.5 1419.3,1111.5 1420.3,1111.5 1421.3,1111.5 1422.3,1111.5 1423.4,1111.5 1424.4,1111.5 1425.4,1111.5 1426.4,1111.5" stroke="#A674DC" stroke-width="3.3" stroke-dasharray="9.3 9.6 0 9.6" stroke-linecap="round"/>
<polyline points="818.4,1108.3 819.2,1108.2 819.9,1108.2 820.7,1108.1 821.4,1108.1 822.2,1108.0 823.0,1107.9 823.7,1107.8 824.5,1107.7 825.2,1107.5 826.0,1107.3 826.8,1107.1 827.5,1106.8 828.3,1106.5 829.0,1106.3 829.8,1105.9 830.6,1105.6 831.3,1105.3 832.1,1104.9 832.8,1104.6 833.6,1104.2 834.4,1103.9 835.1,1103.5 835.9,1103.1 836.6,1102.7 837.4,1102.4 838.2,1102.0 838.9,1101.6 839.7,1101.3 840.4,1100.9 841.2,1100.6 842.0,1100.2 842.7,1099.9 843.5,1099.6 844.2,1099.4 845.0,1099.1 845.8,1098.9 846.5,1098.7 847.3,1098.5 848.0,1098.3 848.8,1098.2 849.6,1098.1 850.3,1098.0 851.1,1097.9 851.8,1097.8 852.6,1097.7 853.4,1097.6 854.1,1097.5 854.9,1097.4 855.6,1097.3 856.4,1097.2 857.2,1097.0 857.9,1096.9 858.7,1096.8 859.4,1096.7 860.2,1096.6 861.0,1096.5 861.7,1096.3 862.5,1096.2 863.2,1096.1 864.0,1096.0 864.8,1095.8 865.5,1095.7 866.3,1095.6 867.0,1095.4 867.8,1095.3 868.6,1095.1 869.3,1095.0 870.1,1094.9 870.8,1094.7 871.6,1094.5 872.4,1094.4 873.1,1094.2 873.9,1094.1 874.6,1093.9 875.4,1093.7 876.2,1093.6 876.9,1093.4 877.7,1093.2 878.4,1093.0 879.2,1092.8 880.0,1092.6 880.7,1092.5 881.5,1092.3 882.2,1092.1 883.0,1091.9 883.8,1091.8 884.5,1091.6 885.3,1091.4 886.0,1091.3 886.8,1091.2 887.6,1091.0 888.3,1090.9 889.1,1090.7 889.8,1090.6 890.6,1090.5 891.4,1090.3 892.1,1090.2 892.9,1090.1 893.6,1089.9 894.4,1089.8 895.2,1089.7 895.9,1089.5 896.7,1089.4 897.4,1089.2 898.2,1089.1 899.0,1088.9 899.7,1088.8 900.5,1088.6 901.2,1088.4 902.0,1088.3 902.8,1088.1 903.5,1087.9 904.3,1087.7 905.0,1087.5 905.8,1087.2 906.6,1087.0 907.3,1086.7 908.1,1086.5 908.8,1086.2 909.6,1085.9 910.4,1085.6 911.1,1085.3 911.9,1085.0 912.6,1084.6 913.4,1084.2 914.2,1083.8 914.9,1083.4 915.7,1083.0 916.4,1082.6 917.2,1082.1 918.0,1081.6 918.7,1081.2 919.5,1080.7 920.2,1080.2 921.0,1079.6 921.8,1079.1 922.5,1078.6 923.3,1078.1 924.0,1077.5 924.8,1077.0 925.6,1076.4 926.3,1075.9 927.1,1075.3 927.8,1074.8 928.6,1074.2 929.4,1073.7 930.1,1073.1 930.9,1072.6 931.6,1072.0 932.4,1071.5 933.2,1071.0 933.9,1070.5 934.7,1070.0 935.4,1069.5 936.2,1069.0 937.0,1068.6 937.7,1068.1 938.5,1067.6 939.2,1067.1 940.0,1066.7 940.8,1066.2 941.5,1065.7 942.3,1065.3 943.0,1064.8 943.8,1064.3 944.6,1063.9 945.3,1063.4 946.1,1063.0 946.8,1062.6 947.6,1062.1 948.4,1061.7 949.1,1061.2 949.9,1060.8 950.6,1060.4 951.4,1059.9 952.2,1059.5 952.9,1059.1 953.7,1058.6 954.4,1058.2 955.2,1057.8 956.0,1057.3 956.7,1056.9 957.5,1056.4 958.2,1056.0 959.0,1055.5 959.8,1055.0 960.5,1054.6 961.3,1054.1 962.0,1053.6 962.8,1053.1 963.6,1052.6 964.3,1052.0 965.1,1051.5 965.8,1050.9 966.6,1050.4 967.4,1049.8 968.1,1049.2 968.9,1048.5 969.6,1047.9 970.4,1047.2 971.2,1046.5 971.9,1045.8 972.7,1045.0 973.4,1044.2 974.2,1043.4 975.0,1042.6 975.7,1041.7 976.5,1040.8 977.2,1039.8 978.0,1038.8 978.8,1037.8 979.5,1036.7 980.3,1035.6 981.0,1034.5 981.8,1033.3 982.6,1032.0 983.3,1030.8 984.1,1029.4 984.8,1028.0 985.6,1026.6 986.4,1025.1 987.1,1023.6 987.9,1021.9 988.6,1019.8 989.4,1017.4 990.2,1014.9 990.9,1012.1 991.7,1009.3 992.4,1006.5 993.2,1003.6 994.0,1000.8 994.7,998.1 995.5,995.6 996.2,993.3 997.0,991.3 997.8,989.4 998.5,987.5 999.3,985.6 1000.0,983.8 1000.8,982.0 1001.6,980.3 1002.3,978.6 1003.1,976.9 1003.8,975.3 1004.6,973.8 1005.4,972.4 1006.1,971.0 1006.9,969.7 1007.6,968.5 1008.4,967.6 1009.2,966.9 1009.9,966.2 1010.7,965.7 1011.4,965.3 1012.2,965.0 1013.0,964.7 1013.7,964.4 1014.5,964.1 1015.2,963.8 1016.0,963.4 1016.8,962.9 1017.5,962.4 1018.3,962.0 1019.0,961.6 1019.8,961.1 1020.6,960.7 1021.3,960.2 1022.1,959.7 1022.8,959.2 1023.6,958.6 1024.4,958.0 1025.1,957.3 1025.9,956.5 1026.6,955.7 1027.4,954.8 1028.2,953.8 1028.9,952.8 1029.7,951.7 1030.4,950.4 1031.2,948.9 1032.0,947.3 1032.7,945.4 1033.5,943.4 1034.2,941.3 1035.0,939.1 1035.8,936.8 1036.5,934.4 1037.3,932.0 1038.0,929.5 1038.8,927.1 1039.6,924.7 1040.3,922.3 1041.1,920.0 1041.8,917.8 1042.6,915.7 1043.4,913.7 1044.1,911.8 1044.9,910.0 1045.6,908.3 1046.4,906.6 1047.2,905.0 1047.9,903.5 1048.7,902.0 1049.4,900.5 1050.2,899.1 1051.0,897.6 1051.7,896.1 1052.5,894.7 1053.2,893.2 1054.0,891.7 1054.8,890.2 1055.5,888.6 1056.3,887.0 1057.0,885.3 1057.8,883.6 1058.6,881.7 1059.3,879.9 1060.1,878.0 1060.8,876.2 1061.6,874.5 1062.4,872.7 1063.1,871.0 1063.9,869.3 1064.6,867.6 1065.4,865.8 1066.2,864.1 1066.9,862.3 1067.7,860.4 1068.4,858.5 1069.2,856.5 1070.0,854.5 1070.7,852.3 1071.5,850.1 1072.2,847.8 1073.0,845.4 1073.8,843.0 1074.5,840.6 1075.3,838.1 1076.0,835.7 1076.8,833.4 1077.6,831.0 1078.3,828.8 1079.1,826.5 1079.8,824.4 1080.6,822.3 1081.4,820.3 1082.1,818.4 1082.9,816.7 1083.6,815.0 1084.4,813.4 1085.2,811.9 1085.9,810.5 1086.7,809.1 1087.4,807.8 1088.2,806.5 1089.0,805.3 1089.7,804.2 1090.5,803.2 1091.2,802.3 1092.0,801.4 1092.8,800.7 1093.5,800.0 1094.3,799.5 1095.0,799.0 1095.8,798.7 1096.6,798.4 1097.3,798.2 1098.1,798.0 1098.8,797.9 1099.6,797.9 1100.4,797.8 1101.1,797.9 1101.9,798.0 1102.6,798.2 1103.4,798.5 1104.2,798.9 1104.9,799.4 1105.7,800.0 1106.4,801.0 1107.2,802.4 1108.0,804.2 1108.7,806.3 1109.5,808.7 1110.2,811.4 1111.0,814.3 1111.8,817.5 1112.5,820.7 1113.3,824.2 1114.0,827.7 1114.8,831.2 1115.6,834.7 1116.3,838.3 1117.1,841.7 1117.8,845.2 1118.6,849.0 1119.4,853.0 1120.1,857.1 1120.9,861.2 1121.6,865.3 1122.4,869.4 1123.2,873.3 1123.9,876.9 1124.7,880.2 1125.4,883.2 1126.2,885.7 1127.0,888.0 1127.7,890.1 1128.5,892.0 1129.2,893.7 1130.0,895.2 1130.8,896.7 1131.5,898.0 1132.3,899.3 1133.0,900.5 1133.8,901.6 1134.6,902.7 1135.3,903.9 1136.1,905.0 1136.8,906.3 1137.6,907.5 1138.4,908.9 1139.1,910.1 1139.9,911.3 1140.6,912.5 1141.4,913.5 1142.2,914.5 1142.9,915.5 1143.7,916.4 1144.4,917.4 1145.2,918.3 1146.0,919.1 1146.7,920.0 1147.5,920.9 1148.2,921.8 1149.0,922.8 1149.8,923.7 1150.5,924.7 1151.3,925.7 1152.0,926.6 1152.8,927.5 1153.6,928.4 1154.3,929.3 1155.1,930.1 1155.8,930.8 1156.6,931.6 1157.4,932.3 1158.1,933.0 1158.9,933.6 1159.6,934.2 1160.4,934.8 1161.2,935.3 1161.9,935.8 1162.7,936.3 1163.4,936.8 1164.2,937.2 1165.0,937.7 1165.7,938.2 1166.5,938.6 1167.2,939.1 1168.0,939.5 1168.8,940.0 1169.5,940.4 1170.3,940.9 1171.0,941.3 1171.8,941.7 1172.6,942.1 1173.3,942.5 1174.1,942.9 1174.8,943.3 1175.6,943.6 1176.4,943.9 1177.1,944.1 1177.9,944.2 1178.6,944.3 1179.4,944.2 1180.2,944.1 1180.9,943.8 1181.7,943.5 1182.4,943.1 1183.2,942.5 1184.0,941.8 1184.7,940.9 1185.5,939.9 1186.2,938.8 1187.0,937.4 1187.8,935.9 1188.5,934.2 1189.3,932.3 1190.0,930.1 1190.8,927.6 1191.6,924.7 1192.3,921.5 1193.1,918.0 1193.8,914.1 1194.6,910.0 1195.4,905.5 1196.1,900.6 1196.9,895.5 1197.6,890.0 1198.4,884.2 1199.2,878.2 1199.9,871.8 1200.7,864.9 1201.4,857.7 1202.2,850.0 1203.0,841.9 1203.7,833.4 1204.5,824.5 1205.2,815.3 1206.0,805.8 1206.8,796.1 1207.5,786.2 1208.3,777.0 1209.0,768.7 1209.8,761.1 1210.6,753.9 1211.3,747.1 1212.1,740.5 1212.8,733.8 1213.6,726.9 1214.4,719.6 1215.1,711.6 1215.9,703.2 1216.6,695.0 1217.4,687.3 1218.2,679.9 1218.9,672.9 1219.7,666.4 1220.4,660.3 1221.2,654.9 1222.0,650.1 1222.7,646.5 1223.5,644.5 1224.2,643.9 1225.0,644.7 1225.8,646.8 1226.5,650.1 1227.3,654.4 1228.0,659.8 1228.8,666.3 1229.6,674.1 1230.3,683.4 1231.1,694.1 1231.8,706.1 1232.6,719.5 1233.4,734.2 1234.1,749.6 1234.9,765.3 1235.6,781.1 1236.4,796.7 1237.2,812.0 1237.9,826.8 1238.7,841.0 1239.4,854.5 1240.2,867.0 1241.0,878.5 1241.7,889.3 1242.5,899.2 1243.2,908.5 1244.0,917.2 1244.8,925.4 1245.5,933.2 1246.3,940.7 1247.0,948.1 1247.8,955.1 1248.6,961.7 1249.3,967.9 1250.1,973.7 1250.8,979.0 1251.6,984.0 1252.4,988.7 1253.1,993.1 1253.9,997.1 1254.6,1000.9 1255.4,1004.5 1256.2,1007.8 1256.9,1010.9 1257.7,1013.8 1258.4,1016.6 1259.2,1019.4 1260.0,1022.0 1260.7,1024.6 1261.5,1027.1 1262.2,1029.5 1263.0,1031.9 1263.8,1034.1 1264.5,1036.3 1265.3,1038.4 1266.0,1040.4 1266.8,1042.4 1267.6,1044.2 1268.3,1045.9 1269.1,1047.6 1269.8,1049.1 1270.6,1050.4 1271.4,1051.7 1272.1,1053.0 1272.9,1054.1 1273.6,1055.3 1274.4,1056.4 1275.2,1057.5 1275.9,1058.5 1276.7,1059.5 1277.4,1060.5 1278.2,1061.4 1279.0,1062.3 1279.7,1063.2 1280.5,1064.0 1281.2,1064.9 1282.0,1065.7 1282.8,1066.4 1283.5,1067.2 1284.3,1067.9 1285.0,1068.6 1285.8,1069.3 1286.6,1069.9 1287.3,1070.6 1288.1,1071.2 1288.8,1071.8 1289.6,1072.4 1290.4,1072.9 1291.1,1073.5 1291.9,1074.0 1292.6,1074.5 1293.4,1075.0 1294.2,1075.5 1294.9,1076.0 1295.7,1076.5 1296.4,1077.0 1297.2,1077.4 1298.0,1077.9 1298.7,1078.3 1299.5,1078.7 1300.2,1079.2 1301.0,1079.6 1301.8,1080.0 1302.5,1080.4 1303.3,1080.8 1304.0,1081.1 1304.8,1081.5 1305.6,1081.9 1306.3,1082.3 1307.1,1082.6 1307.8,1082.9 1308.6,1083.3 1309.4,1083.6 1310.1,1083.9 1310.9,1084.2 1311.6,1084.6 1312.4,1084.9 1313.2,1085.1 1313.9,1085.4 1314.7,1085.7 1315.4,1086.0 1316.2,1086.2 1317.0,1086.5 1317.7,1086.7 1318.5,1087.0 1319.2,1087.2 1320.0,1087.4 1320.8,1087.6 1321.5,1087.8 1322.3,1088.0 1323.0,1088.2 1323.8,1088.4 1324.6,1088.5 1325.3,1088.7 1326.1,1088.9 1326.8,1089.0 1327.6,1089.2 1328.4,1089.3 1329.1,1089.5 1329.9,1089.6 1330.6,1089.8 1331.4,1089.9 1332.2,1090.1 1332.9,1090.2 1333.7,1090.3 1334.4,1090.5 1335.2,1090.6 1336.0,1090.7 1336.7,1090.9 1337.5,1091.0 1338.2,1091.1 1339.0,1091.2 1339.8,1091.3 1340.5,1091.5 1341.3,1091.6 1342.0,1091.7 1342.8,1091.8 1343.6,1091.9 1344.3,1092.0 1345.1,1092.1 1345.8,1092.2 1346.6,1092.4 1347.4,1092.5 1348.1,1092.6 1348.9,1092.7 1349.6,1092.8 1350.4,1092.9 1351.2,1093.0 1351.9,1093.1 1352.7,1093.1 1353.4,1093.2 1354.2,1093.3 1355.0,1093.4 1355.7,1093.5 1356.5,1093.6 1357.2,1093.7 1358.0,1093.8 1358.8,1093.9 1359.5,1094.0 1360.3,1094.1 1361.0,1094.1 1361.8,1094.2 1362.6,1094.3 1363.3,1094.4 1364.1,1094.5 1364.8,1094.6 1365.6,1094.6 1366.4,1094.7 1367.1,1094.8 1367.9,1094.9 1368.6,1095.0 1369.4,1095.1 1370.2,1095.1 1370.9,1095.2 1371.7,1095.3 1372.4,1095.4 1373.2,1095.5 1374.0,1095.5 1374.7,1095.6 1375.5,1095.7 1376.2,1095.8 1377.0,1095.8 1377.8,1095.9 1378.5,1096.0 1379.3,1096.1 1380.0,1096.1 1380.8,1096.2 1381.6,1096.3 1382.3,1096.4 1383.1,1096.4 1383.8,1096.5 1384.6,1096.6 1385.4,1096.7 1386.1,1096.7 1386.9,1096.8 1387.6,1096.9 1388.4,1097.0 1389.2,1097.0 1389.9,1097.1 1390.7,1097.2 1391.4,1097.3 1392.2,1097.3 1393.0,1097.4 1393.7,1097.5 1394.5,1097.5 1395.2,1097.6 1396.0,1097.7 1396.8,1097.8 1397.5,1097.8 1398.3,1097.9 1399.0,1098.0 1399.8,1098.0 1400.6,1098.1 1401.3,1098.2 1402.1,1098.3 1402.8,1098.3 1403.6,1098.4 1404.4,1098.5 1405.1,1098.6 1405.9,1098.7 1406.6,1098.8 1407.4,1098.9 1408.2,1099.0 1408.9,1099.2 1409.7,1099.4 1410.4,1099.5 1411.2,1099.7 1412.0,1099.9 1412.7,1100.0 1413.5,1100.2 1414.2,1100.4 1415.0,1100.6 1415.8,1100.8 1416.5,1100.9 1417.3,1101.1 1418.0,1101.3 1418.8,1101.4 1419.6,1101.6 1420.3,1101.7 1421.1,1101.9 1421.8,1102.0 1422.6,1102.1 1423.4,1102.2 1424.1,1102.3 1424.9,1102.3 1425.6,1102.4 1426.4,1102.4" stroke="#FF0A84" stroke-width="2.6"/>
<polyline points="818.4,1093.1 819.2,1094.6 820.0,1109.0 820.8,1112.4 821.6,1101.0 822.5,1095.7 823.3,1101.2 824.1,1109.1 824.9,1103.0 825.7,1090.9 826.5,1108.0 827.3,1092.8 828.1,1095.8 828.9,1095.7 829.7,1093.6 830.6,1101.4 831.4,1098.4 832.2,1086.2 833.0,1099.3 833.8,1099.1 834.6,1104.8 835.4,1098.6 836.2,1090.8 837.0,1087.2 837.9,1090.5 838.7,1090.3 839.5,1090.2 840.3,1091.3 841.1,1086.8 841.9,1093.6 842.7,1085.8 843.5,1092.5 844.3,1101.6 845.2,1099.4 846.0,1092.5 846.8,1093.9 847.6,1098.4 848.4,1095.5 849.2,1089.5 850.0,1088.1 850.8,1085.3 851.6,1095.7 852.4,1088.0 853.3,1083.8 854.1,1087.9 854.9,1079.2 855.7,1092.8 856.5,1089.9 857.3,1088.6 858.1,1092.1 858.9,1089.8 859.7,1088.0 860.6,1089.5 861.4,1092.3 862.2,1091.9 863.0,1089.5 863.8,1098.3 864.6,1087.7 865.4,1095.4 866.2,1090.2 867.0,1095.2 867.9,1087.8 868.7,1090.6 869.5,1089.8 870.3,1092.6 871.1,1087.3 871.9,1078.2 872.7,1098.8 873.5,1084.6 874.3,1086.2 875.1,1089.8 876.0,1095.1 876.8,1077.7 877.6,1086.0 878.4,1081.0 879.2,1089.2 880.0,1091.5 880.8,1080.1 881.6,1082.1 882.4,1088.4 883.3,1087.8 884.1,1082.6 884.9,1091.2 885.7,1091.4 886.5,1086.5 887.3,1080.1 888.1,1081.0 888.9,1085.0 889.7,1078.0 890.5,1087.1 891.4,1089.1 892.2,1071.9 893.0,1089.1 893.8,1082.5 894.6,1082.7 895.4,1085.4 896.2,1084.7 897.0,1081.9 897.8,1082.7 898.7,1089.6 899.5,1086.0 900.3,1077.6 901.1,1081.5 901.9,1088.5 902.7,1085.5 903.5,1091.8 904.3,1093.6 905.1,1088.9 906.0,1075.9 906.8,1089.3 907.6,1097.4 908.4,1085.9 909.2,1089.3 910.0,1080.5 910.8,1077.3 911.6,1086.6 912.4,1083.7 913.2,1089.6 914.1,1076.6 914.9,1088.1 915.7,1083.2 916.5,1068.7 917.3,1088.4 918.1,1081.5 918.9,1082.5 919.7,1079.0 920.5,1078.6 921.4,1072.1 922.2,1077.8 923.0,1076.7 923.8,1087.5 924.6,1077.2 925.4,1087.3 926.2,1071.5 927.0,1078.8 927.8,1072.2 928.7,1080.7 929.5,1075.9 930.3,1076.4 931.1,1073.2 931.9,1076.8 932.7,1079.4 933.5,1077.7 934.3,1079.0 935.1,1080.4 935.9,1081.8 936.8,1083.0 937.6,1062.2 938.4,1077.9 939.2,1079.8 940.0,1066.6 940.8,1070.6 941.6,1072.7 942.4,1064.6 943.2,1059.8 944.1,1076.0 944.9,1061.7 945.7,1066.5 946.5,1062.5 947.3,1072.4 948.1,1058.5 948.9,1061.2 949.7,1083.7 950.5,1059.6 951.3,1058.7 952.2,1074.9 953.0,1063.9 953.8,1066.5 954.6,1063.6 955.4,1069.7 956.2,1059.9 957.0,1058.8 957.8,1063.3 958.6,1062.6 959.5,1072.1 960.3,1057.6 961.1,1068.1 961.9,1059.5 962.7,1063.8 963.5,1042.2 964.3,1057.5 965.1,1047.3 965.9,1056.2 966.8,1055.5 967.6,1049.9 968.4,1053.8 969.2,1038.3 970.0,1053.0 970.8,1040.9 971.6,1057.4 972.4,1054.7 973.2,1044.0 974.0,1055.6 974.9,1033.7 975.7,1041.5 976.5,1043.2 977.3,1031.5 978.1,1044.5 978.9,1044.7 979.7,1054.9 980.5,1049.5 981.3,1037.8 982.2,1047.5 983.0,1028.2 983.8,1025.2 984.6,1026.9 985.4,1038.3 986.2,1031.7 987.0,1033.2 987.8,1018.0 988.6,1013.5 989.5,1018.8 990.3,1014.0 991.1,1009.8 991.9,1003.2 992.7,1010.4 993.5,1007.4 994.3,993.0 995.1,991.6 995.9,988.9 996.7,989.1 997.6,982.0 998.4,981.5 999.2,986.1 1000.0,968.6 1000.8,970.3 1001.6,976.7 1002.4,973.5 1003.2,975.3 1004.0,977.6 1004.9,973.2 1005.7,973.7 1006.5,966.6 1007.3,958.4 1008.1,959.3 1008.9,967.1 1009.7,957.7 1010.5,959.6 1011.3,961.8 1012.1,946.4 1013.0,960.0 1013.8,946.5 1014.6,963.1 1015.4,949.5 1016.2,955.3 1017.0,943.6 1017.8,946.8 1018.6,954.2 1019.4,944.3 1020.3,939.7 1021.1,939.0 1021.9,937.7 1022.7,949.5 1023.5,932.4 1024.3,950.3 1025.1,947.0 1025.9,955.9 1026.7,946.6 1027.6,954.3 1028.4,943.3 1029.2,955.1 1030.0,930.1 1030.8,936.2 1031.6,929.8 1032.4,931.2 1033.2,936.4 1034.0,932.5 1034.8,932.5 1035.7,944.5 1036.5,937.7 1037.3,930.2 1038.1,919.0 1038.9,932.5 1039.7,919.6 1040.5,922.6 1041.3,911.5 1042.1,909.3 1043.0,919.7 1043.8,918.6 1044.6,899.0 1045.4,900.1 1046.2,905.9 1047.0,898.4 1047.8,902.3 1048.6,897.9 1049.4,902.4 1050.3,894.5 1051.1,885.2 1051.9,885.2 1052.7,885.0 1053.5,891.4 1054.3,884.0 1055.1,892.1 1055.9,889.5 1056.7,884.7 1057.5,891.5 1058.4,880.6 1059.2,892.0 1060.0,866.6 1060.8,870.2 1061.6,872.1 1062.4,877.3 1063.2,874.7 1064.0,871.4 1064.8,878.4 1065.7,867.8 1066.5,869.3 1067.3,854.9 1068.1,849.3 1068.9,846.4 1069.7,864.0 1070.5,861.8 1071.3,839.4 1072.1,841.3 1072.9,836.7 1073.8,836.6 1074.6,836.9 1075.4,820.5 1076.2,826.6 1077.0,825.1 1077.8,834.4 1078.6,823.2 1079.4,811.8 1080.2,814.7 1081.1,809.5 1081.9,814.9 1082.7,805.9 1083.5,812.8 1084.3,807.7 1085.1,796.3 1085.9,789.5 1086.7,802.1 1087.5,799.2 1088.4,797.4 1089.2,795.1 1090.0,791.8 1090.8,783.8 1091.6,786.2 1092.4,787.4 1093.2,782.9 1094.0,798.2 1094.8,785.4 1095.6,769.0 1096.5,790.8 1097.3,768.3 1098.1,780.7 1098.9,775.1 1099.7,784.5 1100.5,790.5 1101.3,771.7 1102.1,800.9 1102.9,791.0 1103.8,790.7 1104.6,803.3 1105.4,777.3 1106.2,774.4 1107.0,801.9 1107.8,796.3 1108.6,797.9 1109.4,794.2 1110.2,804.3 1111.1,802.5 1111.9,807.2 1112.7,815.8 1113.5,818.7 1114.3,813.2 1115.1,826.4 1115.9,827.3 1116.7,836.4 1117.5,835.2 1118.3,833.0 1119.2,848.6 1120.0,857.3 1120.8,863.9 1121.6,856.1 1122.4,873.3 1123.2,868.9 1124.0,858.4 1124.8,878.4 1125.6,870.5 1126.5,885.7 1127.3,888.9 1128.1,886.4 1128.9,898.6 1129.7,911.2 1130.5,896.2 1131.3,902.4 1132.1,897.3 1132.9,886.4 1133.7,897.0 1134.6,913.2 1135.4,900.8 1136.2,917.4 1137.0,921.5 1137.8,892.9 1138.6,915.6 1139.4,925.8 1140.2,912.3 1141.0,914.3 1141.9,910.8 1142.7,916.2 1143.5,917.5 1144.3,911.2 1145.1,919.2 1145.9,924.1 1146.7,917.4 1147.5,924.7 1148.3,914.3 1149.2,922.6 1150.0,925.1 1150.8,927.9 1151.6,921.8 1152.4,919.9 1153.2,929.9 1154.0,944.0 1154.8,924.3 1155.6,935.7 1156.4,927.1 1157.3,936.3 1158.1,930.0 1158.9,935.2 1159.7,939.6 1160.5,943.7 1161.3,936.0 1162.1,934.8 1162.9,947.6 1163.7,953.5 1164.6,935.5 1165.4,922.8 1166.2,943.8 1167.0,940.6 1167.8,946.7 1168.6,948.5 1169.4,930.0 1170.2,951.9 1171.0,939.4 1171.9,946.7 1172.7,938.0 1173.5,931.7 1174.3,941.8 1175.1,945.3 1175.9,936.1 1176.7,945.9 1177.5,956.8 1178.3,934.8 1179.1,947.6 1180.0,942.5 1180.8,928.4 1181.6,937.0 1182.4,940.7 1183.2,930.8 1184.0,947.7 1184.8,952.1 1185.6,947.4 1186.4,937.6 1187.3,935.2 1188.1,939.8 1188.9,918.3 1189.7,925.3 1190.5,927.1 1191.3,930.3 1192.1,922.6 1192.9,916.5 1193.7,917.0 1194.5,889.7 1195.4,893.2 1196.2,895.4 1197.0,894.4 1197.8,901.0 1198.6,874.8 1199.4,880.8 1200.2,861.2 1201.0,858.3 1201.8,862.9 1202.7,844.5 1203.5,837.4 1204.3,828.3 1205.1,817.5 1205.9,806.1 1206.7,798.1 1207.5,779.7 1208.3,772.0 1209.1,768.5 1210.0,760.5 1210.8,754.3 1211.6,747.6 1212.4,738.8 1213.2,728.6 1214.0,725.1 1214.8,729.3 1215.6,705.1 1216.4,704.0 1217.2,688.8 1218.1,660.8 1218.9,664.9 1219.7,685.3 1220.5,674.0 1221.3,645.9 1222.1,655.4 1222.9,640.7 1223.7,658.0 1224.5,645.1 1225.4,651.9 1226.2,648.4 1227.0,654.9 1227.8,657.5 1228.6,667.7 1229.4,678.8 1230.2,676.2 1231.0,680.8 1231.8,712.8 1232.7,721.6 1233.5,720.3 1234.3,761.0 1235.1,777.9 1235.9,782.1 1236.7,796.0 1237.5,819.0 1238.3,825.9 1239.1,849.9 1239.9,861.2 1240.8,875.6 1241.6,884.7 1242.4,897.7 1243.2,897.5 1244.0,911.9 1244.8,914.3 1245.6,935.0 1246.4,947.4 1247.2,954.1 1248.1,960.0 1248.9,961.9 1249.7,973.4 1250.5,974.5 1251.3,979.1 1252.1,994.8 1252.9,1001.2 1253.7,987.4 1254.5,1004.6 1255.3,991.6 1256.2,1009.7 1257.0,1020.0 1257.8,1021.8 1258.6,1022.3 1259.4,1002.7 1260.2,1035.1 1261.0,1040.9 1261.8,1034.2 1262.6,1030.3 1263.5,1018.6 1264.3,1028.8 1265.1,1044.0 1265.9,1029.7 1266.7,1033.6 1267.5,1048.2 1268.3,1042.0 1269.1,1045.1 1269.9,1050.1 1270.8,1053.5 1271.6,1055.6 1272.4,1050.3 1273.2,1057.8 1274.0,1050.1 1274.8,1052.4 1275.6,1068.3 1276.4,1056.4 1277.2,1061.2 1278.0,1056.1 1278.9,1064.4 1279.7,1055.5 1280.5,1058.6 1281.3,1059.0 1282.1,1061.7 1282.9,1075.3 1283.7,1067.6 1284.5,1061.0 1285.3,1063.0 1286.2,1065.6 1287.0,1070.3 1287.8,1071.2 1288.6,1080.1 1289.4,1083.5 1290.2,1073.9 1291.0,1068.0 1291.8,1075.5 1292.6,1077.8 1293.5,1076.1 1294.3,1067.0 1295.1,1079.9 1295.9,1077.0 1296.7,1074.8 1297.5,1070.7 1298.3,1075.3 1299.1,1081.6 1299.9,1082.0 1300.7,1086.5 1301.6,1081.0 1302.4,1074.0 1303.2,1079.5 1304.0,1083.7 1304.8,1088.3 1305.6,1084.0 1306.4,1077.3 1307.2,1078.6 1308.0,1080.0 1308.9,1077.8 1309.7,1075.8 1310.5,1082.6 1311.3,1080.2 1312.1,1096.6 1312.9,1080.7 1313.7,1087.3 1314.5,1083.8 1315.3,1091.5 1316.1,1087.7 1317.0,1093.3 1317.8,1087.0 1318.6,1093.3 1319.4,1080.5 1320.2,1089.2 1321.0,1086.5 1321.8,1091.6 1322.6,1088.7 1323.4,1092.5 1324.3,1093.6 1325.1,1085.4 1325.9,1092.9 1326.7,1096.0 1327.5,1091.4 1328.3,1075.1 1329.1,1082.7 1329.9,1087.9 1330.7,1087.8 1331.6,1087.8 1332.4,1087.2 1333.2,1075.6 1334.0,1080.6 1334.8,1089.2 1335.6,1101.1 1336.4,1096.3 1337.2,1089.1 1338.0,1093.6 1338.8,1088.2 1339.7,1092.9 1340.5,1088.1 1341.3,1088.5 1342.1,1094.3 1342.9,1099.5 1343.7,1093.5 1344.5,1096.1 1345.3,1097.6 1346.1,1091.4 1347.0,1084.6 1347.8,1094.4 1348.6,1094.7 1349.4,1099.1 1350.2,1090.8 1351.0,1091.1 1351.8,1091.5 1352.6,1083.2 1353.4,1091.2 1354.3,1086.6 1355.1,1095.2 1355.9,1090.8 1356.7,1098.6 1357.5,1088.5 1358.3,1084.5 1359.1,1099.3 1359.9,1098.7 1360.7,1092.0 1361.5,1093.8 1362.4,1088.5 1363.2,1110.5 1364.0,1097.6 1364.8,1091.0 1365.6,1092.8 1366.4,1101.1 1367.2,1090.0 1368.0,1093.7 1368.8,1094.5 1369.7,1096.2 1370.5,1095.5 1371.3,1091.2 1372.1,1103.6 1372.9,1116.2 1373.7,1091.3 1374.5,1110.4 1375.3,1094.1 1376.1,1095.3 1376.9,1093.4 1377.8,1102.5 1378.6,1092.2 1379.4,1097.7 1380.2,1098.9 1381.0,1097.5 1381.8,1101.3 1382.6,1086.0 1383.4,1100.2 1384.2,1096.3 1385.1,1098.5 1385.9,1095.2 1386.7,1096.2 1387.5,1098.4 1388.3,1096.4 1389.1,1095.7 1389.9,1095.4 1390.7,1090.3 1391.5,1097.5 1392.4,1097.6 1393.2,1093.9 1394.0,1098.0 1394.8,1094.7 1395.6,1093.6 1396.4,1111.1 1397.2,1096.8 1398.0,1100.1 1398.8,1107.4 1399.6,1105.5 1400.5,1106.6 1401.3,1091.6 1402.1,1090.8 1402.9,1097.7 1403.7,1098.7 1404.5,1105.0 1405.3,1085.3 1406.1,1089.0 1406.9,1096.9 1407.8,1103.6 1408.6,1099.6 1409.4,1103.0 1410.2,1106.7 1411.0,1106.1 1411.8,1105.2 1412.6,1103.9 1413.4,1097.3 1414.2,1106.1 1415.1,1097.4 1415.9,1099.3 1416.7,1094.7 1417.5,1092.5 1418.3,1086.7 1419.1,1095.2 1419.9,1103.7 1420.7,1102.9 1421.5,1084.4 1422.3,1108.4 1423.2,1101.4 1424.0,1094.4 1424.8,1102.0 1425.6,1099.1 1426.4,1091.1" stroke="#000" stroke-width="3.7"/>
</g>
<rect x="818.40" y="622.70" width="608.00" height="489.60" fill="none" stroke="#000" stroke-width="3.3"/>
<path d="M869.07,1112.30v-5.0M869.07,622.70v5.0M919.73,1112.30v-10.2M919.73,622.70v10.2M970.40,1112.30v-5.0M970.40,622.70v5.0M1021.07,1112.30v-10.2M1021.07,622.70v10.2M1071.73,1112.30v-5.0M1071.73,622.70v5.0M1122.40,1112.30v-10.2M1122.40,622.70v10.2M1173.07,1112.30v-5.0M1173.07,622.70v5.0M1223.73,1112.30v-10.2M1223.73,622.70v10.2M1274.40,1112.30v-5.0M1274.40,622.70v5.0M1325.07,1112.30v-10.2M1325.07,622.70v10.2M1375.73,1112.30v-5.0M1375.73,622.70v5.0M818.40,1107.70h10.2M1426.40,1107.70h-10.2M818.40,1056.66h10.2M1426.40,1056.66h-10.2M818.40,1005.62h10.2M1426.40,1005.62h-10.2M818.40,954.58h10.2M1426.40,954.58h-10.2M818.40,903.54h10.2M1426.40,903.54h-10.2M818.40,852.50h10.2M1426.40,852.50h-10.2M818.40,801.46h10.2M1426.40,801.46h-10.2M818.40,750.42h10.2M1426.40,750.42h-10.2M818.40,699.38h10.2M1426.40,699.38h-10.2M818.40,648.34h10.2M1426.40,648.34h-10.2M818.40,1082.18h5.0M1426.40,1082.18h-5.0M818.40,1031.14h5.0M1426.40,1031.14h-5.0M818.40,980.10h5.0M1426.40,980.10h-5.0M818.40,929.06h5.0M1426.40,929.06h-5.0M818.40,878.02h5.0M1426.40,878.02h-5.0M818.40,826.98h5.0M1426.40,826.98h-5.0M818.40,775.94h5.0M1426.40,775.94h-5.0M818.40,724.90h5.0M1426.40,724.90h-5.0M818.40,673.86h5.0M1426.40,673.86h-5.0" stroke="#000" stroke-width="2.6" fill="none"/>
<g class="tl"><text x="818.40" y="1144.90" text-anchor="middle">800</text><text x="919.73" y="1144.90" text-anchor="middle">1000</text><text x="1021.07" y="1144.90" text-anchor="middle">1200</text><text x="1122.40" y="1144.90" text-anchor="middle">1400</text><text x="1223.73" y="1144.90" text-anchor="middle">1600</text><text x="1325.07" y="1144.90" text-anchor="middle">1800</text><text x="1426.40" y="1144.90" text-anchor="middle">2000</text><text x="808.45" y="1117.00" text-anchor="end">0</text><text x="808.45" y="1065.96" text-anchor="end">100</text><text x="808.45" y="1014.92" text-anchor="end">200</text><text x="808.45" y="963.88" text-anchor="end">300</text><text x="808.45" y="912.84" text-anchor="end">400</text><text x="808.45" y="861.80" text-anchor="end">500</text><text x="808.45" y="810.76" text-anchor="end">600</text><text x="808.45" y="759.72" text-anchor="end">700</text><text x="808.45" y="708.68" text-anchor="end">800</text><text x="808.45" y="657.64" text-anchor="end">900</text></g>
<text class="let" x="842.2" y="674.6">D</text>
<text class="rat" transform="translate(1265.5,700.0) scale(1,1.07)">I<tspan class="sub" dy="7.4">D</tspan><tspan dy="-7.4">/I</tspan><tspan class="sub" dy="7.4">G</tspan><tspan dy="-7.4">=1.459</tspan></text>
<text class="ttl" style="font-size:30px" x="1001.6" y="1196.6">Raman shift (cm<tspan class="sup" dy="-12.5">-1</tspan><tspan dy="12.5">)</tspan></text>
<text class="ttl" style="font-size:30px" transform="translate(754.4,867.3) rotate(-90)" text-anchor="middle">Intensity (a.u.)</text>
<text class="ann" style="font-size:30px" x="892.5" y="712.4">observed</text>
<text class="ann" style="font-size:30px" x="892.5" y="749.3">spectrum and</text>
<text class="ann" style="font-size:30px" x="892.5" y="786.6">curve fit</text>
<line x1="985.8" y1="794.3" x2="1060.7" y2="837.8" stroke="#000" stroke-width="3.6"/><polygon points="1078.9,848.3 1055.7,842.5 1062.3,831.1" fill="#000"/>
<line x1="968.9" y1="922.7" x2="1025.5" y2="965.9" stroke="#FF0000" stroke-width="3.6"/><polygon points="1042.2,978.6 1019.9,969.9 1027.9,959.4" fill="#FF0000"/>
<text class="ann" style="font-size:30px" x="951.0" y="919.6" fill="#FF0000">D1</text>
<line x1="926.6" y1="1036.9" x2="971.0" y2="1072.9" stroke="#000000" stroke-width="3.6"/><polygon points="987.3,1086.1 965.3,1076.7 973.6,1066.5" fill="#000000"/>
<text class="ann" style="font-size:30px" x="909.6" y="1029.0" fill="#000000">D4</text>
<line x1="1277.6" y1="845.1" x2="1252.6" y2="849.9" stroke="#A674DC" stroke-width="3.6"/><polygon points="1232.0,853.8 1253.4,843.0 1255.8,856.0" fill="#A674DC"/>
<text class="ann" style="font-size:30px" x="1281.9" y="850.2" fill="#A674DC">D2</text>
<line x1="1283.4" y1="948.3" x2="1242.6" y2="961.0" stroke="#2EA85E" stroke-width="3.6"/><polygon points="1222.6,967.3 1242.6,954.1 1246.5,966.7" fill="#2EA85E"/>
<text class="ann" style="font-size:30px" x="1286.2" y="955.9" fill="#2EA85E">G</text>
<line x1="1322.0" y1="1056.1" x2="1219.9" y2="1095.4" stroke="#1A66DD" stroke-width="3.6"/><polygon points="1200.3,1103.0 1219.4,1088.6 1224.1,1100.9" fill="#1A66DD"/>
<text class="ann" style="font-size:30px" x="1325.8" y="1059.9" fill="#1A66DD">D3</text>
</svg></body></html>
